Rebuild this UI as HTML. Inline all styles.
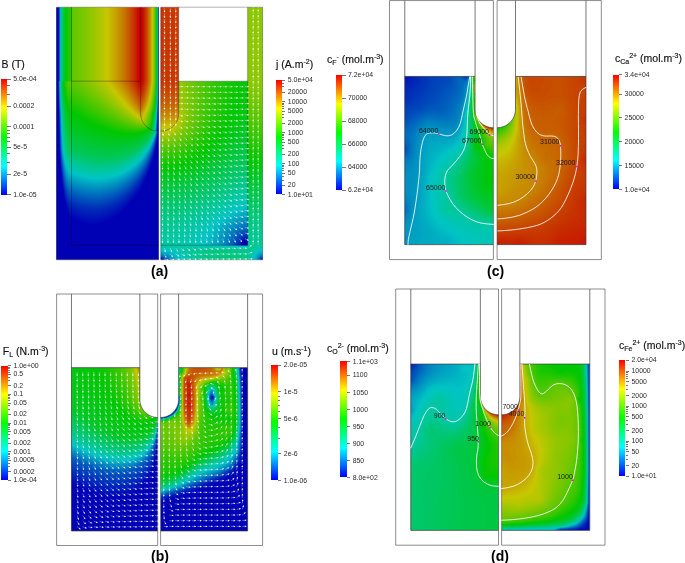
<!DOCTYPE html>
<html><head><meta charset="utf-8">
<style>
html,body{margin:0;padding:0;background:#fff;}
body{width:685px;height:563px;overflow:hidden;position:relative;font-family:"Liberation Sans",sans-serif;}
canvas{position:absolute;left:0;top:0;}
.t{position:absolute;white-space:nowrap;color:#2b2b2b;font-size:6.9px;line-height:1;}
.ti{position:absolute;white-space:nowrap;color:#111;font-size:10.5px;line-height:1;-webkit-text-stroke:0.15px #111;}
.ti sub{font-size:7px;vertical-align:-2px;}
.ti sup{font-size:7px;vertical-align:4px;}
.lab{position:absolute;font-weight:bold;font-size:14px;color:#000;line-height:1;}
.cb{position:absolute;background:linear-gradient(to bottom,#f00 0%,#ff0 25%,#0f0 50%,#0ff 75%,#00f 100%);}
.tk{position:absolute;height:0.9px;background:#777;}
</style></head><body>
<noscript><div style="position:absolute;left:0;top:0;width:685px;height:563px"><div style="position:absolute;left:0;top:0px;width:685px;height:9px;background:linear-gradient(to right,#ffffff 4px,#ffffff 49px,#d7e4eb 58px,#cdebcc 67px,#dcecca 76px,#e0ecca 85px,#e5ecca 94px,#eaecca 103px,#ece8ca 112px,#ece1ca 121px,#ecd7ca 130px,#ebccca 139px,#ecddca 148px,#dfe8d9 157px,#edd6cd 166px,#edd9d1 175px,#f6f6f6 184px,#f6f6f6 238px,#ebf0e0 247px,#e4eecd 256px,#f8faf4 265px,#ffffff 274px,#ffffff 382px,#eaeaea 391px,#e8e8e8 400px,#eeeeee 409px,#f2f2f2 418px,#f2f2f2 463px,#e4e4e4 472px,#f2f2f2 481px,#e8e8e8 490px,#e9e9e9 499px,#f2f2f2 508px,#e4e4e4 517px,#f2f2f2 526px,#f2f2f2 580px,#e4e4e4 589px,#e8e8e8 598px,#ffffff 607px,#ffffff 684px)"></div><div style="position:absolute;left:0;top:9px;width:685px;height:9px;background:linear-gradient(to right,#ffffff 4px,#ffffff 49px,#3f8cb5 58px,#12c00b 67px,#69c700 76px,#80c700 85px,#9bc700 94px,#bac600 103px,#c7af00 112px,#c78200 121px,#c74900 130px,#c00c00 139px,#c66c00 148px,#6fa74e 157px,#cd4e1e 166px,#cb5c31 175px,#ffffff 184px,#ffffff 238px,#c0dc7f 247px,#9acd1f 256px,#e3edcc 265px,#ffffff 274px,#ffffff 382px,#f2f2f2 391px,#f3f3f3 400px,#fbfbfb 409px,#ffffff 418px,#ffffff 463px,#efefef 472px,#ffffff 481px,#f2f2f2 490px,#f2f2f2 499px,#ffffff 508px,#efefef 517px,#ffffff 526px,#ffffff 580px,#efefef 589px,#f2f2f2 598px,#ffffff 607px,#ffffff 684px)"></div><div style="position:absolute;left:0;top:18px;width:685px;height:9px;background:linear-gradient(to right,#ffffff 4px,#ffffff 49px,#3f8cb5 58px,#12c00b 67px,#69c700 76px,#80c700 85px,#9bc700 94px,#bac600 103px,#c7af00 112px,#c78200 121px,#c74900 130px,#c00c00 139px,#c66c00 148px,#6fa74e 157px,#cb4816 166px,#ca582d 175px,#ffffff 184px,#ffffff 238px,#c0dc7f 247px,#97cc1a 256px,#e3edcc 265px,#ffffff 274px,#ffffff 382px,#f2f2f2 391px,#f3f3f3 400px,#fbfbfb 409px,#ffffff 418px,#ffffff 463px,#efefef 472px,#ffffff 481px,#f2f2f2 490px,#f2f2f2 499px,#ffffff 508px,#efefef 517px,#ffffff 526px,#ffffff 580px,#efefef 589px,#f2f2f2 598px,#ffffff 607px,#ffffff 684px)"></div><div style="position:absolute;left:0;top:27px;width:685px;height:9px;background:linear-gradient(to right,#ffffff 4px,#ffffff 49px,#3f8cb5 58px,#12c00b 67px,#69c700 76px,#80c700 85px,#9bc700 94px,#bac600 103px,#c7af00 112px,#c78200 121px,#c74900 130px,#c00c00 139px,#c66c00 148px,#6fa74e 157px,#cd4d1c 166px,#cb5b30 175px,#ffffff 184px,#ffffff 238px,#c0dc7f 247px,#98cd1c 256px,#e3edcc 265px,#ffffff 274px,#ffffff 382px,#f2f2f2 391px,#f3f3f3 400px,#fbfbfb 409px,#ffffff 418px,#ffffff 463px,#efefef 472px,#ffffff 481px,#f2f2f2 490px,#f2f2f2 499px,#ffffff 508px,#efefef 517px,#ffffff 526px,#ffffff 580px,#efefef 589px,#f2f2f2 598px,#ffffff 607px,#ffffff 684px)"></div><div style="position:absolute;left:0;top:36px;width:685px;height:9px;background:linear-gradient(to right,#ffffff 4px,#ffffff 49px,#3f8cb5 58px,#12c00b 67px,#69c700 76px,#80c700 85px,#9bc700 94px,#bac600 103px,#c7af00 112px,#c78200 121px,#c74900 130px,#c00c00 139px,#c66c00 148px,#6fa74e 157px,#cd4e1e 166px,#cb5c31 175px,#ffffff 184px,#ffffff 238px,#c0dc7f 247px,#99cd1e 256px,#e3edcc 265px,#ffffff 274px,#ffffff 382px,#f2f2f2 391px,#f3f3f3 400px,#fbfbfb 409px,#ffffff 418px,#ffffff 463px,#efefef 472px,#ffffff 481px,#f2f2f2 490px,#f2f2f2 499px,#ffffff 508px,#efefef 517px,#ffffff 526px,#ffffff 580px,#efefef 589px,#f2f2f2 598px,#ffffff 607px,#ffffff 684px)"></div><div style="position:absolute;left:0;top:45px;width:685px;height:9px;background:linear-gradient(to right,#ffffff 4px,#ffffff 49px,#3f8cb5 58px,#12c00b 67px,#69c700 76px,#80c700 85px,#9bc700 94px,#bac600 103px,#c7af00 112px,#c78200 121px,#c74900 130px,#c00c00 139px,#c66c00 148px,#6fa74e 157px,#cb4816 166px,#ca582d 175px,#ffffff 184px,#ffffff 238px,#c0dc7f 247px,#96cc17 256px,#e3edcc 265px,#ffffff 274px,#ffffff 382px,#f2f2f2 391px,#f3f3f3 400px,#fbfbfb 409px,#ffffff 418px,#ffffff 463px,#efefef 472px,#ffffff 481px,#f2f2f2 490px,#f2f2f2 499px,#ffffff 508px,#efefef 517px,#ffffff 526px,#ffffff 580px,#efefef 589px,#f2f2f2 598px,#ffffff 607px,#ffffff 616px,#fefefe 625px,#f7f7f7 634px,#ffffff 643px,#ffffff 661px,#fefefe 670px,#f9f9f9 679px,#ffffff 684px)"></div><div style="position:absolute;left:0;top:54px;width:685px;height:9px;background:linear-gradient(to right,#e6e6e6 4px,#ececec 13px,#e9e9e9 22px,#ffffff 31px,#ffffff 49px,#3f8cb5 58px,#12c00b 67px,#69c700 76px,#80c700 85px,#9bc700 94px,#bac600 103px,#c7af00 112px,#c78200 121px,#c74900 130px,#c00c00 139px,#c66c00 148px,#6fa74e 157px,#cd4d1c 166px,#cb5b30 175px,#ffffff 184px,#ffffff 238px,#c0dc7f 247px,#99cd1f 256px,#e3edcc 265px,#f8f8f8 274px,#eeeeee 283px,#f0f0f0 292px,#efefef 301px,#e6e6e6 310px,#ffffff 319px,#dcdcdc 328px,#ededed 337px,#bababa 346px,#c2c2c2 355px,#c9c9c9 364px,#cacaca 373px,#d7d7d7 382px,#f2f2f2 391px,#f3f3f3 400px,#fbfbfb 409px,#ffffff 418px,#ffffff 463px,#efefef 472px,#ffffff 481px,#f2f2f2 490px,#f2f2f2 499px,#ffffff 508px,#efefef 517px,#ffffff 526px,#ffffff 580px,#efefef 589px,#f2f2f2 598px,#ffffff 607px,#dbdbdb 616px,#dddddd 625px,#e6e6e6 634px,#c0c0c0 643px,#bfbfbf 652px,#c6c6c6 661px,#cfcfcf 670px,#d2d2d2 679px,#ffffff 684px)"></div><div style="position:absolute;left:0;top:63px;width:685px;height:9px;background:linear-gradient(to right,#d0d0d0 4px,#e3e3e3 13px,#dfdfdf 22px,#ffffff 31px,#ffffff 49px,#3f8cb5 58px,#12c00b 67px,#69c700 76px,#80c700 85px,#9bc700 94px,#bac600 103px,#c7af00 112px,#c78200 121px,#c74900 130px,#c00c00 139px,#c66c00 148px,#6fa74e 157px,#cd4e1e 166px,#cb5c31 175px,#ffffff 184px,#ffffff 238px,#c0dc7f 247px,#99cd1d 256px,#e3edcc 265px,#e7e7e7 274px,#d4d4d4 283px,#d3d3d3 292px,#dedede 301px,#e2e2e2 310px,#ffffff 319px,#fdfdfd 328px,#fbfbfb 337px,#f9f9f9 346px,#ffffff 355px,#ffffff 373px,#f9f9f9 382px,#f2f2f2 391px,#f3f3f3 400px,#fbfbfb 409px,#ffffff 418px,#ffffff 463px,#efefef 472px,#ffffff 481px,#f2f2f2 490px,#f2f2f2 499px,#ffffff 508px,#efefef 517px,#ffffff 526px,#ffffff 580px,#efefef 589px,#f2f2f2 598px,#ffffff 607px,#ffffff 616px,#f0f0f0 625px,#ffffff 634px,#fcfcfc 643px,#ffffff 652px,#ffffff 670px,#fcfcfc 679px,#ffffff 684px)"></div><div style="position:absolute;left:0;top:72px;width:685px;height:9px;background:linear-gradient(to right,#fbd7d5 4px,#e7e7e7 13px,#dddddd 22px,#dcdcdc 31px,#fefefe 40px,#ffffff 49px,#3f8cb5 58px,#12bf0b 67px,#68c400 76px,#7fc400 85px,#99c400 94px,#b8c400 103px,#c4ad00 112px,#c48100 121px,#c44900 130px,#be0c00 139px,#c66c00 148px,#6fa74e 157px,#cb4816 166px,#c9582c 175px,#fcfcfc 184px,#fcfcfc 238px,#bfdb7e 247px,#96cb16 256px,#e3edcc 265px,#fff5f5 274px,#f9f0f0 283px,#e4e4e4 292px,#e8e8e8 301px,#e6e6e6 310px,#ffffff 319px,#ffffff 328px,#ff998d 337px,#ededed 346px,#e2e2e2 355px,#e1e1e1 364px,#eeeeee 373px,#ffffff 382px,#f2f2f2 391px,#f1f1f3 400px,#7683cb 409px,#778bce 418px,#7792cf 427px,#7796cf 436px,#7799cf 445px,#77a1d0 454px,#77a2d0 463px,#b2d5bf 472px,#ffffff 481px,#f2f2f2 490px,#f2f2f2 499px,#ffffff 508px,#d7c8a7 517px,#d59d78 526px,#d59977 535px,#d59a77 544px,#d59b77 553px,#d59b77 562px,#d59877 571px,#d59377 580px,#ece8e6 589px,#f2f2f2 598px,#ffffff 607px,#fb968a 616px,#ebebeb 625px,#dedede 634px,#dfdfdf 643px,#f5f5f5 652px,#ffffff 661px,#ffffff 684px)"></div><div style="position:absolute;left:0;top:81px;width:685px;height:9px;background:linear-gradient(to right,#fb7751 4px,#fdfdfd 13px,#ffffff 22px,#ffffff 49px,#3f94a9 58px,#30bf02 67px,#5bc200 76px,#72c200 85px,#8bc200 94px,#a9c200 103px,#c0b600 112px,#c28d00 121px,#c25600 130px,#bd1b00 139px,#c47900 148px,#6aa651 157px,#cd531c 166px,#bb5911 175px,#90c716 184px,#70c612 193px,#5ac715 202px,#46c717 211px,#31c612 220px,#24c715 229px,#19c717 238px,#4ac10f 247px,#95cd20 256px,#e2edcc 265px,#ffbaaa 274px,#f8b3a3 283px,#eaeaea 292px,#f0f0f0 301px,#f8f8f8 310px,#ffffff 319px,#ffffff 328px,#ff9355 337px,#ffffff 346px,#ffffff 382px,#f2f2f2 391px,#efeff2 400px,#0125b5 409px,#002fb8 418px,#003bb9 427px,#0044ba 436px,#004cbb 445px,#005bbc 454px,#0777bf 463px,#81cf9c 472px,#ffffff 481px,#f2f2f2 490px,#f2f2f2 499px,#ffffff 508px,#cfaa5b 517px,#cb5d13 526px,#c74800 535px,#c74b00 544px,#c74e00 553px,#c74d00 562px,#c74600 571px,#c84607 580px,#ede4e0 589px,#f2f2f2 598px,#ffffff 607px,#ff9355 616px,#ffffff 625px,#ffffff 684px)"></div><div style="position:absolute;left:0;top:90px;width:685px;height:9px;background:linear-gradient(to right,#fbac51 4px,#fdfdfd 13px,#ffffff 22px,#ffffff 49px,#3f90b0 58px,#1dc006 67px,#44c700 76px,#5ac700 85px,#74c700 94px,#91c700 103px,#b2c600 112px,#c6b000 121px,#c77a00 130px,#c03c00 139px,#bd9500 148px,#5fa657 157px,#cd631e 166px,#bc6712 175px,#98cd1f 184px,#76cc17 193px,#5fcd1c 202px,#4dcd1f 211px,#33cb15 220px,#2acd1c 229px,#21cd20 238px,#49c616 247px,#8acd1d 256px,#e0edcc 265px,#ffd5aa 274px,#f9d0a4 283px,#e0e0e0 292px,#e1e1e1 301px,#f9f9f9 310px,#ffffff 319px,#ffffff 328px,#ffc855 337px,#efefef 346px,#e2e2e2 355px,#e5e5e5 364px,#ffffff 373px,#ffffff 382px,#f2f2f2 391px,#eff0f2 400px,#012eb6 409px,#0037b9 418px,#0041ba 427px,#004abb 436px,#0055bb 445px,#0062bc 454px,#178ac4 463px,#6ace92 472px,#ffffff 481px,#f2f2f2 490px,#f2f2f2 499px,#ffffff 508px,#cead56 517px,#cc6816 526px,#c74c00 535px,#c74d00 544px,#c75000 553px,#c74e00 562px,#c74700 571px,#cc5316 580px,#ebe2dd 589px,#f2f2f2 598px,#ffffff 607px,#fbc551 616px,#e4e4e4 625px,#d6d6d6 634px,#e9e9e9 643px,#ffffff 652px,#ffffff 684px)"></div><div style="position:absolute;left:0;top:99px;width:685px;height:9px;background:linear-gradient(to right,#fbe151 4px,#e9e9e9 13px,#dadada 22px,#dfdfdf 31px,#ffffff 40px,#ffffff 49px,#3f89b7 58px,#0bc00f 67px,#27c700 76px,#3dc700 85px,#55c700 94px,#70c700 103px,#8fc700 112px,#b4c500 121px,#c6a300 130px,#c06500 139px,#adb000 148px,#54a561 157px,#cb6f16 166px,#bb730c 175px,#95ca0f 184px,#70c90c 193px,#55ca0e 202px,#3fca10 211px,#27c90b 220px,#1aca0f 229px,#10ca12 238px,#3bc30e 247px,#7bcc17 256px,#deedcc 265px,#fff0aa 274px,#efe19a 283px,#d9d9d9 292px,#d8d8d8 301px,#f9f9f9 310px,#ffffff 319px,#ffffff 328px,#f9f755 337px,#fdfdfd 346px,#f6f6f6 355px,#f6f6f6 364px,#ffffff 373px,#ffffff 382px,#f2f2f2 391px,#eff0f2 400px,#0138b7 409px,#0040ba 418px,#004abb 427px,#0052bb 436px,#005cbc 445px,#006bbd 454px,#179dc5 463px,#64d087 472px,#ffffff 481px,#f2f2f2 490px,#f2f2f2 499px,#ffffff 508px,#cdba57 517px,#cc7116 526px,#c75400 535px,#c75200 544px,#c75400 553px,#c75300 562px,#c74900 571px,#cc5216 580px,#ebe2dd 589px,#f2f2f2 598px,#ffffff 607px,#f8f855 616px,#ffffff 625px,#ffffff 684px)"></div><div style="position:absolute;left:0;top:108px;width:685px;height:9px;background:linear-gradient(to right,#e4ff55 4px,#ffffff 13px,#ffffff 49px,#3f82bd 58px,#00c020 67px,#09c700 76px,#1dc700 85px,#33c700 94px,#4bc700 103px,#66c700 112px,#87c700 121px,#b0c400 130px,#bf9f00 139px,#84c400 148px,#4ca273 157px,#cd8d1c 166px,#bf8d11 175px,#a1cd1e 184px,#76cc17 193px,#5bcd1b 202px,#47cd1f 211px,#2bcb15 220px,#22cd1d 229px,#1fcd26 238px,#3cc61a 247px,#73cd1f 256px,#dcedcc 265px,#f3ffaa 274px,#e7f39e 283px,#d3d3d3 292px,#e4e4e4 301px,#ffffff 310px,#ffffff 328px,#cbff55 337px,#ffffff 346px,#ffffff 382px,#f2f2f2 391px,#eff0f2 400px,#0147b8 409px,#0051bb 418px,#005dbc 427px,#0061bc 436px,#0066bd 445px,#0073be 454px,#23b0c7 463px,#50cd76 472px,#fefefe 481px,#f2f2f2 490px,#f2f2f2 499px,#ffffff 508px,#c5bc44 517px,#cd7b1c 526px,#c75b00 535px,#c75800 544px,#c75900 553px,#c75700 562px,#c74b00 571px,#cc5016 580px,#ebe1dd 589px,#f2f2f2 598px,#ffffff 607px,#c9ff55 616px,#f4f4f4 625px,#eeeeee 634px,#f6f6f6 643px,#ffffff 652px,#ffffff 684px)"></div><div style="position:absolute;left:0;top:117px;width:685px;height:9px;background:linear-gradient(to right,#afff55 4px,#f8f8f8 13px,#f1f1f1 22px,#f3f3f3 31px,#ffffff 40px,#ffffff 49px,#3f7dc0 58px,#00c033 67px,#00c70e 76px,#02c704 85px,#0ec700 94px,#22c700 103px,#38c700 112px,#50c700 121px,#6ec700 130px,#8ec100 139px,#4ec502 148px,#4b9e86 157px,#cdb11e 166px,#bfb111 175px,#95ca0f 184px,#68c90c 193px,#49c90d 202px,#33ca10 211px,#1ac90b 220px,#11ca13 229px,#13cb23 238px,#30c418 247px,#61cc1a 256px,#d9edcc 265px,#d8ffaa 274px,#cff6a1 283px,#d7d7d7 292px,#e4e4e4 301px,#ffffff 310px,#ffffff 328px,#96ff55 337px,#e8e8e8 346px,#d5d5d5 355px,#dddddd 364px,#ffffff 373px,#ffffff 382px,#f2f2f2 391px,#eff0f2 400px,#0158b9 409px,#006bbd 418px,#007cbe 427px,#007cbe 436px,#007abe 445px,#0081bf 454px,#2dbec8 463px,#1fcb58 472px,#cce1b1 481px,#f2f2f2 490px,#f2f2f2 499px,#cae2ad 508px,#b9b404 517px,#ce8121 526px,#c96509 535px,#c75c00 544px,#c75b00 553px,#c75600 562px,#c74c00 571px,#cc4f17 580px,#ebe1dd 589px,#f2f2f2 598px,#ffffff 607px,#90fb51 616px,#f1f1f1 625px,#e5e5e5 634px,#f1f1f1 643px,#ffffff 652px,#ffffff 684px)"></div><div style="position:absolute;left:0;top:126px;width:685px;height:9px;background:linear-gradient(to right,#71f44a 4px,#ececec 13px,#e8e8e8 22px,#ededed 31px,#ffffff 40px,#ffffff 49px,#3f77c3 58px,#00c047 67px,#00c722 76px,#00c718 85px,#00c70e 94px,#02c706 103px,#09c702 112px,#14c700 121px,#1ec700 130px,#21c702 139px,#0bc118 148px,#489691 157px,#bbc71e 166px,#a6c70a 175px,#84cd1b 184px,#60cc17 193px,#44cc17 202px,#35cd1e 211px,#1acb16 220px,#1bcd27 229px,#1bcd34 238px,#2bc520 247px,#53cd1c 256px,#d6edcc 265px,#bdffaa 274px,#b5f6a1 283px,#d9d9d9 292px,#e4e4e4 301px,#ffffff 310px,#ffffff 328px,#62ff56 337px,#ffffff 346px,#ffffff 382px,#f2f2f2 391px,#eff1f2 400px,#016bba 409px,#0276b0 418px,#1282a5 427px,#1b86b1 436px,#0491c1 445px,#179ec6 454px,#18c2c0 463px,#06aa4c 472px,#51a821 481px,#b69b50 490px,#73c54d 499px,#78c600 508px,#c1b200 517px,#cc8216 526px,#cc7217 535px,#c76202 544px,#c75f00 553px,#c75800 562px,#c74c00 571px,#cc5117 580px,#ebe1dd 589px,#f2f2f2 598px,#ffffff 607px,#60ff57 616px,#ffffff 625px,#ffffff 684px)"></div><div style="position:absolute;left:0;top:135px;width:685px;height:9px;background:linear-gradient(to right,#4ff85e 4px,#fbfbfb 13px,#ffffff 22px,#ffffff 49px,#3f70c4 58px,#00bf5b 67px,#00c738 76px,#00c72e 85px,#00c726 94px,#00c71f 103px,#00c71a 112px,#00c718 121px,#00c71c 130px,#00c72b 139px,#00c569 148px,#437aa2 157px,#8fcb16 166px,#79c90d 175px,#5fca0e 184px,#45ca0f 193px,#2bc90d 202px,#1ccb12 211px,#10ca18 220px,#17cc2e 229px,#1ecd41 238px,#26c628 247px,#46cd1e 256px,#d3edcc 265px,#aaffb2 274px,#9befa3 283px,#d3d3d3 292px,#f5f5f5 301px,#ffffff 310px,#ffffff 328px,#55ff7e 337px,#f5f5f5 346px,#e7e7e7 355px,#ebebeb 364px,#ffffff 373px,#ffffff 382px,#f2f2f2 391px,#eff1f2 400px,#0170bb 409px,#088fc2 418px,#0da5c4 427px,#00a3c1 436px,#11aac5 445px,#03afc3 454px,#17b5a8 463px,#04a947 472px,#2bb91c 481px,#7dc532 490px,#9ac937 499px,#acc600 508px,#c6ac00 517px,#cc8916 526px,#c76c00 535px,#ae6518 544px,#ae651b 553px,#c4620c 562px,#c74d00 571px,#cc5117 580px,#ebe2dd 589px,#f2f2f2 598px,#ffffff 607px,#51fb7e 616px,#e6e6e6 625px,#d6d6d6 634px,#e9e9e9 643px,#ffffff 652px,#ffffff 684px)"></div><div style="position:absolute;left:0;top:144px;width:685px;height:9px;background:linear-gradient(to right,#51fb95 4px,#e4e4e4 13px,#dfdfdf 22px,#ffffff 31px,#ffffff 49px,#3f67c4 58px,#00bf72 67px,#00c74f 76px,#00c746 85px,#00c73f 94px,#00c73a 103px,#00c739 112px,#00c73c 121px,#00c746 130px,#00c667 139px,#00a8b0 148px,#3c56a1 157px,#66cd1d 166px,#55cb14 175px,#46cc17 184px,#34cc18 193px,#1cca11 202px,#1acc21 211px,#0fca27 220px,#14cb3a 229px,#10ca43 238px,#14c327 247px,#2fcc17 256px,#d0edcc 265px,#aaffcc 274px,#a3f8c5 283px,#eeeeee 292px,#fafafa 301px,#ffffff 310px,#ffffff 328px,#55ffb3 337px,#f1f1f1 346px,#ededed 355px,#f0f0f0 364px,#ffffff 373px,#ffffff 382px,#f2f2f2 391px,#eff0f2 400px,#016aba 409px,#169ac5 418px,#00a6c1 427px,#00afc2 436px,#00b7c3 445px,#00c1bf 454px,#16cba9 463px,#00c740 472px,#1cc71f 481px,#50c62a 490px,#bcc937 499px,#c3c200 508px,#c7a500 517px,#cc9116 526px,#c77500 535px,#c76c00 544px,#c76800 553px,#cc681a 562px,#c74f00 571px,#cc5017 580px,#ebe1dd 589px,#f2f2f2 598px,#ffffff 607px,#55ffb7 616px,#ffffff 625px,#ffffff 684px)"></div><div style="position:absolute;left:0;top:153px;width:685px;height:9px;background:linear-gradient(to right,#51fbc9 4px,#fdfdfd 13px,#ffffff 22px,#ffffff 49px,#3f5ac3 58px,#00bb94 67px,#00c773 76px,#00c764 85px,#00c75c 94px,#00c758 103px,#00c75a 112px,#00c764 121px,#00c67e 130px,#00bfac 139px,#0062bc 148px,#374ba0 157px,#3acb15 166px,#30ca11 175px,#21ca0e 184px,#1bcb17 193px,#0ec918 202px,#19cc32 211px,#14cb3c 220px,#1acc4e 229px,#1ecd5d 238px,#14c537 247px,#24cd1f 256px,#cdedcc 265px,#aaffe7 274px,#a4f9e2 283px,#dfdfdf 292px,#f6f6f6 301px,#ffffff 310px,#ffffff 328px,#55fee8 337px,#ffffff 346px,#ffffff 382px,#f2f2f2 391px,#eff1f2 400px,#0178bb 409px,#169ec6 418px,#00aac2 427px,#00bac3 436px,#00c3bd 445px,#0bc8b0 454px,#0ac988 463px,#00c747 472px,#00c718 481px,#41cb40 490px,#c8c337 499px,#c7b300 508px,#c7a000 517px,#c9910b 526px,#c9830b 535px,#c77000 544px,#c46800 553px,#be6817 562px,#bb4c01 571px,#cc4b17 580px,#ebe1dd 589px,#f2f2f2 598px,#ffffff 607px,#55feec 616px,#ffffff 625px,#ffffff 684px)"></div><div style="position:absolute;left:0;top:162px;width:685px;height:9px;background:linear-gradient(to right,#51f3f6 4px,#fdfdfd 13px,#ffffff 22px,#ffffff 49px,#3f4dc2 58px,#00adb0 67px,#00c69f 76px,#00c691 85px,#00c789 94px,#00c787 103px,#00c68d 112px,#00c69d 121px,#00bfb6 130px,#008ebf 139px,#0026b8 148px,#334ba0 157px,#21cc1c 166px,#1acb19 175px,#14cb1c 184px,#18cc2b 193px,#0bc92c 202px,#12cb40 211px,#0cc948 220px,#0eca57 229px,#10ca64 238px,#0bc440 247px,#1dcd29 256px,#ccedce 265px,#aafafd 274px,#97e7ea 283px,#d8d8d8 292px,#f7f7f7 301px,#ffffff 310px,#ffffff 328px,#55dfff 337px,#e8e8e8 346px,#d9d9d9 355px,#dddddd 364px,#ffffff 373px,#ffffff 382px,#f2f2f2 391px,#eff1f2 400px,#0188bd 409px,#16a1c6 418px,#00aec2 427px,#00c2bf 436px,#07c7af 445px,#0eca98 454px,#00c769 463px,#00c73a 472px,#00c71a 481px,#2ac632 490px,#c9b737 499px,#c7a600 508px,#c79a00 517px,#c78e00 526px,#cb8f16 535px,#c77900 544px,#c36b00 553px,#b86418 562px,#b64903 571px,#cc461a 580px,#ebe1dd 589px,#f2f2f2 598px,#ffffff 607px,#51d7fb 616px,#e8e8e8 625px,#d4d4d4 634px,#e9e9e9 643px,#ffffff 652px,#ffffff 684px)"></div><div style="position:absolute;left:0;top:171px;width:685px;height:9px;background:linear-gradient(to right,#51c3fb 4px,#e7e7e7 13px,#dfdfdf 22px,#ffffff 31px,#ffffff 49px,#3f44c1 58px,#008cb9 67px,#00bac0 76px,#00c1ba 85px,#00c3b6 94px,#00c3b6 103px,#00bfbb 112px,#00b1c0 121px,#008dc0 130px,#004fbb 139px,#0007b5 148px,#324ba3 157px,#1bcc31 166px,#19cc33 175px,#13cb35 184px,#1ecd47 193px,#10ca46 202px,#1ccd5b 211px,#15cb62 220px,#1acc71 229px,#1dcd7e 238px,#0fc556 247px,#16cb36 256px,#ccedd2 265px,#aae1ff 274px,#a1d8f6 283px,#e3e3e3 292px,#ffffff 301px,#ffffff 328px,#55aaff 337px,#ffffff 346px,#ffffff 382px,#f2f2f2 391px,#eff1f2 400px,#018ebd 409px,#17a3c6 418px,#00b5c2 427px,#00c4b7 436px,#17cba7 445px,#00c77f 454px,#00c757 463px,#00c731 472px,#00c717 481px,#2ac62e 490px,#c9af37 499px,#c79e00 508px,#b08503 517px,#a77804 526px,#be8718 535px,#c77a00 544px,#c87007 553px,#ca640e 562px,#cb5815 571px,#c73d01 580px,#ebe1dd 589px,#f2f2f2 598px,#ffffff 607px,#55a5ff 616px,#ffffff 625px,#ffffff 684px)"></div><div style="position:absolute;left:0;top:180px;width:685px;height:9px;background:linear-gradient(to right,#5592ff 4px,#ffffff 13px,#ffffff 49px,#3f3fc1 58px,#0060b6 67px,#008ec0 76px,#009bc1 85px,#00a1c1 94px,#009fc1 103px,#0093c0 112px,#007cbe 121px,#0055bb 130px,#001db7 139px,#0000b5 148px,#324ba6 157px,#16cb46 166px,#14cb47 175px,#0dc948 184px,#14cb55 193px,#0bc959 202px,#0fca67 211px,#0dc972 220px,#11ca80 229px,#1bcc90 238px,#12c66b 247px,#20cd50 256px,#ccedd5 265px,#aac6ff 274px,#a1bdf6 283px,#dedede 292px,#ffffff 301px,#ffffff 328px,#5575ff 337px,#f7f7f7 346px,#f5f5f5 355px,#f4f4f4 364px,#f9f9f9 373px,#ffffff 382px,#f2f2f2 391px,#eff1f2 400px,#0190bd 409px,#16a4c6 418px,#02a8b2 427px,#03ac9e 436px,#16bf9b 445px,#00c77a 454px,#00c756 463px,#00c734 472px,#00c71b 481px,#2ac631 490px,#c9ac37 499px,#c79900 508px,#c79100 517px,#c78b00 526px,#cc871b 535px,#c77400 544px,#cc7317 553px,#c75400 562px,#cb5416 571px,#c73a00 580px,#ebe1dd 589px,#f2f2f2 598px,#ffffff 607px,#556fff 616px,#fafafa 625px,#f4f4f4 634px,#f3f3f3 643px,#fbfbfb 652px,#ffffff 661px,#ffffff 684px)"></div><div style="position:absolute;left:0;top:189px;width:685px;height:9px;background:linear-gradient(to right,#8a96fb 4px,#ededed 13px,#dddddd 22px,#d9d9d9 31px,#fdfdfd 40px,#ffffff 49px,#3f3fc1 58px,#0038b3 67px,#0062bc 76px,#006ebd 85px,#0072be 94px,#006fbd 103px,#0062bc 112px,#004aba 121px,#0026b8 130px,#0003b5 139px,#0000b5 148px,#324baa 157px,#1dcd62 166px,#1bcd63 175px,#12cb62 184px,#1dcd71 193px,#0fca72 202px,#1ccd83 211px,#11ca89 220px,#16cb98 229px,#14cba2 238px,#09c279 247px,#1dcd5f 256px,#ccedd8 265px,#cfd3ff 274px,#cacef9 283px,#dfdfdf 292px,#e3e3e3 301px,#e4e4e4 310px,#ffffff 319px,#ffffff 328px,#ececff 337px,#efefef 346px,#e9e9e9 355px,#ebebeb 364px,#f4f4f4 373px,#ffffff 382px,#f2f2f2 391px,#eff1f2 400px,#018ebd 409px,#17a7c6 418px,#00b1bd 427px,#01bdaf 436px,#1bc1a9 445px,#00c782 454px,#00c75c 463px,#00c73e 472px,#00c726 481px,#2ac63d 490px,#c9a737 499px,#c79200 508px,#c78c01 517px,#cc8f16 526px,#c77a01 535px,#c97109 544px,#c9640c 553px,#c74e02 562px,#cb4d14 571px,#c73300 580px,#ebe1dd 589px,#f2f2f2 598px,#ffffff 607px,#fbfbfb 616px,#f4f4f4 625px,#e7e7e7 634px,#eaeaea 643px,#f9f9f9 652px,#ffffff 661px,#ffffff 684px)"></div><div style="position:absolute;left:0;top:198px;width:685px;height:9px;background:linear-gradient(to right,#ffffff 4px,#ffffff 49px,#3f3fc1 58px,#0018b0 67px,#0039b9 76px,#0044ba 85px,#0048ba 94px,#0043ba 103px,#0036b9 112px,#0021b7 121px,#0006b5 130px,#0000b5 139px,#0000b5 148px,#324bad 157px,#14cb71 166px,#14cb74 175px,#0bc974 184px,#15cb80 193px,#0cc985 202px,#13cb93 211px,#11ca9f 220px,#16cbad 229px,#1fccbb 238px,#11c491 247px,#17cc6d 256px,#cceddc 265px,#ffffff 274px,#ffffff 382px,#f2f2f2 391px,#eff1f2 400px,#0188bc 409px,#16aac7 418px,#00b8c3 427px,#00c4b7 436px,#03c7a3 445px,#13cb9b 454px,#00c76f 463px,#00c754 472px,#00c73c 481px,#2ac649 490px,#cda347 499px,#cc9116 508px,#cb8b15 517px,#c77700 526px,#c97109 535px,#ca680f 544px,#c75200 553px,#cc5516 562px,#c73900 571px,#c72d00 580px,#ebe0dd 589px,#f2f2f2 598px,#ffffff 607px,#ffffff 684px)"></div><div style="position:absolute;left:0;top:207px;width:685px;height:9px;background:linear-gradient(to right,#ffffff 4px,#ffffff 49px,#3f3fc1 58px,#0006af 67px,#0019b7 76px,#0022b7 85px,#0025b8 94px,#0020b7 103px,#0015b6 112px,#0005b5 121px,#0000b5 130px,#0000b5 148px,#324bb0 157px,#1bcc87 166px,#1acc89 175px,#10ca89 184px,#1bcd96 193px,#0eca9a 202px,#17cba9 211px,#0fc9b3 220px,#0fc6c0 229px,#10bec6 238px,#0bb99a 247px,#1fcd82 256px,#cceddf 265px,#ffffff 274px,#ffffff 382px,#f2f2f2 391px,#eff1f2 400px,#0788be 409px,#11aac5 418px,#00b7c2 427px,#00c4bb 436px,#00c6a4 445px,#09c8a3 454px,#10ca9a 463px,#00c77b 472px,#00c762 481px,#2ac661 490px,#c98d37 499px,#c77300 508px,#c9750c 517px,#cc7317 526px,#c9640d 535px,#c75200 544px,#c9500b 553px,#c9450b 562px,#c73400 571px,#c72d00 580px,#ebe0dd 589px,#f2f2f2 598px,#ffffff 607px,#ffffff 684px)"></div><div style="position:absolute;left:0;top:216px;width:685px;height:9px;background:linear-gradient(to right,#ffffff 4px,#ffffff 49px,#3f3fc1 58px,#0000ae 67px,#0003b5 76px,#0009b5 85px,#000bb6 94px,#0007b5 103px,#0001b5 112px,#0000b5 121px,#0000b5 148px,#334bb2 157px,#1bcd96 166px,#1ccd99 175px,#0fca99 184px,#1dcda7 193px,#12caad 202px,#19cabb 211px,#18c6c6 220px,#14b5c7 229px,#1ea6c8 238px,#10aaa2 247px,#1acc8c 256px,#ccede1 265px,#ffffff 274px,#ffffff 382px,#f2f2f2 391px,#eff1f2 400px,#179bc3 409px,#00a3c1 418px,#00b1c2 427px,#00c0c2 436px,#00c4b7 445px,#00c5af 454px,#06c7ab 463px,#16cba7 472px,#17cc9a 481px,#3dcb9c 490px,#cd8647 499px,#cc6a17 508px,#c95e0a 517px,#c75200 526px,#c84f04 535px,#cc5517 544px,#c9450b 553px,#c73500 562px,#c72e00 571px,#c72900 580px,#ebe0dd 589px,#f2f2f2 598px,#ffffff 607px,#ffffff 684px)"></div><div style="position:absolute;left:0;top:225px;width:685px;height:9px;background:linear-gradient(to right,#ffffff 4px,#ffffff 49px,#3f3fc1 58px,#0000ae 67px,#0000b5 76px,#0000b5 148px,#324bb3 157px,#16cb9f 166px,#18cca3 175px,#0cc9a4 184px,#16cab0 193px,#0fc8b9 202px,#11c4c5 211px,#11b1c6 220px,#0a95c2 229px,#117bc2 238px,#0f94a5 247px,#1ccd97 256px,#ccede3 265px,#ffffff 274px,#ffffff 382px,#f2f2f2 391px,#eff1f2 400px,#18a0c3 409px,#00a2c1 418px,#00aac2 427px,#00b5c2 436px,#00bfc2 445px,#00c4bd 454px,#00c5b6 463px,#00c5b0 472px,#00c5ac 481px,#2ac5b1 490px,#cd7647 499px,#cc5516 508px,#cc5317 517px,#cc5017 526px,#cb4a12 535px,#c73800 544px,#c73200 553px,#c72b00 562px,#c72600 571px,#c72300 580px,#ebe0dd 589px,#f2f2f2 598px,#ffffff 607px,#ffffff 684px)"></div><div style="position:absolute;left:0;top:234px;width:685px;height:9px;background:linear-gradient(to right,#ffffff 4px,#ffffff 49px,#3f3fc1 58px,#0000ae 67px,#0000b5 76px,#0000b5 148px,#334bb4 157px,#1dcda9 166px,#1ecdac 175px,#0fc9ad 184px,#1fccbb 193px,#19cac4 202px,#15bbc7 211px,#1da6c8 220px,#0f7ec2 229px,#1c57c1 238px,#0a71a4 247px,#1ecd9f 256px,#ccede4 265px,#ffffff 274px,#ffffff 382px,#f2f2f2 391px,#eff1f2 400px,#18a2c3 409px,#00a4c1 418px,#00a9c2 427px,#00aec2 436px,#00b3c2 445px,#00bcc3 454px,#00c3bf 463px,#00c4b9 472px,#00c5b5 481px,#2ac4b7 490px,#c95637 499px,#c72d00 508px,#c72a00 517px,#c72d00 526px,#c73200 535px,#c73000 544px,#c72800 553px,#c72100 562px,#c72000 571px,#c71b00 580px,#ebdfdd 589px,#f2f2f2 598px,#ffffff 607px,#ffffff 684px)"></div><div style="position:absolute;left:0;top:243px;width:685px;height:9px;background:linear-gradient(to right,#ffffff 4px,#ffffff 49px,#3f3fc1 58px,#0000b3 67px,#0000ae 76px,#0000ae 148px,#3049b1 157px,#0bc1ad 166px,#0cc2aa 175px,#0ac1a6 184px,#0cc2a4 193px,#0ec2a5 202px,#0abda2 211px,#0fb7a3 220px,#0aaca2 229px,#0e9ca5 238px,#0fab9d 247px,#03c6a4 256px,#ccece8 265px,#ffffff 274px,#ffffff 382px,#f2f2f2 391px,#fbfcfc 400px,#d0e4e8 409px,#cce3e7 418px,#cce3e7 427px,#cce4e7 436px,#cce4e7 445px,#cce5e7 454px,#cce7e7 463px,#cce7e6 472px,#cce7e5 481px,#cadfde 490px,#e1d0cc 499px,#e8d1cc 508px,#e8d0cc 517px,#e8d1cc 526px,#e8d2cc 535px,#e8d2cc 544px,#e8d1cc 553px,#e8d0cc 562px,#e8d0cc 571px,#e8cfcc 580px,#faf8f8 589px,#f2f2f2 598px,#ffffff 607px,#ffffff 684px)"></div><div style="position:absolute;left:0;top:252px;width:685px;height:9px;background:linear-gradient(to right,#ffffff 4px,#ffffff 49px,#5757c4 58px,#2121b8 67px,#2121b8 148px,#4b57bc 157px,#2f9bc6 166px,#3bc4ca 175px,#34ccba 184px,#3bcead 193px,#3ccfa3 202px,#36cd9a 211px,#3dcf9a 220px,#36cd96 229px,#3dcf9c 238px,#3ecfa8 247px,#22b0c0 256px,#d2e1ed 265px,#ffffff 274px,#ffffff 382px,#ebebeb 391px,#f2f2f2 400px,#f2f2f2 481px,#eaeaea 490px,#ebebeb 499px,#f2f2f2 508px,#f2f2f2 589px,#eaeaea 598px,#ffffff 607px,#ffffff 684px)"></div><div style="position:absolute;left:0;top:261px;width:685px;height:9px;background:linear-gradient(to right,#ffffff 4px,#ffffff 139px,#f7f7f7 148px,#d1d1d1 157px,#e0e0e0 166px,#ffffff 175px,#ffffff 481px,#d8d8d8 490px,#d0d0d0 499px,#ffffff 508px,#ffffff 684px)"></div><div style="position:absolute;left:0;top:270px;width:685px;height:9px;background:linear-gradient(to right,#ffffff 4px,#ffffff 139px,#e7e7e7 148px,#9c9c9c 157px,#bbbbbb 166px,#ffffff 175px,#ffffff 481px,#a6a6a6 490px,#afafaf 499px,#ffffff 508px,#ffffff 684px)"></div><div style="position:absolute;left:0;top:279px;width:685px;height:9px;background:linear-gradient(to right,#ffffff 4px,#ffffff 684px)"></div><div style="position:absolute;left:0;top:288px;width:685px;height:9px;background:linear-gradient(to right,#ffffff 4px,#ffffff 49px,#f2f2f2 58px,#ededed 67px,#f2f2f2 76px,#f2f2f2 130px,#ededed 139px,#f2f2f2 148px,#eeeeee 157px,#f2f2f2 166px,#ededed 175px,#f2f2f2 184px,#f2f2f2 238px,#ededed 247px,#f2f2f2 256px,#f8f8f8 265px,#ffffff 274px,#ffffff 382px,#f5f5f5 391px,#f0f0f0 400px,#e5e5e5 409px,#f2f2f2 418px,#f2f2f2 472px,#e5e5e5 481px,#f2f2f2 490px,#e0e0e0 499px,#f2f2f2 508px,#e5e5e5 517px,#f2f2f2 526px,#f2f2f2 580px,#e5e5e5 589px,#f2f2f2 598px,#f1f1f1 607px,#ffffff 616px,#ffffff 684px)"></div><div style="position:absolute;left:0;top:297px;width:685px;height:9px;background:linear-gradient(to right,#ffffff 4px,#ffffff 49px,#f2f2f2 58px,#efefef 67px,#ffffff 76px,#ffffff 130px,#efefef 139px,#ffffff 148px,#e5e5e5 157px,#ffffff 166px,#efefef 175px,#ffffff 184px,#ffffff 238px,#efefef 247px,#ffffff 256px,#f2f2f2 265px,#ffffff 274px,#ffffff 382px,#f4f4f4 391px,#fcfcfc 400px,#efefef 409px,#ffffff 418px,#ffffff 472px,#efefef 481px,#ffffff 490px,#e5e5e5 499px,#ffffff 508px,#efefef 517px,#ffffff 526px,#ffffff 580px,#efefef 589px,#ffffff 598px,#f2f2f2 607px,#ffffff 616px,#ffffff 684px)"></div><div style="position:absolute;left:0;top:306px;width:685px;height:9px;background:linear-gradient(to right,#ffffff 4px,#ffffff 49px,#f2f2f2 58px,#efefef 67px,#ffffff 76px,#ffffff 130px,#efefef 139px,#ffffff 148px,#e5e5e5 157px,#ffffff 166px,#efefef 175px,#ffffff 184px,#ffffff 238px,#efefef 247px,#ffffff 256px,#f2f2f2 265px,#ffffff 274px,#ffffff 382px,#f4f4f4 391px,#fcfcfc 400px,#efefef 409px,#ffffff 418px,#ffffff 472px,#efefef 481px,#ffffff 490px,#e5e5e5 499px,#ffffff 508px,#efefef 517px,#ffffff 526px,#ffffff 580px,#efefef 589px,#ffffff 598px,#f2f2f2 607px,#ffffff 616px,#ffffff 684px)"></div><div style="position:absolute;left:0;top:315px;width:685px;height:9px;background:linear-gradient(to right,#ffffff 4px,#ffffff 49px,#f2f2f2 58px,#efefef 67px,#ffffff 76px,#ffffff 130px,#efefef 139px,#ffffff 148px,#e5e5e5 157px,#ffffff 166px,#efefef 175px,#ffffff 184px,#ffffff 238px,#efefef 247px,#ffffff 256px,#f2f2f2 265px,#ffffff 274px,#ffffff 382px,#f4f4f4 391px,#fcfcfc 400px,#efefef 409px,#ffffff 418px,#ffffff 472px,#efefef 481px,#ffffff 490px,#e5e5e5 499px,#ffffff 508px,#efefef 517px,#ffffff 526px,#ffffff 580px,#efefef 589px,#ffffff 598px,#f2f2f2 607px,#ffffff 616px,#ffffff 684px)"></div><div style="position:absolute;left:0;top:324px;width:685px;height:9px;background:linear-gradient(to right,#ffffff 4px,#ffffff 49px,#f2f2f2 58px,#efefef 67px,#ffffff 76px,#ffffff 130px,#efefef 139px,#ffffff 148px,#e5e5e5 157px,#ffffff 166px,#efefef 175px,#ffffff 184px,#ffffff 238px,#efefef 247px,#ffffff 256px,#f2f2f2 265px,#ffffff 274px,#ffffff 382px,#f4f4f4 391px,#fcfcfc 400px,#efefef 409px,#ffffff 418px,#ffffff 472px,#efefef 481px,#ffffff 490px,#e5e5e5 499px,#ffffff 508px,#efefef 517px,#ffffff 526px,#ffffff 580px,#efefef 589px,#ffffff 598px,#f2f2f2 607px,#ffffff 616px,#ffffff 684px)"></div><div style="position:absolute;left:0;top:333px;width:685px;height:9px;background:linear-gradient(to right,#ffffff 4px,#ffffff 49px,#f2f2f2 58px,#efefef 67px,#ffffff 76px,#ffffff 130px,#efefef 139px,#ffffff 148px,#e5e5e5 157px,#ffffff 166px,#efefef 175px,#ffffff 184px,#ffffff 238px,#efefef 247px,#ffffff 256px,#f2f2f2 265px,#ffffff 274px,#ffffff 382px,#f4f4f4 391px,#fcfcfc 400px,#efefef 409px,#ffffff 418px,#ffffff 472px,#efefef 481px,#ffffff 490px,#e5e5e5 499px,#ffffff 508px,#efefef 517px,#ffffff 526px,#ffffff 580px,#efefef 589px,#ffffff 598px,#f2f2f2 607px,#ffffff 616px,#ffffff 625px,#f2f2f2 634px,#fbfbfb 643px,#ffffff 652px,#fbfbfb 661px,#ffffff 670px,#f2f2f2 679px,#ffffff 684px)"></div><div style="position:absolute;left:0;top:342px;width:685px;height:9px;background:linear-gradient(to right,#e7e7e7 4px,#f7f7f7 13px,#d7d7d7 22px,#eaeaea 31px,#dddddd 40px,#f2f2f2 49px,#f2f2f2 58px,#efefef 67px,#ffffff 76px,#ffffff 130px,#efefef 139px,#ffffff 148px,#e5e5e5 157px,#ffffff 166px,#efefef 175px,#ffffff 184px,#ffffff 238px,#efefef 247px,#ffffff 256px,#f2f2f2 265px,#f2f2f2 274px,#e6e6e6 283px,#ededed 292px,#e0e0e0 301px,#f0f0f0 310px,#ffffff 319px,#e4e4e4 328px,#dcdcdc 337px,#e4e4e4 346px,#c4c4c4 355px,#cbcbcb 364px,#cccccc 373px,#d8d8d8 382px,#e5e5e5 391px,#fcfcfc 400px,#efefef 409px,#ffffff 418px,#ffffff 472px,#efefef 481px,#ffffff 490px,#e5e5e5 499px,#ffffff 508px,#efefef 517px,#ffffff 526px,#ffffff 580px,#efefef 589px,#ffffff 598px,#f2f2f2 607px,#eeeeee 616px,#d0d0d0 625px,#e1e1e1 634px,#d7d7d7 643px,#bcbcbc 652px,#c8c8c8 661px,#bebebe 670px,#dadada 679px,#b3b3b3 684px)"></div><div style="position:absolute;left:0;top:351px;width:685px;height:9px;background:linear-gradient(to right,#e5e5e5 4px,#dfdfdf 13px,#d6d6d6 22px,#e1e1e1 31px,#f2f2f2 40px,#ececec 49px,#f2f2f2 58px,#efefef 67px,#ffffff 76px,#ffffff 130px,#efefef 139px,#ffffff 148px,#e5e5e5 157px,#ffffff 166px,#efefef 175px,#ffffff 184px,#ffffff 238px,#efefef 247px,#ffffff 256px,#f2f2f2 265px,#e1e1e1 274px,#e0e0e0 283px,#dedede 292px,#e8e8e8 301px,#ececec 310px,#ffffff 319px,#f5f5f5 328px,#efefef 337px,#f5f5f5 346px,#f1f1f1 355px,#efefef 364px,#ededed 373px,#f7f7f7 382px,#f1f1f1 391px,#fcfcfc 400px,#efefef 409px,#ffffff 418px,#ffffff 472px,#efefef 481px,#ffffff 490px,#e5e5e5 499px,#ffffff 508px,#efefef 517px,#ffffff 526px,#ffffff 580px,#efefef 589px,#ffffff 598px,#f2f2f2 607px,#ffffff 616px,#ffffff 625px,#f1f1f1 634px,#eaeaea 643px,#ebebeb 652px,#ffffff 661px,#ffffff 684px)"></div><div style="position:absolute;left:0;top:360px;width:685px;height:9px;background:linear-gradient(to right,#f9bbb7 4px,#ebebeb 13px,#dddddd 22px,#dedede 31px,#f4f4f4 40px,#ffffff 49px,#f2f2f2 58px,#eeefee 67px,#d2e9d4 76px,#d2e9d3 85px,#d2e9d3 94px,#d4e9d2 103px,#d7e9d2 112px,#dbe9d2 121px,#e1e9d2 130px,#e4e3d9 139px,#ffffff 148px,#e5e5e5 157px,#ffffff 166px,#eaedec 175px,#dfe8d4 184px,#e9ddd2 193px,#e9dcd2 202px,#e9e0d2 211px,#e7e7d2 220px,#dde9d3 229px,#d3e0e4 238px,#dbdbe4 247px,#ffffff 256px,#f2f2f2 265px,#fdaba5 274px,#ececec 283px,#dcdcdc 292px,#dddddd 301px,#f9f9f9 310px,#ffffff 319px,#ffffff 328px,#ffd3cc 337px,#f98d7c 346px,#f2f2f2 355px,#e0e0e0 364px,#e4e4e4 373px,#ffffff 382px,#f4f4f4 391px,#fcfcfc 400px,#bfc7df 409px,#6d98cd 418px,#6dacce 427px,#6db7cf 436px,#6dbed0 445px,#6dc4d0 454px,#6dced1 463px,#7ad5cb 472px,#d9e9dc 481px,#ffffff 490px,#e5e5e5 499px,#ffffff 508px,#ece9e2 517px,#bbd882 526px,#85d36d 535px,#75d36d 544px,#6ed36d 553px,#6dd370 562px,#6dd36f 571px,#6dd381 580px,#a9cdd5 589px,#ffffff 598px,#f2f2f2 607px,#ffcfc6 616px,#f99a88 625px,#ececec 634px,#ebebeb 643px,#ededed 652px,#ffffff 661px,#ffffff 684px)"></div><div style="position:absolute;left:0;top:369px;width:685px;height:9px;background:linear-gradient(to right,#f86631 4px,#e4e4e4 13px,#ebebeb 22px,#ffffff 31px,#ffffff 49px,#f2f2f2 58px,#e9eee9 67px,#09c817 76px,#12ca1b 85px,#09c90d 94px,#1aca11 103px,#32ca11 112px,#49c809 121px,#7fca12 130px,#ced077 139px,#ffffff 148px,#e5e5e5 157px,#ffffff 166px,#d6eadd 175px,#92aa12 184px,#c9630d 193px,#ca750f 202px,#c9850b 211px,#c0b41b 220px,#5eca11 229px,#1f959a 238px,#7777cd 247px,#ffffff 256px,#f2f2f2 265px,#ff7338 274px,#ffffff 283px,#ffffff 328px,#ffdec6 337px,#f9a96c 346px,#e4e4e4 355px,#dcdcdc 364px,#ffffff 373px,#ffffff 382px,#f4f4f4 391px,#fcfcfc 400px,#9cb3d9 409px,#0066bd 418px,#0088bf 427px,#009bc1 436px,#00a6c1 445px,#00afc2 454px,#00bdc3 463px,#16caaf 472px,#cae8ca 481px,#ffffff 490px,#e5e5e5 499px,#ffffff 508px,#ece2d4 517px,#9dcb1c 526px,#42ca10 535px,#1ec700 544px,#17c700 553px,#0fc700 562px,#0dc700 571px,#01c720 580px,#75bdc9 589px,#ffffff 598px,#f2f2f2 607px,#ffe0c6 616px,#efb37e 625px,#e7e7e7 634px,#dddddd 643px,#f7f7f7 652px,#ffffff 661px,#ffffff 684px)"></div><div style="position:absolute;left:0;top:378px;width:685px;height:9px;background:linear-gradient(to right,#fba835 4px,#ececec 13px,#f5f5f5 22px,#ffffff 31px,#ffffff 49px,#f2f2f2 58px,#e9eee9 67px,#0fca20 76px,#1fcd2a 85px,#10ca16 94px,#20cd1e 103px,#33cd1e 112px,#44ca0f 121px,#79cd1f 130px,#c7d67e 139px,#ffffff 148px,#e5e5e5 157px,#ffffff 166px,#d2e9db 175px,#b27816 184px,#cb6d14 193px,#9ec51a 202px,#4aca28 211px,#46cb17 220px,#3aca10 229px,#189d88 238px,#7777cd 247px,#ffffff 256px,#f2f2f2 265px,#ffb138 274px,#ffffff 283px,#ffffff 328px,#fff0c6 337px,#ffda71 346px,#ffffff 355px,#ffffff 382px,#f4f4f4 391px,#fcfcfc 400px,#9cbcda 409px,#0081bf 418px,#00a0c1 427px,#00b2c2 436px,#00b8c3 445px,#00bac3 454px,#00bec3 463px,#1ecca3 472px,#c4e7c1 481px,#ffffff 490px,#e5e5e5 499px,#ffffff 508px,#ebe2d4 517px,#b0c516 526px,#5ccb16 535px,#3bc700 544px,#54cb12 553px,#59cb16 562px,#39c704 571px,#08c716 580px,#75bfc6 589px,#ffffff 598px,#f2f2f2 607px,#fff2c6 616px,#f3d981 625px,#dadada 634px,#dcdcdc 643px,#ffffff 652px,#ffffff 684px)"></div><div style="position:absolute;left:0;top:387px;width:685px;height:9px;background:linear-gradient(to right,#fae535 4px,#e3e3e3 13px,#eaeaea 22px,#ffffff 31px,#ffffff 49px,#f2f2f2 58px,#e9eeea 67px,#0bc920 76px,#15cb25 85px,#0ac915 94px,#15cb18 103px,#20cb14 112px,#33c90b 121px,#66cb15 130px,#bad67a 139px,#ffffff 148px,#e5e5e5 157px,#ffffff 166px,#d2e9d9 175px,#bb771b 184px,#cc741b 193px,#4fca1a 202px,#13b3aa 211px,#17ca2c 220px,#34cc18 229px,#1ca581 238px,#7777cd 247px,#ffffff 256px,#f2f2f2 265px,#fbeb36 274px,#eeeeee 283px,#dbdbdb 292px,#fdfdfd 301px,#ffffff 310px,#ffffff 328px,#fbfec6 337px,#f0f76c 346px,#e0e0e0 355px,#dadada 364px,#ffffff 373px,#ffffff 382px,#f4f4f4 391px,#fcfcfc 400px,#9ccbdb 409px,#00a1c1 418px,#00bcc1 427px,#00c4b9 436px,#00c4ba 445px,#00c3c1 454px,#00c4bd 463px,#2bd097 472px,#b7e4b3 481px,#ffffff 490px,#e5e5e5 499px,#ffffff 508px,#ebe1d4 517px,#b8c116 526px,#71ca0f 535px,#61cb16 544px,#66c704 553px,#6cc700 562px,#68cc17 571px,#13c70f 580px,#75c1c2 589px,#ffffff 598px,#f2f2f2 607px,#f9fec6 616px,#ebf585 625px,#ececec 634px,#eaeaea 643px,#ffffff 652px,#ffffff 684px)"></div><div style="position:absolute;left:0;top:396px;width:685px;height:9px;background:linear-gradient(to right,#cef831 4px,#e4e4e4 13px,#d9d9d9 22px,#ffffff 31px,#ffffff 49px,#f2f2f2 58px,#e9eeea 67px,#0eca27 76px,#1fcd32 85px,#0fca1d 94px,#1ccd24 103px,#19cc19 112px,#2aca12 121px,#58cd1c 130px,#afd678 139px,#ffffff 148px,#e5e5e5 157px,#ffffff 166px,#cedee7 175px,#b57920 184px,#cc751d 193px,#4dca1d 202px,#1797bb 211px,#18ca31 220px,#34cd1c 229px,#1eaa7e 238px,#7777cd 247px,#ffffff 256px,#f2f2f2 265px,#cdfb35 274px,#fbfbfb 283px,#ffffff 292px,#ffffff 328px,#eaffc6 337px,#cbff71 346px,#ffffff 355px,#ffffff 382px,#f4f4f4 391px,#fcfcfc 400px,#9cd2db 409px,#00b7c2 418px,#00c4b6 427px,#00c6a6 436px,#00c5ab 445px,#00c4b9 454px,#08c7ba 463px,#25cf81 472px,#a3e2a0 481px,#ffffff 490px,#e4e4e4 499px,#f3f3f3 508px,#e3d3bc 517px,#c2bd17 526px,#8ac700 535px,#73c700 544px,#77c700 553px,#7ec700 562px,#7fc90b 571px,#1cc918 580px,#75c2c0 589px,#ffffff 598px,#f2f2f2 607px,#e8ffc6 616px,#d2ff8d 625px,#e4e4e4 634px,#e2e2e2 643px,#ffffff 652px,#ffffff 684px)"></div><div style="position:absolute;left:0;top:405px;width:685px;height:9px;background:linear-gradient(to right,#93fb35 4px,#f1f1f1 13px,#ececec 22px,#ffffff 31px,#ffffff 49px,#f2f2f2 58px,#e9eeea 67px,#0eca30 76px,#1fcd36 85px,#0eca22 94px,#1dcd2a 103px,#16cb1d 112px,#1ccc17 121px,#3fcd1f 130px,#6eca30 139px,#f2f7ef 148px,#e5e5e5 157px,#fefefe 166px,#77bfad 175px,#b87e15 184px,#c87916 193px,#4ec90e 202px,#10ca59 211px,#15ca21 220px,#39cb16 229px,#18a778 238px,#7777cd 247px,#ffffff 256px,#f2f2f2 265px,#8efb35 274px,#fbfbfb 283px,#ffffff 292px,#ffffff 328px,#d8ffc6 337px,#9af96c 346px,#e0e0e0 355px,#dcdcdc 364px,#ffffff 373px,#ffffff 382px,#f4f4f4 391px,#fcfcfc 400px,#9cd3db 409px,#00c0bd 418px,#15cbae 427px,#15c5a6 436px,#00c2a7 445px,#00c5b4 454px,#16cab5 463px,#16cb69 472px,#4eca44 481px,#ebe4d1 490px,#e5e5e5 499px,#cec5c2 508px,#ac743f 517px,#c6b517 526px,#abc700 535px,#92c700 544px,#87c700 553px,#81c700 562px,#79c700 571px,#36cc20 580px,#75c3be 589px,#ffffff 598px,#f2f2f2 607px,#d6ffc6 616px,#9cec7b 625px,#ececec 634px,#e9e9e9 643px,#ffffff 652px,#ffffff 684px)"></div><div style="position:absolute;left:0;top:414px;width:685px;height:9px;background:linear-gradient(to right,#56fd36 4px,#e9e9e9 13px,#dedede 22px,#ffffff 31px,#ffffff 49px,#f2f2f2 58px,#e9eeeb 67px,#0cc949 76px,#18cc3e 85px,#0bc926 94px,#16cb2b 103px,#0eca1d 112px,#12ca1a 121px,#16ca14 130px,#20c90b 139px,#43cb32 148px,#88c893 157px,#5fbe7b 166px,#51c624 175px,#bd941d 184px,#c5911a 193px,#54cb13 202px,#1eca11 211px,#21cc1b 220px,#2dcd1e 229px,#1fac7f 238px,#7777cd 247px,#ffffff 256px,#f2f2f2 265px,#52fd36 274px,#e8e8e8 283px,#dbdbdb 292px,#fdfdfd 301px,#ffffff 310px,#ffffff 328px,#c9ffc8 337px,#78ff75 346px,#ffffff 355px,#ffffff 382px,#f4f4f4 391px,#fcfcfc 400px,#9cdbda 409px,#0cc8b5 418px,#0ac99d 427px,#03b388 436px,#19b7a1 445px,#16cbb1 454px,#0ec999 463px,#11c95f 472px,#1bbd1c 481px,#9dae0c 490px,#be9256 499px,#be4d03 508px,#be8017 517px,#c9af1b 526px,#b6c700 535px,#9dc700 544px,#87c700 553px,#7bc700 562px,#77c700 571px,#3ccc1e 580px,#75c5bb 589px,#ffffff 598px,#f2f2f2 607px,#c8ffc9 616px,#88f68a 625px,#dadada 634px,#ededed 643px,#ffffff 652px,#ffffff 684px)"></div><div style="position:absolute;left:0;top:423px;width:685px;height:9px;background:linear-gradient(to right,#2ef44d 4px,#dfdfdf 13px,#dcdcdc 22px,#f3f3f3 31px,#ffffff 40px,#ffffff 49px,#f2f2f2 58px,#e9eeec 67px,#0eca6d 76px,#1fcd62 85px,#0eca3f 94px,#1dcd3b 103px,#10ca28 112px,#1acc2c 121px,#13cb21 130px,#15cb21 139px,#15cb27 148px,#60c27d 157px,#74cb15 166px,#7bc90b 175px,#b0bc14 184px,#b0bb0f 193px,#49ca11 202px,#32cb14 211px,#30ca10 220px,#37cb15 229px,#16a58a 238px,#7777cd 247px,#ffffff 256px,#f2f2f2 265px,#36fd59 274px,#fdfdfd 283px,#ffffff 292px,#ffffff 328px,#c6ffd6 337px,#6cf995 346px,#dbdbdb 355px,#ededed 364px,#ffffff 373px,#ffffff 382px,#f4f4f4 391px,#fcfcfc 400px,#9cdcd5 409px,#16cbac 418px,#00c783 427px,#00c77e 436px,#00c78a 445px,#00c78b 454px,#00c775 463px,#02c64e 472px,#17b821 481px,#58ba1b 490px,#a9ad4f 499px,#cb7616 508px,#c78800 517px,#ccb717 526px,#b7c600 535px,#a0c700 544px,#89c700 553px,#80c700 562px,#7ac700 571px,#40cc1c 580px,#75c5b9 589px,#ffffff 598px,#f2f2f2 607px,#c6ffd8 616px,#85f6aa 625px,#e7e7e7 634px,#f1f1f1 643px,#ffffff 652px,#ffffff 684px)"></div><div style="position:absolute;left:0;top:432px;width:685px;height:9px;background:linear-gradient(to right,#35fb93 4px,#f0f0f0 13px,#e7e7e7 22px,#f3f3f3 31px,#ffffff 40px,#ffffff 49px,#f2f2f2 58px,#e9eeed 67px,#0bc991 76px,#18cc82 85px,#0dc966 94px,#19cc59 103px,#0fca3e 112px,#18cc3a 121px,#15cb33 130px,#1acc3b 139px,#1dcd60 148px,#63b2a4 157px,#75cd1d 166px,#7dca0f 175px,#9ecd1b 184px,#80ca0f 193px,#48cc18 202px,#30ca0d 211px,#3dcc1b 220px,#30cd26 229px,#1ea0a5 238px,#7777cd 247px,#ffffff 256px,#f2f2f2 265px,#36fd97 274px,#fdfdfd 283px,#ffffff 292px,#ffffff 328px,#c6ffe8 337px,#71ffc6 346px,#ffffff 355px,#ffffff 382px,#f4f4f4 391px,#fcfcfc 400px,#9dddd4 409px,#15cba2 418px,#00c77c 427px,#00c770 436px,#00c76f 445px,#00c769 454px,#00c55a 463px,#04a43c 472px,#14c429 481px,#1fc702 490px,#9bb85e 499px,#c88207 508px,#c79000 517px,#ccb217 526px,#c0c400 535px,#aac700 544px,#94c700 553px,#89c700 562px,#7fc700 571px,#3fcc1c 580px,#75c6b8 589px,#ffffff 598px,#f2f2f2 607px,#c6ffea 616px,#8dffd5 625px,#e5e5e5 634px,#f0f0f0 643px,#ffffff 652px,#ffffff 684px)"></div><div style="position:absolute;left:0;top:441px;width:685px;height:9px;background:linear-gradient(to right,#36fdd3 4px,#e9e9e9 13px,#dbdbdb 22px,#f1f1f1 31px,#ffffff 40px,#ffffff 49px,#f2f2f2 58px,#e9edee 67px,#0dc1bc 76px,#1bccad 85px,#0cc991 94px,#17cc84 103px,#0dc96f 112px,#11ca67 121px,#0dc963 130px,#10ca73 139px,#18c3a7 148px,#6190ab 157px,#67cc1a 166px,#69ca0d 175px,#78cc1a 184px,#58ca10 193px,#44cd1d 202px,#26ca12 211px,#16ca19 220px,#18cc5f 229px,#1c90bd 238px,#7777cd 247px,#ffffff 256px,#f2f2f2 265px,#38ffd7 274px,#ffffff 283px,#ffffff 328px,#c6fef9 337px,#6cf8ec 346px,#dcdcdc 355px,#ededed 364px,#ffffff 373px,#ffffff 382px,#f4f4f4 391px,#fcfcfc 400px,#ade2d8 409px,#00c78f 418px,#00c77a 427px,#00c76b 436px,#00c75e 445px,#00c74f 454px,#00c749 463px,#00c73e 472px,#1bc536 481px,#0bc701 490px,#88b74f 499px,#c78e00 508px,#c79500 517px,#cbac16 526px,#c6bc00 535px,#b3c700 544px,#9ac700 553px,#8ac700 562px,#7ac700 571px,#3ecc1b 580px,#75c6b7 589px,#ffffff 598px,#f2f2f2 607px,#c6fefb 616px,#7beae4 625px,#e9e9e9 634px,#f7f7f7 643px,#ffffff 652px,#ffffff 684px)"></div><div style="position:absolute;left:0;top:450px;width:685px;height:9px;background:linear-gradient(to right,#30e0f5 4px,#e0e0e0 13px,#d5d5d5 22px,#e5e5e5 31px,#ffffff 40px,#ffffff 49px,#f2f2f2 58px,#e9ecee 67px,#108dc3 76px,#1eafc8 85px,#0fbebf 94px,#1ecbb7 103px,#0ec9a5 112px,#1bcca4 121px,#12caa5 130px,#18c2b9 139px,#1685c3 148px,#5a76a7 157px,#4fcc19 166px,#4cc90c 175px,#52cc19 184px,#32c90b 193px,#21cc21 202px,#16cb3c 211px,#1ccd73 220px,#18c7ac 229px,#1668c1 238px,#7777cd 247px,#ffffff 256px,#f2f2f2 265px,#36e6fc 274px,#ececec 283px,#dbdbdb 292px,#fdfdfd 301px,#ffffff 310px,#ffffff 328px,#c6f2ff 337px,#71dfff 346px,#f6f6f6 355px,#fbfbfb 364px,#ffffff 373px,#ffffff 382px,#f4f4f4 391px,#fcfcfc 400px,#9cddc8 409px,#00c77d 418px,#00c771 427px,#00c766 436px,#00c758 445px,#00c74b 454px,#00c744 463px,#0bc943 472px,#0bc923 481px,#0dc700 490px,#86b84f 499px,#c78f00 508px,#c79500 517px,#c8a106 526px,#cabb10 535px,#b4c700 544px,#95c700 553px,#85c700 562px,#71c700 571px,#3bcc1b 580px,#75c6b7 589px,#ffffff 598px,#f2f2f2 607px,#c6f0ff 616px,#85d9f6 625px,#e2e2e2 634px,#ffffff 643px,#ffffff 684px)"></div><div style="position:absolute;left:0;top:459px;width:685px;height:9px;background:linear-gradient(to right,#33a6f9 4px,#ededed 13px,#e8e8e8 22px,#eaeaea 31px,#ffffff 40px,#ffffff 49px,#f2f2f2 58px,#e9ebee 67px,#0b57be 76px,#146fc2 85px,#0a7fc1 94px,#1699c5 103px,#0da2c4 112px,#18aac6 121px,#159ec5 130px,#1b80c4 139px,#1e52c1 148px,#5d72a9 157px,#42ce20 166px,#34ca10 175px,#34cd1e 184px,#14ca2a 193px,#15cb6b 202px,#0bc894 211px,#0ec0b8 220px,#199bc5 229px,#1e3cc0 238px,#7777cd 247px,#ffffff 256px,#f2f2f2 265px,#38aaff 274px,#ffffff 283px,#ffffff 328px,#c6e0ff 337px,#6caef9 346px,#e0e0e0 355px,#f1f1f1 364px,#ffffff 373px,#ffffff 382px,#f4f4f4 391px,#fcfcfc 400px,#9cddc1 409px,#00c76d 418px,#00c769 427px,#00c762 436px,#00c758 445px,#00c74f 454px,#00c746 463px,#16cb4c 472px,#00c715 481px,#0fc700 490px,#84b94f 499px,#c79400 508px,#c79600 517px,#c79c00 526px,#cbbc16 535px,#adc700 544px,#94c700 553px,#82c700 562px,#6fc909 571px,#31c911 580px,#75c6b6 589px,#ffffff 598px,#f2f2f2 607px,#c6deff 616px,#85b6f6 625px,#dedede 634px,#ffffff 643px,#ffffff 684px)"></div><div style="position:absolute;left:0;top:468px;width:685px;height:9px;background:linear-gradient(to right,#366bfd 4px,#e9e9e9 13px,#dbdbdb 22px,#dedede 31px,#ffffff 40px,#ffffff 49px,#f2f2f2 58px,#e9eaee 67px,#0e3cbc 76px,#1a51c1 85px,#0e53be 94px,#1962c2 103px,#0c60bf 112px,#1365c1 121px,#0b57be 130px,#0e48bd 139px,#1328bc 148px,#566ca7 157px,#22cb16 166px,#11c918 175px,#14cb4c 184px,#16ca93 193px,#20bec0 202px,#169fc5 211px,#1d77c4 220px,#163bbe 229px,#151abb 238px,#7777cd 247px,#ffffff 256px,#f2f2f2 265px,#386cff 274px,#ffffff 283px,#ffffff 328px,#c6cfff 337px,#7187ff 346px,#f4f4f4 355px,#f4f4f4 364px,#f1f1f1 373px,#ffffff 382px,#f4f4f4 391px,#fcfcfc 400px,#9cddbe 409px,#00c769 418px,#00c765 427px,#00c760 436px,#00c759 445px,#00c751 454px,#00c749 463px,#04c841 472px,#12ca26 481px,#06c700 490px,#7fbb4f 499px,#c79d00 508px,#c79b00 517px,#c9a50d 526px,#c4c009 535px,#a3c700 544px,#91c600 553px,#73b502 562px,#6ac018 571px,#24c704 580px,#75c6b7 589px,#ffffff 598px,#f2f2f2 607px,#ccd3ff 616px,#95a3f9 625px,#f0f0f0 634px,#e5e5e5 643px,#e8e8e8 652px,#ffffff 661px,#ffffff 684px)"></div><div style="position:absolute;left:0;top:477px;width:685px;height:9px;background:linear-gradient(to right,#bbbefd 4px,#eeeeee 13px,#dddddd 22px,#dcdcdc 31px,#fefefe 40px,#ffffff 49px,#f2f2f2 58px,#e9e9ee 67px,#0e20ba 76px,#1c37bf 85px,#1138bd 94px,#1c48c0 103px,#1042bd 112px,#1d4bc1 121px,#143ebe 130px,#1b33bf 139px,#1a1dbc 148px,#566ead 157px,#1dcd58 166px,#0ec97d 175px,#12b9b4 184px,#0e89c2 193px,#1058bf 202px,#0b2dbb 211px,#0f1aba 220px,#1718bb 229px,#2121be 238px,#7777cd 247px,#ffffff 256px,#f2f2f2 265px,#bbbefd 274px,#eeeeee 283px,#dcdcdc 292px,#dcdcdc 301px,#f9f9f9 310px,#ffffff 319px,#ffffff 337px,#f9f9f9 346px,#ececec 355px,#e8e8e8 364px,#eaeaea 373px,#ffffff 382px,#f4f4f4 391px,#fcfcfc 400px,#9cddbe 409px,#00c767 418px,#00c764 427px,#00c760 436px,#00c75a 445px,#00c752 454px,#00c74a 463px,#00c742 472px,#12cb40 481px,#13cb2c 490px,#7fbd5a 499px,#c7a200 508px,#cbab14 517px,#cab40e 526px,#c0c400 535px,#a4c700 544px,#8bc600 553px,#6ab901 562px,#64bc1b 571px,#1ec707 580px,#75c4bb 589px,#ffffff 598px,#f2f2f2 607px,#ffffff 616px,#ffffff 625px,#f6f6f6 634px,#f8f8f8 643px,#f6f6f6 652px,#ffffff 661px,#ffffff 684px)"></div><div style="position:absolute;left:0;top:486px;width:685px;height:9px;background:linear-gradient(to right,#ffffff 4px,#ffffff 49px,#f2f2f2 58px,#e9e9ee 67px,#0b0bb8 76px,#1216ba 85px,#0b17b9 94px,#1224bb 103px,#0c23ba 112px,#172bbd 121px,#1220bb 130px,#1b1ebd 139px,#1d1dbd 148px,#586cbc 157px,#17a0b9 166px,#0f72c0 175px,#1949c0 184px,#1a2bbe 193px,#1e23be 202px,#1515bb 211px,#1b1bbd 220px,#1414ba 229px,#1717bb 238px,#7777cd 247px,#ffffff 256px,#f2f2f2 265px,#ffffff 274px,#ffffff 382px,#f4f4f4 391px,#fcfcfc 400px,#9cddbe 409px,#00c768 418px,#00c764 427px,#00c75f 436px,#00c759 445px,#00c753 454px,#00c74c 463px,#00c745 472px,#00c73f 481px,#03c73d 490px,#85c36f 499px,#ccb816 508px,#c7b702 517px,#c6c100 526px,#bbc600 535px,#a3c700 544px,#84c700 553px,#69c805 562px,#54ca11 571px,#16c70a 580px,#75c2bf 589px,#ffffff 598px,#f2f2f2 607px,#ffffff 616px,#ffffff 684px)"></div><div style="position:absolute;left:0;top:495px;width:685px;height:9px;background:linear-gradient(to right,#ffffff 4px,#ffffff 49px,#f2f2f2 58px,#e9e9ee 67px,#0e0eb9 76px,#1717bb 85px,#1313ba 94px,#1919bc 103px,#0f10b9 112px,#1617bb 121px,#0c0cb8 130px,#0f0fb9 139px,#0e0eb9 148px,#5255bc 157px,#1b29be 166px,#0b0fb8 175px,#1414ba 184px,#1818bc 193px,#1c1cbd 202px,#1414ba 211px,#1b1bbc 220px,#1818bc 229px,#2121be 238px,#7878cd 247px,#ffffff 256px,#f2f2f2 265px,#ffffff 274px,#ffffff 382px,#f4f4f4 391px,#fcfcfc 400px,#9cddc0 409px,#00c769 418px,#00c764 427px,#00c75d 436px,#00c758 445px,#00c753 454px,#00c74d 463px,#00c747 472px,#00c744 481px,#00c742 490px,#7ac467 499px,#bdc500 508px,#bdc600 517px,#b6c700 526px,#afc700 535px,#99c700 544px,#76c700 553px,#66cc17 562px,#34c700 571px,#08c712 580px,#75c0c2 589px,#ffffff 598px,#f2f2f2 607px,#ffffff 616px,#ffffff 684px)"></div><div style="position:absolute;left:0;top:504px;width:685px;height:9px;background:linear-gradient(to right,#ffffff 4px,#ffffff 49px,#f2f2f2 58px,#e9e9ee 67px,#0d0db8 76px,#1515bb 85px,#1515bb 94px,#1c1cbd 103px,#1515bb 112px,#1f1fbe 121px,#1515bb 130px,#1d1dbd 139px,#1d1dbd 148px,#5858be 157px,#1414ba 166px,#1818bb 175px,#1010b9 184px,#1010b9 193px,#1212ba 202px,#0c0cb8 211px,#1111ba 220px,#0e0eb9 229px,#0f0fb9 238px,#7f7fcf 247px,#ffffff 256px,#f2f2f2 265px,#ffffff 274px,#ffffff 382px,#f4f4f4 391px,#fcfcfc 400px,#9cddbf 409px,#00c768 418px,#00c763 427px,#00c75d 436px,#00c758 445px,#00c752 454px,#00c74d 463px,#00c748 472px,#00c745 481px,#00c743 490px,#71c467 499px,#98c700 508px,#9dc700 517px,#94c700 526px,#87c700 535px,#78c808 544px,#66cc16 553px,#39c805 562px,#12c702 571px,#00c63c 580px,#75b0cd 589px,#ffffff 598px,#f2f2f2 607px,#ffffff 616px,#ffffff 684px)"></div><div style="position:absolute;left:0;top:513px;width:685px;height:9px;background:linear-gradient(to right,#ffffff 4px,#ffffff 49px,#f2f2f2 58px,#e9e9ee 67px,#0c0cb8 76px,#0e0eb9 85px,#1111ba 94px,#1515bb 103px,#1212ba 112px,#1c1cbd 121px,#1515bb 130px,#1b1bbd 139px,#1e1ebd 148px,#5858be 157px,#0e0eb9 166px,#1e1ebd 175px,#1818bc 184px,#1b1bbc 193px,#1f1fbd 202px,#1515bb 211px,#1d1dbd 220px,#1a1abc 229px,#1a1abc 238px,#8383d0 247px,#ffffff 256px,#f2f2f2 265px,#ffffff 274px,#ffffff 382px,#f4f4f4 391px,#fcfcfc 400px,#9cddbe 409px,#00c768 418px,#00c763 427px,#00c75d 436px,#00c757 445px,#00c751 454px,#00c74d 463px,#00c749 472px,#00c745 481px,#00c743 490px,#6bc66d 499px,#76cc16 508px,#70cc17 517px,#64cc17 526px,#54cc16 535px,#3cca0e 544px,#1bc703 553px,#06c711 562px,#00c736 571px,#00b595 580px,#7592ce 589px,#ffffff 598px,#f2f2f2 607px,#ffffff 616px,#ffffff 684px)"></div><div style="position:absolute;left:0;top:522px;width:685px;height:9px;background:linear-gradient(to right,#ffffff 4px,#ffffff 49px,#f2f2f2 58px,#e9e9ed 67px,#1111b3 76px,#1313b4 85px,#1b1bb7 94px,#1616b5 103px,#1414b5 112px,#1515b5 121px,#0e0eb3 130px,#1111b4 139px,#1212b4 148px,#5353b8 157px,#1212b4 166px,#1111b3 175px,#0e0eb3 184px,#0f0fb3 193px,#1111b4 202px,#0d0db2 211px,#1010b3 220px,#0f0fb3 229px,#0f0fb3 238px,#7f7fcc 247px,#ffffff 256px,#f2f2f2 265px,#ffffff 274px,#ffffff 382px,#f4f4f4 391px,#fcfcfc 400px,#a0dbc0 409px,#0bbd69 418px,#0bbd64 427px,#0bbd5e 436px,#0bbd59 445px,#0bbd54 454px,#0bbd4f 463px,#0bbd4c 472px,#0bbd49 481px,#0bbd46 490px,#58bf77 499px,#13bd44 508px,#11bd49 517px,#0ebd52 526px,#0cbc5d 535px,#0bbc67 544px,#0bb978 553px,#0ba289 562px,#0b89a8 571px,#0b4bb2 580px,#7a81c9 589px,#ffffff 598px,#f2f2f2 607px,#ffffff 616px,#ffffff 684px)"></div><div style="position:absolute;left:0;top:531px;width:685px;height:9px;background:linear-gradient(to right,#ffffff 4px,#ffffff 49px,#f2f2f2 58px,#fefefe 67px,#f8f8f8 76px,#f8f8f8 148px,#e1e1e1 157px,#f8f8f8 166px,#f8f8f8 238px,#fbfbfb 247px,#ffffff 256px,#f2f2f2 265px,#ffffff 274px,#ffffff 382px,#f4f4f4 391px,#fcfcfc 400px,#ffffff 409px,#ffffff 490px,#e5e5e5 499px,#ffffff 508px,#ffffff 598px,#f2f2f2 607px,#ffffff 616px,#ffffff 684px)"></div><div style="position:absolute;left:0;top:540px;width:685px;height:9px;background:linear-gradient(to right,#ffffff 4px,#ffffff 49px,#eeeeee 58px,#f2f2f2 67px,#f2f2f2 148px,#e7e7e7 157px,#f2f2f2 166px,#f2f2f2 256px,#f5f5f5 265px,#ffffff 274px,#ffffff 382px,#f8f8f8 391px,#f0f0f0 400px,#f2f2f2 409px,#f2f2f2 490px,#e8e8e8 499px,#f2f2f2 508px,#f2f2f2 598px,#f5f5f5 607px,#ffffff 616px,#ffffff 684px)"></div><div style="position:absolute;left:0;top:549px;width:685px;height:9px;background:linear-gradient(to right,#ffffff 4px,#ffffff 139px,#ebebeb 148px,#a0a0a0 157px,#bababa 166px,#ffffff 175px,#ffffff 481px,#d0d0d0 490px,#a5a5a5 499px,#cfcfcf 508px,#ffffff 517px,#ffffff 684px)"></div><div style="position:absolute;left:0;top:558px;width:685px;height:5px;background:linear-gradient(to right,#ffffff 4px,#ffffff 139px,#e9e9e9 148px,#9f9f9f 157px,#b8b8b8 166px,#ffffff 175px,#ffffff 481px,#c9c9c9 490px,#aeaeae 499px,#c9c9c9 508px,#ffffff 517px,#ffffff 684px)"></div></div></noscript><canvas id="cv" width="685" height="563"></canvas>
<div class="lab" style="left:151px;top:264px">(a)</div>
<div class="lab" style="left:151px;top:549px">(b)</div>
<div class="lab" style="left:487px;top:264px">(c)</div>
<div class="lab" style="left:491px;top:549px">(d)</div>
<div id="ov"></div>
<script>

(function(){
var cv=document.getElementById('cv'),ctx=cv.getContext('2d');
var W=685,H=563;
// ---------- colormap ----------
function cmap(t,k){
  if(t<0)t=0;if(t>1)t=1;
  var h=(1-t)*4; // 0 red ..4 blue
  var r,g,b;
  if(h<1){r=1;g=h;b=0;}else if(h<2){r=2-h;g=1;b=0;}else if(h<3){r=0;g=1;b=h-2;}else{r=0;g=4-h;b=1;}
  return [r*k*255,g*k*255,b*k*255];
}
// ---------- panels ----------
// normalized geometry (units of panel a px)
var RO=102,RW=87,RE=18,ZB=74,ZTC=106,ZBB=238,ZH=252.6;
var P={
 a:{Lx0:56.5,LxA:158.6,RxA:160.8,Rx1:262.6,y0:7.2,y1:259.8},
 b:{Lx0:56.6,LxA:157.7,RxA:160.6,Rx1:262.6,y0:294.0,y1:545.5},
 c:{Lx0:389.5,LxA:493.4,RxA:497.1,Rx1:601.3,y0:0.55,y1:259.6},
 d:{Lx0:395.7,LxA:498.5,RxA:501.6,Rx1:605.0,y0:289.0,y1:545.2}
};
for(var k in P){var p=P[k];p.sL=(p.LxA-p.Lx0)/RO;p.sR=(p.Rx1-p.RxA)/RO;p.sy=(p.y1-p.y0)/ZH;}
// region classification in normalized coords: r (from axis), z (from top)
function region(r,z){
  if(r<0||r>RO||z<0||z>ZH)return 'out';
  if(r>RW||z>ZBB)return 'wall';
  // electrode
  if(r<=RE){
    if(z<=ZTC)return 'elec';
    var dz=z-ZTC; if(r*r+dz*dz<=RE*RE)return 'elec';
  }
  if(z<ZB)return 'gas';
  return 'bath';
}
var PHI="//////////////////////////////////////////////////9q9lTtseR23JrUF83mxQC/YLgCsuKr+6VLoM6agZVikG6Lo4YAgoJ9J3ntdNRw2mz8aDtllWEIXpRaOFfxU8FQpU2dSqlHxkT1QTU/hTzlOVQ30TRcMvQvmS1KKwgp0CakJIIiaiBbHlccWxpoGH0WmhS/EusQHg9YDZkL4AktCIAG2AQ2A5gBAAD//////////////////////////////////////////////////2r2VO2w5HTcmdQWzeTF/r5euACy36v5pUigy5p+lV+Qa4uhhv2Bf30keep00XDXbPpoOWWSYQZeklo1V+9Tv1CjTZtKpkfERPNBMz+DPOM5UjfPNFoy8y+YLUkrBinPJqIkgCJpIFoeVhxaGmcYfBaZFL4S6hAeD1gNmQvgCS0IfwbYBDYDmAEAAP//////////////////////////////////////////////////afZS7a3kcdyV1BHN38X4vli4+bHYq/GlQaDDmnaVV5Bji5iG9YF2fRt54nTJcM9s8mgxZYth/l2KWi5X6FO4UJxNlUqgR75E7UEtP3483jlNN8o0VjLuL5MtRSsCKcsmnyR9ImYgWB5THFcaZRh6FpcUvBLpEBwPVw2YC98JLAh/BtcENQOYAQAA//////////////////////////////////////////////////9o9k/tqeRs3I7UCc3Wxe6+Tbjusc2r5aU0oLaaaZVJkFWLiobngWh9DXnUdLtwwWzkaCRlfmHxXX5aIlfcU6xQkU2KSpZHtETjQSQ/dTzVOUU3wjROMucvjC0+K/woxSaZJHgiYCBTHk8cUxphGHYWlBS5EuYQGg9VDZYL3QkrCH4G1wQ1A5gBAAD//////////////////////////////////////////////////2b2S+2j5GTchdT+zMrF4b4/uN+xvKvUpSKgpJpWlTaQQot3htOBVX36eMF0qHCubNJoEWVsYeBdbFoRV8xTnFCBTXtKh0elRNZBFz9oPMk5OTe3NEMy3C+DLTUr8yi9JpEkcCJZIEweSBxOGlsYcRaPFLUS4hAXD1INkwvbCSkIfAbWBDQDmAEAAP//////////////////////////////////////////////////Y/ZF7ZvkWtx51PDMusXPviy4yrGnq76lC6CMmj6VHZApi16GuoE8feF4qHSPcJZsuWj5ZFRhyV1WWvtWtlOHUG1NZ0p0R5NExEEGP1g8uTkqN6g0NTLPL3YtKSvoKLImhyRnIlAgRB5AHEYaVBhrFooUsBLeEBIPTg2QC9gJJgh7BtQEMwOXAQAA//////////////////////////////////////////////////9f9j/tkeRN3GrU38ymxbq+FLixsY2roqXvn2+aIJX/jwqLP4abgRx9wniJdHFwd2ycaNxkN2GtXTpa4FacU25QVE1PSl1HfUSuQfE+QzymORc3lzQkMr8vZi0aK9oopSZ6JFsiRSA5HjccPRpMGGMWghSpEtgQDQ9JDYwL1QkkCHgG0wQyA5cBAAD//////////////////////////////////////////////////1v2N+2G5D7cWNTKzI/FoL74t5SxbauBpc2fTJr8lNuP5YoahnaB93ydeGR0TXBUbHhouWQVYYtdGlrAVn1TUFA3TTNKQUdiRJVB2D4sPI85ATeBNBAyqy9ULQkrySiVJmskTSI4IC0eKxwyGkIYWhZ6FKIS0RAHD0QNhwvRCSAIdgbRBDEDlgEAAP//////////////////////////////////////////////////VvYu7XjkLdxC1LHMc8WCvti3cbFJq1ulpZ8jmtKUsY+7iu+FS4HMfHJ4OnQicCpsT2iRZO5gZV30WZtWWVMtUBVNEkohR0NEd0G7PhA8dDnoNmk0+TGVLz8t9Cq2KIMmWiQ8IikgHh4eHCYaNhhPFnAUmRLJEAAPPQ2CC8wJHAhzBs4ELwOVAQAA//////////////////////////////////////////////////9R9iPtaeQZ3CrUlcxTxV++srdJsR6rL6V3n/SZo5SAj4qKvoUZgZt8QXgJdPJv+2shaGNkwWA5XclZcVYwUwVQ70zsSf1GIERVQZs+8TtWOcs2TTTeMXwvJy3dKqAobiZHJCoiFyAOHg4cGBopGEMWZRSPEsAQ+A42DXsLxwkYCG8GzAQtA5QBAAD//////////////////////////////////////////////////0v2Fu1X5ALcDtR1zC/FN76Htxux7qr9pESfv5ltlEmPU4qGheKAZHwKeNNzvG/Fa+xnMGSOYAddmVlCVgJT2U/ETMJJ1Ub5Qy9Bdj7OOzU5qjYvNMExYC8MLcQqiChXJjEkFSIEIPwd/hsIGhsYNhZZFIQSthDvDi4NdAvBCRMIawbJBCwDkwEAAP//////////////////////////////////////////////////Q/YJ7UPk6Nvv01HMB8UKvle36LC4qsWkCp+EmTCUDI8VikiFpIAmfMx3lnOAb4prsmf2Y1Zg0FxjWQ5W0FKnT5RMlEmoRs5DBUFOPqc7DzmHNgw0oDFAL+4spyptKD0mGST/Ie8f6B3rG/YZCxgnFksUdxKqEOUOJQ1tC7oJDghnBsYEKQOSAQAA//////////////////////////////////////////////////879vnsLOTK28vTKMzZxNi9IbeusHyqhqTJnkKZ7ZPIjtCJA4VfgOF7iHdScz1vSGtxZ7djGGCTXChZ1FWYUnFPX0xhSXZGnkPXQCI+fDvmOF825zN8MR4vzSyIKk8oISb+I+Yh1x/SHdYb4xn5FxcWPBRqEp4Q2g4cDWQLswkICGIGwgQnA5EBAAD//////////////////////////////////////////////////zL25+wS5KnbpNP6y6bEoL3ltm+wOapBpIGe+Jiik3yOhIm3hBKAlXs9dwhz9G4AaypncWPUX1Fc51iVVVpSNU8lTClJQEZqQ6VA8j1OO7o4NTa+M1Ux+S6qLGcqLygDJuIjyyG+H7odwBvPGeYXBRYsFFsSkRDODhENWwurCQEIXQa+BCUDkAEAAP//////////////////////////////////////////////////KPbU7Pbjhdt408fLbcRivaK2KLDvqfSjMp6nmFCTKY4wiWOEv39Ce+t2t3KkbrFq3WYmY4pfCVyhWFFVGFL1TudL7UgGRjJDb0C9PRw7ijgGNpIzKzHRLoMsQioNKOIlwyOuIaIfoR2oG7gZ0RfyFRsUSxKCEMEOBg1RC6MJ+gdYBroEIgOPAQAA//////////////////////////////////////////////////8d9r7s1uNc20fTj8suxB29WLbZr52pn6PbnU6Y9pLOjdWICIRkf+h6kXZeck1uXGqJZtRiOl+7W1VYB1XQUa9Oo0usSMdF9UI0QIU95jpWONU1YjP9MKUuWiwbKucnvyWhI44hhR+FHY4boBm7F94VCBQ6EnMQsw76DEcLmgnzB1IGtgQfA40BAAD//////////////////////////////////////////////////xD2peyz4y/bENNQy+jD0bwGtoOvQ6lCo3yd7ZeTkmuNcYikgwF/hnowdv9x723/aS9me2LkXmdbA1i3VINRZE5bS2ZIg0W0QvY/ST2sOh44nzUvM8wwdy4uLPEpwCeZJX4jbSFlH2cdcxuHGaMXyBX0EygSYxCkDu0MOwuQCesHSwaxBBwDjAEAAP//////////////////////////////////////////////////AvaK7Izj/NrU0gvLm8N9vK21Ja/gqNyiE52DlyiS/4wFiDmDln4cesh1l3GJbZxpzWUcYodeDFurV2JUMFEUTg1LG0g7RW5Csz8IPW464zdnNfkymTBFLv8rxCmVJ3ElWCNJIUQfSB1VG2sZihewFd8TFBJREJUO3wwvC4YJ4wdFBqwEGAOKAQAA///////////////////////////////////////////////////z9WzsYOPE2pHSvspFwyC8SrW8rnSobKKhnA+Xs5GKjJCHxIIjfqp5V3UocRxtMWllZbZhI16sWk1XB1TYUL9Nu0rLR+5EJEJrP8Q8LDqkNyo1vzJhMBEuzSuVKWgnRyUwIyMhIB8nHTYbThlvF5gVyBMAEj4QhA7QDCMLewnaBz0GpwQVA4gBAAD//////////////////////////////////////////////////+H1Suwv44baRtJpyufCurvdtEqu/afyoSWckZY0kQuMEodGgqZ9LnnedLFwqGy/aPVkSWG5XURa6VamU3pQZE1jSnZHnUTVQSA/ezzmOWE36jSCMicw2S2YK2IpOCcaJQUj+yD7HgMdFRswGVMXfhWwE+oRKxBzDsEMFQtwCdAHNgahBBEDhgEAAP//////////////////////////////////////////////////zvUl7PniQdr00QrKfsJJu2W0za18p22hnpsJlquQgouJhr+BIH2qeFx0MnArbEVofmTVYEld11l/Vj9TFlADTQZKHEdGRIJB0D4uPJ05GjenNEEy6i+fLWArLSkGJ+ok2CLRINMe3hzzGhAZNRdiFZcT0xEWEGAOsQwHC2QJxgcuBpsEDQOEAQAA//////////////////////////////////////////////////+49frrvOLz2ZfRockLwsy64bNDre6m3aALm3WVF5DuivaFLYGQfB140XOqb6Zrw2f/Y1pg0VxiWQ5W0lKsT51Mo0m9RutDKkF7Pt07TznQNmA0/jGpL2EtJSv2KNImuCSpIqQgqR63HM4a7hgWF0UVfRO7EQEQTQ6gDPgKVwm8ByYGlQQJA4IBAAD//////////////////////////////////////////////////5/1yut34pvZMNEsyYrBQ7pQs62sU6Y/oGua1JR3j06KWIWRgPZ7hnc8cxhvGGs5Z3lj119SXOdYl1VeUj1PMkw8SVpGi0POQCM+iDv9OII2FTS2MWUvIC3oKrsomiaEJHgidiB+Ho8cqBrLGPUWJxVhE6IR6g85Do4M6QpKCbEHHQaPBAUDgAEAAP//////////////////////////////////////////////////gvWU6yniOdm80KnI+8CqubCyB6yqpZOfvpknlMqOoomuhOl/Unvkdp5yfm6BaqZm6mJNX8xbZVgZVeVRyE7BS89I8EUmQ21AxT0vO6g4MDbHM2wxHi/dLKgqfihgJk0kRCJFIFAeZByBGqYY0xYIFUQTiBHSDyQOewzZCjwJpQcUBogEAAN+AQAA//////////////////////////////////////////////////9i9VXr0OHJ2DjQF8hcwAG5ALJSq/Gk2J4CmWyTD47qiPiDN3+iejh29nHabeJpC2ZUYrtePlvcV5RUZVFMTkpLXEiCRbxCB0BkPdE6TjjaNXUzHjHTLpYsZCo/KCQmFCQPIhMgIR43HFcafxivFucUJhNtEboPDg5oDMgKLgmaBwsGgQT8AnwBAAD//////////////////////////////////////////////////zz1DOtp4UnYpM9xx6q/Rrg9sYqqJ6QNnjeYoZJHjSSINoN4fud5gnVEcS1tOWlnZbVhIV6pWkxXCVTfUMtNzUrkRw9FTUKdP/48bzrxN4E1IDPMMIYuTCweKvwn5SXZI9Yh3h/vHQkcLBpXGIoWxRQHE1ARoA/3DVMMtgofCY0HAQZ5BPcCeQEAAP//////////////////////////////////////////////////DvW36vHgtdf6zrfG4r51t2ewsKlKozCdW5fHkXCMUYdmgqx9IHnAdIhwdWyHaLpkDmF/XQ1atVZ4U1JQQ01LSmdHlkTZQS4/kzwKOo83JDXHMncwNS7/K9UptyekJZsjnCGnH7wd2Rv/GS0YZBahFOYSMxGGD98NPwykChAJgAf3BXIE8gJ3AQAA///////////////////////////////////////////////////Y9FDqZOAJ1zfO4sUCvo22ea/AqFqiQJxtlt2QiYtuhoiB1HxNePJzwG+0a8tnBWReYNVcaFkXVt9Sv0+2TMJJ5EYZRGFBuj4lPKA5KjfDNGoyHzDhLbAriilvJ2AlWyNgIW4fhh2nG9EZAhg8Fn0UxRIUEWoPxg0pDJEK/whzB+wFagTtAnQBAAD//////////////////////////////////////////////////5P00+m53z7WVc3xxAa9irVzrrmnVKE8m22V4I+SinyFnIDue253GXPtbuhqBmdGY6VfI1y9WHFVP1IlTyJMNUlbRpZD40BCPrI7MTnBNl80CzLEL4otXSs7KSUnGSUYIyEhNB9PHXQboRnWFxIWVxSiEvQQTQ+tDRIMfgrvCGUH4QViBOcCcQEAAP//////////////////////////////////////////////////OfQy6ejeTNVOzN3D6rtqtFKtmaY2oCOaWZTSjomJe4Shf/p6gXY0cg9uEWo2Zn1i5F5oWwlYxFSZUYVOiEuhSM5FDkNhQMU9Oju/OFM29jOnMWUvMC0HK+oo2CbRJNQi4SD3HhYdPhtvGacX6BUvFH4S1BAwD5MN+wtqCt4IVwfWBVkE4gJvAQAA//////////////////////////////////////////////////+6817o4t0q1BvLocKruiqzFKxfpQGf9Jgwk7CNb4hog5d++HmIdUNxJm0waV1lrGEaXqZaTlcQVOxQ303oSgdIO0WBQto/RD2+Okk44zWLM0AxBC/TLK8qliiJJoYkjSKeILge2xwHGzwZeBe8FQcUWRKyEBIPeA3jC1UKzAhJB8oFUQTcAmwBAAD//////////////////////////////////////////////////+/yN+eU3MrStck5wUS5yLG3qgiksp2tl/KRe4xDh0aCfn3oeIF0RXAxbERoeWTRYEdd21mLVlVTOFAyTUNKaEeiRO9BTj++PD46zzduNRsz1jCeLnMsVCpAKDcmOCREIlkgdx6fHM8aBxlHF44V3RMzEo8Q8g5cDcsLQAq6CDoHvgVIBNYCaQEAAP//////////////////////////////////////////////////c/GJ5efaJdEXyKK/tbdBsDmplKJInE2WnZAyiwWGEoFVfMl3bHM7bzFrTWeMY+xfa1wIWcBVklJ9T39Ml0nDRgREWEG9PjM8ujlQN/U0qDJpMDYuECz2Kecn4iXoI/ghEiA1HmAclBrQGBQXYBWyEwwSbBDSDj8NsQsqCqcIKgeyBT8E0AJmAQAA////////////////////////////////////////////////3fgI7iPj2Ng6z0HG2738tZWumqcCocOa1pQzj9SJs4TNfxx7nHZLciRuJWpLZpRi/l6HWy1Y7lTIUbtOxUvlSBlGYUO8QCg+pTsyOc42eTQyMvgvyy2qK5UpiyeMJZYjqyHJH/AdIBxYGpkY4RYwFYYT4xFHELEOIg2YCxMKlAgaB6UFNQTKAmMBAAD////////////////////////////////////////////////v9UDrq+CU1hjNNsTluxi0wqzZpVGfI5lFk7GNYYhPg3d+03lgdRtxAW0NaT9lk2EHXppaSlcUVPdQ800FSy1IaUW5QhtAjj0SO6U4SDb5M7gxhC9dLUIrMiktJzIlQiNcIX4fqh3eGxsaXxirFv8UWRO6ESIQkA4DDX0L/AmACAoHmQUsBMQCYAEAAP///////////////////////////////////////////////zT07Og63i3Uxsr7wcG5CrLKqvajgp1ml5uRGYzahtiBD316eBZ032/Ra+pnKGSIYAddpVleVjJTIFAkTUBKcEe0RAxCdT/wPHs6FTi/NXYzOzENL+ws1irMKMwm1yTsIgohMh9iHZsb3BklGHUWzBQrE5AR+w9tDuQMYgvkCWwI+QaLBSIEvQJcAQAA////////////////////////////////////////////////mfKW5qjbltFAyI6/b7fTr6yo8KGUm4+V2I9qij6FToCWexJ3vXKVbpVqvGYHY3Nf/lunWGtVSlJBT09MdEmtRvpDWUHLPk083zmBNzE18DK7MJMueCxoKmMoaSZ6JJQityDjHhkdVhucGekXPRaZFPwSZRHUD0oOxQxGC8wJWAjoBn4FGAS2AlkBAAD///////////////////////////////////////////////9P8MXjwNi7zn/F7bzttHGtaabJn4eZm5P9jaWIjoOyfg16mnVXcT5tTmmDZdthVF7sWqFXcVRaUVxOdEuiSOVFOkOiQBw+pjtAOek2oTRmMjgwFy4BLPcp+CcEJhokOSJiIJMezRwQG1oZqxcEFmQUyxI4EawPJQ6lDCkLtAlDCNcGcAUOBLACVgEAAP////////////////////////////////////////////+g96rrD+Be1Y3LfcIUujyy5ar/o4CdXZeOkQmMyobKgQR9dHgUdOJv22v7Zz9kpmAtXdJZk1ZvU2RQcE2TSstHF0V2Quc/aT37Op04TjYMNNkxsi+XLYgrhCmLJ50luCPdIQsgQR6AHMgaFhltF8oVLxSaEgsRgw8ADoQMDAuaCS0IxQZiBQMEqQJSAQAA/////////////////////////////////////////////3DzUOcE3KDREMg5vwS3W68vqHKhGJsXlWaP/4nbhPR/RXvKdn9yYW5sapxm8WJnX/1bsFh+VWZSZ09/TKxJ70ZFRK1BJz+yPEw69jevNXUzSDEoLxQtDCsPKRwnMyVUI38hsh/uHTIcfhrSGC0XjxX4E2gS3RBZD9sNYgzvCoEJGAizBlQF+AOiAk8BAAD/////////////////////////////////////////////jO/J4qXXjc1JxLe7v7NNrFOlwp6QmLWSJo3fh9eCC352eRJ13XDTbPFoNGWZYSBexFqFV2FUV1FkTodLwEgNRm1D30BjPvc7mjlMNw012jK1MJwujyyOKpcoqibIJO4iHyFXH5kd4hszGowY7BZTFcATNBKvEC8PtQ1ADNEKZgkBCKEGRQXuA5oCSwEAAP//////////////////////////////////////////QfXV6Evdx9IjyT3A/LdJsBWpUaLym+2VOZDQiqqFwoASfJd3THMubzlra2fBYzlgz1yEWVRWPlNBUFpNikrORyZFkUINQJo9NzvkOJ82ZzQ9Mh8wDi4ILA0qHSg2JlokhyK9IPseQh2RG+cZRRiqFhUViBMAEn8QAw+ODR0MsgpMCesHjgY2BeIDkwJIAQAA////////////////////////////////////////Zffr7O/hZteSzXHE9rsOtKist6UvnwWZL5OmjWSIYoObfgl6qnV5cXNtlWncZUViz153WzxYG1UUUiVPS0yISdhGO0SxQTc/zjx1Oio47jW/M50xhy99LX4riimgJ8El6yMeIlkgnh7qHD4bmhn9F2cW1xROE8sRTxDXDmYN+guTCjEJ1Ad7BicF1wOMAkQBAAD///////////////////////////////////////9N8cHlONte0SfIjL+At/av4qg5ovCb/ZVakP+K5oUJgWR88newc5pvrWvmZ0NkwGBdXRda7VbcU+RQA043S4BI3UVMQ8xAXj7/O685bTc6NRMz+TDsLuks8ioFKSInSSV5I7Mh9B8/HpEc6hpLGbMXIhaYFBQTlhEdEKsOPg3WC3MKFQm8B2gGGAXMA4QCQAEAAP////////////////////////////////////+o9PHoRd5s1DnLmcKBuuayvqv/pKCemJjgknGNRYhXg6F+IHrPdatxsG3daS5moWI0X+RbsViYVZdSr0/cTB5KdEfdRFhC5D+APSs75jiuNoM0ZTJUME4uUyxjKn4ooibQJAcjRiGOH94dNhyVGvwYaRfdFVgU2BJfEewPfg4VDbILUwr6CKUHVAYIBcADfAI8AQAA//////////////////////////////////8G9YXqRuCc1onNAMX0vF61M65tpwSh8ZoslbCPd4p8hbqALHzPd6Bzm2+9awRobmT4YKBdZVpEVz1UTVF0TrBLAUlkRtpDYUH4Pp88VToZOOs1yjO1Mawvri28K9Mp9ScgJlUkkiLYICYffB3aGz8aqxgeF5cVFxScEigRuQ9QDuwMjQszCt4IjQdABvgEtQN1AjgBAAD///////////////////////////////+H9Gnq3uCy1/HOoca/vkS3LLBxqQ2j+pwzl7KRc4xwh6aCEX6seXV1aHGCbcJpJGanYkhfBlzfWNJV3FL+TzVNgErfR1BF00JmQAk+vDt8OUs3JjUOMwIxAi8NLSIrQSlqJ50l2CMcImkgvR4ZHX0b6BlZGNEWUBXVE2AS8BCGDyEOwgxoCxIKwQh1BywG6QSpA20CNQEAAP//////////////////////////H/cI8Zvo+d+C10rPXsfGv4O4lLH2qqiko57lmGqTLY4riV+Ex39feyN3EnMnb2Jrv2c9ZNlgkl1nWlRXW1R4UapO8ktMSbpGOUTJQWg/Fz3VOqA4eTZfNFAyTTBWLmkshiqtKN4mGCVaI6Uh+B9THrUcHxuPGQcYhBYIFZITIhK4EFIP8w2YDEIL8QmkCFwHGAbYBJ0DZQIxAQAA////////////////////////svQ07A/lm90H1oHOIMf0vwW5WLLtq8Wl3583ms2UnI+iit2FSIHhfKZ4lHSpcOFsPGm3ZVFiB1/YW8NYxVXfUg9QU02rShVIkUUeQ7tAaD4jPOw5wjemNZUzkDGXL6gtxCvpKRgoUCaSJNsiLSGGH+gdUBzAGjYZsxc2FsAUTxPkEX8QHg/DDW0MHAvPCYcIQwcEBsgEkQNdAi0BAAD////////////////N9pPyou6w57ngD9pc05zM4cU+v724abJGrFimoKAdm8+VtpDOixWHi4Itfvd56XUBcjtul2oSZ6tjYGAwXRlaG1czVGBRo075S2FJ20ZmRAFCrD9lPSw7ATniNtA0yjLPMN4u+SwdK0opgifBJQokWyKzIBQfex3qG2Aa3BhfF+gVdxQLE6URRRDqDpQNQgz2Cq0JaggqB+8FuASEA1UCKQEAAP//5fT+8vvxwfCR7sDpcuX34Hfbn9W1z7jJr8Omvai3wrH6q1em3KCMm2iWcJGkjAKIioM6fxF7DHcqc2tvy2tJaOVknGFtXlZbWFhwVZ1S3080TZxKFUifRTlD4kCaPmA8NDoUOAA2+TP9MQswJC5ILHQqqyjqJjElgSPZITkgoB4OHYMb/xmBGAoXmRUtFMcSZhELELUOYw0XDM8KiwlMCBEH2gWnBHgDTAIlAQAAMeka59Llj+Tl4nbg9Nwf2e/UOdAvy/fFocA6u8y1YbAEq7yljqB+m5CWxZEejZyIPoQEgOx79nchdGxw1GxZafpltmKKX3dce1mVVsNTBlFbTsNLPUnGRmBECULBP4c9WTs5OSU3HTUgMy4xRy9pLZYryykKKFEmoCT4Ilchvh8rHqAcHBueGSYYtBZJFeMTghInEdAPfw4zDesLqAppCS4I+AbFBZcEbANEAiABAADC2i7aRdkG2FLWBtQX0bnN+snaxW/B0bwPuDazUa5qqYeksp/vmkKWr5E3jd2IooSEgIV8pHjhdDpxr20/aulmrGOHYHldgVqeV9BUFVJtT9ZMUUrcR3dFIEPZQJ4+cjxROj44NTY4NEYyXzCBLq0s4iohKWgntyUOJG0i1CBBH7YdMhy0GjwZyhdeFvgUmBM9EucQlg9JDgINvwuBCkYJEAjeBrAFhgRfAzwCHAEAAKHOVs6YzXDM1srAyDDGOMPkvz+8V7g8tPuvn6szp7+iTJ7emXyVKpHrjMKIsIS3gNd8EXlkddFxV272aqxnemReYVheZ1uLWMJVC1NmUNNNUUveSHtGJkTgQac/ez1cO0g5QTdENVMzbDGOL7ot8CsuKnUoxSYcJXsj4iFQIMUeQB3CG0sa2RhuFwgWqBRNE/cRphBaDxMO0QyTC1kKJAnyB8UGmwV1BFMDNAIYAQAArsN0w8/CwsFMwGy+JryEuZC2U7PZry2sXKhvpG6gYpxRmEGUOJA5jEiIZ4SZgN98OXmpdS9yym58a0JoHmUPYhRfLFxYWZZW5lNHUbhOOkzLSWtHGUXVQp5AdD5XPEU6PzhENlM0bTKQML0u8ywyK3opyichJoEk6CJWIcsfRx7KHFMb4Rl2GBEXsRVWFAETsRFlEB8P3Q2fDGYLMQoBCdQHqwaGBWQERgMrAhQBAACguW6527jot5a26LThsomw5q0Dq+ennKQtoaCd/plOlpWS244ii3CHxoMpgJp8G3msdU9yBW/Na6holmWWYqlfzVwEWktXo1QLUoRPC02hSkZI+EW3Q4RBXT9CPTM7Ljk1N0Y1YTOGMbQv6y0rLHQqxSgdJ34l5SNUIsogRx/KHVMc4hp4GRMYtBZaFQUUtRJqESUQ4w6mDW4MOgsKCt4ItQeRBnAFUwQ5AyMCEAEAAFiwLLCor82una0crEyqM6jXpUCjdqB/nWSaLZffk4GQGI2qiTuGzoJnfwl8tHhsdTJyBm/pa9xo3mXyYhVgSF2MWt9XQVWzUjRQwk1fSwpJwUaGRFdCNEAcPhA8DjoYOCs2SDRvMp8w2C4ZLWMrtSkPKHEm2SRJI8AhPSDBHkwd3BtyGg4ZrxdWFgIVsxNpEiQR4w+nDnANPAwNC+IJugiXB3cGWwVCBC0DGgIMAQAAwaeZpyOnXqZNpfOjUqJwoFKe/pt6mc2W/ZMQkQ2O+IrXh6+EgoFVfit7B3jpdNVxy27Na9to92UgY1dgnF3vWlBYv1U8U8dQX04ETLZJdEc/RRVD90DkPtw83jrrOAE3ITVLM30xuC/8LUgsmyr3KFonxCU1JK0iLCGxHzwezRxlGwEapBhLF/gVqhRhEx0S3RCiD2sOOQ0KDOAKugmXCHgHXQZFBTEEIAMSAgcBAADJn6WfOp+JnpSdXJzlmjOZS5cwleqSfZDvjUWLhIixhdCC5n/3fAR6E3cjdDlxVW55a6Zo3WUfY21gxl0rW51YG1amUzxR306OTElKEEjhRb5DpkGZP5Y9nTuuOcg37DUYNE4yizDSLiAtdivTKTgopCYXJZEjESKXICQftx1PHO0akRk6GOgWmxVTFA8T0RGWEGEPLw4CDdgLswqRCXQIWQdDBi8FIAQTAwoCAwEAAGCYQJjfl0CXYpZJlfaTbpK1kM2OvYyJijSIxYU/g6eAAX5Qe5h423Udc19wpG3tajtokWXvYlZgxl1AW8VYVFbuU5NRQk/9TMJKkkhtRlJEQUI6QD0+STxfOn44pjbXNBAzUTGbL+wtRCykKgwpeifvJWsk7SJ1IQMglx4xHdEbdhogGc8XhBY9FfsTvRKEEVAQHw/zDcsMpguGCmkJUAg7BykGGgUOBAYDAQL/AAAAeJFbkQSRc5Crj6yOeo0XjIaKzIjrhumEyIKNgDx+2Xtneep2ZHTYcUlvuWwqap1nFGWQYhJgnF0tW8ZYaVYUVMlRh09OTSBL+0jfRs5ExULGQNA+4zz/OiQ5UTeGNcQzCTJWMKsuBy1qK9QpRSi8JjolviNJItkgbx8LHqwcUxv+Ga8YZRcgFt8UoxNrEjgRCRDeDrcNlAx1C1kKQQktCBwHDgYEBf0D+QL5AfsAAAAFi+uKnIoZimOJfIhmhyOGt4Qkg22Bl3+kfZh7d3lDdwF1snJacPttmGsyactmZWQCYqJfR13xWqJYWVYYVN5RrE+DTWJLSUk5RzJFM0M9QU8/aj2MO7c56jclNmg0sjIDMVwvvC0iLJAqBCl+J/8lhiQTI6UhPiDbHn8dJxzVGocZPxj7FrwVgRRLExkS7BDCD5wOew1dDEMLLAoZCQkI/Qb0Be8E7APtAvAB9wAAAPyE5ISchCWEf4OtgrCBioA+f859PHyNesN44XbrdOJyy3CmbnhsQ2oHaMhliGNGYQZfyFyNWlZYJVb4U9JRsk+ZTYdLfEl5R31FiUOdQbk/3D0GPDk6cji0Nvw0SzOiMf8vZC7OLEArtyk1KLkmQyXSI2giAiGjH0ge8xyjG1caERnPF5EWWBUkFPQSyBGfEHsPWw4/DSYMEQv/CfEI5gfeBtoF2QTbA+AC6AHyAAAAU389f/t+j374fTh9UXxEexR6w3hTd8d1InRmcpVwtG7DbMVqvmiuZpdkfGJfYD9eIFwCWuVXzFW2U6RRmE+QTY9Lk0meR7BFyEPnQQxAOT5tPKc66DgxN4A11TMxMpQw/S5tLeIrXirgKGcn9CWHJCAjvSFgIAgfth1oHB4b2hmaGF8XKBb1FMcTnBJ2EVMQNQ8aDgMN7wvfCtIJyQjDB8AGwAXDBMoD0wLfAe4AAAABeu15sXlOecR4FXhBd0t2NHX+c6xyQHG7byFuc2y0audoDWcoZTtjR2FNX1BdUFtPWU9XT1VRU1ZRXk9qTXpLj0mpR8lF7kMZQkpAgT6/PAI7TDmcN/I1TzSxMhoxiS/9LXgs+Cp+KQoomyYxJc0jbiIUIb8fbx4kHd0bmxpdGSQY7xa/FZIUahNFEiURCBDvDtkNxwy4C60KpQmhCKAHoQamBa4EuQPGAtcB6gAAAP907XS2dFt03XM8c3pymHGXcHpvQ27ybItrEGqBaOJmNWV7Y7dh6V8UXjpcW1p4WJRWr1TLUudQBU8lTUhLb0mZR8hF/EM0QnFAtD78PEk7nDn1N1M2tzQhM5AxBTCALgAthSsQKqAoNSfQJW8kFCO9IWwgHx/WHZIcUxsYGuEYrxeBFlYVMBQNE+8R1BC8D6kOmA2LDIILfAp5CXkIfAeDBowFmASoA7oCzgHmAAAAR3A2cANwsG88b6hu9W0lbTlsMmsTattoj2cvZr1kO2OrYQ9gaF63XP9aQVl+V7hV7lMjUlhQjU7CTPlKM0lvR65F8EM3QoJA0T4kPXw72jk8OKM2DzWBM/cxczD0LnotBSyVKiopxCdjJgYlryNcIg4hxB9/Hj8dAhzKGpYZZhg6FxIW7hTOE7ESmBGDEHEPYw5YDVAMTAtLCkwJUQhZB2QGcgWDBJcDrQLGAeIAAADRa8JrlGtHa9xqVGqvae9oFWgiZxdm92TDY3xiJGG8X0dexVw5W6RZB1hjVrpUDVNdUapP901CTI5K20gqR3pFzUMiQntA1z43PZs7AzpwOOA2VTXPM04y0TBZL+UtdiwMK6cpRijqJpIlPyTwIqYhYCAfH+EdqBxzG0IaFRnrF8YWpRWHFGwTVhJDETMQJg8dDhgNFQwWCxoKIAkqCDcHRgZZBW4EhgOgAr4B3gAAAJpnjGdhZxpnt2Y6ZqFl8GQmZEVjTmJCYSRg816zXWNcB1ueWStYrlYqVZ9TDlJ4UOBORE2nSwhKaUjLRi1FkUP2QV5AyD41PaY7GTqQOAs3ijUNNJQyHzGuL0Iu2ix2KxYquyhkJxImwyR5IzMi8SC0H3oeRB0THOUauxmUGHIXUxY4FSAUDBP7Ee0Q4w/cDtgN2AzbC+AK6Qn0CAMIFAcoBj8FWQR1A5QCtQHZAAAAnGOPY2djJWPKYlZiyWEkYWlgmF+zXrpdr1yTW2haL1noV5ZWOlXUU2dS8lB4T/lNdkzwSmhJ3kdTRshEPUOzQStAoz4ePZw7HDqeOCQ3rTU6NMoyXTH1L5AuLy3SK3kqJCnTJ4UmPCX3I7YieCE/IAkf1x2pHH4bWBo1GRUY+RbgFcsUuhOrEqARmBCUD5IOlA2ZDKALqwq4CckI3AfyBgoGJgVEBGQDhwKtAdUAAADSX8ZfoV9lXxBfpF4hXold21wYXENbW1piWVlYQVccVupUrVNmUhZRvU9eTvlMjksgSq5IOUfDRUtE0kJZQeE/aT7zPH47CjqZOCs3vzVVNO8yjDEsMM8udi0gLM4qfyk0KO0mqSVpJC0j9CG/II4fYB41HQ8c7BrMGbAYlxeBFm8VYBRUE0wSRxFEEEUPSQ5QDVoMZgt2CogJnQi1B88G7QUMBS8EVAN7AqUB0QAAADpcLlwMXNRbhVshW6daGVp3WcJY+1cjVztWQ1U9VCpTC1LhUK5PcU4sTeFLj0o4SdxHfUYbRbdDUULqQII/Gj6zPEw75jmCOB83vjVgNAQzqjFTMP8uri1gLBUrzSmJKEgnCibQJJkjZSI1IQgg3h64HZYcdhtaGkEZLBgaFwoW/xT2E/AS7RHuEPEP9w4ADgwNGwwtC0EKWAlyCI4HrQbPBfMEGgRDA28CnQHNAAAAz1jEWKRYcFgnWMlXWFfUVj1WlFXaVBBUNlNOUllRV1BJTzFOD03lS7JKeUk5SPVGq0VeRA1DukFlQA4/tz1ePAY7rzlXOAE3rTVZNAgzuDFrMCAv2C2SLE8rDirRKJYnXyYqJfkjyyKgIXggUx8xHhMd+BvfGsoZuBipF54WlRWPFIwTjBKPEZUQng+qDrgNyQzdC/QKDQopCUcIaAeMBrIF2gQFBDMDYwKVAckAAACOVYRVZlU1VfFUmlQwVLVTKFOKUtxRH1FTUHlPk06hTaNMm0uKSnFJT0gnR/hFxESLQ09CD0HMP4Y+Pz33O646ZTkbONI2ijVCNPwytzFzMDIv8i21LHorQioLKdgnpyZ5JU4kJSMAIt0gvR+gHoYdbxxbG0oaPBkxGCgXIxYgFSEUJBMqEjIRPhBMD10OcQ2HDKALuwrZCfoIHQhCB2oGlQXCBPEDIgNWAo0BxQAAAHRSa1JPUiJS4lGRUS5RulA2UKNPAE9OTo9Nw0zqSwZLGEofSR1IE0cBRulEykOmQn1BUEAfP+w9tTx9O0M6CTnNN5E2VjUaNN8ypTFsMDUv/y3LLJgraCo5KQ0o4ya8JZckdCNVIjchHSAFH/Ad3RzOG8EatxmvGKsXqRaqFa0UsxO8EsgR1hDnD/sOEQ4qDUUMYwuDCqYJywjzBx0HSQZ4BakE3QMSA0oChQHBAAAAf093T11PMk/3TqpOTk7iTWZN3ExDTJxL6UopSl1JhkilR7pGx0XMRMhDv0KvQZlAfz9hPj89GTzxOsc5mzhuN0A2ETXiM7MyhDFWMCkv/S3SLKgrgCpaKTYoEyfzJdQkuCOeIochciBfH08eQh03HC4bKBolGSQYJhcrFjIVOxRHE1YSZxF7EJIPqg7GDeQMBAwmC0sKcwmdCMkH9wYoBlsFkQTIAwIDPgJ9Ab0AAACtTKVMjUxlTC1M5UuPSylLtUozSqRJB0leSKlH6UYfRkpFbUSHQ5lCo0GnQKU/nj6SPYE8bTtVOjo5HTj/Nt41vTSaM3cyVDExMA8v7S3LLKsrjCpuKVEoNicdJgYl8SPdIswhvSCwH6UenB2WHJIbkRqSGZUYmxejFq4VuxTLE90S8REIESEQPQ9bDnsNngzDC+sKFApBCW8IoAfTBggGPwV5BLUD8wIzAnUBuQAAAPtJ80ndSbdJg0k/Se5Ij0giSKdHIEeNRu5FQ0WORM9DB0M1QltBekCRP6I+rT2zPLQ7sDqoOZ44kDd/Nm01WTRDMy0yFjH+L+Yuzi23LKAriip1KWEoTic8JiwlHiQRIwYi/SD1H/Ae7R3sHO0b8Br2Gf0YBxgUFyIWMxVGFFsTcxKNEakQyA/pDgwOMg1ZDIMLsAreCQ8JQgh3B64G5wUjBWEEoQPjAicCbQG2AAAAZ0dgR0pHJ0f2RrdGakYQRqpFN0W4RC1El0P2QktClkHZQBJARD9uPpI9rzzGO9g65TntOPI38zbxNe005jPeMtQxyDC8L7Auoi2VLIgreypvKWMoWSdPJkYlPyQ5IzUiMiExIDEfNB44HT4cRhtRGl0Zaxh7F44WoxW5FNIT7hILEioRTBBwD5YOvg3pDBUMRAt1CqgJ3QgVCE4HigbIBQcFSQSNA9MCGwJmAbIAAADvROhE1ESzRIVESUQBRK1DTEPgQmhC5UFXQb9AHkBzP78+Az5APXU8pDvMOu45DDkkODg3SDZVNV80ZjNqMm0xbjBtL2wuaS1mLGMrYCpdKVooWCdWJlUlViRXI1kiXSFiIGkfcR57HYYckxuiGrMZxhjbF/IWChYlFUIUYBOBEqQRyRDwDxkPRA5yDaEM0gsGCzsKcwmtCOgHJgdmBqgF7AQyBHoDxAIQAl4BrgAAAJJCjEJ5QlpCLkL2QbJBYkEHQaFAMEC0Py4/nj4FPmQ9uTwHPE47jTrGOfk4JjhON3I2kTWsNMMz2DLpMfkwBjARLxsuIy0rLDIrOCo/KUUoSydSJlklYSRpI3MifSGJIJYfpB6zHcQc1xvrGgEaGBkyGE0XahaIFakUyxPwEhYSPxFpEJUPww7zDSYNWgyQC8gKAgo+CX0IvQf/BkMGiQXRBBsEZwO1AgUCVgGqAAAATkBIQDZAGUDwP7s/ez8wP9k+eT4OPpk9Gj2SPAE8aDvHOh46bTm3OPk3NjdtNqA1zTT2MxwzPTJcMXgwkS+oLr0t0SzjK/QqBSoVKSQoMydCJlElYSRxI4IikyGmILkfzR7jHfkcERwrG0YaYhmAGKAXwRbkFQgVLxRXE4ESrRHaEAoQOw9vDqQN2wwUDE4LiwrKCQoJTQiRB9gGIAZqBbYEBARUA6YC+QFPAacAAAAiPhw+Cz7wPck9lz1aPRM9wjxmPAE8kjsaO5k6EDp/OeY4RTieN/A2PDaCNcM0/jM1M2gylzHDMOsvES8zLlQtcyyQK6sqxinfKPgnECcnJj8lVyRuI4YinyG4INIf7R4IHiUdQxxiG4IaoxnGGOoXEBc3FmAVihS3E+QSFBJFEXgQrA/jDhsOVQ2RDM4LDgtPCpIJ1wgeCGcHsQb9BUwFnATuA0EDlwLuAUgBowAAAAw8Bzz3O907uDuJO087DDu/Omg6CDqfOS45tDgxOKc3Fjd9Nt41OTWNNNwzJjNqMqsx5zAfMFMvhS60LeAsCSwxK1cqeymeKMAn4SYCJiIlQiRhI4EioSHBIOIfAx8lHkcdaxyPG7Ua2xkDGSwYVxeDFrAV3hQOFEATcxKoEd4QFhBQD4wOyQ0HDUgMigvOChQKWwmlCPAHPAeLBtsFLgWCBNcDLwOIAuQBQQGfAAAACzoGOvc53jm8OY85WTkZOdA4fjgjOL83VDfgNmQ24TVWNcU0LjSQM+0yRDKWMeMwLDBxL7Eu7y0pLWAslSvHKvgpJilTKH4nqCbSJfokIiRKI3EimSHAIOcfDx84HmAdihy0G98aCxo4GWYYlhfGFvgVKhVfFJQTyxIEEj4RehC3D/UONg53DbsMAAxHC48K2QklCXMIwgcTB2UGugUQBWgEwQMdA3oC2QE5AZwAAAAfOBo4DDj0N9M3qTd1Nzk39DamNlA28TWLNR01pzQqNKczHTOMMvYxWjG5MBMwaC+5LgYuTy2VLNcrFytUKo4pxyj9JzInZiaYJckk+SMpI1gihyG1IOQfEx9BHnEdoBzQGwEbMxplGZgYzBcBFzgWbxWnFOETHBNZEpcR1hAWEFgPnA7hDScNbwy5CwQLUQqgCfAIQQiVB+oGQAaZBfMETgSsAwsDbALOATIBmAAAAEU2QTYzNh02/TXVNaU1azUpNeA0jjQ0NNIzajP6MoMyBjKCMfkwajDVLzsvnC75LVItpiz3K0UrjyrWKRspXiieJ9wmGSZUJY4kxiP+IjUibCGhINcfDR9CHngdrhzkGxobURqJGcIY+xc1F3AWrBXpFCcUZhOmEugRKxFvELUP+w5EDo0N2QwlDHMLwwoUCmcJuwgRCGgHwQYcBngF1gQ1BJYD+QJeAsQBKwGVAAAAfTR5NGw0VzQ5NBM05TOvM3AzKjPcMocyKjLGMVwx6zBzMPYvcy/qLlwuyS0yLZYs9StRK6oq/ylQKZ8o7Cc1J30mwyUHJUkkiiPKIgkiRyGFIMEf/h46HnYdshzvGysbaBqlGeMYIRhgF6AW4RUiFWUUqBPtEjISeRHBEAoQVA+gDu0NOw2LDNwLLwuDCtgJLwmHCOEHPAeZBvgFWAW5BB0EgQPoAlACuQElAZEAAADHMsMytzKiMoYyYjI2MgIyxzGEMTox6TCQMDEwzC9gL+8udy76LXct8CxjLNIrPSukKgcqZinCKBsocSfEJhUmZCWxJPwjRSONItQhGiFfIKMf5x4qHmwdrxzxGzQbdxq5Gf0YQBiEF8kWDxZVFZwU4xMsE3YSwBEMEVkQpw/2DkYOmA3rDD8MlAvrCkMKnQn4CFQIsgcRB3IG1AU4BZ0EBARtA9cCQgKvAR4BjgAAACAxHDERMf4w4zDAMJcwZTAtMO0vpy9ZLwUvqy5KLuMtdy0FLY0sESyPKwkrfirvKVwpxigsKI4n7iZLJqUl/SRTJKYj+CJIIpch5CAxIHwfxx4RHlodoxzsGzQbfRrGGQ4ZVxihF+oWNRaAFcsUFxRkE7ISARJQEaEQ8g9FD5kO7g1EDZsM9AtNC6gKBQpiCcEIIgiDB+cGSwaxBRkFggTsA1gDxgI1AqUBFwGLAAAAiS+GL3svaC9PLy4vBi/XLqIuZS4iLtgtiC0yLdUscywMLJ8rLSu1KjoquSk0KawoHyiPJ/smZCbKJS0ljiTsI0gjoyL7IVEhpyD6H00fnx7wHUAdjxzeGy0bfBrKGRgZZxi2FwQXVBajFfMURBSVE+cSOhKOEeIQOBCOD+UOPQ6XDfEMTQyqCwgLZwrHCSkJjAjwB1YHvQYlBo8F+gRnBNUDRAO1AicCmwERAYgAAAABLv0t8y3iLcktqi2ELVctJC3qLKosZCwYLMUrbSsQK60qRSrXKWUp7yh0KPUncifrJmEm0yVCJa4kGCR/I+MiRSKmIQQhYSC8HxYfbx7HHR4ddBzJGx4bcxrHGRsZbxjDFxcXaxbAFRUVahTAExYTbRLFER0RdhDQDysPhw7kDUENoAwADGELwwomCosJ8AhXCL8HKQeUBgAGbQXcBEwEvQMwA6UCGgKRAQoBhAAAAIcsgyx5LGksUSw0LBAs5Su0K30rQCv9KrQqZSoRKrgpWSn2KI0oICivJzknvyZCJsAlPCW0JCgkmyMKI3ci4SFJIbAgFCB3H9geOB6XHfQcURytGwgbYhq9GRYZcBjJFyIXfBbVFS8ViRTjEz4TmRL1EVERrhAMEGsPyg4qDosN7QxQDLULGguACucJTwm5CCQIjwf9BmsG2wVMBb4EMQSmAx0DlAINAogBBAGBAAAAGSsWKw0r/SrnKsoqqCp/KlEqHCriKaIpXCkRKcEoaygRKLEnTSflJngmCCaTJRslnyQfJJ0jFyOPIgQidiHmIFQgwB8qH5Me+h1fHcMcJxyJG+oaSxqrGQoZahjIFycXhRbkFUIVoRQAFF8TvxIfEn8R4BBCEKQPBw9rDs8NNQ2bDAIMagvTCj0KqQkVCYII8QdgB9EGQwa2BSsFoAQYBJADCQOEAgECfgH+AH4AAAC5KbYprSmeKYkpbilNKSYp+SjHKI8oUigQKMgneycpJ9MmeCYYJrQlTCXgJHAk/COFIwsjjiINIoohBSF8IPIfZR/XHkYetB0hHYwc9RteG8YaLBqSGfgYXBjBFyUXiBbsFU8VsxQWFHoT3hJCEqcRDBFxENcPPg+lDg0Odg3gDEoMtQshC44K/AlrCdsITQi/BzIHpgYcBpMFCgWEBP4DegP3AnUC9AF1AfcAewAAAGUoYihZKEsoNygdKP0n2CeuJ34nSCcOJ84miiZAJvIlnyVIJewkjCQpJMEjViPnInUi/yGHIQshjSANIIofBR99HvQdaR3cHE0cvhstG5oaBxpzGd4YSBiyFxwXhBbtFVUVvhQmFI4T9xJfEsgRMRGbEAUQbw/aDkYOsg0fDYwM+wtqC9oKSwq9CS8JowgYCI4HBAd8BvUFbwXrBGcE5QNkA+QCZQLoAWwB8QB4AAAAHCcZJxEnAyfwJtcmuSaWJm0mPyYMJtQllyVWJQ8lxCR1JCIkyiNuIw4jqyJEItohbCH7IIcgESCYHxwfnh4dHpsdFx2RHAkcfxv1Gmka3BlNGb4YLhidFwwXehboFVUVwhQvFJwTCRN2EuMRUBG+ECwQmg8JD3gO5w1YDckMOgytCyALkwoICn4J9AhsCOQHXQfYBlMGzwVNBcwESwTMA04D0gJWAtwBYwHrAHUAAADeJdwl1CXHJbQlnSWAJV4lNyULJdokpSRrJCwk6COhI1UjBCOwIlgi/CGdIToh1CBrIP4fjx8dH6keMh64HT0dvxxAHL4bOxu3GjEaqhkhGZgYDRiCF/YWahbdFU8VwRQzFKQTFROHEvgRahHbEE0Qvw8xD6QOGA6LDQANdAzqC2AL1wpOCscJQAm6CDUIsQcuB6wGKgaqBSsFrQQwBLQDOQPAAkcC0AFaAeYAcgAAAKskqSShJJUkgyRsJFEkMCQLJOEjsyN/I0cjCyPLIoYiPSLwIaAhSyHzIJcgOSDWH3EfCR+eHjEewB1OHdkcYhzpG24b8RpzGvMZchnvGGwY5xdhF9sWUxbLFUIVuRQwFKYTHBOSEgcSfRHzEGgQ3g9VD8sOQg65DTENqQwiDJsLFQuPCgsKhwkECYEIAAh/B/8GgAYCBoUFCgWPBBUEnAMlA64COQLFAVIB4ABvAAAAgiOAI3kjbSNcI0YjLCMNI+kiwSKUImMiLiL0IbYhdCEuIeUglyBGIPIfmh8+H+Aefx4bHrQdSx3fHHAcAByNGxgbohoqGrAZNRm4GDoYuhc6F7kWNxa0FTAVrBQnFKITHBOXEhESihEEEX4Q+A9yD+wOZw7hDV0N2AxUDNELTgvLCkkKyAlICcgISQjLB04H0QZWBtsFYgXpBHEE+gOFAxADnQIqArkBSQHaAGwAAABjImEiWiJOIj4iKSIQIvIh0CGqIX8hUCEdIeUgqiBrICgg4R+XH0kf+B6jHkwe8R2UHTMd0BxrHAMcmRssG74aThrbGWcZ8hh7GAIYiRcOF5IWFRaXFRgVmRQZFJgTFxOWEhQSkhEQEY4QDBCKDwgPhg4EDoMNAg2BDAEMgQsCC4MKBQqHCQoJjggSCJgHHgekBiwGtQU+BckEVATgA24D/AKMAhwCrgFBAdUAagAAAE0hSyFEITkhKiEWIf4g4SDAIJsgciBFIBQg3x+mH2kfKR/lHp4eUx4FHrQdYB0JHa8cUhzzG5IbLhvHGl8a9BmIGRoZqhg5GMYXURfcFmUW7RV0FfsUgBQFFIkTDROQEhMSlREXEZkQGxCcDx4PoA4iDqQNJg2pDCwMrwszC7cKPArBCUcJzghVCNwHZQfuBngGAwaPBRwFqQQ3BMcDVwPpAnsCDgKjATgBzwBnAAAAQCA+IDcgLSAeIAsg9B/YH7kflh9uH0MfFB/hHqoecB4yHvEdrR1lHRodzBx7HCcc0Rt4GxwbvhpeGvsZlxkwGcgYXRjyF4QXFRelFjMWwRVNFdgUYhTsE3UT/RKEEgsSkhEYEZ4QJBCqDy8PtQ46DsANRg3MDFIM2QtfC+cKbgr2CX8JCAmSCB0IqAczB8AGTQbbBWoF+gSKBBsErgNBA9UCawIBApgBMAHKAGQAAAA7HzkfMx8pHxofCB/yHtgeuh6YHnIeSR4bHuodth1+HUMdBB3CHH4cNhzrG50bTBv5GqMaSxrxGZQZNRnUGHEYDBimFz4X1BZpFv0VjxUgFbAUPxTOE1sT6BJ0Ev8RihEUEZ4QKBCyDzsPxA5ODtcNYA3pDHMM/QuHCxELnAonCrIJPgnLCFgI5Qd0BwMHkgYjBrQFRQXYBGwEAASVAysDwgJaAvMBjQEoAcUAYgAAAD4ePB43Hi0eHx4OHvgd3x3CHaIdfh1WHSod+xzJHJQcWxweHN8bnRtYGxAbxRp3Gica1RmAGSkZzxh0GBcYtxdWF/MWjxYpFsIVWRXvFIQUGBSqEzwTzhJeEu4RfRELEZoQJxC1D0IPzw5cDugNdQ0CDY8MHAypCzcLxApSCuEJbwn/CI4IHwivB0EH0wZmBvkFjQUiBbcETgTlA30DFgOwAksC5gGDASEBvwBfAAAASh1IHUIdOR0sHRsdBh3uHNMcsxyRHGocQRwUHOMbsBt5Gz8bAxvDGoAaOxrzGakZWxkMGboYZhgQGLgXXhcCF6QWRRbkFYIVHhW5FFMU6xODExkTrxJDEtcRaxH+EJAQIRCzD0QP1Q5lDvUNhg0WDaYMNgzHC1cL6Ap5CgoKnAkuCcAIUwjnB3sHDwekBjoG0AVnBf8ElwQwBMoDZQMBA54COwLZAXkBGQG6AF0AAABcHFscVRxMHEAcMBwcHAUc6hvMG6sbhhteGzMbBBvTGp4aZxosGu8ZrxlsGScZ3xiVGEkY+hepF1YXAReqFlIW+BWcFT4V3xR/FB0UuhNWE/ESixIkEr0RVBHrEIEQFxCsD0EP1Q5qDv0NkQ0lDbgMTAzgC3MLBwubCi8KxAlZCe4IgwgZCLAHRwfeBnYGDwaoBUIF3AR4BBQEsANOA+wCjAIsAs0BbwESAbUAWgAAAHYbdRtvG2cbWxtLGzgbIhsJG+wazBqoGoIaWBosGvwZyhmUGVwZIRnkGKQYYRgcGNQXixc/F/EWoRZPFvwVphVPFfYUnBRAFOMThRMmE8USYxIBEp0RORHUEG4QCBChDzkP0g5pDgEOmA0vDcYMXQz0C4sLIgu5ClAK5wl/CRcJrwhHCOAHegcUB64GSQbkBYAFHQW7BFkE9wOXAzcD2AJ6Ah0CwAFlAQoBsABYAAAAlxqVGpAaiBp9Gm4aXBpGGi4aEhrzGdEZrBmFGVoZLBn7GMgYkhhZGB4Y4BegF14XGRfSFokWPhbxFaIVURX/FKsUVRT+E6YTTBPxEpUSNxLZEXoRGRG4EFcQ9A+RDy0PyQ5lDgAOmw01Dc8MaQwEDJ4LOAvSCmwKBgqgCTsJ1ghxCA0IqQdFB+IGfwYdBrsFWgX5BJkEOgTcA34DIQPEAmkCDgK0AVsBAwGsAFUAAAC/Gb0ZuBmwGaUZlxmFGXEZWRk/GSEZARndGLcYjhhiGDMYARjNF5cXXhcjF+UWpRZjFh4W2BWQFUUV+RSsFFwUCxS4E2QTDxO4EmASBxKtEVIR9hCZEDsQ3A99Dx0PvQ5cDvoNmQ02DdQMcgwPDKwLSQvmCoMKIAq+CVsJ+QiXCDUI0wdyBxEHsQZRBvEFkgU0BdYEeQQcBMADZQMLA7ECWAIAAqgBUgH8AKcAUwAAAOwY6xjmGN8Y1BjGGLUYohiLGHIYVRg2GBQY7xfHF50XcBdAFw4X2hajFmoWLxbxFbEVbxUsFeYUnhRVFAoUvRNvEx8TzhJ8EigS0xF9ESYRzhB1EBsQwA9lDwgPrA5ODvANkg00DdUMdQwWDLYLVgv2CpYKNwrXCXcJFwm4CFkI+gebBzwH3gaBBiQGxwVrBQ8FtARZBP8DpgNNA/UCngJHAvEBnAFIAfUAogBRAAAAIBgfGBoYExgJGPwX7BfZF8MXqhePF3EXUBctFwYX3hazFoUWVRYiFu0VthV9FUIVBBXFFIQUQRT8E7UTbRMjE9cSihI8EuwRnBFKEfYQohBNEPcPoA9ID/AOlw49DuMNiA0sDdEMdQwZDLwLXwsCC6UKSArrCY4JMgnVCHgIHAjAB2QHCAetBlIG9wWdBUQF6wSSBDoE4gOMAzUD4AKLAjcC5AGRAT8B7gCeAE4AAABaF1kXVBdNF0MXNxcnFxUXABfpFs4WsRaSFnAWSxYkFvoVzhWgFXAVPRUIFdEUmBRcFB8U4BOgE10TGRPTEowSQxL5Ea0RYRESEcMQcxAiEM8PfA8oD9MOfg4nDtENeQ0hDckMcAwXDL4LZAsKC7AKVgr8CaIJSAnuCJQIOgjgB4cHLQfVBnwGJAbMBXQFHQXHBHEEGwTGA3IDHgPLAnkCJwLWAYYBNgHnAJkATAAAAJkWmBaUFo0WhBZ4FmkWVxZDFiwWExb3FdkVuBWVFW8VRxUdFfAUwhSRFF4UKRTyE7kTfhNBEwMTwxKBEj4S+RGzEWsRIhHYEI0QQBDzD6QPVQ8ED7MOYQ4ODrsNZw0SDb0MaAwSDLwLZQsOC7cKYAoJCrEJWgkCCasIVAj9B6YHTwf4BqIGTAb2BaEFTAX4BKQEUAT9A6sDWQMHA7cCZwIXAskBewEtAeEAlQBKAAAA3hXdFdkV0xXJFb4VsBWfFYsVdhVdFUIVJRUGFeQUwBSZFHAURhQZFOkTuBOFE1ATGRPhEqYSahIsEu0RrBFqESYR4RCbEFMQChDAD3UPKg/dDo8OQQ7xDaENUQ3/DK4MWwwJDLULYgsOC7oKZgoRCr0JaAkTCb8IaggVCMEHbQcYB8QGcQYdBsoFdwUlBdMEgQQwBOADkANAA/ECowJVAggCuwFwASUB2gCRAEgAAAAoFScVIxUdFRQVCRX7FOsU2RTEFKwUkxR2FFgUNxQVFPATyBOfE3QTRhMXE+YSsxJ+EkcSDxLVEZoRXREeEd4QnRBaEBYQ0Q+LD0QP+w6yDmgOHQ7RDYQNNw3pDJoMSwz8C6wLWwsKC7kKaAoWCsQJcgkgCc4IfAgqCNgHhgc1B+MGkQZABu8FnwVOBf8ErwRgBBEEwwN1AygD2wKPAkQC+QGvAWUBHAHUAI0ARgAAAHcUdhRzFG0UZBRZFEwUPRQrFBcUABTnE8wTrxOQE24TSxMlE/0S0xKoEnoSSxIaEucRshF8EUQRCxHQEJMQVhAXENYPlQ9SDw4Pyg6EDj0O9Q2tDWQNGg3PDIMMNwzrC54LUQsDC7QKZgoXCsgJeQkqCdoIiwg7COwHnAdNB/4GrgZgBhEGwgV0BSYF2QSMBD8E8gOnA1sDEAPGAnwCMwLqAaIBWwEUAc4AiABEAAAAyxPKE8cTwRO5E64TohOTE4ITbhNZE0ETJxMLE+0SzBKqEoYSXxI3Eg0S4RG0EYQRUxEhEewQtxB/EEcQDBDRD5QPVg8XD9cOlQ5TDg8Oyw2GDUAN+QyxDGkMIAzXC40LQgv4CqwKYQoVCsgJfAkvCeIIlghJCPwHrwdiBxUHyAZ7Bi8G4gWWBUoF/wS0BGkEHgTUA4sDQgP5ArECaQIiAtwBlgFQAQwByACEAEIAAAAkEyMTHxMaExITCBP8Eu4S3RLKErYSnxKGEmsSThIvEg4S6xHGEZ8RdxFNESER8xDEEJMQYRAtEPcPwQ+JD08PFQ/ZDpwOXg4fDt4NnQ1bDRkN1QyRDEsMBgy/C3gLMQvpCqAKWAoOCsUJewkxCecInQhSCAgIvQdzBygH3QaTBkkG/wW1BWsFIgXYBI8ERwT/A7cDcAMpA+ICnAJXAhICzQGJAUYBBAHCAIAAQAAAAIESgBJ9EncScBJmEloSTRI9EisSFxIBEukRzxGzEZURdRFUETARCxHkELsQkRBlEDgQCRDYD6YPcw8+DwgP0Q6YDl4OJA7oDasNbQ0uDe8MrgxtDCsM6AukC2ALHAvXCpEKSwoFCr4JdwkwCegIoAhYCBAIyAeABzgH8AanBl8GFwbQBYgFQQX5BLMEbAQmBOADmgNVAxADzAKIAkQCAgK/AX4BPAH8ALwAfQA+AAAA4hHhEd4R2RHSEcgRvRGwEaERjxF8EWcRUBE3ERwR/xDhEMAQnhB6EFUQLhAFENsPrw+CD1MPIw/xDr4Oig5VDh8O5w2uDXUNOg3+DMIMhAxGDAcMxwuHC0ULBAvBCn8KPAr4CbQJbwkrCeYIoAhbCBUI0AeKB0QH/ga4BnMGLQbnBaIFXAUXBdIEjQRJBAUEwQN+AzsD+AK2AnQCMwLyAbIBcgEzAfQAtgB5ADwAAABIEUcRRBE/ETgRLxEkERcRCRH4EOUQ0RC7EKMQiRBtEFAQMRAQEO4PyQ+kD30PVA8qD/4O0Q6jDnMOQg4QDtwNqA1yDTwNBA3LDJIMVwwcDOALowtmCycL6AqpCmkKKQroCaYJZAkiCeAInQhaCBcI1AeRB00HCQfGBoIGPwb7BbgFdAUxBe4ErARpBCcE5QOjA2IDIQPgAqACYAIhAuIBpAFmASkB7QCwAHUAOgAAALEQsBCtEKgQohCZEI8QghB0EGQQUxA/ECoQEhD6D98Pww+lD4UPZA9BDx0P9w7QDqgOfg5SDiYO+A3IDZgNZw00DQANzAyWDF8MKAzvC7YLfAtCCwYLygqNClAKEgrUCZYJVgkXCdcIlwhWCBYI1QeUB1MHEQfQBo8GTQYMBsoFiQVIBQcFxgSGBEUEBQTFA4YDRwMIA8kCiwJNAhAC0wGXAVsBIAHlAKsAcQA4AAAAHhAdEBoQFhAPEAcQ/Q/xD+QP1Q/DD7EPnA+GD24PVA85DxwP/g7eDr0Omg51DlAOKQ4ADtYNqw1/DVINIw30DMMMkQxeDCsM9gvAC4oLUwsbC+IKqQpvCjUK+Qm+CYIJRQkICcsIjQhPCBEI0geUB1UHFgfXBpgGWAYZBtoFmwVcBR0F3gSfBGEEIgTkA6cDaQMsA+8CsgJ2AjsC/wHEAYoBUAEXAd4ApQBuADcAAACPD44Piw+HD4EPeQ9vD2QPVw9IDzgPJg8SD/wO5Q7NDrMOlw56DlsOOw4aDvcN0g2tDYYNXg00DQoN3gyxDIMMVAwkDPMLwQuPC1sLJwvyCrwKhQpOChYK3QmkCWsJMQn2CLwIgAhFCAkIzQeQB1QHFwfaBp0GYAYjBuYFqQVsBS8F8gS1BHkEPAQABMQDiANNAxID1wKcAmICKALvAbYBfQFFAQ4B1wCgAGoANQAAAAMPAg8AD/wO9g7uDuUO2g7NDr8Orw6eDosOdw5gDkkOMA4VDvkN2w29DZwNew1YDTQNDg3nDMAMlwxtDEEMFQzoC7oLiwtbCyoL+ArGCpIKXgoqCvQJvwmICVEJGgniCKkIcQg3CP4HxAeKB1AHFQfbBqAGZQYqBu8FtAV5BT4FAwXIBI4EUwQZBN4DpANrAzED+AK/AoYCTgIWAt8BpwFxATsBBQHQAJsAZwAzAAAAew56DngOdA5uDmcOXg5TDkcOOg4qDhoOCA70Dd8NyA2wDZYNew1fDUENIg0CDeAMvQyZDHQMTgwmDP4L1AuqC34LUgskC/YKxwqXCmcKNQoDCtAJnQlpCTUJAAnKCJQIXggnCPAHuQeBB0kHEQfYBqAGZwYuBvUFvAWDBUoFEQXYBJ8EZwQuBPYDvQOFA00DFgPeAqcCcQI6AgQCzwGZAWUBMAH8AMkAlgBjADEAAAD2DfUN8w3vDekN4g3aDdANxA23DakNmQ2HDXQNYA1KDTMNGg0ADeUMyAyqDIsMawxKDCcMAwzeC7gLkgtqC0ELFwvsCsAKlApmCjgKCgraCaoJeQlICRUJ4wiwCHwISAgUCN8Hqgd0Bz8HCQfTBpwGZQYvBvgFwQWKBVMFHAXlBK4EdwRABAoE0wOdA2cDMQP7AsYCkAJcAicC8wG/AYwBWQEmAfQAwgCRAGAAMAAAAHQNcw1xDW0NaA1hDVkNTw1EDTgNKg0aDQoN9wzkDM8MuAyhDIgMbgxSDDYMGAz5C9kLtwuVC3ILTQsoCwEL2gqxCogKXgo0CggK3AmuCYEJUgkjCfQIxAiTCGIIMAj+B8sHmAdlBzIH/gbKBpYGYQYtBvgFwwWOBVkFJAXvBLoEhQRQBBsE5gOxA30DSQMVA+ECrQJ6AkcCFALiAbABfgFNARwB6wC7AIwAXQAuAAAA9Qz0DPIM7wzqDOMM2wzSDMcMuwyuDJ8Mjwx9DGsMVgxBDCoMEgz5C98LwwunC4kLagtKCykLBwvkCsAKmwp1Ck4KJwr+CdUJqwmBCVUJKQn9CM8IoghzCEQIFQjlB7UHhAdTByIH8Aa+BowGWgYnBvUFwgWPBVwFKQX1BMIEjwRcBCkE9gPDA5ADXgMrA/kCxwKVAmQCMwICAtEBoQFxAUEBEgHjALUAhwBZACwAAAB5DHgMdgxzDG4MaAxgDFcMTQxCDDUMJgwXDAYM9AvhC8wLtgugC4cLbgtUCzgLHAv+Ct8KvwqfCn0KWgo3ChMK7QnHCaEJeQlRCSgJ/gjUCKkIfQhRCCQI9wfKB5wHbQc/Bw8H4AawBoAGUAYfBu8FvgWNBVwFKwX5BMgElwRlBDQEAwTSA6EDcAM/Aw4D3gKuAn4CTgIfAu8BwAGSAWQBNgEIAdsArgCCAFYAKwAAAAAM/wv9C/oL9QvvC+gL3wvWC8sLvguxC6ILkguAC24LWgtFCy8LGAsAC+YKzAqwCpQKdgpYCjkKGAr3CdUJsgmOCWoJRQkfCfgI0AioCIAIVggtCAII1wesB4AHVAcnB/oGzQafBnEGQwYVBuYFtwWIBVkFKgX6BMsEmwRsBDwEDQTdA64DfwNQAyED8gLDApUCZwI5AgsC3QGwAYMBVwErAf8A0wCoAH0AUwApAAAAiQuIC4YLgwt/C3kLcgtqC2ELVgtKCz0LLwsfCw8L/QrqCtYKwQqrCpQKewpiCkgKLAoQCvMJ1Qm2CZYJdQlUCTEJDgnqCMYIoQh7CFQILQgGCN4HtQeMB2IHOAcNB+IGtwaMBmAGMwYHBtoFrQWABVMFJgX4BMsEnQRvBEIEFATmA7kDiwNeAzADAwPWAqkCfAJQAiQC+AHMAaABdQFKASAB9QDLAKIAeQBQACgAAAAVCxQLEgsPCwsLBgv/CvcK7grkCtkKzAq/CrAKoAqPCn0KagpVCkAKKgoSCvoJ4QnHCawJkAlzCVUJNgkXCfcI1gi0CJIIbwhLCCcIAgjdB7cHkAdpB0EHGQfxBsgGnwZ1BksGIQb3BcwFoQV2BUsFHwX0BMgEnARwBEQEGATsA8EDlQNpAz0DEgPmArsCjwJkAjoCDwLlAboBkQFnAT4BFQHsAMQAnAB0AE0AJgAAAKMKowqhCp4KmgqVCo4Khwp+CnQKagpeClEKQgozCiMKEgr/CewJ1wnCCawJlAl8CWMJSQkuCRMJ9gjZCLsInAh9CFwIOwgaCPgH1QexB40HaQdEBx4H+AbSBqsGhAZdBjUGDAbkBbsFkgVpBUAFFgXsBMIEmARuBEQEGgTwA8YDmwNxA0cDHQPzAskCoAJ2Ak0CJAL7AdIBqQGBAVkBMQEKAeMAvACWAHAASgAlAAAANAozCjIKLworCiYKIAoZChAKBwr9CfEJ5QnXCckJuQmoCZcJhAlxCVwJRwkxCRoJAgnpCM8ItQiZCH0IYAhDCCUIBgjmB8YHpQeEB2IHQAcdB/kG1QaxBowGZwZBBhsG9QXPBagFgQVZBTIFCgXiBLoEkgRqBEEEGQTwA8gDnwN3A04DJgP+AtUCrQKFAl0CNgIOAucBwAGZAXIBTAElAQAB2gC1AJAAawBHACMAAADHCcYJxAnCCb4JuQm0Ca0JpQmcCZIJhwl7CW4JYAlRCUEJMQkfCQwJ+QjkCM8IuQiiCIoIcghYCD4IIwgICOsHzwexB5MHdAdVBzUHFAfzBtIGsAaNBmsGRwYkBgAG2wW3BZIFbQVHBSEF/ATWBK8EiQRiBDwEFQTuA8cDoQN6A1MDLAMFA98CuAKRAmsCRQIfAvkB0wGtAYgBYwE+ARoB9QDRAK0AigBnAEQAIgAAAFwJWwlZCVcJUwlPCUkJQwk7CTMJKQkfCRMJBwn6COsI3AjMCLsIqgiXCIMIbwhaCEQILQgWCP4H5QfLB7EHlgd6B14HQQcjBwUH5wbIBqgGiAZoBkcGJgYEBuIFvwWdBXkFVgUyBQ8F6wTGBKIEfQRYBDQEDwTpA8QDnwN6A1UDLwMKA+UCwAKbAnYCUQItAggC5AHAAZwBeAFUATEBDgHrAMkApgCEAGMAQQAhAAAA8gjyCPEI7gjrCOYI4QjbCNQIzAjDCLkIrgiiCJUIiAh5CGoIWghJCDcIJAgRCP0H6AfSB7wHpAeNB3QHWwdBBycHDAfwBtQGuAaaBn0GXwZABiEGAQbiBcEFoQWABV8FPQUbBfkE1wS0BJIEbwRMBCkEBQTiA78DmwN3A1QDMAMNA+kCxgKiAn8CWwI4AhUC8gHPAa0BigFoAUYBJAECAeEAwACfAH8AXwA/AB8AAACLCIsIigiHCIQIgAh7CHUIbghmCF4IVAhKCD8IMggmCBgICQj6B+oH2QfHB7QHoQeNB3gHYwdNBzYHHwcHB+4G1Qa7BqEGhgZrBk8GMwYWBvkF2wW9BZ8FgAVhBUIFIgUCBeIEwQSgBH8EXgQ9BBsE+gPYA7YDlANyA1ADLgMMA+oCyAKmAoQCYwJBAh8C/gHcAbsBmgF5AVgBOAEXAfcA1wC4AJgAeQBaADwAHgAAACYIJggkCCIIHwgbCBYIEQgKCAMI+wfyB+gH3QfSB8UHuAeqB5wHjAd8B2sHWQdHBzQHIAcMB/cG4QbLBrQGnQaFBmwGUwY6BiAGBQbqBc8FswWXBXoFXQVABSIFBAXmBMcEqQSKBGoESwQrBAwE7APMA6sDiwNrA0oDKgMKA+kCyQKoAogCZwJHAicCBwLnAccBpwGHAWgBSQEpAQsB7ADOAK8AkQB0AFYAOQAcAAAAwwfCB8EHvwe8B7gHtAeuB6gHoQeZB5EHhwd9B3IHZgdaB00HPwcwByEHEQcAB+8G3QbKBrYGogaOBnkGYwZNBjYGHwYHBu4F1gW8BaMFiQVuBVMFOAUcBQEF5ATIBKsEjgRxBFMENQQXBPkD2wO9A54DfwNhA0IDIwMEA+UCxgKnAogCaQJLAiwCDQLuAdABsQGTAXUBVwE5ARwB/gDhAMQApwCLAG4AUgA3ABsAAABhB2AHXwddB1oHVwdTB00HSAdBBzoHMQcoBx8HFAcJB/4G8QbkBtYGxwa4BqgGmAaGBnUGYgZPBjwGKAYTBv4F6AXSBbsFpAWNBXUFXAVEBSoFEQX3BN0EwgSnBIwEcQRVBDkEHQQBBOUDyAOrA44DcQNUAzcDGgP8At8CwQKkAoYCaQJMAi4CEQL0AdcBugGdAYABYwFHASoBDgHyANYAuwCfAIQAaQBOADQAGgAAAAAHAAf/Bv0G+wb3BvMG7gbpBuIG2wbUBssGwga4Bq4GogaXBooGfQZvBmEGUQZCBjIGIQYPBv0F6wXYBcQFsAWcBYcFcQVbBUUFLgUXBf8E6ATPBLcEngSFBGsEUgQ4BB0EAwToA80DsgOXA3wDYANFAykDDgPyAtYCugKeAoICZgJKAi4CEgL2AdsBvwGjAYgBbQFRATYBGwEAAeYAywCxAJcAfQBkAEoAMQAZAAAAogahBqAGnwacBpkGlQaQBosGhQZ/BncGbwZnBl0GUwZJBj4GMgYlBhgGCgb8Be0F3gXOBb4FrQWbBYkFdwVkBVAFPAUoBRMF/gTpBNMEvASmBI8EeARgBEgEMAQYBP8D5gPNA7QDmwOBA2cDTQMzAxkD/wLlAsoCsAKWAnsCYQJGAiwCEQL3AdwBwgGoAY4BdAFaAUABJgENAfMA2gDBAKgAjwB3AF8ARwAvABcAAABEBkQGQwZBBj8GPAY4BjQGLwYpBiMGHAYVBg0GBAb6BfAF5gXbBc8FwwW2BagFmgWMBX0FbQVdBUwFOwUqBRgFBgXzBOAEzAS4BKQEjwR6BGUETwQ5BCMEDAT2A98DxwOwA5gDgANoA1ADOAMfAwcD7gLVAr0CpAKLAnICWQJAAicCDQL0AdsBwwGqAZEBeAFfAUcBLgEWAf4A5gDOALYAnwCIAHAAWQBDACwAFgAAAOgF6AXnBeYF4wXgBd0F2QXUBc8FyQXDBbwFtAWsBaMFmQWPBYUFegVuBWIFVQVIBToFLAUeBQ8F/wTvBN4EzgS8BKsEmQSGBHMEYARNBDkEJQQQBPwD5wPRA7wDpgOQA3oDZANNAzcDIAMJA/IC2wLEAqwClQJ9AmYCTgI3Ah8CBwLwAdgBwQGpAZIBegFjAUwBNAEdAQYB8ADZAMIArACWAIAAagBUAD8AKgAVAAAAjgWNBYwFiwWJBYYFgwV/BXsFdgVwBWoFZAVcBVUFTAVDBToFMAUmBRsFDwUEBfcE6gTdBM8EwQSyBKMElASEBHQEYwRSBEEELwQdBAsE+APlA9IDvwOrA5cDgwNvA1oDRQMwAxsDBgPwAtsCxQKvApoChAJuAlcCQQIrAhUC/wHpAdIBvAGmAZABegFkAU4BOAEiAQwB9wDhAMwAtwCiAI0AeABkAE8AOwAnABQAAAA0BTQFMwUxBTAFLQUqBScFIgUeBRkFEwUNBQYF/wT3BO8E5gTdBNMEyQS+BLMEpwSbBI8EggR1BGcEWQRKBDsELAQdBA0E/QPsA9sDygO5A6cDlQODA3ADXgNLAzgDJAMRA/0C6QLVAsECrQKZAoQCcAJbAkcCMgIdAgkC9AHfAcoBtQGgAYwBdwFiAU4BOQEkARAB/ADoANMAvwCsAJgAhABxAF4ASgA4ACUAEgAAANsE2wTaBNkE1wTVBNIEzwTLBMcEwgS9BLcEsQSqBKMEmwSTBIoEgQR3BG0EYwRYBE0EQQQ1BCkEHAQPBAIE9APmA9cDyAO5A6oDmgOKA3oDaQNYA0cDNgMlAxMDAQPvAt0CywK4AqYCkwKAAm0CWgJHAjQCIAINAvoB5gHTAb8BrAGYAYUBcgFeAUsBOAEkAREB/gDrANgAxQCzAKAAjgB8AGkAVwBGADQAIgARAAAAhASEBIMEggSABH4EewR4BHUEcQRsBGcEYgRcBFYETwRIBEAEOAQwBCcEHgQUBAoEAAT1A+oD3gPSA8YDugOtA6ADkgOEA3YDaANZA0oDOwMsAxwDDQP9AuwC3ALLArsCqgKZAogCdgJlAlMCQgIwAh4CDAL6AegB1gHEAbIBoAGOAXwBagFYAUYBNAEiARAB/gDsANsAyQC4AKYAlQCEAHMAYgBRAEEAMAAgABAAAAAuBC0ELQQsBCoEKAQmBCMEHwQcBBgEEwQOBAkEAwT9A/YD7wPoA+AD2APPA8YDvQOzA6kDnwOUA4kDfgNyA2cDWgNOA0EDNAMnAxkDDAP+Au8C4QLSAsQCtQKlApYChwJ3AmcCVwJHAjcCJwIXAgYC9gHlAdUBxAGzAaMBkgGBAXABYAFPAT4BLgEdAQwB/ADrANsAywC6AKoAmgCKAHoAagBbAEsAPAAtAB4ADwAAANgD2APXA9YD1QPTA9EDzgPLA8gDxAPAA7sDtgOxA6sDpQOeA5gDkAOJA4EDeQNwA2cDXgNVA0sDQQM3AywDIQMWAwoD/wLzAuYC2gLNAsECswKmApkCiwJ9Am8CYQJTAkUCNgIoAhkCCgL7AewB3QHOAb8BrwGgAZEBgQFyAWMBUwFEATQBJQEWAQYB9wDoANkAyQC6AKsAnQCOAH8AcABiAFQARQA3ACkAGwAOAAAAgwODA4IDgQOAA34DfAN6A3cDdANxA20DaQNkA18DWgNVA08DSANCAzsDNAMsAyUDHAMUAwsDAgP5AvAC5gLcAtICxwK9ArICpwKbApAChAJ4AmwCYAJTAkcCOgItAiACEwIGAvgB6wHdAdABwgG0AaYBmAGKAXwBbgFgAVIBRAE2ASgBGgEMAf4A8ADiANQAxgC4AKoAnQCPAIIAdABnAFoATAA/ADIAJgAZAAwAAAAvAy8DLgMuAywDKwMpAycDJAMiAx4DGwMXAxMDDwMKAwUD/wL6AvQC7gLnAuAC2QLSAsoCwwK7ArICqgKhApgCjgKFAnsCcQJnAl0CUwJIAj0CMgInAhwCEAIFAvkB7QHhAdUByQG9AbEBpAGYAYsBfwFyAWYBWQFMAT8BMwEmARkBDAEAAfMA5gDZAM0AwAC0AKcAmwCOAIIAdgBpAF0AUQBFADkALgAiABcACwAAANwC2wLbAtoC2QLYAtYC1ALSAtACzQLKAsYCwgK/AroCtgKxAqwCpwKhApsClQKPAogCgQJ6AnMCbAJkAlwCVAJMAkMCOgIxAigCHwIWAgwCAwL5Ae8B5QHaAdABxQG7AbABpQGbAZABhQF5AW4BYwFYAUwBQQE2ASoBHwETAQgB/ADxAOYA2gDPAMMAuACtAKEAlgCLAIAAdQBqAF8AVABJAD4ANAApAB8AFAAKAAAAiQKJAogCiAKHAoYChAKCAoACfgJ8AnkCdgJzAm8CawJnAmMCXwJaAlUCUAJKAkUCPwI5AjMCLAImAh8CGAIQAgkCAgL6AfIB6gHiAdkB0QHIAcABtwGuAaUBnAGSAYkBfwF2AWwBYgFZAU8BRQE7ATEBJwEdARMBCQH+APQA6gDgANYAzADBALcArQCjAJkAjwCFAHsAcQBnAF4AVABKAEEANwAuACQAGwASAAkAAAA3AjYCNgI2AjUCNAIyAjECLwItAisCKQImAiMCIAIdAhkCFgISAg4CCQIFAgAC+wH2AfEB6wHmAeAB2gHUAc4BxwHBAboBswGsAaUBnQGWAY8BhwF/AXcBbwFnAV8BVwFPAUYBPgE2AS0BJAEcARMBCgECAfkA8ADnAN4A1QDNAMQAuwCyAKkAoACXAI8AhgB9AHQAbABjAFoAUgBJAEEAOQAwACgAIAAYABAACAAAAOUB5QHkAeQB4wHiAeEB4AHeAd0B2wHZAdcB1AHSAc8BzAHJAcUBwgG+AboBtgGyAa4BqQGkAaABmwGWAZABiwGFAYABegF0AW4BaAFiAVsBVQFPAUgBQQE6ATQBLQEmAR8BFwEQAQkBAgH6APMA6wDkANwA1QDNAMYAvgC3AK8ApwCgAJgAkQCJAIIAegByAGsAYwBcAFUATQBGAD8AOAAwACkAIgAbABQADQAHAAAAkwGTAZMBkwGSAZEBkAGPAY4BjQGLAYkBiAGGAYMBgQF/AXwBeQF2AXMBcAFtAWkBZQFiAV4BWgFWAVEBTQFJAUQBPwE7ATYBMQEsASYBIQEcARYBEQELAQYBAAH6APQA7gDpAOMA3ADWANAAygDEAL4AtwCxAKsApQCeAJgAkgCLAIUAfwB4AHIAbABmAF8AWQBTAE0ARgBAADoANAAuACgAIgAcABcAEQALAAYAAABCAUIBQgFCAUEBQQFAAT8BPgE9ATwBOgE5ATcBNgE0ATIBMAEtASsBKQEmASMBIQEeARsBGAEUAREBDgEKAQcBAwH/APsA9wDzAO8A6wDnAOMA3gDaANYA0QDNAMgAwwC/ALoAtQCwAKsApgCiAJ0AmACTAI4AiQCEAH8AeQB0AG8AagBlAGAAWwBWAFEATABHAEIAPQA4ADMALwAqACUAIAAbABcAEgAOAAkABAAAAPEA8QDxAPEA8QDwAPAA7wDuAO4A7QDsAOoA6QDoAOcA5QDjAOIA4ADeANwA2gDYANYA1ADRAM8AzQDKAMcAxQDCAL8AvAC5ALYAswCwAK0AqgCnAKMAoACdAJkAlgCSAI8AiwCIAIQAgAB9AHkAdQByAG4AagBmAGMAXwBbAFcAUwBQAEwASABEAEEAPQA5ADUAMgAuACoAJwAjAB8AHAAYABUAEQAOAAoABwADAAAAoQChAKEAoQCgAKAAoACfAJ8AngCeAJ0AnACbAJsAmgCZAJgAlgCVAJQAkwCRAJAAjwCNAIwAigCIAIcAhQCDAIEAfwB9AHwAegB4AHUAcwBxAG8AbQBrAGgAZgBkAGEAXwBdAFoAWABWAFMAUQBOAEwASQBHAEQAQgA/AD0AOgA4ADUAMwAwAC4AKwApACYAJAAhAB8AHAAaABcAFQASABAADgALAAkABwAEAAIAAABQAFAAUABQAFAAUABQAFAATwBPAE8ATgBOAE4ATQBNAEwATABLAEsASgBJAEkASABHAEcARgBFAEQAQwBCAEIAQQBAAD8APgA9ADwAOwA6ADkAOAA2ADUANAAzADIAMQAwAC4ALQAsACsAKgAoACcAJgAlACMAIgAhACAAHgAdABwAGwAZABgAFwAVABQAEwASABEADwAOAA0ADAAKAAkACAAHAAYABQADAAIAAQAAAAAAAAAAAAAAAAAAAAAAAAAAAAAAAAAAAAAAAAAAAAAAAAAAAAAAAAAAAAAAAAAAAAAAAAAAAAAAAAAAAAAAAAAAAAAAAAAAAAAAAAAAAAAAAAAAAAAAAAAAAAAAAAAAAAAAAAAAAAAAAAAAAAAAAAAAAAAAAAAAAAAAAAAAAAAAAAAAAAAAAAAAAAAAAAAAAAAAAAAAAAAAAAAAAAAAAAAAAAAAAAAAAAAAAAAAAAAA";
// ---- physics: potential in bath ----
var NR=88,NZ=165,Z0=74; // nodes r=0..87, z=74..238
var phi=new Float64Array(NR*NZ),fix=new Uint8Array(NR*NZ);
function inElec(r,z){if(r>RE+1e-9)return false;if(z<=ZTC)return true;var dz=z-ZTC;return r*r+dz*dz<=RE*RE+1e-9;}
for(var j=0;j<NZ;j++)for(var i=0;i<NR;i++){var o=j*NR+i,z=Z0+j;
  if(i==NR-1||j==NZ-1){fix[o]=1;phi[o]=0;}
  else if(inElec(i,z)){fix[o]=1;phi[o]=1;}
  else{phi[o]=0.3;}
}
(function(){var bs=atob(PHI);for(var i=0;i<NR*NZ;i++){phi[i]=(bs.charCodeAt(2*i)|(bs.charCodeAt(2*i+1)<<8))/65535;}})();
// face fluxes (2pi dropped). Fr[j*NR+i] = radial flux through face between i and i+1 at row j
var Fr=new Float64Array(NR*NZ),Fz=new Float64Array(NR*NZ);
for(var j=0;j<NZ;j++)for(var i=0;i<NR-1;i++){var o=j*NR+i;Fr[o]=-(phi[o+1]-phi[o])*(i+0.5);}
for(var j=0;j<NZ-1;j++)for(var i=0;i<NR;i++){var o=j*NR+i;Fz[o]=-(phi[o+NR]-phi[o])*(i==0?0.125:i);}
// bottom cumulative
var Sbot=new Float64Array(NR);var acc=0;for(var i=0;i<NR;i++){acc+=Fz[(NZ-2)*NR+i];Sbot[i]=acc;}
// Ienc at (r=i+0.5, z=row j): sum_{j'>=j} Fr + Sbot[i]
var Ienc=new Float64Array(NR*NZ);
for(var i=0;i<NR-1;i++){var s=0;for(var j=NZ-2;j>=0;j--){ // rows 0..NZ-2 are in bath interior
  var o=j*NR+i; // side flux only counts where both nodes not fixed-electrode
  s+=Fr[o];Ienc[o]=s+Sbot[i];}}
var Itot=Ienc[0*NR+(NR-2)]; // at wall face, top row
// node-based fields in bath
var Bn=new Float64Array(NR*NZ),Jn=new Float64Array(NR*NZ),JRn=new Float64Array(NR*NZ),JZn=new Float64Array(NR*NZ);
for(var j=0;j<NZ;j++)for(var i=0;i<NR;i++){var o=j*NR+i;
  var ie=(i==0)?0:(i==NR-1?Ienc[o-1]:(Ienc[o-1]+Ienc[o])/2);
  Bn[o]=(i==0)?0:ie/i;
  var dr,dz;
  if(i==0)dr=0;else if(i==NR-1)dr=phi[o]-phi[o-1];else dr=(phi[o+1]-phi[o-1])/2;
  if(j==0)dz=(phi[o+NR]-phi[o]);else if(j==NZ-1)dz=phi[o]-phi[o-NR];else dz=(phi[o+NR]-phi[o-NR])/2;
  JRn[o]=-dr;JZn[o]=-dz;Jn[o]=Math.sqrt(dr*dr+dz*dz);
}
function bil(arr,r,z){var x=r,y=z-Z0;if(x<0)x=0;if(x>NR-1.001)x=NR-1.001;if(y<0)y=0;if(y>NZ-1.001)y=NZ-1.001;
  var i=Math.floor(x),j=Math.floor(y),fx=x-i,fy=y-j,o=j*NR+i;
  return (arr[o]*(1-fx)+arr[o+1]*fx)*(1-fy)+(arr[o+NR]*(1-fx)+arr[o+NR+1]*fx)*fy;}
// electrode current at depth z (row) : Ienc at face i=RE (r=18.5)
function Ie(z){if(z<=Z0)return Itot;var zz=Math.min(z,ZTC+RE);
  var rc=(zz<=ZTC)?RE:Math.sqrt(Math.max(0,RE*RE-(zz-ZTC)*(zz-ZTC)));
  var y=zz-Z0,j=Math.floor(y),fy=y-j,i=Math.min(NR-2,Math.floor(rc));
  var a=Ienc[j*NR+i],b=Ienc[Math.min(NZ-1,j+1)*NR+i];return a*(1-fy)+b*fy;}
function Iw(z){if(z<=Z0)return Itot;if(z>=ZBB)return Sbot[NR-2];var y=z-Z0,j=Math.floor(y),fy=y-j;
  return Ienc[j*NR+NR-2]*(1-fy)+Ienc[Math.min(NZ-2,j+1)*NR+NR-2]*fy;}
function SbotF(r){if(r<=0)return 0;if(r>=NR-1)return Sbot[NR-2];var i=Math.floor(r),f=r-i;return Sbot[i]*(1-f)+Sbot[Math.min(NR-2,i+1)]*f;}
var TB=14.6,AW=(RO*RO-RW*RW)/2;
// B (arbitrary units) anywhere
function Bfield(r,z,g){
  if(r<0.01)r=0.01;
  if(g=='gas')return Itot/r;
  if(g=='elec'){if(z>ZTC){var ie0=Ie(ZTC);return ie0*(1-0.45*(z-ZTC)/RE)*r/(RE*RE);}var ie=Ie(z);return ie*r/(RE*RE);}
  if(g=='bath')return bil(Bn,r,z);
  // wall/bottom
  var fr=(r>RW)?(RO*RO-r*r)/(RO*RO-RW*RW):1;
  if(z<ZBB){return Iw(z)*fr/r;}
  var fz=(ZH-z)/(ZH-ZBB);
  var ib=(r>RW)?Sbot[NR-2]*fr:SbotF(r);
  return ib*fz/r;
}
function Jfield(r,z,g){
  if(g=='gas')return 0;
  if(g=='elec'){if(z>ZTC){return 2*Ie(ZTC)/(RE*RE)*(1-0.7*(z-ZTC)/RE);}var ie=Ie(z);return 2*ie/(RE*RE);}
  if(g=='bath')return bil(Jn,r,z);
  if(z<ZBB){return Iw(z)/AW;}
  if(r>RW){ // corner
    var a=Sbot[NR-2]/(RW*TB),b=Sbot[NR-2]/AW;var u=(r-RW)/(RO-RW),v=(z-ZBB)/(ZH-ZBB);
    return Math.sqrt(a*a*(1-u)*(1-u)+b*b*(1-v)*(1-v))*0.9;}
  var jr=SbotF(r)/(Math.max(r,0.5)*TB)*Math.min(1,(z-ZBB+3)/(TB*0.6));var jz=bil(Jn,r,ZBB-1)*Math.max(0,(ZH-z)/TB);
  return Math.sqrt(jr*jr+jz*jz);
}

var Bref=Itot/RE/1.08, Cj=27700/(2*Itot/(RE*RE));
function tB(B){return 1+Math.log10(Math.max(B,1e-30)/Bref)/Math.log10(50);}
function tJ(J){return Math.log10(Math.max(J*Cj,1e-30)/10)/Math.log10(5000);}
var F={}; // field functions: F[name](r,z,reg) -> t or null
function pw(t,xs,ys){if(t<=xs[0])return ys[0]+(t-xs[0])*(ys[1]-ys[0])/(xs[1]-xs[0]);for(var i=1;i<xs.length;i++)if(t<=xs[i])return ys[i-1]+(t-xs[i-1])*(ys[i]-ys[i-1])/(xs[i]-xs[i-1]);var n=xs.length;return ys[n-1]+(t-xs[n-1])*(ys[n-1]-ys[n-2])/(xs[n-1]-xs[n-2]);}
function gB(t){return t>=0.5?t:pw(t,[-0.3,-0.13,-0.08,-0.03,0.06,0.18,0.3,0.5],[-0.1,-0.02,0.02,0.06,0.15,0.27,0.39,0.5]);}
function tAL(r,z,g){var t=tB(Bfield(r,z,g));return g=='bath'?gB(t):t;}
window._raw=function(r,z,g){return tB(Bfield(r,z,g));};
F.aL=function(r,z,g){
  if(g=='wall'&&z<ZBB&&r>RW){var ga=z<ZB?'gas':'bath';var ta=tAL(RW-0.5,z,ga);var u=(r-RW)/(RO-RW);var sh=Math.pow(Math.max(1e-6,1-Math.pow(u,2.2)),1.7);return ta-(z<ZB?0.07:0.0)+Math.log10(sh)/1.7;}
  if(g=='wall'){var t=tB(Bfield(r,z,g));return gB(t);}
  return tAL(r,z,g);};
F.aR=function(r,z,g){if(g=='gas')return null;return tJ(Jfield(r,z,g));};
F.bL=function(r,z,g){if(g!='bath')return null;var f=Jfield(r,z,g)*Cj*Bfield(r,z,g)/Bref*5e-4;var t=Math.log10(Math.max(f,1e-30)/1e-4)/4;return pw(t,[0.25,0.4,0.5,0.63,0.8,0.9,1.0,1.06,1.15],[0.0,0.12,0.3,0.46,0.5,0.57,0.66,0.8,0.95]);};
var FD={"cL": {"x0": 404, "y0": 76, "w": 91, "h": 170, "d": "BAQFBgcICQkKCwsMDA0ODg8PEBEREhITExMUFBUVFRUWFhYWFhYWFxcXFxgYGRkaGxwdHR4eHh0bGRcUEhAQEhgkOFRzj6jAwMDAwMDAwMDAwMDAwMDAwMDAwAUFBgcICAkKCgsLDA0NDg4PEBARERISExMUFBQVFRUVFhYWFhYXFxcXFxcYGBkZGhscHR0eHh4eHRwaGBUUFBYcJjhUdY6fra2tra2tra2tra2tra2tra2tra0GBgcHCAkJCgsLDAwNDQ4PDxAQERESEhMTFBQUFRUVFhYWFhYWFxcXFxcYGBgZGRobHB0dHh8fHx8eHRsZGBgaICo6VHWLlJmZmZmZmZmZmZmZmZmZmZmZmZmZBwcHCAkJCgoLCwwMDQ0ODw8QEBEREhITExQUFBUVFRYWFhYWFxcXFxcXGBgYGRkaGxwdHh4fICEhISAeHRsbHiMtO1R1iIuHh4eHh4eHh4eHh4eHh4eHh4eHhwgICAkJCgoLCwwMDQ0ODg8PEBAREhISExMUFBUVFRUWFhYWFxcXFxcYGBgYGBkZGhscHR4fICEhIiMjIR8eHyInMDxUdYeGe3t7e3t7e3t7e3t7e3t7e3t7e3sJCQkJCgoLCwsMDA0NDg4PEBARERISExMTFBQVFRUWFhYWFxcXFxcYGBgYGBkZGRobHB0eHyAhIiMjJCMiISIlKjI9VHSHioaGhoaGhoaGhoaGhoaGhoaGhoaGCQkKCgoLCwsMDA0NDg4PDxAQERESEhMTFBQUFRUVFhYWFhcXFxcYGBgYGBkZGRoaGxwdHh8gISIjJCQjIyMkJywzPlNyiJKXl5eXl5eXl5eXl5eXl5eXl5eXlwoKCgsLCwwMDA0NDQ4ODw8QEBEREhITExQUFBUVFhYWFhcXFxcYGBgYGBkZGRoaGxwcHR4fICEiIyMkJCQlJikuND5TcYmZpqampqampqampqampqampqampqYLCwsLCwwMDA0NDQ4ODw8QEBEREhITExMUFBUVFRYWFhcXFxcYGBgYGRkZGRoaGxscHR0eHyAhIiMjJCQlJigrLzU/U2+Kn7GxsbGxsbGxsbGxsbGxsbGxsbGxCwsLDAwMDA0NDQ4ODw8QEBARERISExMUFBQVFRUWFhYXFxcYGBgYGRkZGRoaGxscHB0eHx8gISIiIyQlJicpLDA1QFNuiqK4uLi4uLi4uLi4uLi4uLi4uLi4uAwMDAwMDQ0NDQ4ODw8PEBARERISExMTFBQVFRUWFhYXFxcXGBgYGRkZGRoaGxsbHB0dHh8fICEiIiMkJSYoKi0xNkBTbYmju7u7u7u7u7u7u7u7u7u7u7u7u7sMDAwNDQ0NDg4ODw8PEBARERESEhMTFBQUFRUVFhYWFxcXGBgYGRkZGRoaGxsbHBwdHh4fHyAhIiIjJCUnKSsuMjdAUm2Jorq6urq6urq6urq6urq6urq6urq6DQ0NDQ0NDg4ODw8PEBAQERESEhMTExQUFRUVFhYWFxcXGBgYGRkZGRoaGxsbHBwdHR4eHyAgISIiIyQmJyksLzI3QVJsiKG4uLi4uLi4uLi4uLi4uLi4uLi4uA0NDQ0ODg4ODw8PEBAQERESEhITExQUFBUVFRYWFxcXGBgYGBkZGRoaGxsbHBwdHR4eHx8gICEiIiMkJicqLC8zOEJUbYaetbW1tbW1tbW1tbW1tbW1tbW1tbUNDQ4ODg4ODw8PEBAQERESEhITExMUFBUVFRYWFhcXFxgYGBkZGRoaGhsbHBwdHR0eHh8fICAhIiMjJSYoKi0wNDpEVm2FnLKysrKysrKysrKysrKysrKysrKyDg4ODg4ODw8PEBAQEREREhITExMUFBQVFRYWFhcXFxgYGBkZGRoaGhsbHBwcHR0eHh8fICAhISIjJCUmKCotMDU7RldthJmurq6urq6urq6urq6urq6urq6urg4ODg4PDw8PEBAQEREREhITExMUFBQVFRUWFhYXFxcYGBkZGRoaGhsbHBwcHR0eHh8fHyAgISIiIyQlJygrLTE2PUhZboOXq6urq6urq6urq6urq6urq6urq6sODg4PDw8PEBAQEREREhISExMUFBQVFRUWFhYXFxcYGBgZGRkaGhsbGxwcHR0eHh4fHyAgISEiIiMkJScpKy4yNz5KWm6Claenp6enp6enp6enp6enp6enp6enDg4ODw8PEBAQEREREhISExMTFBQVFRUWFhYXFxcYGBgZGRkaGhobGxwcHR0dHh4fHyAgISEiIiMkJSYnKSsvMzhAS1xvgpOkpKSkpKSkpKSkpKSkpKSkpKSkpA4ODw8PEBAQEREREhISExMTFBQUFRUVFhYWFxcYGBgZGRkaGhobGxwcHB0dHh4fHyAgICEhIiMjJCUmKCosLzM5QU1db4GRoKCgoKCgoKCgoKCgoKCgoKCgoKAODg8PEBAQEREREhISExMTFBQUFRUVFhYWFxcXGBgYGRkZGhobGxscHB0dHh4eHx8gICEhIiIjJCQlJygqLTA0OkJOXnCAj5ycnJycnJycnJycnJycnJycnJycDg4PDxAQEREREhISExMTFBQUFRUVFhYWFxcXGBgYGRkZGhoaGxscHBwdHR4eHx8gICEhIiIjIyQlJicpKy0wNTpDT19wgIuWlpaWlpaWlpaWlpaWlpaWlpaWlg8PDxAQEREREhISExMTFBQUFRUVFhYWFxcXGBgYGRkZGhoaGxsbHBwdHR4eHh8fICEhIiIjIyQlJSYoKSwuMTU7RFFhcX+Ij4+Pj4+Pj4+Pj4+Pj4+Pj4+Pj48PDw8QEBEREhISExMTFBQUFRUVFhYWFxcXGBgYGRkZGhoaGxsbHBwcHR0eHh8fICAhISIjIyQkJSYnKCosLzI2PEVSYnJ/hIeHh4eHh4eHh4eHh4eHh4eHh4eHDw8QEBEREhISExMTFBQUFRUVFhYWFxcXGBgYGRkZGhoaGhsbHBwcHR0eHh4fHyAhISIiIyQkJSUmKCkrLTAzNz1HVGRzfoKCgoKCgoKCgoKCgoKCgoKCgoKCghAQEBEREhISExMTFBQUFRUVFhYWFxcXGBgYGRkZGhoaGhsbGxwcHR0dHh4fHyAgISEiIyMkJCUmJygqKy4xNDg/SFVkc36DhYWFhYWFhYWFhYWFhYWFhYWFhYUQEBEREhITExMUFBQUFRUVFhYWFxcXGBgYGRkZGhoaGhsbGxwcHB0dHh4eHx8gICEiIiMjJCUlJicpKiwuMTU6QElWZXJ+hImJiYmJiYmJiYmJiYmJiYmJiYmJEREREhITExMUFBQVFRUVFhYWFxcXGBgYGRkZGhoaGhsbGxwcHB0dHR4eHx8gICEhIiIjJCQlJicoKSstLzI2O0JLV2VyfoaNjY2NjY2NjY2NjY2NjY2NjY2NjRISEhITExMUFBQVFRUVFhYWFxcXGBgZGRkaGhoaGxsbGxwcHBwdHR0eHh8fICAhISIjIyQlJSYnKCorLTAzNzxDTFhlcn2HkJCQkJCQkJCQkJCQkJCQkJCQkJATExMTExQUFBUVFRUWFhYWFxcXGBgZGRkaGhobGxsbGxwcHBwdHR0eHh8fICAhISIiIyMkJSYmJykqLC4xNDg9RE1YZXF9iJGRkZGRkZGRkZGRkZGRkZGRkZGRExMTFBQUFBUVFRYWFhYXFxcXGBgZGRoaGhsbGxscHBwcHBwdHR0dHh4fHyAgISEiIiMkJCUmJygpKywvMTU5PkVOWWVxfYeRkZGRkZGRkZGRkZGRkZGRkZGRkRQUFBQVFRUVFhYWFhYXFxcYGBgZGRoaGxsbGxwcHBwcHB0dHR0dHh4fHyAgISEiIiMjJCUlJicoKSstLzI1Oj9GT1plcXyGkJCQkJCQkJCQkJCQkJCQkJCQkJAVFRUVFRUWFhYWFxcXFxcYGBgZGRoaGxscHBwcHR0dHR0dHR0dHh4eHx8gICEhIiIjJCQlJSYnKCorLTAzNjtAR1BbZnF8hY6Ojo6Ojo6Ojo6Ojo6Ojo6Ojo6vFRUVFhYWFhYXFxcXGBgYGBgZGRoaGxscHB0dHR0dHR0dHR0dHh4eHx8gICEhIiIjIyQkJSYnKCkqLC4wMzc8QUhRW2ZxfIWNjY2NjY2NjY2NjY2Nja+vr6/i9hYWFhYWFhcXFxcYGBgYGRkZGhobGxwcHR0dHh4eHh4eHh4eHh4eHx8gICEhIiIjIyQkJSUmJygpKywuMTQ4PUNJUlxmcXuEjIyMjIyMjIyMr6+vr6+vr6/i+vYWFhYXFxcXGBgYGBkZGRkaGhobHBwdHR0eHh4fHx8fHx8fHx8fHx8gICEhIiIjIyMkJCUmJicoKSstLzI1OT5ES1NcZnB6hI6Ojo6Ojq+vr6+vr6+vr+Li4vr2FxcXFxcYGBgYGRkZGhoaGhsbHBwdHR4eHx8fHyAgICAgICAgICAgISEhIiIjIyMkJCUlJicnKCorLTAyNjo/RUtTW2RveoWRkZGvr6+vr6+vr6+vw+Li4vr29hcXFxgYGBgZGRkaGhobGxscHB0dHh4fHyAgICAhISEhISEgISEhISEiIiIjIyMkJCUlJiYnKCkqLC4wMzc7QEZMU1pjbXiGlZWvr6+vr6+vr7Cww+Li4vr69vYXFxgYGBkZGRoaGxsbHBwdHR0eHx8gICAhISEhIiIiIiIhISEiIiIiIiMjIyQkJCUlJSYmJygpKiwuMTQ4PEJHTVNZYWt3hpivr6+vr6+wsLDDw+Li4un6+vb2GBgYGBkZGhoaGxscHB0dHh4fHyAgISEhIiIiIiMjIyMjIiIiIiMjIyMjJCQkJCUlJSYmJygoKSssLzE1OT1CSE1SWF9odISYsLCwsLCwsLDDw+Li4un6+vb29hgYGBkZGhobGxwcHR0eHh8fICAhISIiIyMjIyQkJCQkJCMjIyMjJCQkJCQkJSUlJSYmJycoKSorLS8yNTk+Q0hNUldeZnGAlayssLCwsLXDw+Li4un6+vr29vYYGBkZGhobGxwcHR0eHh8gICEhIiIjIyQkJCUlJSUlJSUkJCQkJCQlJSUlJSUmJiYmJycoKCkqLC0wMjY6P0NITVJXXWVvfZCjsLCwtbXDw+Li4unp+vr69vb2GBgZGhobHBwdHR4eHx8gISEiIiMkJCUlJSYmJiYmJiYmJSUlJSUlJSUmJiYmJiYnJycoKCkqKywuMDM3Oz9ESE1SV11kbnqKnbOztbXDw+Li4unp+vr6+vb29hkZGRobHBwdHR4fHyAgISIiIyQkJSUmJicnJycnJycnJyYmJiYmJiYmJiYmJycnJycoKCkpKistLjE0Nzs/RElNUlddZG13hJWmtbXDw+Li4unp+vr6+vb29vYZGRobHBwdHh4fHyAhISIjIyQlJSYnJygoKCgoKCgoKCgnJycnJycnJycnJycnKCgoKCkpKissLS8xNDc7QERJTlNYXmVsdX+Mmq3Dw+Li4unp6fr6+vr29vb2GhobGxwdHh4fICAhISIjIyQlJiYnKCgpKSkpKSkpKSkpKCgoKCgoKCgoKCgoKCgoKSkpKiorLC4vMjU4PEBESU5TWV9lbHR8hY+fuuLi4unp6fr6+vr69vb29hsbHBwdHh4fICAhIiIjJCQlJiYnKCkpKiorKioqKioqKSkpKSkpKSkpKSkpKSkpKSkqKiorLC0uMDI1ODxARUlOU1lfZWxzeoCHk6nY2Onp6en6+vr6+vb29vYcHBwdHh4fICAhIiIjJCQlJicnKCkqKisrKysrKysrKyoqKioqKiopKSkpKSkpKSoqKisrLCwuLzAzNTk9QUVJTlRZX2Vsc3l+g4ucvtXp6en6+vr6+vX29vb2HR0dHh8fICEhIiMjJCUlJicnKCkqKissLCwsLCwsLCsrKysrKyoqKioqKioqKioqKisrLCwtLjAxMzY5PUFFSk9UWV9la3J3fYGIlarA1enp+vr6+vr19vb28h4eHh8fICEhIiMjJCUlJicoKCkqKissLC0tLS0tLS0sLCwsLCsrKysrKysrKysrKysrLCwtLi8wMjQ3Oj5BRUpPVFlfZWtwdnuAhpCdrsLZ7/r6+vrz9fb29vIfHx8gICEhIiMjJCUlJicoKCkqKyssLC0tLS4uLi0tLS0tLSwsLCwsLCwrKysrKywsLCwtLi8wMTM1ODs+QkZKT1RZXmRqb3R5f4SLlKGxx93r9Pr68/X29vLyICAgICEhIiMjJCUlJicoKCkqKyssLS0tLi4uLi4uLi4uLi0tLS0tLCwsLCwsLCwsLC0tLi4vMTI0Njk8P0JGSk9UWV5jaG5zeH2CiI+YpLTH1uLq8PP19vby8iAgISEiIiMjJCUlJicnKCkqKyssLS0uLi8vLy8vLy8vLy4uLi4uLS0tLS0tLS0tLS0tLi4vMDEzNTc6PD9DRkpPU1hdYmdscXZ7gIWLkpuotsTQ2uHm6ezv8vIhISEiIiMjJCQlJicnKCkqKissLS0uLi8vLzAwMDAwLy8vLy8vLi4uLi4uLS0tLS4uLi4vMDEyNDY4Oj1AQ0dKT1NYXWFma3B1en6DiI6Wn6m1wcvT2d3h5enpIiIiIiMjJCQlJiYnKCkpKissLS0uLy8wMDAwMDAwMDAwMDAvLy8vLy4uLi4uLi4uLy8vMDAyMzU2OTs+QERHS09TV1xhZWpvc3h9gYaLkZmhq7W+xs3S19vf3yIiIyMjJCQlJiYnKCgpKissLC0uLy8wMDExMTExMTExMTEwMDAwMC8vLy8vLy8vLy8wMDExMjQ1Nzk8PkFER0tPU1dbYGVpbnJ3e3+EiY6UnKSstLzDyM3R1dUjIyMjJCQlJSYnJygpKisrLC0uLy8wMTExMTIyMjIyMTExMTExMDAwMDAwLy8vLzAwMDExMjM0Njg6PD9BREdLT1NXW19kaG1xdXp+goeMkZeepq20ur/EyMzMIyMjJCQlJSYmJygpKSorLC0uLi8wMTEyMjIyMjIyMjIyMjIyMTExMTAwMDAwMDAwMTEyMjM0NTc5Oz0/QkVIS09TV1tfY2hscHR4fIGFio+UmqGnrbO4vL/CwiMjJCQkJSUmJycoKSorKywtLi8wMTEyMjIzMzMzMzMzMzIyMjIyMjExMTExMTExMTEyMjM0NTY4OTs9QEJFSEtPU1dbX2Nna29zd3t/g4iNkpedo6mus7W4urojIyQkJSUmJicoKCkqKywtLi8vMDEyMjMzMzMzMzMzMzMzMzMyMjIyMjIxMTExMTIyMzM0NTY3OTo8PkBCRUhLT1NXW19jZ2tvcnZ6foKGi5CVmp+kqa2vsbOzIyMkJCUlJicnKCkqKissLS4vMDExMjMzMzMzMzMzMzMzMzMzMzMzMzIyMjIyMjIyMzM0NTY3ODk7PT9BQ0VIS09TV1tfY2drbnJ1eX2BhYmOk5ecoaWoqquuriMjJCQlJSYnJygpKissLS4uLzAxMjIzMzM0NDQ0NDQ0NDQ0NDQzMzMzMzMzMzMzMzQ0NTY3ODk6PD0/QUNGSEtPU1dcYGRna25ydXh8gISIjJGVmZ2hpKaoqqojIyQkJSUmJycoKSorLC0uLzAxMTIzMzM0NDQ0NDQ0NDQ0NDQ0NDQ0NDQ0NDQ0NDQ1NTY3ODk6Ozw+QEJERklMUFRYXGBkaGxvcnV4e3+Dh4uPk5ebnqCjpaamIyMjJCQlJicnKCkqKywtLi8wMTIyMzM0NDQ0NDU1NTU1NTU1NTQ0NDQ0NDQ0NTU1NjY3ODg5Ojw9PkBCREdJTVBVWV1hZmltcHN1eHt+gYWJjpKVmZyeoKKkpCIiIyQkJSYnKCgpKissLS4vMDEyMzM0NDQ0NTU1NTU1NTU1NTU1NTU1NTU1NTU2Njc3ODg5Ojs8Pj9BQkVHSk1RVVpeY2drbnF0dnh6fYCEiI2RlJeanJ6goaEiIiIjJCUmJycoKissLS4vMDExMjMzNDQ0NTU1NTU1NTU1NjY2NjY2NjY2NjY2Nzc3ODk5Ojs8PT5AQUNFSEpOUlZaX2RobHBzdnh5e3x/g4eMkJSXmZudnp+fISEiIyMkJSYnKSorLC0uLzAxMjIzMzQ0NTU1NTU2NjY2NjY2NjY2NjY2Nzc3Nzg4ODk5Ojs8PT4/QEJDRkhLTlJXW2BlaW5ydnh6e3t8foKHi5CUlpiam5ydnSAgISIjJCUmJykqKywtLi8wMTIzMzQ0NDU1NTY2NjY2NjY2Njc3Nzc3Nzc3ODg4OTk6Ojs8PD0+P0FCREZJTE9TV1xhZmtvdHh7fX18fH2BhouQlJaYmZqam5sfHyAhIiQlJicpKissLS4vMDEyMzM0NDU1NTY2NjY2Njc3Nzc3Nzc3ODg4ODk5OTo6Ozs8PD0+P0BBQ0RHSUxQVFhdYmZscXV6foB/fXx9gIWLkZSWl5iYmZmZHh4fISIjJSYnKSorLC0vMDAxMjMzNDQ1NTY2NjY2Nzc3Nzc3ODg4ODg4OTk5Ojo6Ozs8PT0+P0BBQkNFR0pNUFRZXWJnbHF2e3+CgH58fH6EipGTlJWWlpeXlx0dHiAhIyQmJykqKywuLzAxMjIzNDQ1NTU2NjY3Nzc3Nzg4ODg4ODk5OTk6Ojo7Ozw8PT0+P0BAQUNERkhKTVFVWV5jaGxxdnt+gIB+fHt9goeNkJKTlJWVlpYcHB0fISMkJicpKistLi8wMTIyMzQ0NTU2NjY3Nzc3Nzg4ODg5OTk5OTo6Ojs7PDw8PT4+P0BAQUJDRUZISk5RVlpeY2hscXV5fH5+fXt7fH+EiYyPkJKSk5SUGhocHyEjJCYnKSosLS4vMDEyMzM0NDU1NjY3Nzc3ODg4ODk5OTk6Ojo6Ozs7PDw9PT4+P0BAQUJDREZHSUxPUlZaX2NobHB0d3p7fHt7e3t+gYWJi42PkJGSkhkZHB4hIyQmKCkqLC0uLzAxMjMzNDU1NjY2Nzc3ODg4ODk5OTk6Ojo7Ozs8PD09PT4/P0BAQUJDREVHSEpNUFNXW19jZ2tvc3V3eXp6enp7fX+ChYiKjI6PkJAZGRweISMlJigpKywtLi8wMTIzNDQ1NTY2Nzc3ODg4OTk5OTo6Ojs7Ozw8PD09Pj4/P0BAQUJDREVGSElMTlFUWFxfY2drbnFzdXd4eXl6e3x+gIOFiImLjI6OGhocHyEjJSYoKSssLS4vMDEyMzQ0NTU2Njc3ODg4OTk5OTo6Ojs7Ozw8PT0+Pj4/P0BBQUJDRERGR0lKTU9SVVlcYGNnam1wcnR1dnd4eXp7fX+Bg4WHiYqLixsbHR8hIyUnKCorLC0vMDExMjM0NDU1NjY3Nzg4ODk5OTo6Ozs7PDw8PT0+Pj8/QEBBQUJDRERFR0hJTE5QU1ZZXWBjZmlsbnBydHV2eHl6e3x+f4GDhYaIiYkdHR8gIiQlJygqKywuLzAxMjIzNDQ1NjY3Nzg4ODk5OTo6Ozs7PDw9PT0+Pj8/QEBBQkJDRERFRkhJSk1PUlRXWl1gY2Zpa21vcXN0dnd4eXp7fX6AgYOEhYeHHx8gISMlJicpKistLi8wMTIyMzQ1NTY2Nzc4ODk5OTo6Ozs7PDw9PT4+Pj8/QEFBQkJDRERFRkdJSkxOUFNVWFteYGNmaGpsbnByc3V2d3l6e3x9f4CBgoOFhSAgISMkJScoKSosLS4vMDEyMzM0NTU2Njc3ODg5OTo6Ojs7PDw9PT4+Pz9AQEFBQkJDRERFRkdISktNT1FUVllbXmFjZWhqbG5wcXN0dnd4eXt8fX5/gIGCgoIiIiMkJSYnKCorLC0uLzAxMjMzNDU1NjY3Nzg4OTk6Ojs7PDw9PT4+Pz9AQEFBQkNDREVFRkdISUtMTlBSVVdaXF5hY2Voamxtb3FydHV3eHl6e3x9fn5/gIGBIyMkJSYnKCkqKywtLi8wMTIzMzQ1NTY3Nzg4OTk6Ojs7PDw9PT4+Pz9AQEFBQkNDREVFRkdISUpMTk9RVFZYWl1fYWNlaGlrbW9wcnN1dnd5ent7fH1+fn9/fyUlJSYnKCkqKyssLS4vMDEyMzM0NTU2Nzc4ODk5Ojo7PDw9PT4+Pz9AQEFCQkNDREVFRkdISUpMTU9RU1VXWVtdX2JkZmhpa21vcHJzdXZ3eHl6e3x8fX19fn4mJiYnKCkpKissLS4vLzAxMjM0NDU2Njc3ODk5Ojo7Ozw8PT0+Pz9AQEFCQkNDREVFRkdISUpLTU5QUlRWWFpcXmBiZGZoamttb3Byc3R2d3h5enp7fHx8fH19JycnKCkpKisrLC0uLzAwMTIzNDQ1NjY3Nzg5OTo7Ozw8PT0+Pz9AQEFCQkNEREVGRkdISUpLTE5PUVNVV1lbXV9hY2RmaGprbW9wcnN0dXZ3eHl6ent7fHx8fCgoKCkpKisrLC0tLi8wMTEyMzQ0NTY2Nzg4OTo6Ozs8PT0+Pj9AQEFCQkNEREVGRkdISUpLTE1PUFJUVlhaXF1fYWNlZ2hqbG1vcHJzdHV2d3h5eXp6e3t7e3spKSkqKisrLCwtLi4vMDExMjM0NDU2Njc4ODk6Ojs8PD0+Pj9AQEFCQkNEREVGRkdISUpLTE1OUFJTVVdZWlxeYGJkZmdpa2xub3Byc3R1dnd4eHl6enp7e3t7KioqKisrLCwtLS4vLzAxMTIzNDQ1NjY3ODk5Ojs7PD09Pj8/QEFCQkNEREVGRkdISUpLTE1OUFFTVFZYWltdX2FjZGZoaWttbm9xcnN0dXZ3eHh5eXp6ent7eyoqKysrLCwtLS4uLy8wMTEyMzQ0NTY3Nzg5Ojo7PDw9Pj8/QEFBQkNEREVGRkdISUpKTE1OT1FSVFVXWVpcXmBiY2VnaGpsbW5wcXJzdHV2d3d4eHl5enp6e3srKyssLCwtLS0uLi8wMDExMjM0NDU2Nzc4OTo7Ozw9Pj4/QEFBQkNEREVGR0dISUlKS0xOT1BSU1VWWFpbXV9hYmRmZ2lrbG5vcHFyc3R1dnd3eHh5eXp6enp6KyssLCwtLS0uLi8vMDAxMjIzNDQ1Njc4ODk6Ozw8PT4/P0BBQkNDREVGR0dISUpKS0xNT1BRU1RWV1lbXF5gYWNlZmhqa21ub3Fyc3R0dXZ3d3h4eXl5enp6eiwsLCwtLS0uLi4vLzAwMTIyMzQ1NTY3ODk5Ojs8PT4+P0BBQkJDREVGR0dISUpKS0xNTlBRUlRVV1haW11fYGJkZWdpamxtb3BxcnN0dXV2d3d4eHl5eXp6enosLC0tLS0uLi4vLy8wMDEyMjM0NTU2Nzg5Ojs7PD0+P0BAQUJDREVGRkdISUpKS0xNTk9QUlNVVldZW1xeX2FjZGZoaWttbm9xcnJzdHV1dnd3eHh5eXp6ent7LS0tLS0uLi4uLy8wMDAxMjIzNDU2Njc4OTo7PD09Pj9AQUJDQ0RFRkdISUpLS0xNTk9QUVNUVVdYWltdX2BiY2VnaGpsbW9wcXJzdHR1dnZ3d3h4eXl6enp7ey0tLS0uLi4uLy8vMDAwMTIyMzQ1Njc3ODk6Ozw9Pj8/QEFCQ0RFRkdISUpLS0xNTk9QUVJTVVZYWVtcXl9hY2RmZ2lrbG5vcHFyc3R0dXZ2d3d4eXl5enp7e3stLS4uLi4uLy8vLzAwMTEyMjM0NTY3ODk6Ojs8PT4/QEFCQ0NERUZHSElKS0xNTk5PUVJTVFVXWFpbXV9gYmNlZmhpa21ub3FycnN0dXV2dnd4eHl5enp7e3t7Li4uLi4uLi8vLy8wMDExMjIzNDU2Nzg5Ojs8PT4+P0BBQkNERUZHSElJSktMTU5PUFFSVFVWWFlbXF5fYWJkZWdoamttbm9xcnJzdHV1dnd3eHh5eXp6e3t8fC4uLi4uLi8vLy8wMDAxMTIyMzQ1Njc4OTo7PD0+P0BBQkJDREVGR0hJSktMTU5PUFFSU1RVV1haW11eYGFjZGZnaWpsbW5wcXJyc3R1dXZ3d3h5eXp6e3t8fHwuLi4uLi8vLy8vMDAwMTEyMzM0NTY3ODk6Ozw9Pj9AQUJDREVFRkdISUpLTE1OT1BRUlRVVldZWlxdX2BiZGVmaGlrbG1ucHFycnN0dXV2d3d4eXl6e3t8fH19Li4uLi8vLy8vLzAwMDExMjMzNDU2ODk6Ozw9Pj9AQEFCQ0RFRkdISUpLTE1NTlBRUlNUVVdYWVtcXl9hYmRlZ2hqa2xtbm9wcXJzdHV1dnd4eHl6ent7fHx9fS4uLi8vLy8vLy8wMDAxMTIzNDU2Nzg5Ojs8PT4/QEFCQkNERUZHSElKS0xNTk9QUVJTVFZXWFpbXV5gYWNkZmdpamtsbW5vcHFyc3R1dXZ3eHh5ent7fHx9fX0uLi8vLy8vLy8wMDAwMTEyMzQ1Njc4OTo7PD4+P0BBQkNEREVGR0hJSktMTU5PUFFSVFVWV1laXF1eYGFjZGZnaWprbG1ub3BxcnN0dHV2d3h5eXp7fHx9fX5+Ly8vLy8vLy8vMDAwMDExMjM0NTY3ODk7PD0+P0BBQUJDREVFRkdISUpLTE1OT1BSU1RVVlhZWlxdX2BiY2VmZ2lqa21ubm9wcXJzdHR1dnd4eXl6e3x9fX5+fi8vLy8vLy8vLzAwMDExMTIzNDU2Nzg5Ozw9Pj9AQUJCQ0RFRkZHSElKS0xNTlBRUlNUVVdYWVtcXV9gYmNlZmhpamttbW5vcHFyc3N0dXZ3eHl5ent8fX1+fn4vLy8vLy8vLy8wMDAxMTIyMzQ1Njc4Ojs8PT4/QEFCQkNERUZHR0hJSktMTU9QUVJTVFZXWFpbXF5fYGJjZWZoaWprbG1ub3BxcnJzdHV2d3h4eXp7fH19fn5+Ly8vLy8vLy8wMDAwMTEyMjM0NTY3ODo7PD0+P0BBQkJDREVGR0dISUpLTE1PUFFSU1VWV1haW1xeX2BiY2VmZ2lqa2xtbm9wcXFyc3R1dnZ3eHl6e3x9fX5+fi8vLy8vLy8vMDAwMDExMjIzNDU2Nzk6Ozw9Pj9AQUJDQ0RFRkdHSElKS0xNT1BRUlRVVldZWltcXl9gYmNkZmdpamtsbW5vcHBxcnN0dXV2d3h5ent7fH19fn4vLy8vLy8vLzAwMDAxMTIyMzQ1Njc5Ojs8PT4/QEFCQkNERUZHR0hJSktMTU9QUVJUVVZXWVpbXF5fYGJjZGZnaGlrbG1ubm9wcXJzc3R1dnd4eXl6e3x8fX19Ly8vLy8vLy8wMDAwMTEyMjM0NTY3OTo7PD0+P0BBQkJDREVGR0dISUpLTE1PUFFSVFVWWFlaW1xeX2BiY2RlZ2hpamtsbW5vcHFycnN0dXZ3d3h5enp7e3x8fC8vLy8vLy8wMDAwMDExMjMzNDU2Nzk6Ozw9Pj9AQUJCQ0RFRkZHSElKS0xNT1BRUlRVVldZWltcXl9gYWNkZWZoaWprbG1ub3BwcXJzdHV1dnd4eHl6ent7fHwvLy8vLy8vMDAwMDAxMTIzMzQ1Njc5Ojs8PT4/QEFBQkNERUZGR0hJSktMTU5QUVJTVVZXWVpbXF1fYGFiZGVmZ2hqa2xtbm5vcHFyc3R0dXZ3d3h5eXp6e3t7Ly8vLy8vLzAwMDAxMTEyMzQ0NTY3OTo7PD0+P0BAQUJDREVFRkdISUpLTE1OT1FSU1VWV1haW1xdXmBhYmNlZmdoaWprbG1ub3BxcnJzdHV2dnd3eHl5enp6ei8vLy8vLy8wMDAwMTExMjM0NTU2Nzg6Ozw9Pj4/QEFCQ0RFRUZHSElKS0xNTk9QUlNUVldYWVtcXV5fYWJjZGZnaGlqa2xtbm9wcHFyc3R0dXZ2d3h4eHl5enovLy8vLy8vMDAwMDExMjIzNDU2Njc4OTo7PD0+P0BBQkNEREVGR0hJSktMTU5PUFFTVFVXWFlaW11eX2FiY2RlZmhpamtsbW1ub3BxcnNzdHV1dnd3d3h4eXl5Ly8vLy8vLzAwMDAxMTIyMzQ1Njc3ODk6Ozw9Pj9AQUJDRERFRkdISUlKS0xNT1BRUlRVVldZWltdXl9gYmNkZWZnaGlqa2xtbm9wcXFyc3R0dXZ2d3d3eHh4eC8vLy8vLy8wMDAwMTEyMjM0NTY3ODg5Ojs8PT4/QEFCQ0NERUZHSEhJSktMTU5PUVJTVVZXWFpbXF5fYGFjZGVmZ2hpamtsbW5vb3BxcnNzdHV1dnZ2d3d3d3cuLi8vLy8vLzAwMDExMjIzNDU2Nzg5OTo7PD0+P0BBQkNDREVGR0dISUpLTE1OT1BRU1RVV1haW1xdX2BhYmRlZmdoaWpra2xtbm9wcXFyc3R0dXV2dnZ2d3d3Li4uLy8vLy8wMDAxMTIzMzQ1Njc4OTk6Ozw9Pj9AQUJDQ0RFRkZHSElJSktMTU5QUVJUVVdYWVtcXV9gYWJjZGVmZ2hpamtsbW5vb3BxcnNzdHR1dXV2dnZ2di4uLi4vLy8vMDAwMTEyMzM0NTY3ODk6Ojs8PT4/QEFCQ0NERUZGR0hJSUpLTE1OT1BSU1VWWFlaXF1eYGFiY2RlZmdoaWpra2xtbm9wcXFyc3N0dHV1dXV1dnYuLi4uLi8vLzAwMDExMjMzNDU2Nzg5Ojo7PD0+P0BBQkJDREVGRkdISElKSktMTU9QUVNUVldZWlxdXl9hYmNkZWZnaGhpamtsbW1ub3BxcnJzc3R0dHV1dXV1LS0uLi4uLy8wMDAxMTIzNDQ1Njc4OTo7Ozw9Pj9AQUJCQ0RFRkZHSEhJSUpLTE1OT1FSVFVXWFpbXV5fYGFiY2RlZmdoaWpqa2xtbm9vcHFycnNzc3R0dHR1dS0tLS4uLi8vLzAwMTIyMzQ0NTY3ODk6Ozs8PT4/QEFCQkNERUZGR0hISUlKSktMTU5QUVNVVlhaW11eX2BhYmNkZWZnZ2hpamtrbG1ub29wcXJycnNzc3R0dHQtLS0tLi4uLy8wMDEyMjM0NTU2Nzg5Ojs7PD0+P0BBQkJDREVGRkdISElJSkpLTE1OT1FSVFZYWVtcXV5fYGFiY2RlZmdoaGlqa2tsbW5vb3BxcXJyc3Nzc3R0LCwtLS0uLi8vMDAxMjIzNDU2Njc4OTo7Ozw9Pj9AQUJCQ0RFRkdHSEhJSUpKS0tMTU5QUVNVV1lbXF1eX2BhYmNkZWZmZ2hoaWprbGxtbm9vcHFxcnJyc3NzcywsLCwtLS4vLzAwMTIzMzQ1Njc3ODk6Ozw8PT4/QEFCQkNERUZHR0hJSUpKSkpLS0xNT1BSVFZYWltcXV5fYGFiY2RlZWZnZ2hpamtrbG1ub29wcHFxcnJzc3MrKyssLS0uLi8wMDEyMzM0NTY3Nzg5Ojs8PD0+P0BBQkJDREVGR0hISUlKSkpLS0tMTU5PUVNVV1laW1xdXl9gYWJjZGRlZmZnaGlqa2tsbW5ub3BwcXFycnNzKiorKywtLS4vMDAxMjM0NDU2Nzg4OTo7PDw9Pj9AQUFCQ0RFRkdISElKSktLS0tLS0xNTlBSVFVXWFpbXF1eX2BhYmJjZGVlZmdoaWlqa2xtbm5vcHBxcXJycikpKissLC0uLzAwMTIzNDU1Njc4ODk6Ozw8PT4/QEFBQkNERUZHSElKSktLTExLS0tLTE1PUFJUVVdYWVpbXF1eX2BhYmNjZGVmZ2doaWprbG1tbm9wcHFycnIpKSkqKywtLi8wMTEyMzQ1NTY3ODg5Ojs8PD0+P0BAQUJDREVGR0hJSktLTE1NTExLS0tMTk9RUlRVV1hZWltcXV5fYGFhYmNkZWVmZ2hpamtsbW5ub3BxcXJyKCgpKiosLS4vMDEyMjM0NTY2Nzg5OTo7PDw9Pj9AQEFCQ0RFRkdISUpLTE1NTk5NTEtLTE1OT1FSVFVWV1laW1xdXV5fYGFiYmNkZWZnaGlqa2xtbm9vcHFxcScnKCkqKywtLzAxMjMzNDU2Njc4OTk6Ozs8PT4/P0BBQkNERUZHSElKS0xNTk9PTk1MS0tMTU5PUVJTVVZXWFlaW1xdXl9fYGFiY2RlZmdoaWprbG1ub3BwcXEmJicoKissLS8wMTIzNDQ1Njc3ODk5Ojs7PD0+Pj9AQUJDREVGR0hJSktMTU9PUE9NTEtLS0xNTk9RUlNUVldYWVpaW1xdXl9gYWFiY2RlZmhpamtsbW5vcHBwJSUmKCkrLC0vMDEyMzQ0NTY3Nzg5OTo7Ozw9Pj4/QEFCQ0RERUdISUpLTE1OT09PTkxLS0tLTE1OT1FSU1RVVldYWVpbXFxdXl9gYWJjZGVmaGlqa21ubm9vbyQkJicpKywtLzAxMjM0NTU2Nzc4OTk6Ozs8PT0+P0BBQkJDREVGR0hKS0xNTk5PTk1MTEtLS0tMTU5PUFFTVFVWV1hYWVpbXF1eX19gYmNkZWZnaWpsbW1ubm4kJCYnKSssLi8wMTIzNDU1Njc3ODk5Ojs7PD09Pj9AQEFCQ0RFRkdISUpLTE1NTU1NTEtLS0tLS0xNTk9QUVJTVFVWV1hZWlpbXF1eX2BhYmNlZmdpamtsbG1tJSUmKCkrLC4vMDEyMzQ1NTY3Nzg5OTo6Ozw8PT4/P0BBQkNERUZHSElKS0tMTExMTExLS0tKS0tLTE1OT1BRUlNUVVVWV1hZWltcXF1eYGFiY2RmZ2hpamtrayUlJygqKy0uLzEyMzM0NTU2Nzc4ODk6Ojs8PD0+Pj9AQUJDQ0RFRkdISUpKS0tLS0tLS0pKSkpKS0tMTU5PUFFRUlNUVVZXV1hZWltcXV5fYGFjZGVmZ2hpaWknJygpKiwtLjAxMjMzNDU1Njc3ODg5Ojo7Ozw9PT4/QEFBQkNERUZHR0hJSUpKSkpKSkpKSkpKSkpLS0xNTk5PUFFSU1NUVVZXWFhZWltcXV5fYWJjZGVlZmdnKCgpKissLi8wMTIzNDQ1NTY3Nzg4OTk6Ozs8PT0+Pz9AQUJDQ0RFRkdHSEhJSUlKSkpKSklJSUpKSktLTE1NTk9QUFFSU1RUVVZXWFlaWltcXV9gYGFiY2RkZCkpKissLS4vMDEyMzQ0NTU2Nzc4ODk5Ojo7PDw9Pj4/QEFBQkNEREVGR0dISEhJSUlJSUlJSUlJSUpKS0tMTE1OTk9QUVFSU1RVVVZXWFlaW1tcXV5fYGBhYWEqKissLS4vMDEyMjM0NDU1NjY3ODg5OTo6Ozs8PT0+Pz9AQUJCQ0RFRUZGR0dHSEhISEhISUlJSUlJSkpKS0tMTU1OT09QUVJSU1RVVVZXWFlZWltcXF1eXl9fKyssLS0uLzAxMjIzNDQ1NTY2Nzc4ODk6Ojs7PDw9Pj4/QEBBQkNDRERFRUZGR0dHR0hISEhISEhJSUlJSkpLS0xMTU1OT1BQUVJSU1RUVVZXV1hZWVpaW1tcXCwsLS0uLzAwMTIzMzQ0NTU2Njc3ODg5OTo6Ozw8PT0+Pz9AQUFCQ0NEREVFRUZGRkdHR0dHSEhISEhJSUlJSkpLS0xMTU5OT09QUVFSU1NUVVVWVldXWFhZWVktLS4uLy8wMTEyMzM0NDU1NjY3Nzg4OTk6Ojs7PDw9Pj4/QEBBQUJCQ0NEREVFRUZGRkZHR0dHR0hISEhJSUlJSkpLS0xNTU5OT09QUFFSUlNTVFRVVVVWVldXLi4uLy8wMDEyMjMzNDQ1NTY2Njc3ODg5OTo6Ozs8PT0+Pj9AQEFBQkJDQ0REREVFRUZGRkZGR0dHR0dISEhJSUlKSktLTExMTU1OTk9PUFBRUVJSUlNTU1RUVC8vLy8wMDExMjIzMzQ0NTU1NjY3Nzg4OTk6Ojs7PDw9PT4/P0BAQUFCQkNDQ0REREVFRUVGRkZGR0dHR0dISEhJSUlKSktLS0xMTE1NTk5PT09QUFBRUVFRUlIvLy8wMDExMTIyMzM0NDQ1NTY2Nzc3ODg5OTo6Ozs8PD09Pj8/QEBBQUFCQkNDQ0REREVFRUVGRkZGRkdHR0dISEhJSUlKSkpLS0tMTE1NTU1OTk5OT09PT09PMDAwMDAxMTIyMjMzNDQ0NTU2NjY3Nzg4ODk5Ojo7Ozw8PT4+Pz9AQEBBQUJCQkNDQ0REREVFRUVFRkZGRkdHR0dISEhJSUlJSkpKS0tLTExMTExMTU1NTU1NTTAwMDAxMTEyMjIzMzQ0NDU1NjY2Nzc3ODg5OTo6Ojs7PD09Pj4+Pz9AQEFBQUJCQkNDQ0RERERFRUVFRkZGRkdHR0dISEhISUlJSUpKSkpLS0tLS0tLS0tLTEwwMDExMTExMjIyMzM0NDQ1NTU2NjY3Nzg4ODk5Ojo7Ozw8PT0+Pj4/P0BAQEFBQkJCQ0NDQ0RERERFRUVFRkZGRkdHR0dISEhISElJSUlJSUpKSkpKSkpKSkpKMTExMTExMjIyMzMzNDQ0NTU1NjY2Nzc3ODg4OTk6Ojs7PDw9PT0+Pj8/QEBAQUFBQkJCQ0NDQ0RERERFRUVFRkZGRkdHR0dHSEhISEhISUlJSUlJSUlJSUlJSTExMTExMTIyMjMzMzQ0NDU1NTY2NjY3Nzc4ODg5OTo6Ozs8PD09PT4+Pz8/QEBAQUFBQkJCQ0NDQ0RERERFRUVFRkZGRkZHR0dHR0dISEhISEhISEhISEhISEgxMTExMTIyMjIzMzM0NDQ1NTU2NjY2Nzc3Nzg4ODk5Ojo7Ozw8PT09Pj4+Pz8/QEBAQUFBQkJCQ0NDQ0REREVFRUVFRkZGRkZGR0dHR0dHR0dHR0dHR0dHR0dHMTExMTEyMjIyMzMzNDQ0NTU1NTY2NjY3Nzc3ODg5OTo6Ojs7PDw8PT0+Pj4/Pz9AQEBBQUFCQkJCQ0NDREREREVFRUVFRUZGRkZGRkZGR0dHR0dHR0dHR0dGRjExMTExMjIyMjMzMzQ0NDU1NTU2NjY2Njc3Nzc4ODk5Ojo7Ozs8PDw9PT0+Pj4/Pz9AQEBBQUFCQkJDQ0NDRERERERFRUVFRUZGRkZGRkZGRkZGRkZGRkZGRkYxMTExMTIyMjMzMzQ0NDQ1NTU1NjY2NjY2Nzc3ODg5OTk6Ojs7Ozw8PD09PT4+Pj8/P0BAQEFBQUFCQkJDQ0NDRERERERFRUVFRUVFRUZGRkZGRkZGRkZGRkZGMTExMTEyMjIzMzM0NDQ0NTU1NTY2NjY2Njc3Nzg4ODk5Ojo6Ozs7Ozw8PD09PT4+Pj8/P0BAQEFBQUJCQkNDQ0NDRERERERFRUVFRUVFRUVFRUVFRUVFRUVFRTAwMTExMjIyMzM0NDQ0NTU1NTU2NjY2NjY3Nzc3ODg5OTk6Ojo7Ozs7PDw8PD09PT4+Pj8/QEBAQUFBQkJCQkNDQ0NDRERERERERUVFRUVFRUVFRUVFRUVFRUUwMDExMTIyMzMzNDQ0NDU1NTU1NjY2NjY2Nzc3Nzg4ODk5OTo6Ojo7Ozs7PDw8PT09Pj4+Pz8/QEBBQUFBQkJCQkNDQ0NDRERERERERERFRUVFRUVFRUVFRUVFMDAwMTEyMjMzNDQ0NDU1NTU1NTY2NjY2Njc3Nzc4ODg5OTk5Ojo6Ojs7Ozs7PDw8PT09Pj4/Pz9AQEBBQUFCQkJCQ0NDQ0NDRERERERERERERERERERERERERC8vMDExMjMzMzQ0NDQ1NTU1NTU2NjY2NjY3Nzc3ODg4ODk5OTk6Ojo6Ojs7Ozs7PDw9PT0+Pj8/P0BAQEFBQUJCQkJCQ0NDQ0NDREREREREREREREREREREREQvLzAxMTIzMzQ0NDQ1NTU1NTU2NjY2NjY2Nzc3Nzg4ODg4OTk5OTk6Ojo6Ojo7Ozs8PD09PT4+Pz8/QEBAQUFBQUJCQkJDQ0NDQ0NDRERERERERERERERERERELi4vMDIyMzM0NDQ1NTU1NTU1NjY2NjY2Nzc3Nzc3ODg4ODk5OTk5OTk6Ojo6Ojo7Ozw8PT0+Pj4/Pz9AQEBBQUFBQkJCQkJDQ0NDQ0NDRERERERERERERERERC0tLzAyMzM0NDQ0NTU1NTU1NjY2NjY2Njc3Nzc3Nzg4ODg4OTk5OTk5OTk5Ojo6Ojs7PDw9PT4+Pj8/QEBAQEFBQUFBQkJCQkNDQ0NDQ0NDREREREREREREREQtLS8xMjMzNDQ0NTU1NTU1NTY2NjY2NjY3Nzc3Nzc4ODg4ODg5OTk5OTk5OTk5Ojo6Ozs8PD09Pj4/Pz9AQEBAQUFBQUJCQkJCQ0NDQ0NDQ0NDQ0NDQ0RERERELS0vMTIzMzQ0NDU1NTU1NTY2NjY2NjY2Nzc3Nzc3ODg4ODg4ODg5OTk5OTk5OTk6Ojs7PDw9PT4+Pj8/P0BAQEBBQUFBQkJCQkJDQ0NDQ0NDQ0NDQ0NDQ0NDQy4uLzEyMzM0NDQ1NTU1NTU2NjY2NjY2Njc3Nzc3Nzc4ODg4ODg4ODg5OTk5OTk5Ojo6Ozs8PD09Pj4+Pz8/QEBAQEFBQUFCQkJCQkNDQ0NDQ0NDQ0NDQ0NDQ0MvLzAxMjMzNDQ1NTU1NTU2NjY2NjY2Njc3Nzc3Nzc3ODg4ODg4ODg4ODg4OTk5OTk6Ojs7PDw9PT0+Pj8/P0BAQEBBQUFBQkJCQkJCQ0NDQ0NDQ0NDQ0NDQ0NDMDAwMTIzMzQ0NDU1NTU1NjY2NjY2NjY3Nzc3Nzc3Nzg4ODg4ODg4ODg4ODg5OTk5Ojo7Ozs8PD09Pj4+Pz8/QEBAQEFBQUFCQkJCQkJDQ0NDQ0NDQ0NDQ0NDQzAwMTEyMzM0NDQ1NTU1NjY2NjY2NjY2Nzc3Nzc3Nzc3ODg4ODg4ODg4ODg4OTk5OTo6Ojs7PDw9PT0+Pj8/P0BAQEBBQUFBQUJCQkJCQkNDQ0NDQ0NDQ0NDQ0M="}, "cR": {"x0": 497, "y0": 76, "w": 91, "h": 170, "d": "xMTExMTExMTExMTExMTExMTExMjM0NTX2t3f4OHi4+Pk5OTk5OTk5OTk4+Pj4+Pj4+Li4uLi4uLi4uLi4uLi4uLi4uLj4+Pj5OTk5OXl5ebm5+fo6Ojp6erq6sPDw8PDw8PDw8PDw8PDw8PDw8PHy8/T19rd3+Dh4uPj4+Tk5OTk5OTk5OPj4+Pj4+Pi4uLi4uLi4uLi4uLi4uLi4uLi4+Pj4+Pk5OTl5eXm5ufn5+jo6enq6urBwcHBwcHBwcHBwcHBwcHBwcHBxcrP09fa3N7g4eLj4+Pk5OTk5OTk5OPj4+Pj4+Pj4uLi4uLi4uLi4uLi4uLi4uLi4uLj4+Pj5OTk5eXl5ubm5+fo6Onp6erqv7+/v7+/v7+/v7+/v7+/v7+/v8TJztPW2tze4OHi4uPj5OTk5OTk5OTj4+Pj4+Pj4+Li4uLi4uLi4uLi4uLi4uLi4uLi4+Pj4+Tk5OXl5ebm5ufn6Ojo6enp6b+/v7+/v7+/v7+/v7+/v7+/v7/DyM7S1tnc3t/h4uLj4+Tk5OTk5OTk4+Pj4+Pj4+Li4uLi4uLi4uLh4eHh4eLi4uLi4uPj4+Pk5OTl5eXl5ubn5+fo6Ojp6em/v7+/v7+/v7+/v7+/v7+/v7+/w8jN0tXZ297f4OHi4+Pj5OTk5OTk4+Pj4+Pj4+Pi4uLi4uLi4uLh4eHh4eHh4uLi4uLj4+Pj5OTk5OXl5ebm5ufn5+jo6OnpwMDAwMDAwMDAwMDAwMDAwMDAwMTJzdHV2Nvd3+Dh4uPj4+Tk5OTk5OPj4+Pj4+Pj4uLi4uLi4uLi4eHh4eHh4eHi4uLi4+Pj4+Tk5OTl5eXm5ubm5+fn6Ojo6MHBwcHBwcHBwcHBwcHBwcHBwcHFyc3R1Njb3d/g4eLj4+Pj5OTk5OPj4+Pj4+Pj4uLi4uLi4uLi4eHh4eHh4eHh4uLi4uLj4+Pk5OTk5eXl5ebm5ubn5+fn5+fDw8PDw8PDw8PDw8PDw8PDw8PDxsnN0NTX2t3f4OHi4+Pj4+Tk5OPj4+Pj4+Pj4+Li4uLi4uLi4uHh4eHh4eHh4eHi4uLi4+Pj5OTk5OXl5eXm5ubm5ubn5+fnxMTExMTExMTExMTExMTExMTExMfKzdDT19rc3uDh4uLj4+Pj4+Pj4+Pj4+Pj4+Pi4uLi4uLi4uHh4eHh4eHh4eHh4uLi4uPj4+Pk5OTl5eXl5ebm5ubm5ubm5sXFxcXFxcXFxcXFxcXFxcXFxcXHys3P09bZ3N7g4eLi4+Pj4+Pj4+Pj4+Pj4+Pi4uLi4uLi4uLh4eHh4eHh4eHh4eLi4uLj4+Pj5OTk5OXl5eXl5ubm5ubm5ubGxsbGxsbGxsbGxsbGxsbGxsbGyMrMz9LW2dze3+Hh4uPj4+Pj4+Pj4+Pj4+Pi4uLi4uLi4uLh4eHh4eHh4eHh4eHi4uLi4+Pj4+Tk5OTl5eXl5eXl5eXl5eXlxsbGxsbGxsbGxsbGxsbGxsbGxsjKzM/S1djb3d/g4eLi4+Pj4+Pj4+Pj4+Pj4uLi4uLi4uLi4eHh4eHh4eHh4eHh4uLi4uPj4+Pk5OTk5eXl5eXl5eXl5eXl5cbGxsbGxsbGxsbGxsbGxsbGxsbIyszP0tXY293f4OHi4uPj4+Pj4+Pj4+Pj4uLi4uLi4uLi4eHh4eHh4eHh4eHh4eLi4uLj4+Pj5OTk5OXl5eXl5eXl5eXl5eXGxsbGxsbGxsbGxsbGxsbGxsbGyMrMztHU2Nrd3+Dh4eLi4+Pj4+Pj4+Pj4uLi4uLi4uLi4uHh4eHh4eHh4eHh4eHi4uLi4+Pj4+Tk5OTl5eXl5eXl5eXl5eXlxsbGxsbGxsbGxsbGxsbGxsbGxsjKzM7R1Nfa3N7f4OHi4uLj4+Pj4+Pj4uLi4uLi4uLi4uHh4eHh4eHh4eHh4eHh4uLi4uLj4+Pk5OTk5OXl5eXl5eXl5eXl5cbGxsbGxsbGxsbGxsbGxsbGxsbIyszO0dTX2tze3+Dh4eLi4uLi4uLi4uLi4uLi4uLi4uHh4eHh4eHh4eHh4eHh4eLi4uLi4+Pj4+Tk5OTl5eXl5eXl5eXl5eXFxcXFxcXFxcXFxcXFxcXFxcXFx8nLztDT1tnc3d/g4eHi4uLi4uLi4uLi4uLi4uLi4uHh4eHh4eHh4eHh4eHh4eHi4uLi4uPj4+Pk5OTk5eXl5eXl5eXl5eXlxMTExMTExMTExMTExMTExMTExMbJy83Q09bZ293e3+Dh4eLi4uLi4uLi4uLi4uLi4uLh4eHh4eHh4eHh4eHh4eHh4uLi4uLj4+Pj5OTk5OXl5eXl5eXl5eXl5cPDw8PDw8PDw8PDw8PDw8PDw8PFyMrN0NPV2Nrc3t/g4OHh4eLi4uLi4uLi4uLi4uLh4eHh4eHh4eHh4eHh4eHh4eHi4uLi4+Pj4+Tk5OTl5eXl5eXl5eXl5eXCwsLCwsLCwsLCwsLCwsLCwsLCxMfKzc/S1dja3N3f3+Dh4eHh4uLi4uLi4uLi4uLh4eHh4eHh4eHh4eHh4eHh4eHh4uLi4uLj4+Pk5OTk5eXl5eXl5eXl5eXlwMDAwMDAwMDAwMDAwMDAwMDAwMPGyczP0tXX2tzd3t/g4OHh4eHh4eHh4uLi4eHh4eHh4eHh4eHh4eHh4eHh4eHh4eHi4uLi4+Pj4+Tk5OXl5eXl5eXl5eXl5b6+vr6+vr6+vr6+vr6+vr6+vr7BxcjLz9LV19nb3d7f3+Dg4eHh4eHh4eHh4eHh4eHh4eHh4eHh4ODg4ODg4eHh4eHh4eLi4uPj4+Pk5OTl5eXl5eXl5ubm5ua8vLy8vLy8vLy8vLy8vLy8vLy8wMPHy87S1NfZ29zd3t/f4ODg4eHh4eHh4eHh4eHh4eHh4eHg4ODg4ODg4ODg4eHh4eHi4uLi4+Pj5OTk5eXl5eXl5ubm5ubmurq6urq6urq6urq6urq6urq6ur7CxsrO0dTX2drc3d7f3+Dg4ODh4eHh4eHh4eHh4eHh4eDg4ODg4ODg4ODg4ODh4eHh4eLi4uPj4+Tk5OXl5eXl5ebm5ubm5rm5ubm5ubm5ubm5ubm5ubm5ubm9wcbKztHU1tja293d3t/f4ODg4ODg4eHh4eHh4eHh4eDg4ODg4ODg4ODg4ODg4OHh4eHi4uLj4+Pk5OTl5eXl5ebm5ubm5ua4uLi4uLi4uLi4uLi4uLi4uLi4vMHFyc3R1NbY2tvc3d7e39/g4ODg4ODg4OHh4eHh4ODg4ODg4ODg4ODg4ODg4ODg4eHh4eLi4uPj5OTk5OXl5eXm5ubm5ubmt7e3t7e3t7e3t7e3t7e3t7e3t7zAxMnN0NPW2Nrb3N3e3t/f39/g4ODg4ODg4ODg4ODg4ODg4ODf39/f39/f3+Dg4ODh4eHi4uLj4+Pk5OTl5eXl5ubm5ubm5ra2tra2tra2tra2tra2tra2tra6v8PIzNDT1tjZ29zc3d7e39/f3+Dg4ODg4ODg4ODg4ODg4N/f39/f39/f39/f4ODg4OHh4eLi4+Pj5OTk5eXl5ebm5ubm5ua0tLS0tLS0tLS0tLS0tLS0tLS0ub7Dx8zQ09bY2drb3N3d3t7f39/f3+Dg4ODg4ODg4ODg39/f39/f39/f39/f39/g4ODh4eHi4uPj4+Tk5OXl5ebm5ubm5ubmsrKysrKysrKysrKysrKysrKysre8wcfLz9PV19na29zd3d7e3t/f39/f39/g4ODg4N/f39/f39/f39/e3t7e39/f3+Dg4OHh4uLi4+Pk5OTl5eXm5ubm5ubm5rCwsLCwsLCwsLCwsLCwsLCwsLC2u8DGy8/T1dfZ2tvc3N3d3t7e39/f39/f39/f39/f39/f39/f397e3t7e3t7e39/f4ODh4eLi4uPj5OTk5eXl5ubm5ubm5+evr6+vr6+vr6+vr6+vr6+vr6+vtLrAxcrP0tXX2drb29zd3d3e3t7e39/f39/f39/f39/f39/f3t7e3t7e3t7e3t7f3+Dg4eHh4uLj4+Tk5OXl5ebm5ubm5+fnrq6urq6urq6urq6urq6urq6urrS5v8XKztLV19ja2tvc3N3d3d7e3t7f39/f39/f39/f39/f3t7e3t7e3t3d3t7e39/f4ODh4eLi4+Pk5OTl5eXm5ubm5+fn53+jo6Ojo66urq6urq6urq6urq60ub/Eyc7S1NfY2drb29zd3d3e3t7e3t7f39/f39/f39/e3t7e3t7e3t3d3d3e3t7f3+Dg4eHi4uPj4+Tk5eXl5ubm5ufn5+d/f6Ojo6Ojo6Ojrq6urq6urq6utLm/xMnO0dTW2Nna29vc3N3d3d7e3t7e3t7e3t7e3t7e3t7e3t7e3t3d3d3d3t7e39/g4OHh4uLj4+Pk5OXl5ebm5ufn5+fnf3+LlqOjo6Ojo6Ojo6Ourq6urrO5v8TJztHU1tjZ2tvb3Nzd3d3d3t7e3t7e3t7e3t7e3t7e3t7e3t7d3d3d3d7e3t/f4ODh4eLi4uPj5OTl5eXm5ubn5+fo6H9/i4uWlqajo6Ojo6Ojo6Otra2zub/Eyc3R1NbY2dra29zc3N3d3d3e3t7e3t7e3t7e3t7e3t7e3t7d3d3d3d7e3t7f3+Dg4eHh4uLj4+Tk5eXl5ubn5+fo6Oh/f3+LlJaWpqamo6Ojo6Ojo6Oss7m/xMnN0dTW19na2tvb3Nzd3d3d3d7e3t7e3t7e3t7e3t7e3t7e3d3d3d7e3t7e39/g4OHh4eLi4+Pk5OXl5ebm5+fn6Ojof39/i4uUlpacpqampqOjo6Ojq7O5v8TJzdHT1dfY2drb29zc3N3d3d3d3d7e3t7e3t7e3t7e3t7e3d3d3d7e3t7e39/f4ODh4eHi4uPj5OTk5eXm5ufn6Ojp6X9/f4aLi5SWlpympqampqampqyzub/Eyc3Q09XX2Nna29vc3Nzc3d3d3d3d3d7e3t7e3t7e3t7d3d3d3d7e3t7e3t/f3+Dg4eHh4uLj4+Tk5OXl5ufn6Ojo6el/f3+Gi4uUlJaWnJympqampqiutLm/xMnN0NPV19jZ2tvb29zc3N3d3d3d3d3d3d3d3d3d3d3d3d3d3d7e3t7e3t7f39/g4OHh4eLi4+Pj5OTl5ubn5+jo6enpf39/hoaLi5SUlpacnKKmpqaqr7S6v8TIzNDT1dfY2dra29vc3Nzc3d3d3d3d3d3d3d3d3d3d3d3d3d3e3t7e3t7f39/f4ODh4eHi4uPj4+Tk5ebm5+jo6enp6X9/f4GGi4uLlJSWlpycoqKnq7C1ur/EyMzQ09XW2Nna2tvb3Nzc3Nzd3d3d3d3d3d3d3d3d3d3d3d3d3t7e3t7e39/f4ODg4eHh4uLj4+Pk5OXm5ufo6Onp6up/f3+BhoaLi5KUlJaWnJyip6yxtrvAxMjM0NLV1tjZ2drb29vc3Nzc3d3d3d3d3d3d3d3d3d3d3d3d3d7e3t7e3t/f3+Dg4OHh4eLi4+Pj5OTl5ubn6Ojp6erqf39/gYaGi4uLkpSUlpacoqitsre7wMTIzM/S1NbX2Nna29vb3Nzc3Nzd3d3d3d3d3d3d3d3d3d3d3d3e3t7e3t7f39/g4ODh4eHi4uPj4+Tk5ebm5+jo6enq6n9/f4GDhoaLi5KSlJSWnaOorrO3vMDEyMzP0tTW19jZ2trb29zc3Nzc3Nzd3d3d3d3d3d3d3d3d3d3d3t7e3t7e39/f4ODg4eHh4uLj4+Pk5OXm5ufo6Onp6el/f3+Bg4aGi4uLkpKUmZ6kqa6zuLzBxcjMz9LU1tfY2dra29vb3Nzc3Nzc3Nzd3d3d3d3d3d3d3d3d3d3e3t7e3t/f3+Dg4OHh4eLi4+Pj5OTl5ubn5+jo6enpf39/gYOGhoaLi5CSl5ugpaqvtLi9wcXIzM/S1NXX2NnZ2trb29zc3Nzc3Nzc3Nzc3d3d3d3d3d3d3d3d3t7e3t7f39/g4ODh4eHi4uPj4+Tk5eXm5+fo6Ojp6X9/f4GDhYaGiouQlJmdoqarsLS5vcHFyMzP0dPV1tfY2dra29vb3Nzc3Nzc3Nzc3Nzc3N3d3d3d3d3d3d3e3t7e39/f4ODg4eHh4uLj4+Tk5OXl5ubn5+jo6el/f3+Bg4WIhoqOkpebn6SorLG1ub3BxcjLztHT1dbX2Nna2tvb29vc3Nzc3Nzc3Nzc3Nzc3Nzd3d3d3d3d3t7e3t/f39/g4OHh4eLi4+Pk5OTl5ebm5+fo6Ojof4F/gYOFiIqNkZWZnaGlqa2ytrq+wcXIy87Q0tTW19jZ2dra29vb3Nzc3Nzc3Nzc3Nzc3Nzc3N3d3d3d3d3e3t7e39/f4ODh4eHi4uPj5OTl5eXm5ufn5+jo6H+BgoSGiYuOkZSXm5+jp6uvs7a6vsHFyMvO0NLU1dbX2Nna2tvb29vc3Nzc3Nzc3Nzc3Nzc3Nzc3N3d3d3d3d7e3t/f3+Dg4OHh4uLj4+Tk5eXl5ubm5+fn6OiDhIaIioyOkZSXmp6hpamssLS3u77CxcjLztDS09XW19jZ2dra29vb29zc3Nzc3Nzc3Nzc3Nzc3Nzc3d3d3d3e3t7f39/g4ODh4eLi4+Pk5OXl5ebm5ufn5+fnhoiJi42PkpSXmp2go6eqrrG1uLu/wsXIy83Q0tPV1tfY2Nna2tvb29vb3Nzc3Nzc3Nzc3Nzc3Nzc3Nzc3d3d3d7e3t/f4ODg4eHi4uPj5OTl5eXm5ubn5+fn54qLjY6QkpWXmp2foqWorK+ytrm8v8LFyMvNz9HT1NXW19jZ2dra29vb29vb3Nzc3Nzc3Nzc3Nzc3Nzc3Nzd3d3e3t7f39/g4OHh4uLj4+Tk5eXl5ubm5ufn5+eNj5CSlJaYmp2foqWnqq2ws7e6vcDDxcjLzc/R09TV1tfY2Nna2trb29vb29vb29vb29vb29zc3Nzc3Nzc3N3d3d7e3t/f4ODh4eLi4+Pk5OXl5ebm5ubn5+fnkJKTlZeZm52foqSnqayvsrW3ur3Aw8bIy83P0dLU1dbX2NjZ2dra2tvb29vb29vb29vb29vb29vb29zc3Nzc3d3d3t7f3+Dg4eHi4uPj5OTl5eXm5ubm5ufn55SVl5ianJ6goqSmqauusLO2uLu+wcPGyMvNz9HS1NXW1tfY2NnZ2tra29vb29vb29vb29vb29vb29vb29zc3Nzd3d7e39/g4OHh4uLj4+Tk5eXl5ubm5ubn5+eXmJqbnZ6goqSmqautr7K0t7m8vsHExsjLzc/R0tPU1dbX19jZ2dna2trb29vb29vb29vb29vb29vb29vb3Nzc3d3d3t7f3+Dh4eLi4+Pk5OXl5ebm5ubm5+fnmpudnp+ho6Wnqautr7Gztri6vb/BxMbIy83P0NLT1NXW19fY2NnZ2dra2trb29vb29vb29vb29vb29vb29vc3Nzd3d7e39/g4OHi4uPj5OTl5eXm5ubm5ubn552en6GipKWnqautr7Cytbe5u73AwsTGycvNz9DS09TV1tbX19jY2dnZ2tra2tra29vb29vb29vb29vb29vb29zc3d3e3t/f4ODh4uLj4+Tk5eXl5ubm5ubm5+egoaKjpaaoqautrrCytLa4ury+wMLEx8nLzc7Q0dPU1NXW1tfY2NjZ2dna2tra2tra2tra2tra2tra2tvb29vb3Nzd3d7f3+Dg4eHi4+Pk5OXl5ebm5ubm5ufno6Slpqepqqytr7Cys7W3ubu9v8HDxcfJy83O0NHS09TV1tbX19jY2NnZ2dna2tra2tra2tra2tra2tra2tvb29zc3d3e3t/g4OHh4uPj5OTl5eXm5ubm5ubn56Wmp6ipq6yur7Cys7W2uLq8vb/Bw8XHycvNztDR0tPU1dXW1tfX2NjY2dnZ2dna2tra2tra2tra2tra2trb29vc3N3d3t7f3+Dh4eLi4+Tk5eXl5ubm5ubn5+eoqKmqrK2ur7Gys7W2t7m7vL7AwsPFx8nLzM7P0dLT1NTV1tbX19fY2NjZ2dnZ2dna2tra2tra2tra2tra2tvb29zc3d7e39/g4eHi4uPk5OXl5ebm5ubm5+fnqqurrK2usLGys7S2t7i6u72/wMLExsfJy8zOz9DR0tPU1dXW1tfX19jY2NnZ2dnZ2dnZ2tra2tra2tra2tra29vc3N3d3t/f4OHh4uLj5OTl5eXm5ubm5ufn56ytra6vsLGys7S2t7i5u7y+v8HCxMbHycvMzs/Q0dLT1NTV1dbW19fX2NjY2NnZ2dnZ2dnZ2dra2tra2tra2tvb3Nzd3d7f3+Dg4eLi4+Tk5eXl5ubm5ufn5+eurq+wsbKys7S1t7i5ury9vsDBw8TGx8nLzM3P0NHS09PU1dXW1tbX19fY2NjY2dnZ2dnZ2dnZ2dra2tra2trb29vc3d3e3t/g4OHi4uPj5OXl5ebm5ubn5+fnr7CxsbKztLW2t7i5uru8vr/AwsPFxsjJyszNztDR0tLT1NTV1dbW1tfX19jY2NjY2dnZ2dnZ2dnZ2tra2tra29vb3N3d3t7f4ODh4uLj4+Tl5eXm5ubm5+fn57GxsrOztLW2t7e4ubu8vb6/wcLDxcbIycrMzc7P0NHS09PU1NXV1tbW19fX2NjY2NjZ2dnZ2dnZ2dna2tra2tvb29zc3d7e3+Dg4eLi4+Pk5eXl5ubm5+fn5+eys7O0tbW2t7i4ubq7vL2/wMHCxMXGyMnKzM3Oz9DR0tLT1NTV1dXW1tfX19fY2NjY2NnZ2dnZ2dnZ2tra2trb29vc3N3e3t/g4OHh4uPj5OTl5ebm5ufn5+fntLS1tba2t7i4ubq7vL2+v8DCw8TFx8jJysvNzs/Q0dHS09PU1NXV1tbW19fX19jY2NjY2dnZ2dnZ2dna2tra29vb3Nzd3t7f3+Dh4eLj4+Tk5eXm5ufn5+fo6LW1tra3t7i5ubq7vLy9vsDBwsPExsfIycrLzc7P0NDR0tLT09TU1dXW1tbX19fX2NjY2NjZ2dnZ2dnZ2tra2trb29zc3d3e39/g4eHi4+Pk5OXl5ubn5+fo6Oi2tre3uLi5ubq7vLy9vr/AwcLDxcbHyMnKy8zNzs/Q0dHS09PU1NXV1dbW1tfX19jY2NjY2dnZ2dnZ2dra2tra29vc3N3d3t/f4OHh4uPj5OTl5ubm5+fo6Ojot7e4uLm5urq7vLy9vr/AwcLDxMXGx8jJysvMzc7P0NDR0tLT09TU1dXW1tbX19fX2NjY2NjZ2dnZ2dna2tra2tvb3Nzd3d7f3+Dh4eLj4+Tk5ebm5+fn6Ojp6bi4ubm5uru7vLy9vr6/wMHCw8TFxsfIycrLzM3Oz8/Q0dHS09PU1NTV1dbW1tfX19jY2NjY2dnZ2dnZ2dra2trb29zc3d3e39/g4OHi4uPk5OXm5ufn6Ojp6em5ubq6uru7vL29vr6/wMHCw8PExcbHyMnKy8zNzs7P0NHR0tLT09TU1dXV1tbX19fY2NjY2NnZ2dnZ2dna2tra29vc3N3d3t/f4ODh4uLj5OTl5ubn6Ojp6erqurq7u7u8vL29vr6/wMHBwsPExcbHx8jJysvMzc3Oz9DQ0dHS0tPT1NTV1dbW1tfX19jY2NjY2dnZ2dnZ2tra2tvb3Nzd3d7f3+Dg4eLi4+Tk5ebm5+jo6erq6ru7u7y8vb29vr+/wMDBwsPDxMXGx8jIycrLzMzNzs/P0NHR0tLT09TU1dXV1tbX19fY2NjY2NnZ2dnZ2dra2trb29zc3d3e39/g4OHi4uPk5OXm5+fo6erq6+u8vLy9vb2+vr+/wMDBwsLDxMXFxsfIycnKy8zMzc7Oz9DQ0dHS0tPT1NTV1dbW19fX2NjY2NjZ2dnZ2dna2tra29vc3N3d3t/f4ODh4uLj5OTl5ufo6enq6+vrvb29vb6+v7+/wMDBwsLDxMTFxsbHyMnJysvMzM3Ozs/Q0NHR0tLS09PU1NXW1tbX19jY2NjY2NnZ2dnZ2tra2tvb3Nzd3d7f3+Dg4eLi4+Tk5ebn6Onq6+vs7L2+vr6/v7/AwMHBwsLDw8TFxcbHx8jJycrLzMzNzc7Pz9DQ0dHS0tPT1NTV1dbW19fY2NjY2NjY2dnZ2dra2trb29zc3d3e39/g4OHi4uPk5OXm5+jp6uvs7Oy+vr+/v8DAwMHBwsLDw8TExcbGx8jIycrKy8zMzc3Ozs/P0NDR0dLS09PU1NXW1tfX19jY2NjY2NnZ2dnZ2tra29vc3N3d3t/f4ODh4uLj5OTl5ufp6uvr7Ozsv7+/wMDAwcHBwsLDw8TExcXGx8fIyMnKysvLzM3Nzs7Pz9DQ0dHR0tLT1NTV1dbW19fX2NjY2NjY2dnZ2dra2tvb3Nzd3t7f3+Dg4eLi4+Tl5efo6err7Ozt7cDAwMDBwcHBwsLDw8TExcXGxsfHyMnJysrLy8zNzc7Oz8/P0NDR0dLS09PU1NXW1tfX19fX2NjY2NnZ2dna2trb29zc3d7e39/g4eHi4uPk5ebn6Onq6+zs7e3AwMHBwcHCwsLDw8TExMXGxsfHyMjJycrKy8zMzc3Nzs7Pz9DQ0NHR0tLT09TV1dbW1tfX19fY2NjY2dnZ2trb29vc3d3e3t/f4OHh4uPj5OXm5+jp6uvr7OzswcHBwcLCwsPDw8TExMXFxsbHx8jIycnKy8vMzMzNzc7Oz8/P0NDQ0dHS0tPU1NXV1tbW19fX19jY2NnZ2dra29vb3N3d3t7f4ODh4eLj4+Tl5ufo6enq6+vs7MHCwsLCwsPDw8TExMXFxsbHx8jIycnKysvLzMzMzc3Ozs7Pz8/Q0NHR0tLT09TU1dXV1tbX19fY2NjZ2dna2tvb3Nzd3d7e3+Dg4eLi4+Tk5ebn5+jp6urr7OzCwsLCw8PDw8TExMXFxsbHx8fIyMnJysrLy8zMzM3Nzs7Oz8/P0NDQ0dHS0tPT1NTV1dXW1tfX19jY2dnZ2trb29zc3d3e39/g4OHi4uPk5OXm5+fo6enq6+vrwsPDw8PDxMTExMXFxsbGx8fIyMnJysrKy8vMzMzNzc7Ozs/Pz9DQ0NHR0tLS09PU1NTV1dbW19fY2NnZ2dra29vc3N3d3t/f4OHh4uPj5OXl5ufn6Ojp6urr68PDw8PExMTExcXFxsbGx8fIyMjJycrKy8vLzMzNzc3Ozs7Pz8/Q0NDR0dHS0tLT09TU1dXW1tfX2NjY2dna2tvb3Nzd3t7f3+Dh4eLj4+Tl5ebn5+jo6enq6urDw8TExMTExcXFxsbGx8fHyMjJycrKysvLy8zMzc3Nzs7Oz8/Pz9DQ0NHR0tLS09PT1NTV1tbX19jY2NnZ2trb29zc3d7e3+Dg4eLi4+Tk5eXm5+fo6Ojp6erqxMTExMTFxcXFxcbGx8fHyMjJycnKysvLy8zMzM3Nzc7Ozs7Pz8/Q0NDR0dHS0tLT09TU1dXW1tfX2NjZ2dra29vc3d3e39/g4OHi4uPk5OXl5ubn5+jo6enp6cTExMXFxcXFxsbGx8fHyMjIycnKysrLy8vMzMzNzc3Ozs7Oz8/P0NDQ0dHR0tLS09PU1NXV1tbX19jY2dna2tvc3N3d3t/f4OHh4uPj5OTl5ubm5+fo6Ojp6enExcXFxcXFxsbGxsfHyMjIycnKysrLy8vMzMzMzc3Nzs7Ozs/Pz9DQ0NHR0dLS0tPT1NTV1dbW19fY2NnZ2trb3Nzd3t7f4ODh4uLj4+Tl5ebm5ufn6Ojo6OnpxcXFxcXGxsbGxsfHx8jIycnJysrKy8vLzMzMzM3Nzc7Ozs7Pz8/Q0NDR0dHS0tLT09TU1dXW1tfX2NjZ2drb29zc3d7e3+Dg4eLi4+Tk5eXm5ubn5+fo6Ojo6MXFxcbGxsbGxsfHx8jIycnJysrKy8vLy8zMzM3Nzc3Ozs7Pz8/P0NDQ0dHR0tLS09PU1NXV1tbX2NjZ2dra29vc3d3e39/g4eHi4+Pk5OXl5ubm5+fn6Ojo6OjFxsbGxsbGx8fHx8jIyMnJysrKy8vLy8zMzMzNzc3Nzs7Oz8/Pz9DQ0NHR0dLS09PU1NTV1tbX19jY2dna2tvb3N3d3t/f4OHh4uPj5OTl5ebm5ufn5+fo6OjoxsbGxsbGx8fHx8jIyMnJycrKysvLy8zMzMzNzc3Nzs7Ozs/Pz8/Q0NDR0dHS0tPT1NTV1dbW19fY2NnZ2trb3Nzd3t7f4ODh4uLj5OTl5ebm5ufn5+fn6Ojo6MbGxsbGx8fHx8jIyMnJycrKysvLy8vMzMzMzc3Nzc7Ozs7Pz8/P0NDQ0dHS0tLT09TU1dXW1tfX2NjZ2drb29zc3d7e3+Dg4eLi4+Tk5eXm5ubn5+fn5+jo6OjGxsbGx8fHx8jIyMjJycnKysrLy8vMzMzMzM3Nzc3Ozs7Oz8/Pz9DQ0NHR0tLT09TU1NXV1tbX19jZ2dra29vc3d3e39/g4eHi4+Pk5OXl5ubm5+fn5+fo6OjoxsbHx8fHx8jIyMjJycnKysrLy8vLzMzMzM3Nzc3Nzs7Ozs/Pz9DQ0NHR0dLS09PU1NXV1tbX19jY2dna2tvc3N3d3t/g4OHi4uPj5OXl5ebm5ufn5+fn6Ojo6MbHx8fHx8fIyMjIycnJysrKy8vLzMzMzMzNzc3Nzs7Ozs/Pz8/Q0NDR0dHS0tPT1NTV1dbW19fY2NnZ2tvb3Nzd3t7f4ODh4uLj5OTl5ebm5ubn5+fn5+jo6OjGx8fHx8fIyMjIycnJysrKy8vLy8zMzMzNzc3Nzc7Ozs7Pz8/P0NDQ0dHS0tPT1NTV1dbW19fY2NnZ2trb29zd3d7f3+Dh4eLj4+Tk5eXm5ubn5+fn5+jo6Ojox8fHx8fIyMjIycnJycrKysvLy8vMzMzMzc3Nzc7Ozs7Oz8/Pz9DQ0NHR0tLT09TU1dXW1tfX2NjZ2dra29zc3d7e3+Dg4eLi4+Pk5OXl5ubm5+fn5+fo6Ojo6MfHx8fHyMjIyMnJycrKysrLy8vMzMzMzc3Nzc3Ozs7Ozs/Pz9DQ0NHR0dLS09PU1NXW1tfX19jY2dra29vc3N3e3t/g4OHi4uPk5OXl5ubm5+fn5+fo6Ojo6OjHx8fHyMjIyMnJycnKysrLy8vLzMzMzM3Nzc3Ozs7Ozs/Pz8/Q0NDR0dLS09PU1NXV1tbX19jY2dna2tvb3N3d3t/f4OHh4uPj5OTl5ebm5ufn5+fo6Ojo6Ojox8fHx8jIyMjJycnKysrLy8vLzMzMzM3Nzc3Nzs7Ozs7Pz8/P0NDQ0dHS0tPT1NTV1dbX19jY2dna2tvb3Nzd3t7f4ODh4uLj4+Tk5eXm5ufn5+fo6Ojo6Ojo6MfHx8fIyMjJycnJysrKy8vLzMzMzMzNzc3Nzs7Ozs7Pz8/P0NDQ0dHS0tPT1NTV1dbW19fY2NnZ2trb29zd3d7f3+Dh4eLi4+Tk5eXm5ubn5+fn6Ojo6Ojp6enHx8fIyMjIycnJysrKy8vLy8zMzMzNzc3Nzc7Ozs7Pz8/Pz9DQ0NHR0tLT09TU1dbW19fY2NnZ2trb29zc3d7e3+Dg4eHi4+Pk5OXl5ubm5+fn6Ojo6Ojp6enpx8fHyMjIyMnJysrKysvLy8zMzMzNzc3Nzc7Ozs7Oz8/Pz9DQ0NHR0tLT09TU1dXW1tfX2NjZ2dra29zc3d3e39/g4OHi4uPj5OXl5ubm5+fn6Ojo6Ojp6enp6cfHx8jIyMnJycrKysvLy8zMzMzNzc3Nzc7Ozs7Oz8/Pz9DQ0NDR0dLS09PU1dXW1tfX2NjZ2dra29vc3N3e3t/f4OHh4uPj5OTl5ebm5ufn5+jo6Onp6enp6enHx8jIyMjJycrKysvLy8vMzMzMzc3Nzc7Ozs7Oz8/Pz8/Q0NDR0dLS09PU1NXV1tbX19jY2dna2tvc3N3d3t/f4ODh4uLj4+Tk5eXm5ufn5+jo6Onp6enp6urqyMjIyMjJycnKysvLy8vMzMzMzc3Nzc7Ozs7Oz8/Pz8/Q0NDR0dLS09PU1NXV1tbX19jY2dna2tvb3Nzd3t7f3+Dh4eLi4+Tk5eXm5ubn5+jo6Onp6enq6urq6sjIyMjJycnKysrLy8vMzMzMzc3Nzc7Ozs7Oz8/Pz8/Q0NDR0dLS0tPU1NXV1tbX19jY2dna2tvb3Nzd3d7f3+Dg4eLi4+Pk5OXl5ubn5+fo6Ojp6enq6urq6urIyMnJycnKysrLy8vMzMzMzc3Nzc7Ozs7Oz8/Pz8/Q0NDR0dHS0tPT1NTV1dbW19fY2NnZ2trb29zd3d7e39/g4eHi4uPj5OXl5ubm5+fo6Ojp6enq6urq6+vrycnJycrKysrLy8vMzMzMzc3Nzc7Ozs7Oz8/Pz8/Q0NDR0dHS0tPT1NTV1dbW19fY2NnZ2trb29zc3d3e39/g4OHh4uPj5OTl5ebm5+fn6Ojp6enq6urr6+vr68nKysrKysvLy8vMzMzMzc3Nzc7Ozs7Oz8/Pz8/Q0NDR0dHS0tPT1NTV1dbW19fY2NnZ2trb29zc3d3e3t/g4OHh4uLj4+Tk5eXm5ufn6Ojo6enq6urr6+vs7OzKysrKy8vLy8zMzMzNzc3Nzc7Ozs7Oz8/Pz9DQ0NDR0dHS0tPT1NTV1dbW19fY2NnZ2trb29zc3d3e3t/f4ODh4uLj4+Tk5eXm5ufn5+jo6enp6urr6+vs7Ozsy8vLy8vLzMzMzMzNzc3Nzs7Ozs7Oz8/Pz9DQ0NDR0dLS0tPT1NTV1dbW19fY2NnZ2dra29vc3N3e3t/f4ODh4eLi4+Pk5OXl5ubn5+jo6Onp6urr6+vs7Ozt7cvLy8zMzMzMzM3Nzc3Nzs7Ozs7Pz8/Pz9DQ0NHR0dLS0tPT1NTV1dbW19fY2NjZ2dra29vc3N3d3t7f3+Dh4eLi4+Pk5OXl5ubm5+fo6Onp6erq6+vs7Ozt7e3MzMzMzMzNzc3Nzc3Ozs7Ozs/Pz8/P0NDQ0NHR0dLS09PT1NTV1dbW19fY2NjZ2dra29vc3N3d3t7f3+Dg4eHi4uPj5OTl5ebm5+fn6Ojp6erq6+vs7Ozt7e7uzMzNzc3Nzc3Nzs7Ozs7Oz8/Pz8/P0NDQ0NHR0tLS09PT1NTV1dbW19fY2NjZ2dra29vc3N3d3t7f3+Dg4eHi4uPj5OTl5ebm5ufn6Ojp6enq6uvr7Ozt7e7u7s3Nzc3Nzc7Ozs7Ozs7Pz8/Pz9DQ0NDQ0dHR0tLS09PU1NTV1dbW19fY2NjZ2dra29vc3N3d3t7e39/g4OHh4uLj4+Tk5eXm5ufn5+jo6enq6urr6+zs7e3u7u7Ozs7Ozs7Ozs7Oz8/Pz8/P0NDQ0NDR0dHR0tLT09PU1NXV1dbW19fY2NjZ2dra29vc3N3d3d7e39/g4OHh4uLj4+Tk5eXm5ubn5+jo6Onp6urr6+zs7e3u7u7uzs7Ozs/Pz8/Pz8/Pz9DQ0NDQ0dHR0dHS0tLT09TU1NXV1tbW19fY2NjZ2dra29vc3Nzd3d7e39/g4OHh4uLj4+Tk5OXl5ubn5+fo6Onp6erq6+vs7O3t7e7u7s/Pz8/Pz8/Pz9DQ0NDQ0NDR0dHR0tLS0tPT09TU1dXV1tbX19fY2NnZ2dra29vc3Nzd3d7e39/g4OHh4eLi4+Pk5OXl5ubm5+fo6Ojp6erq6uvr7Ozt7e3u7u7Pz9DQ0NDQ0NDQ0NDQ0dHR0dHS0tLS09PT1NTU1dXW1tbX19fY2NnZ2dra29vc3N3d3d7e39/g4ODh4eLi4+Pk5OTl5ebm5+fn6Ojp6enq6uvr6+zs7e3t7u7u0NDQ0NDQ0dHR0dHR0dHR0tLS0tPT09PU1NTV1dXW1tfX19jY2NnZ2tra29vc3N3d3d7e39/g4ODh4eLi4+Pj5OTl5ebm5ufn6Ojo6enp6urr6+vs7Ozt7e3u7tHR0dHR0dHR0dHS0tLS0tLS09PT09TU1NXV1dbW1tfX19jY2dnZ2trb29vc3N3d3d7e39/g4ODh4eLi4uPj5OTl5eXm5ufn5+jo6Onp6urq6+vr7Ozs7e3t7u7R0tLS0tLS0tLS0tLS09PT09PU1NTU1dXV1tbW19fX2NjY2dnZ2trb29vc3N3d3d7e39/g4ODh4eLi4uPj5OTk5eXm5ubn5+jo6Onp6erq6uvr6+zs7O3t7e3t0tLS0tLT09PT09PT09PT1NTU1NXV1dXW1tbX19fY2NjZ2dna2trb29zc3N3d3t7e39/g4ODh4eLi4uPj5OTk5eXm5ubn5+fo6Ojp6erq6uvr6+vs7Ozs7e3t7dPT09PT09PT1NTU1NTU1NTV1dXV1tbW1tfX19jY2NnZ2dra2tvb29zc3N3d3t7e39/g4ODh4eLi4uPj5OTk5eXl5ubn5+fo6Ojp6enq6urr6+vr7Ozs7O3t7e3U1NTU1NTU1NTU1NXV1dXV1dbW1tbW19fX2NjY2dnZ2tra29vb3Nzc3d3d3t7f39/g4ODh4eLi4uPj4+Tk5eXl5ubm5+fn6Ojo6enp6urq6+vr7Ozs7Ozt7e3t1NXV1dXV1dXV1dXV1dbW1tbW1tfX19fY2NjZ2dna2trb29vc3Nzc3d3e3t7f39/g4OHh4eLi4uPj4+Tk5eXl5ubm5+fn6Ojo6enp6urq6+vr6+zs7Ozs7e3t7dXV1dXV1tbW1tbW1tbW19fX19fX2NjY2NnZ2dra2tvb29zc3Nzd3d3e3t7f3+Dg4OHh4eLi4uPj4+Tk5eXl5ubm5+fn6Ojo6enp6urq6uvr6+vs7Ozs7Ozt7e3W1tbW1tbW1tfX19fX19fX2NjY2NjY2dnZ2tra29vb3Nzc3N3d3d7e3t/f3+Dg4OHh4eLi4uPj4+Tk5eXl5ubm5+fn6Ojo6Onp6erq6uvr6+vr7Ozs7Ozs7e3t19fX19fX19fX19jY2NjY2NjZ2dnZ2dna2trb29vc3Nzd3d3d3t7e39/f4ODg4eHh4uLi4+Pj5OTk5eXl5ubm5+fn5+jo6Onp6erq6urr6+vr7Ozs7Ozs7e3t7djY2NjY2NjY2NjY2NnZ2dnZ2dna2tra2tvb29zc3N3d3d3e3t7f39/f4ODg4eHh4uLi4+Pj5OTk5eXl5ubm5+fn5+jo6Onp6erq6urr6+vr6+zs7Ozs7O3t7e3Y2NjZ2dnZ2dnZ2dnZ2tra2tra2trb29vb3Nzc3d3d3d7e3t/f39/g4ODh4eHi4uLi4+Pj5OTk5eXl5ubm5+fn5+jo6Onp6erq6urr6+vr6+zs7Ozs7Ozt7e3t2dnZ2dnZ2tra2tra2tra29vb29vb29vc3Nzd3d3e3t7e39/f4ODg4OHh4eHi4uLj4+Pk5OTk5eXl5ubm5+fn5+jo6Onp6enq6urr6+vr6+zs7Ozs7Ozt7e3t7dra2tra2tra2tvb29vb29vb3Nzc3Nzc3N3d3d7e3t/f39/g4ODg4eHh4eLi4uPj4+Pk5OTl5eXl5ubm5+fn5+jo6Onp6enq6urq6+vr6+zs7Ozs7Ozt7e3t7e3b29vb29vb29vb3Nzc3Nzc3Nzd3d3d3d3e3t7e39/f3+Dg4ODh4eHh4uLi4+Pj4+Tk5OTl5eXm5ubm5+fn6Ojo6Onp6enq6urq6+vr6+zs7Ozs7O3t7e3t7e3t3Nzc3Nzc3Nzc3Nzc3d3d3d3d3d3e3t7e3t/f39/g4ODg4eHh4eLi4uLj4+Pj5OTk5OXl5eXm5ubm5+fn6Ojo6Onp6erq6urr6+vr6+zs7Ozs7O3t7e3t7e3t7dzc3d3d3d3d3d3d3d3e3t7e3t7e3t/f39/f4ODg4OHh4eHi4uLi4uPj4+Pk5OTk5OXl5ebm5ubn5+fn6Ojo6Onp6erq6urr6+vr6+zs7Ozs7O3t7e3t7e3t7e3d3d3d3t7e3t7e3t7e3t7f39/f39/f4ODg4ODh4eHh4eLi4uLj4+Pj4+Tk5OTk5eXl5ebm5ubn5+fo6Ojo6enp6erq6urr6+vr6+zs7Ozs7e3t7e3t7e3t7e7u3t7e3t7e3t/f39/f39/f3+Dg4ODg4ODg4eHh4eHi4uLi4+Pj4+Pk5OTk5OTl5eXl5ubm5ufn5+fo6Ojo6enp6erq6urr6+vr7Ozs7Ozs7e3t7e3t7e3u7u7u7t/f39/f39/f4ODg4ODg4ODg4OHh4eHh4eHi4uLi4uPj4+Pj5OTk5OTk5eXl5eXm5ubm5ufn5+fo6Ojp6enp6urq6uvr6+vr7Ozs7Ozt7e3t7e3t7e7u7u7u7u7g4ODg4ODg4ODg4eHh4eHh4eHh4eLi4uLi4uPj4+Pj5OTk5OTk5OXl5eXl5ebm5ubm5+fn5+jo6Ojp6enp6urq6uvr6+vs7Ozs7Ozt7e3t7e3t7u7u7u7u7u7u4eHh4eHh4eHh4eHh4uLi4uLi4uLi4+Pj4+Pj4+Tk5OTk5OXl5eXl5eXm5ubm5ubn5+fn6Ojo6Onp6enq6urq6uvr6+vs7Ozs7O3t7e3t7e3u7u7u7u7u7u7u7uLi4uLi4uLi4uLi4uLj4+Pj4+Pj4+Pj5OTk5OTk5eXl5eXl5eXm5ubm5ubm5ufn5+fn6Ojo6Onp6enq6urq6+vr6+zs7Ozs7e3t7e3t7e7u7u7u7u7u7u/v7+/i4uPj4+Pj4+Pj4+Pj4+Pk5OTk5OTk5OTk5eXl5eXl5ebm5ubm5ubm5ufn5+fn5+fo6Ojo6enp6erq6urr6+vr6+zs7Ozs7e3t7e3t7u7u7u7u7u7v7+/v7+/v4+Pj4+Tk5OTk5OTk5OTk5OTl5eXl5eXl5eXm5ubm5ubm5ubm5ufn5+fn5+fn5+jo6Ojo6enp6erq6urr6+vr7Ozs7Ozt7e3t7e3u7u7u7u7u7u/v7+/v7+/v7+Tk5OTk5eXl5eXl5eXl5eXl5eXm5ubm5ubm5ubm5+fn5+fn5+fn5+fn5+fo6Ojo6Ojp6enp6urq6uvr6+vs7Ozs7O3t7e3t7e7u7u7u7u7v7+/v7+/v7+/v7+/l5eXl5eXl5ebm5ubm5ubm5ubm5ubn5+fn5+fn5+fn5+fn5+fn5+jo6Ojo6Ojo6Onp6enp6urq6uvr6+vs7Ozs7e3t7e3t7u7u7u7u7u/v7+/v7+/v7/Dw8PDw5ubm5ubm5ubm5ufn5+fn5+fn5+fn5+fo6Ojo6Ojo6Ojo6Ojo6Ojo6Ojo6Ojo6enp6enq6urq6uvr6+zs7Ozt7e3t7e3u7u7u7u7u7+/v7+/v7+/w8PDw8PDw8Ofn5+fn5+fn5+fn5+jo6Ojo6Ojo6Ojo6Ojo6Ojp6ejo6Ojo6Ojo6Ojo6enp6enp6enq6urq6+vr6+zs7Ozt7e3t7u7u7u7u7u7v7+/v7+/v7/Dw8PDw8PDw8PDo6Ojo6Ojo6Ojo6Ojo6Ojp6enp6enp6enp6enp6enp6enp6enp6enp6enp6enp6erq6urq6+vr6+zs7O3t7e3u7u7u7u7u7+/v7+/v7+/v8PDw8PDw8PDx8fHx6enp6enp6enp6enp6enp6enq6urq6urq6urq6urq6urq6enp6enp6enp6enp6urq6urq6+vr6+zs7O3t7e7u7u7u7u/v7+/v7+/v7+/v8PDw8PDw8fHx8fHx8evq6urq6urq6urq6urq6urq6urr6+vr6+vr6+vr6urq6urq6urq6enp6erq6urq6urq6+vr6+zs7O3t7e7u7u7v7+/v7+/v7+/v7+/w8PDw8PDw8fHx8fHx8vLs6+vr6+vr6+vr6+vr6+vr6+vr6+zs7Ozs7Ozr6+vr6+rq6urq6urq6urq6urq6urr6+vr6+zs7O3t7e7u7u/v7+/v7+/v7+/v8PDw8PDw8PDx8fHx8fHy8vLy7e3s7Ozs7Ozs6+vr6+vr7Ozs7Ozs7e3t7ezs7Ozs6+vr6+vq6urq6urq6urq6urr6+vr6+zs7O3t7e7u7u/v7+/w8PDw8PDw8PDw8PDw8PDx8fHx8fLy8vLy8u7u7e3t7e3t7Ozs7Ozs7Ozs7e3t7e3t7e3t7e3s7Ozs6+vr6+vq6urq6urq6uvr6+vr6+zs7O3t7e7u7u/v7/Dw8PDw8PDw8PDw8PDw8PDx8fHx8fLy8vLy8/Pv7+7u7u7u7e3t7e3t7e3t7e3t7u7u7u7u7u7t7e3s7Ozs6+vr6+vr6+rr6+vr6+vr6+zs7Ozt7e3u7u/v7/Dw8PDw8PDw8PDw8PDw8PDx8fHx8fLy8vLy8/Pz7+/v7+/v7u7u7u3t7e3t7e7u7u7v7+/v7+/u7u7t7ezs7Ozr6+vr6+vr6+vr6+vr6+zs7Ozt7e3u7u7v7/Dw8PDw8PDw8PDw8PDw8PHx8fHx8fHy8vLy8/Pz8/Dw8PDw7+/v7u7u7u7u7u7u7u/v7/Dw8PDv7+/u7u3t7Ozs7Ovr6+vr6+vr6+vr6+zs7Ozs7e3t7u7v7+/w8PDw8PDw8PDw8PDw8fHx8fHx8fHy8vLy8/Pz8/Px8fHx8PDw7+/v7u7u7u7v7+/v8PDw8PDw8O/v7+7u7e3s7Ozs6+vr6+vr6+vr6+vs7Ozs7e3t7u7u7+/v8PDw8PDx8fHx8fHx8fHx8fHx8fHy8vLy8vPz8/Pz8vLx8fHw8PDv7+/v7+/v7+/w8PDw8fHx8fDw7+/u7u7t7ezs7Ozr6+vr6+vr6+vs7Ozs7e3t7e7u7u/v8PDw8PDx8fHx8fHx8fHx8fHx8fHy8vLy8vPz8/Pz8/Ly8vLx8fHw8PDv7+/v7/Dw8PDx8fHx8fHx8PDv7+7u7e3t7Ozs7Ozr6+vr6+zs7Ozs7O3t7e7u7u/v7/Dw8PDw8fHx8fHx8fHx8fHx8fHx8vLy8vLz8/Pz8/M="}, "dL": {"x0": 410, "y0": 363, "w": 90, "h": 169, "d": "BQUJDA8SFRgaHB4fISMkJSYoKSkqKywtLS4vLzAwMTExMjIzMzM0NDU1NjY3Nzg4OTo6Ozs8PD09Pj8/QEFDRUdJTVVkf5+fn5+fn5+fn5+fn5+fn5+fn5+fBQUJDA8SFRgaHB4fISMkJSYoKSkqKywtLS4vLzAwMTExMjIzMzM0NDU1NjY3Nzg4OTo6Ozs8PD09Pj8/QEFDRUdJTVVkf5+fn5+fn5+fn5+fn5+fn5+fn5+fCAgLDhETFhgaHB4gISMkJicoKSorLCwtLi4vLzAwMTEyMjIzMzQ0NDU1NjY3Nzg4OTo6Ozw8PT0+Pj8/QEFDRUdKTlZmgJ+fn5+fn5+fn5+fn5+fn5+fn5+fCgoNEBIVFxkbHR8gIiMlJicoKSorLC0tLi4vMDAxMTEyMjMzMzQ0NTU1NjY3Nzg4OTo6Ozw8PT0+Pj8/QEFDREdKT1hogZ+fn5+fn5+fn5+fn5+fn5+fn5+fDQ0PERMWGBocHh8hIiQlJigpKisrLC0uLi8vMDAxMTIyMjMzNDQ0NTU1NjY3Nzg4OTo7Ozw9PT4+Pj8/QEFCREdLUFppgp6enp6enp6enp6enp6enp6enp6eDw8RExUXGRscHiAhIyQmJygpKissLS0uLy8wMDExMTIyMzM0NDQ1NTU1NjY3Nzg4OTo7Ozw9Pj4+Pz8/QEFCREdLUVtrg56enp6enp6enp6enp6enp6enp6eERETFBYYGhsdHyAiIyUmJygpKissLS4uLy8wMDExMjIzMzM0NDU1NTU2NjY3Nzg4OTo7PDw9Pj4/Pz8/QEFCREhMUl1thJ6enp6enp6enp6enp6enp6enp6eExMUFhcZGxweICEjJCUnKCkqKywtLS4vLzAwMTEyMjIzMzQ0NDU1NTY2NjY3Nzg4OTo7PDw9Pj4/Pz8/QEFCRUhNVF5uhZ2dnZ2dnZ2dnZ2dnZ2dnZ2dnZ2dFBQWFxkaHB0fICIjJSYnKCkqKywtLi8vMDAxMTIyMjMzNDQ1NTU1NjY2Njc3Nzg5OTo7PDw9Pj4+Pj4/P0FCRUhNVF9vhZ2dnZ2dnZ2dnZ2dnZ2dnZ2dnZ2dFhYXGBobHR4gISMkJScoKSorLC0uLi8wMDExMjIzMzM0NDU1NTY2NjY2Nzc3ODg5OTo7Ozw9PT4+Pj4/P0FCRUlOVWBwhp2dnZ2dnZ2dnZ2dnZ2dnZ2dnZ2dFxcYGRscHh8hIiQlJigpKissLS0uLzAwMTEyMjMzNDQ0NTU1NjY2Njc3Nzc4ODk5Ojo7Ozw8PT09Pj4+P0FDRUlPVmFxhp2dnZ2dnZ2dnZ2dnZ2dnZ2dnZ2dFxcZGhsdHiAiIyUmJygpKissLS4vMDAxMTIyMzM0NDQ1NTY2NjY3Nzc3ODg4ODk5Ojo7Ozw8PT09PT4+P0FDRkpPV2Jyh52dnZ2dnZ2dnZ2dnZ2dnZ2dnZ2dGBgZGxweHyEiJCUnKCkqKywtLi8wMDExMjMzNDQ0NTU1NjY2Nzc3Nzg4ODg5OTk6Ojo7Ozw8PD09PT4+P0FDRkpQWGNzh52dnZ2dnZ2dnZ2dnZ2dnZ2dnZ2dGBgaGx0fICIjJSYoKSorLC0uLy8wMTIyMzM0NDU1NTY2Njc3Nzc4ODg4ODk5OTo6Ojs7Ozw8PDw9PT4+P0FDRktRWWR0iJ2dnZ2dnZ2dnZ2dnZ2dnZ2dnZ2dGBgaHB4fISMkJicpKissLS4vLzAxMjIzMzQ0NTU2NjY3Nzc3ODg4ODk5OTk5Ojo6Ojs7Ozs8PDw9PT4/QEFER0tRWmV1iJycnJycnJycnJycnJycnJycnJycGBgaHB4gIiQlJygpKywtLi8wMDEyMjM0NDU1NjY2Nzc3ODg4ODg5OTk5OTo6Ojo6Ozs7Ozw8PDw9PT4/QEJER0xSW2Z2iZycnJycnJycnJycnJycnJycnJycGBgbHR8hIyUmKCkqKy0uLzAwMTIzMzQ1NTY2Njc3Nzg4ODg5OTk5OTo6Ojo6Ojs7Ozs7Ozw8PDw9PT4/QUJFSE1TW2d4ipqampqampqampqampqampqampqaGRkcHiAiJCYnKSorLC0vMDAxMjM0NDU1NjY3Nzg4ODg5OTk5OTo6Ojo6Ojs7Ozs7Ozs7PDw8PD09Pj5AQUNGSU5UXWh5i5aWlpaWlpaWlpaWlpaWlpaWlpaWGxsdHyEjJScoKissLS4vMDEyMzQ1NTY2Nzc4ODg5OTk5Ojo6Ojo6Ozs7Ozs7Ozs7Ozw8PDw8PD09Pj9AQkRHSk9VXmp6i5mZmZmZmZmZmZmZmZmZmZmZmZmZHR0fISMkJigpKywtLi8wMTIzNDU2Njc3ODg5OTk6Ojo6Ojs7Ozs7Ozs7Ozs8PDw8PDw8PDw8PT0+Pj9BQkVIS1BXX2t6ipqampqampqampqampqampqampqaHx8hIiQmJykqLC0uLzAxMjM0NTY3Nzg4OTk6Ojo6Ozs7Ozs7Ozw8PDw8PDw8PDw8PDw8PDw9PT0+P0BBQ0VJTFJYYWx6ipqampqampqampqampqampqampqaISEjJCYnKSorLS4vMDEyMzQ1Njc4ODk5Ojo7Ozs7Ozw8PDw8PDw8PDw8PDw8PDw8PDw9PT09PT4+P0BCREZJTVNZYm17ipqampqampqampqampqampqampqaJCQlJicpKissLi8wMTIzNDU2Nzg5OTo6Ozs8PDw8PDw9PT09PT09PT09PT09PT09PT09PT09Pj4/QEFDREdKTlRbY257ipqampqampqampqampqampqampqaJiYnKCkqKywuLzAxMjM0NTY3ODk6Ozs8PDw8PT09PT09PT0+Pj4+PT09PT09PT09PT09PT0+Pj8/QEJDRUhLT1VcZG98ipmZmZmZmZmZmZmZmZmZmZmZmZmZKCgpKiorLC4vMDEyMzQ1Njg5OTo7PDw9PT09Pj4+Pj4+Pj4+Pj4+Pj4+Pj4+Pj09PT0+Pj4+Pz9AQUJERklMUFZcZW98i5mZmZmZmZmZmZmZmZmZmZmZmZmZKioqKywtLi8wMTIzNDU2Nzk6Ozs8PT0+Pj4/Pz8/Pz8/Pz8/Pz8/Pz8+Pj4+Pj4+Pj4+Pj4/P0BAQUNFR0lNUVddZnB9i5mZmZmZmZmZmZmZmZmZmZmZmZmZKyssLS0uLzAxMjM0NTY3ODk7PD09Pj4/Pz9AQEBAQEBAQEBAQEA/Pz8/Pz8+Pj4+Pj4+Pj8/P0BBQkNFR0pOUldeZnF9i5mZmZmZmZmZmZmZmZmZmZmZmZmZLS0uLi8wMDEyMzQ1Njc4OTo7PT4+Pz9AQEBBQUFBQUFBQUFBQEBAQEA/Pz8/Pz8+Pj4/Pz8/QEFBQ0RGSEtOU1hfZ3F+i5iYmJiYmJiYmJiYmJiYmJiYmJiYLi4vLzAxMTIzNDU2Nzg5Ojs8PT4/QEBBQUFCQkJCQkJCQkJBQUFBQEBAQD8/Pz8/Pz8/Pz9AQEFCQ0VGSUxPVFlgaHJ+i5iYmJiYmJiYmJiYmJiYmJiYmJiYMDAwMTEyMzM0NTY3ODk6Ozw9Pj9AQUFCQkJCQ0NDQ0NDQ0JCQkJBQUFAQEBAPz8/Pz8/P0BAQUFCREVHSUxQVFpgaXN+i5iYmJiYmJiYmJiYmJiYmJiYmJiYMTExMjIzNDQ1Njc4OTo7PD0+P0BAQUJCQ0NDRERERERERENDQ0JCQkFBQUBAQEA/Pz8/QEBAQUJDREZISk1RVVthaXN+i5iYmJiYmJiYmJiYmJiYmJiYmJicMjIyMzM0NTU2Nzg4OTo7PD0+P0BBQkNDRERERUVFRUVFRUREQ0NDQkJBQUFAQEBAQEBAQEBBQUJDRUZIS05SVlxianN+ipmZmZmZmZmZmZmZmZmZnJycnJycMzMzNDQ1NTY3ODg5Ojs8PT4/QEFCQkNEREVFRkZGRkZGRkVFRERDQ0JCQUFBQEBAQEBAQEBBQkNERUdJS09SV1xja3N+ipubm5ubm5ubm5ycnJycnJycnJycMzM0NDU2Njc4ODk6Ozw9Pj9AQUFCQ0RERUZGR0dHR0dHRkZFRUREQ0NCQkFBQUBAQEBAQEFBQkNERUdJTE9TWF1ja3R+ipiYmJiYmJycnJycnJycnJycnJycNDQ1NTY2Nzg4OTo7PD0+Pj9AQUJDRERFRkZHSEhISEhIR0dGRUVERENDQkJBQUFAQEBAQEFBQkNERkhKTVBUWV5ka3V/i5iYmJycnJycnJycnJycnJycnOzyNTU1NjY3Nzg5Ojs7PD0+P0BBQkNDREVGRkdISElJSUlJSEdHRkVFRENDQkJBQUFBQEBAQUFBQkNERkhLTlFVWV9lbHWAi5WVnJycnJycnJycnJycvry87OzyNTU1Njc3ODk6Ojs8PT4/QEFCQkNERUZGR0hISUpKSkpJSUhHRkZFRERDQ0JCQUFBQUBAQUFBQkNFRkhLTlJWW2BmbXV/iZOcnJycnJycnJy+vr68vLzs7PLyNTU2Njc4OTk6Ozw9Pj9AQUFCQ0RFRUZHSEhJSkpLS0tKSUhIR0ZFRURDQ0JCQkFBQUFBQUFBQkNFRklMT1NXXGFnbXV9h5Gampqampq+vr6+vLy86ezs7PLyNTU2Nzc4OTo7PD0+Pj9AQUJDRERFRkdHSElJSkpLS0tKSUlIR0ZGRUREQ0NCQkFBQUFBQUFBQkNFR0lMUFRZXmNobnR7g46ZmZm+vr6+vry8vLzp7Ozs8PLyNTU2Nzg4OTo7PD0+P0BBQkNEREVGR0dISElJSkpLS0tKSUlIR0dGRUVEQ0NCQkJBQUFBQUFBQkNFR0pNUVZaX2RpbnJ3fomXl76+vr68vLy86ens7Ozs8vLyNTU2Nzg5Ojs8PT4/QEFCQ0RERUZGR0hISUlKSkpKSkpKSUlIR0dGRUVERENDQkJBQUFBQUFBQkNFR0pOUldcYWZqbnBzeIKWvr6+vLy8vLzp6ezs7Ozw8vLyNTU2Nzg5Ojs8PT5AQUJDRERFRkdHSEhJSUlKSkpKSkpKSUlIR0dGRkVERENDQkJCQUFBQUFCQkNFR0tPU1hdYmdrbm9wc36UvLy8vLy8xunp7Ozo7Ozw8vLyNDQ1Nzg5Ojs9Pj9AQUJDREVGR0dISElJSUlJSkpKSkpJSUlIR0dGRkVFRENDQ0JCQUFBQUFCQkRFSEtPVFleZGhsbm5ucXmJpby8vMbG6ens7Ojs7PDw8vLyNDQ1Njg5Ozw9PkBBQkNERUZHR0hISUlJSUlJSkpKSUlJSUhIR0dGRkVFRERDQ0JCQkFBQUJCQ0RGSExQVVpfZGlsbm5tb3aDmLGxxsbp6ezs6Ozs7PDy8vLyMzM1Njg5Ozw+P0BBQ0RFRkdISElJSUlJSUlJSUlJSUlJSUhIR0dGRkVFRERDQ0NCQkJCQkJCQ0RGSUxRVltgZWlsbm1tbnN/karGxunp7Ozo6Ozs8PDy8vLyMjI0Njg6Oz0+QEFCQ0RFRkdISUlJSkpJSUlJSUlJSUlJSEhIR0dGRkVFRUREQ0NCQkJCQkJDREVGSU1SV1xhZWlsbm5tbXF6iqTG6ens7Ojo7Ozs8PDy8vLyMjI0Njg6PD0/QEJDREVGR0hJSUpKSkpKSklJSUlJSUlJSEhIR0dHRkZFRUREQ0NDQ0JCQ0NDREVHSk5SV1xhZmlsbm5tbXB2g5zC2ezs6Ojo7Ozw8PDy8vLyMjI1Nzk7PD4/QUJDRUZHSEhJSkpKSkpKSkpJSUlJSUlJSEhIR0dHRkZFRURERENDQ0NDQ0NERUdJS09TWF1hZmlsbm5ubm91gJOvxtno6Ojs7Ozw8O/y8vLyMzM1Nzk7PT9AQUNERUZHSElJSkpKSkpKSkpKSklJSUlISEhIR0dHRkZFRUVERERDQ0NDRERFRkhKTVBUWV1iZmlsbm5ub3F1foygtcjZ6Ojs7PDw8O/y8vL2NTU2ODo8Pj9BQkNFRkdISUlKSktLS0tLSkpKSkpJSUlJSEhIR0dHRkZGRUVFREREREREREVGR0lLTlJVWV5iZWlsbm9vcHJ2fYiXqLrL2eTs7PDw7O/y8vL2NjY4Ojs9PkBBQ0RFRkdISUpKS0tLS0tLS0tKSkpKSUlJSEhIR0dHRkZGRUVFRURERERERUZHSEpNUFNWWl5iZWlrbm9wcXR4foaRn6++zNfh6fDw7O/y8vL2ODg5Ozw+P0FCQ0RGR0hJSkpLS0tLS0tLS0tLS0pKSklJSUhISEdHR0ZGRkVFRUVFRUVFRkZISUtOUVRXW15iZWhrbW9xcnV5foWOmaa0wMzW3uXp7O/y8vL2Ojo7PD0/QEFCREVGR0hJSktLS0xMTExMTExLS0tKSkpJSUhISEdHR0dGRkZFRUVFRUVGRkdISkxPUlVYW15iZWhrbW9xc3Z5foSLlZ+rt8LL1Nrf4+bq7vL2Ozs8PT4/QUJDREVHSElKSktLTExMTExMTExMTEtLS0pKSUlISEhHR0dGRkZGRkZGRkZGR0hJS05QU1ZZXF9iZWhqbW9xdHd6foOKkZqlr7nCytDV2t7h5ensPT09Pj9AQUNERUZHSElKS0tMTE1NTU1NTU1NTExMS0tKSklJSEhIR0dHR0ZGRkZGR0dHSElKTE9RVFZZXF9iZWdqbW9ydHd6foOIj5efqbK6wcfM0dXY3N/jPj4/P0BBQkNERUZHSElKS0xMTU1NTk5OTk5NTU1MTEtLSkpJSUhISEdHR0dHR0dHR0hISUpMTlBSVVdaXF9iZGdqbG9xdHd6foKHjZSbpKy0usDEyMzP09baPz9AQEFCQ0RFRkdISUpLS0xNTU5OTk5OTk5OTk1NTUxLS0pKSUlJSEhIR0dHR0dISElKS0xNT1FTVlhaXV9iZGdpbG9xdHd6foKGi5GYoKeutLm9wMPHys7RQEBBQUJDRERFRkdISUpLTE1NTk5PT09PT09PT05OTU1MTEtLSkpJSUhISEhISEhISUpLTE1PUFJUVllbXWBiZGdpbG5xdHd6fYGFio+VnKOqr7O2uby/w8bKQUFCQkNDREVGR0hJSktMTU1OT09QUFBQUFBQT09PTk5NTExLS0pKSUlJSUlJSUlJSktMTU5QUlNVV1lbXmBiZGdpbG5xdHd6fYCEiI2SmJ+lqa2ws7a5vMDDQkJCQ0NERUVGR0hJSktMTU5PUFBRUVFRUVFRUFBPT05OTU1MTEtLSkpJSUlJSUlKS0xNTlBRU1RWWFpcXmBiZGdpa25wc3Z5fICDh4uQlZugpKirrrG0t7q9Q0NDQ0RFRUZHR0hJSkxNTk9QUFFSUlJSUlJSUVFQUE9PTk5NTUxMS0tKSkpLS0tLTE1OUFFSVFZXWVtdX2BiZWdpa25wc3Z5fH+DhoqOk5ecoKSnqq2wsrW4Q0NEREVFRkZHSElKS0xNT1BRUVJTU1NTU1NTUlJRUVBQT09OTU1NTExMTExMTExNTk9QUVJUVVdYWltdX2FjZWdpa21wc3V4e3+ChYmNkZWZnaCkp6msrrGzRERERUVFRkdHSElKS01OT1FSU1NUVFRUVFRUU1NSUlFRUE9PTk5OTU1NTU1NTU5OT1BRUlNVVlhZW1xeX2FjZWdpa21wcnV4e36BhYiMj5OXmp6ho6apq62vRERERUVGRkdISUpLTE1PUFFTVFVVVlZWVVVVVFRTUlJRUVBQT09PTk5OTk5OT09QUVFSU1VWV1laW11eYGJjZWdpa21vcnV3en2BhIeLjpKVmJueoaOmqKqsRERFRUZGR0dISUpLTU5PUVJUVVZWV1dXVlZVVVRUU1NSUlFRUVBQUFBPT1BQUFFRUlNUVVZXWFlbXF5fYGJkZWdpa21vcnR3en2Ag4aKjZCTlpmbnqCjpaepRUVFRkZGR0hISUpMTU5QUlNVVldYWFhYV1dWVlVVVFRTU1JSUlFRUVFRUVFRUlJTU1RVVldYWVpcXV5gYWJkZWdpa21vcXR3eXx/goWIjI+SlJeZm56goqSmRUVFRkZHR0hJSktMTk9RUlRVV1hZWVlZWFhXVlZVVVRUVFNTU1JSUlJSUlJTU1NUVVVWV1hZWltcXl9gYWNkZmdpa21vcXR2eXx/gYSHio2QkpSXmZyeoKGjRUVGRkdHSEhJSktNTk9RU1RWV1laWlpZWVhYV1dWVlVVVFRUVFNTU1NTU1RUVFVVVldXWFlaW1xdXl9hYmNlZmdpa21vcXN2eHt+gYOGiYyOkJOVl5mbnZ+gRkZGRkdHSElJSkxNTlBRU1VWWFlaWlpaWVlYWFdXVlZWVVVVVVVUVFRVVVVVVlZXV1hZWVpbXF1eX2BhYmRlZmhpa2xucXN1eHp9gIKFiIqMj5GTlZeZm5yeRkZGR0dISElKS0xNT1BSU1VWWFlaWlpaWllZWFhXV1dWVlZWVlZWVlZWVlZXV1dYWFlaWltcXV5fYGFiY2RlZmhpa2xucHN1d3p8f4GEhomLjY+Rk5WXmJqbRkZGR0dISElKS0xOT1FSVFVWWFlZWlpaWllZWVhYWFdXV1dXV1dXV1dXV1dYWFlZWlpbXFxdXl9fYGFiY2RmZ2hpa2xucHJ1d3l8foCDhYeKjI6QkpOVlpeYRkZHR0dISUpLTE1OT1FSVFVWV1hZWVpaWlpZWVlZWFhYWFhYWFhYWFhYWFlZWVpaW1tcXV1eX19gYWJjZGVmZ2hpa2xucHJ0dnl7fYCChIaIioyOkJGTlJWWRkZHR0hISUpLTE1OUFFSVFVWV1hZWVlaWlpaWVlZWVlZWVlZWVlZWVlZWVpaWltbXFxdXV5fX2BhYmJjZGVmZ2hqa2xucHJ0dnh6fX+Bg4WHiYuNjo+RkpOURkZHR0hJSUpLTE5PUFFSVFVWV1hYWVlZWlpaWlpZWVlZWVlZWVpaWlpaW1tbXFxcXV1eXl9gYGFiYmNkZWZmZ2lqa2xucHFzdXh6fH6AgoSGiImLjI6PkJGSR0dHSEhJSktMTU5PUFFTVFVWV1dYWVlZWlpaWlpaWlpaWlpaWlpbW1tbXFxcXV1dXl5fX2BgYWJiY2RkZWZnaGlqa2xub3FzdXd5e31/gYOFhoiKi4yNj5CRR0dHSEhJSktMTU5PUFJTVFVWVldYWFlZWlpaWlpaWlpaW1tbW1tbXFxcXV1dXl5eX19gYGFhYmJjY2RlZWZnaGlqa2xub3FzdXd5e3x+gIKEhYeIiouMjY6PR0dISElKSktMTU9QUVJTVFVWVldYWFlZWVpaWlpbW1tbW1tcXFxcXV1dXl5eX19fYGBhYWFiYmNjZGVlZmdnaGlqa2xub3FzdHZ4enx+f4GDhIaHiIqLjI2OR0dISElKS0xNTk9QUVJTVFVVVldYWFlZWVpaWltbW1tbXFxcXV1dXl5eX19fYGBgYWFhYmJjY2RkZGVmZmdoaGlqa2xub3FydHZ4ent9f4CChIWGh4mKi4uMR0dISUlKS0xNTk9QUVJTVFVWVldYWFlZWlpaW1tbW1xcXF1dXV5eXl9fYGBgYWFhYmJiY2NjZGRkZWVmZ2doaWlqa2xtb3BydHZ3eXt9foCBg4SFh4iJioqLSEhISUpLTE1OT1BRUVJTVFVWVldYWFlZWlpaW1tbXFxcXV1dXl5fX2BgYGFhYmJiY2NjY2RkZGVlZWZmZ2doaWpqa2xtb3BydHV3eXp8fn+BgoOFhoeIiYmKSEhJSUpLTE1OT1BRUlNTVFVWVldYWFlZWlpbW1tcXFxdXV5eXl9fYGBhYWJiY2NjY2RkZGRlZWVlZmZnZ2hoaWpra2xub3Byc3V3eHp8fX+AgoOEhYaHiImJSEhJSktMTU5PT1BRUlNUVVVWV1dYWFlZWlpbW1xcXF1dXl5eX19gYGFiYmNjY2RkZGRlZWVlZWZmZmdnZ2hpaWprbGxub3Byc3V3eHp7fX6AgYKEhYaGh4iJSEhJSktMTU5PUFFSU1NUVVVWV1dYWFlZWlpbW1xcXV1dXl5fX2BgYWJiY2NkZGVlZWVlZWVmZmZmZ2dnaGhpaWprbG1ub3Byc3V2eHp7fX6AgYKDhIWGh4iISUlKS0xNTk9QUFFSU1RUVVZWV1hYWVlaWltbW1xcXV1eXl9fYGBhYmJjZGRlZWVmZmZmZmZmZmZnZ2doaGhpamprbG1ub3Byc3V2eHp7fX5/gYKDhIWGhoeISUlKS0xNTk9QUVJTU1RVVVZXV1hYWVlaWltbXFxdXV5eX19gYGFhYmNjZGVlZmZmZmZmZmZmZmdnZ2doaGlpamprbG1ub3Byc3V2eHp7fX5/gYKDhIWFhoeHSUlLTE1OT1BRUlJTVFVVVlZXWFhZWVpaW1tbXFxdXV5eX19gYGFiYmNkZGVmZmdnZ2dmZmdnZ2dnZ2hoaGlpamprbG1ub3Byc3V3eHp7fX5/gIKDhIWFhoeHSkpMTU5PUFFRUlNUVFVWVldXWFhZWVpaW1tcXF1dXl5eX2BgYWFiY2NkZWVmZ2dnZ2dnZ2dnZ2dnaGhoaWlpamtrbG1ub3FydHV3eHp7fX5/gIKDhIWFhoaHTExNTk9QUVFSU1RUVVVWV1dYWFlZWlpaW1tcXF1dXl5fX2BgYWJiY2RkZWZmZ2dnZ2dnZ2dnZ2doaGhoaWlqamtrbG1ub3FydHV3eHp7fX5/gYKDhISFhoaHTU1OT1BQUVJTU1RVVVZWV1hYWFlZWlpbW1xcXF1dXl5fX2BhYWJiY2RkZWVmZmdnZ2dnZ2dnZ2doaGhpaWlqamtsbG1ucHFzdHZ3eXp8fX6AgYKDhISFhoaGTk5PUFFRUlNUVFVVVlZXV1hYWVlaWltbW1xcXV1eXl9fYGBhYWJiY2RkZWVmZmZnZ2dnZ2dnZ2hoaGhpaWlqamtsbW1vcHFzdHZ4eXt8fX+AgYKDhISFhYaGUFBQUVJSU1RUVVVWVldXWFhZWVpaWltbXFxcXV1eXl9fYGBhYWJjY2RkZWVmZmZnZ2dnZ2dnaGhoaGhpaWpqa2tsbW5vcHJzdXZ4ent8fn+AgYKDhISFhYaGUVFRUlNTVFRVVlZXV1hYWFlZWlpaW1tbXFxdXV5eXl9fYGBhYWJjY2RkZWVlZmZmZ2dnZ2dnaGhoaGhpaWpqa2tsbW5vcXJ0dXd5enx9foCBgoKDhISFhYWGUlJTU1RUVVVWVldXWFhYWVlaWlpbW1tcXFxdXV5eX19fYGBhYWJjY2RkZGVlZmZmZmdnZ2dnaGhoaGlpaWpqa2tsbW5wcXJ0dnd5e3x+f4CBgoODhISFhYWGU1NUVFRVVVZXV1dYWFlZWVpaWlpbW1xcXF1dXV5eX19gYGFhYmJiY2NkZGVlZWZmZmZnZ2dnaGhoaGlpaWpqa2xsbW5wcXN0dnh6e31+gIGCgoODhISFhYWFVFRVVVVWVldXWFhYWVlZWlpaWltbW1xcXF1dXl5eX19gYGFhYmJiY2NkZGRlZWVmZmZnZ2dnZ2hoaGlpaWpqa2xsbW9wcXN1dnh6fH1/gIGCg4OEhISEhYWFVVVVVlZXV1hYWFlZWVpaWlpbW1tbXFxcXV1dXl5eX19gYGFhYmJiY2NkZGRlZWVmZmZmZ2dnZ2hoaGlpaWpqa2xsbW9wcXN1d3l6fH6AgYKDg4OEhISEhYWFVlZWV1dXWFhZWVlaWlpaWltbW1tcXFxcXV1dXl5fX19gYGFhYWJiY2NjZGRlZWVlZmZmZ2dnZ2hoaGhpaWpqa2xsbW9wcnN1d3l7fX6AgoKDg4SEhISEhIWFV1dXV1hYWFlZWlpaWlpbW1tbW1xcXFxdXV1eXl5fX19gYGFhYWJiY2NjZGRkZWVlZmZmZmdnZ2doaGhpaWpqa2xsbW9wcnN1d3l7fX+AgoODg4SEhISEhISEV1dYWFhZWVlaWlpbW1tbW1tbXFxcXF1dXV1eXl5fX2BgYGFhYWJiY2NjZGRkZWVlZWZmZmdnZ2doaGhpaWpqa2xsbW9wcnR1d3l7fX+AgoODg4SEhISEhISEWFhYWVlZWVpaWltbW1tbW1tcXFxcXF1dXV5eXl9fX2BgYGFhYWJiYmNjY2RkZGVlZWZmZmZnZ2doaGhpaWpqa2xsbm9wcnR1d3l7fX+AgYKDg4OEhISEhISEWVlZWVlaWlpaW1tbW1tbXFxcXFxcXV1dXV5eXl9fX2BgYGFhYWJiYmNjY2RkZGVlZWVmZmZnZ2doaGhpaWpqa2xsbm9wcnR1d3l7fX6AgYKCg4ODhISEhISEWVlZWlpaWlpbW1tbW1xcXFxcXFxdXV1dXl5eXl9fX2BgYGFhYWJiYmNjY2RkZGRlZWVmZmZmZ2dnaGhpaWpqa2xsbm9wcnR2d3l7fH5/gIGCg4ODg4ODg4ODWlpaWlpaWltbW1tbXFxcXFxcXF1dXV1dXl5eXl9fX2BgYGFhYWJiYmNjY2NkZGRlZWVmZmZmZ2dnaGhoaWlqa2xtbm9wcnR2d3l7fH5/gIGCgoODg4ODg4ODWlpaWlpbW1tbW1tcXFxcXFxcXV1dXV1dXl5eXl9fX2BgYGFhYWJiYmJjY2NkZGRlZWVlZmZmZ2dnaGhoaWlqa2xtbm9xcnR2d3l7fH5/gIGBgoKCg4ODg4ODWlpaW1tbW1tbW1xcXFxcXFxcXV1dXV1eXl5eX19fX2BgYGFhYWFiYmJjY2NkZGRkZWVlZmZmZmdnZ2hoaWlqa2tsbm9wcnR2d3l7fH1/gICBgYKCgoKCgoKCW1tbW1tbW1tbXFxcXFxcXFxdXV1dXV1eXl5eX19fX2BgYGFhYWFiYmJjY2NkZGRkZWVlZmZmZmdnZ2hoaWlqamtsbW9wcnR2d3l7fH1+f4CBgYGCgoKCgoKCW1tbW1tbW1tcXFxcXFxcXF1dXV1dXV5eXl5eX19fX2BgYGBhYWFiYmJjY2NjZGRkZWVlZWZmZmdnZ2hoaGlqamtsbW5wcnR2d3l7fH1/f4CBgYGBgYGBgYGBW1tbW1tbXFxcXFxcXFxcXV1dXV1dXV5eXl5eX19fX2BgYGBhYWFiYmJiY2NjZGRkZWVlZWZmZmdnZ2hoaGlpamtsbW5wcnR2eHl7fH5/f4CAgYGBgYGBgYGBW1tbW1tcXFxcXFxcXFxcXV1dXV1dXV5eXl5eX19fX2BgYGBhYWFiYmJiY2NjZGRkZGVlZWZmZmZnZ2doaGlpamtrbG5vcXN1eHl7fX5/f4CAgICAgICAgICAW1tcXFxcXFxcXFxcXFxdXV1dXV1dXl5eXl5eX19fX2BgYGBhYWFhYmJiY2NjZGRkZGVlZWZmZmZnZ2doaGlpamprbG1vcXN1eHp7fX5/f4CAgICAgIB/f39/XFxcXFxcXFxcXFxcXFxdXV1dXV1dXl5eXl5eX19fX2BgYGBhYWFhYmJiY2NjY2RkZGVlZWVmZmZnZ2doaGhpaWprbG1vcHN1d3p8fX5/f39/f39/f39/f39/XFxcXFxcXFxcXFxcXF1dXV1dXV1dXl5eXl5eX19fX19gYGBhYWFhYmJiY2NjY2RkZGVlZWVmZmZnZ2doaGhpaWprbG1ucHJ0d3l7fX5/f39+fn5+fn5+fn5+XFxcXFxcXFxcXFxcXV1dXV1dXV1dXl5eXl5eX19fX19gYGBhYWFhYmJiY2NjY2RkZGRlZWVmZmZmZ2dnaGhpaWpra2xub3Fzdnh7fX5+fn5+fX19fX19fX19XFxcXFxcXFxcXFxcXV1dXV1dXV1eXl5eXl5eX19fX19gYGBgYWFhYmJiYmNjY2RkZGRlZWVmZmZmZ2dnaGhpaWpqa2xtb3BydXd5e3x8fX18fHx8fHx8fHx8XFxcXFxcXFxcXFxdXV1dXV1dXV1eXl5eXl5eX19fX19gYGBgYWFhYmJiYmNjY2RkZGRlZWVmZmZmZ2dnaGhoaWpqa2xtbm9xc3V3eXp7e3t7e3t7e3t7e3t7XFxcXFxcXFxcXFxdXV1dXV1dXV1eXl5eXl5eX19fX19gYGBgYWFhYmJiYmNjY2RkZGRlZWVlZmZmZ2dnaGhoaWlqa2tsbW5vcXN1d3h5eXp6enp6enp6enp6XFxcXFxcXFxcXF1dXV1dXV1dXV1eXl5eXl5eX19fX19gYGBgYWFhYmJiYmNjY2RkZGRlZWVlZmZmZ2dnaGhoaWlqamtrbG1ucHFzdHZ3d3h4eHl5eXl5eXl5XFxcXFxcXFxcXF1dXV1dXV1dXV5eXl5eXl5eX19fX19gYGBgYWFhYmJiYmNjY2NkZGRlZWVlZmZmZ2dnZ2hoaWlpampra2xtbnBxcnR1dXZ2d3d3eHh4eHh3XFxcXFxcXFxcXF1dXV1dXV1dXV5eXl5eXl5eX19fX19gYGBgYWFhYmJiYmNjY2NkZGRlZWVlZmZmZmdnZ2hoaGlpampqa2xsbW5wcXJzc3R1dXZ2dnZ2dnZ2XFxcXFxcXFxcXF1dXV1dXV1dXV5eXl5eXl5eX19fX19gYGBgYWFhYmJiYmNjY2NkZGRkZWVlZmZmZmdnZ2hoaGlpaWpqa2tsbW5ub3BxcnJzc3R0dHV1dXR0XFxcXFxcXFxcXF1dXV1dXV1dXV5eXl5eXl5fX19fX19gYGBgYWFhYmJiYmNjY2NkZGRkZWVlZmZmZmdnZ2hoaGhpaWlqamtrbG1tbm9vcHFxcnJzc3Nzc3NzXFxcXFxcXFxcXF1dXV1dXV1dXV5eXl5eXl5fX19fX19gYGBgYWFhYmJiYmNjY2NkZGRkZWVlZWZmZmdnZ2doaGhpaWlqampra2xsbW1ubm9wcHFxcXFxcXFxXFxcXFxcXFxcXF1dXV1dXV1dXV5eXl5eXl5fX19fX2BgYGBhYWFhYmJiYmNjY2NkZGRkZWVlZWZmZmdnZ2doaGhoaWlpampra2tsbGxtbW5ub29vb3BwcHBwXFxcXFxcXFxcXF1dXV1dXV1dXl5eXl5eXl9fX19fX2BgYGBhYWFhYmJiYmNjY2NkZGRkZWVlZWZmZmZnZ2doaGhoaWlpampqamtra2xsbG1tbm5ubm5ubm5uXFxcXFxcXFxcXF1dXV1dXV1dXl5eXl5eXl9fX19fX2BgYGBhYWFhYmJiYmNjY2NkZGRkZWVlZWZmZmZnZ2dnaGhoaGlpaWpqampra2trbGxsbW1tbW1tbW1tXFxcXFxcXFxcXFxdXV1dXV1dXl5eXl5eXl9fX19fYGBgYGBhYWFhYmJiYmNjY2NkZGRkZWVlZWZmZmZnZ2dnaGhoaGlpaWlqampqamtra2tsbGxsbGxsbGxsXFxcXFxcXFxcXFxdXV1dXV1dXl5eXl5eX19fX19fYGBgYGBhYWFhYmJiYmNjY2NkZGRkZWVlZWZmZmZmZ2dnZ2hoaGhpaWlpaWpqampqa2tra2tra2tra2trW1tcXFxcXFxcXFxdXV1dXV1dXl5eXl5eX19fX19fYGBgYGBhYWFhYmJiYmNjY2NkZGRkZGVlZWVmZmZmZ2dnZ2hoaGhoaWlpaWlqampqampqa2tra2tra2trW1tbW1xcXFxcXFxdXV1dXV1dXl5eXl5eX19fX19gYGBgYGFhYWFhYmJiYmNjY2NkZGRkZGVlZWVmZmZmZ2dnZ2doaGhoaGlpaWlpaWpqampqampqampqampqW1tbW1tcXFxcXFxcXV1dXV1dXl5eXl5eX19fX19gYGBgYGFhYWFhYmJiYmNjY2NjZGRkZGVlZWVmZmZmZmdnZ2doaGhoaGhpaWlpaWlpaWpqampqampqampqW1tbW1tbXFxcXFxcXV1dXV1dXl5eXl5fX19fX19gYGBgYGFhYWFhYmJiYmNjY2NjZGRkZGVlZWVmZmZmZmdnZ2dnaGhoaGhoaWlpaWlpaWlpaWlpaWpqampqW1tbW1tbXFxcXFxcXV1dXV1dXl5eXl5fX19fX19gYGBgYGFhYWFhYmJiYmNjY2NjZGRkZGVlZWVlZmZmZmdnZ2dnZ2hoaGhoaGhpaWlpaWlpaWlpaWlpaWlpW1tbW1tbW1xcXFxcXV1dXV1eXl5eXl5fX19fX2BgYGBgYGFhYWFiYmJiYmNjY2NjZGRkZGVlZWVlZmZmZmZnZ2dnZ2hoaGhoaGhoaWlpaWlpaWlpaWlpaWlpWlpbW1tbW1xcXFxcXV1dXV1eXl5eXl5fX19fX2BgYGBgYWFhYWFiYmJiYmNjY2NjZGRkZGVlZWVlZmZmZmZnZ2dnZ2doaGhoaGhoaGhoaWlpaWlpaWlpaWlpWlpaW1tbW1xcXFxcXV1dXV1eXl5eXl5fX19fX2BgYGBgYWFhYWFiYmJiYmNjY2NjZGRkZGRlZWVlZmZmZmZmZ2dnZ2dnaGhoaGhoaGhoaGhoaWlpaWlpaWlpWlpaWltbW1xcXFxcXV1dXV1eXl5eXl5fX19fX2BgYGBgYWFhYWFiYmJiYmNjY2NjZGRkZGRlZWVlZWZmZmZmZ2dnZ2dnZ2hoaGhoaGhoaGhoaGhoaGlpaWlpWlpaWltbW1tcXFxcXV1dXV1eXl5eXl5fX19fX2BgYGBgYWFhYWFiYmJiYmNjY2NjZGRkZGRlZWVlZWZmZmZmZ2dnZ2dnZ2doaGhoaGhoaGhoaGhoaGhoaGhoWlpaWltbW1tcXFxcXV1dXV1eXl5eXl9fX19fX2BgYGBgYWFhYWFiYmJiYmNjY2NjZGRkZGRlZWVlZWZmZmZmZmdnZ2dnZ2doaGhoaGhoaGhoaGhoaGhoaGhoWlpaWltbW1tcXFxcXV1dXV1eXl5eXl9fX19fX2BgYGBgYWFhYWFiYmJiYmNjY2NjZGRkZGRlZWVlZWZmZmZmZmdnZ2dnZ2dnaGhoaGhoaGhoaGhoaGhoaGhoWlpaWltbW1xcXFxcXV1dXV1eXl5eXl9fX19fYGBgYGBgYWFhYWFiYmJiYmNjY2NjZGRkZGRlZWVlZWZmZmZmZmZnZ2dnZ2dnZ2hoaGhoaGhoaGhoaGhoaGhoWlpaW1tbW1xcXFxcXV1dXV1eXl5eXl9fX19fYGBgYGBhYWFhYWFiYmJiYmNjY2NjZGRkZGRlZWVlZWVmZmZmZmZnZ2dnZ2dnZ2doaGhoaGhoaGhoaGhoaGhoWlpaW1tbW1xcXFxcXV1dXV1eXl5eXl9fX19fYGBgYGBhYWFhYWJiYmJiYmNjY2NjZGRkZGRlZWVlZWVmZmZmZmZnZ2dnZ2dnZ2dnaGhoaGhoaGhoaGhoaGhoWlpbW1tbW1xcXFxcXV1dXV1eXl5eXl9fX19fYGBgYGBhYWFhYWJiYmJiYmNjY2NjZGRkZGRlZWVlZWVmZmZmZmZmZ2dnZ2dnZ2dnaGhoaGhoaGhoaGhoaGhoW1tbW1tbXFxcXFxcXV1dXV1eXl5eXl9fX19fYGBgYGBhYWFhYWJiYmJiY2NjY2NjZGRkZGRlZWVlZWVmZmZmZmZmZ2dnZ2dnZ2dnZ2hoaGhoaGhoaGhoaGhoW1tbW1tbXFxcXFxdXV1dXV1eXl5eXl9fX19fYGBgYGBhYWFhYWJiYmJiY2NjY2NjZGRkZGRlZWVlZWVmZmZmZmZmZ2dnZ2dnZ2dnZ2hoaGhoaGhoaGhoaGhoW1tbW1tcXFxcXFxdXV1dXV1eXl5eXl9fX19fYGBgYGBhYWFhYWJiYmJiY2NjY2NjZGRkZGRlZWVlZWVmZmZmZmZmZ2dnZ2dnZ2dnZ2doaGhoaGhoaGhoaGhoW1tbW1tcXFxcXFxdXV1dXV1eXl5eXl9fX19fYGBgYGBhYWFhYWJiYmJiY2NjY2NjZGRkZGRlZWVlZWVmZmZmZmZmZmdnZ2dnZ2dnZ2doaGhoaGhoaGhoaGhoW1tbW1xcXFxcXFxdXV1dXV5eXl5eXl9fX19fYGBgYGBhYWFhYWJiYmJiY2NjY2NkZGRkZGRlZWVlZWVmZmZmZmZmZmdnZ2dnZ2dnZ2doaGhoaGhoaGhoaGhoW1tbXFxcXFxcXFxdXV1dXV5eXl5eXl9fX19fYGBgYGBhYWFhYWJiYmJiY2NjY2NkZGRkZGRlZWVlZWVmZmZmZmZmZmdnZ2dnZ2dnZ2doaGhoaGhoaGhoaGhoW1tcXFxcXFxcXFxdXV1dXV5eXl5eXl9fX19fYGBgYGFhYWFhYWJiYmJiY2NjY2NkZGRkZGRlZWVlZWVmZmZmZmZmZmdnZ2dnZ2dnZ2doaGhoaGhoaGhoaGhoW1tcXFxcXFxcXFxdXV1dXV5eXl5eX19fX19gYGBgYGFhYWFhYmJiYmJiY2NjY2NkZGRkZGRlZWVlZWVmZmZmZmZmZmdnZ2dnZ2dnZ2doaGhoaGhoaGhoaGhoXFxcXFxcXFxcXF1dXV1dXV5eXl5eX19fX19gYGBgYGFhYWFhYmJiYmJjY2NjY2NkZGRkZGRlZWVlZWVmZmZmZmZmZmdnZ2dnZ2dnZ2doaGhoaGhoaGhoaGhoXFxcXFxcXFxcXF1dXV1dXV5eXl5eX19fX19gYGBgYGFhYWFhYmJiYmJjY2NjY2NkZGRkZGRlZWVlZWVmZmZmZmZmZmdnZ2dnZ2dnZ2doaGhoaGhoaGhoaGhoXFxcXFxcXFxcXF1dXV1dXV5eXl5eX19fX19gYGBgYGFhYWFhYmJiYmJjY2NjY2NkZGRkZGRlZWVlZWVmZmZmZmZmZmdnZ2dnZ2dnZ2doaGhoaGhoaGhoaGhoW1tcXFxcXFxcXF1dXV1dXV5eXl5eX19fX19gYGBgYGFhYWFhYmJiYmJjY2NjY2RkZGRkZGVlZWVlZWVmZmZmZmZmZmdnZ2dnZ2dnZ2doaGhoaGhoaGhoaGhoW1tcXFxcXFxcXFxdXV1dXV5eXl5eX19fX19gYGBgYGFhYWFhYmJiYmJjY2NjY2RkZGRkZGVlZWVlZWVmZmZmZmZmZmdnZ2dnZ2dnZ2hoaGhoaGhoaGhoaGhoW1tbXFxcXFxcXFxdXV1dXV5eXl5eX19fX19gYGBgYGFhYWFhYmJiYmJjY2NjY2RkZGRkZGVlZWVlZWVmZmZmZmZmZmdnZ2dnZ2dnZ2hoaGhoaGhoaGhoaGhoW1tbW1xcXFxcXFxdXV1dXV5eXl5eX19fX19gYGBgYGFhYWFiYmJiYmNjY2NjY2RkZGRkZGVlZWVlZWVmZmZmZmZmZmdnZ2dnZ2dnZ2hoaGhoaGhoaGhoaGhoW1tbW1tcXFxcXFxdXV1dXV5eXl5eX19fX19gYGBgYGFhYWFiYmJiYmNjY2NjZGRkZGRkZWVlZWVlZWVmZmZmZmZmZmdnZ2dnZ2dnZ2hoaGhoaGhoaGhoaGlpW1tbW1tcXFxcXFxdXV1dXV5eXl5eX19fX19gYGBgYGFhYWFiYmJiYmNjY2NjZGRkZGRkZWVlZWVlZWVmZmZmZmZmZ2dnZ2dnZ2dnaGhoaGhoaGhoaGhoaWlpW1tbW1tbXFxcXFxdXV1dXV5eXl5eX19fX19gYGBgYWFhYWFiYmJiYmNjY2NjZGRkZGRkZWVlZWVlZWZmZmZmZmZmZ2dnZ2dnZ2dnaGhoaGhoaGhoaGlpaWlpW1tbW1tbXFxcXFxdXV1dXV5eXl5eX19fX19gYGBgYWFhYWFiYmJiYmNjY2NkZGRkZGRkZWVlZWVlZWZmZmZmZmZmZ2dnZ2dnZ2dnaGhoaGhoaGhoaWlpaWlpWlpbW1tbW1xcXFxcXV1dXV5eXl5eX19fX19gYGBgYWFhYWFiYmJiY2NjY2NkZGRkZGRlZWVlZWVlZWZmZmZmZmZmZ2dnZ2dnZ2dnaGhoaGhoaGhpaWlpaWlpWlpaW1tbW1xcXFxcXV1dXV5eXl5eX19fX19gYGBgYWFhYWFiYmJiY2NjY2NkZGRkZGRlZWVlZWVlZWZmZmZmZmZmZ2dnZ2dnZ2doaGhoaGhoaGhpaWlpaWlpWlpaWltbW1tcXFxcXV1dXV5eXl5eX19fX19gYGBgYWFhYWFiYmJiY2NjY2RkZGRkZGRlZWVlZWVlZWZmZmZmZmZmZ2dnZ2dnZ2doaGhoaGhoaGlpaWlpaWlpWlpaWltbW1tcXFxcXV1dXV5eXl5eX19fX19gYGBgYWFhYWFiYmJiY2NjY2RkZGRkZGVlZWVlZWVlZWZmZmZmZmZmZ2dnZ2dnZ2doaGhoaGhoaGlpaWlpaWlpWlpaWlpbW1tcXFxcXV1dXV5eXl5eX19fX19gYGBgYWFhYWFiYmJiY2NjY2RkZGRkZGVlZWVlZWVlZWZmZmZmZmZnZ2dnZ2dnZ2doaGhoaGhoaWlpaWlpaWlpWVlaWlpbW1tcXFxcXV1dXV5eXl5eX19fX19gYGBgYWFhYWJiYmJiY2NjY2RkZGRkZWVlZWVlZWVlZmZmZmZmZmZnZ2dnZ2dnZ2doaGhoaGhoaWlpaWlpaWlpWVlaWlpbW1tcXFxcXV1dXV5eXl5eX19fX19gYGBgYWFhYWJiYmJiY2NjY2RkZGRkZWVlZWVlZWVlZmZmZmZmZmZnZ2dnZ2dnZ2doaGhoaGhoaWlpaWlpaWlp"}, "dR": {"x0": 501, "y0": 363, "w": 90, "h": 169, "d": "4+Pj4+Pj4+Pj4+Pj4+Pj4+Pj4+PUxbmwqaSfnJmWlJGPjYyKiYeGhYSDgoGBgH9/fn5+fX18fHt7e3t6enp6enp6enp6e3t7e3t7e3p5d3VxbWdfVUg4JRIA4+Pj4+Pj4+Pj4+Pj4+Pj4+Pj4+PUxbmwqaSfnJmWlJGPjYyKiYeGhYSDgoGBgH9/fn5+fX18fHt7e3t6enp6enp6enp6e3t7e3t7e3p5d3VxbWdfVUg4JRIA4+Pj4+Pj4+Pj4+Pj4+Pj4+Pj4+PUxrqxqqSgnJmWlJKQjoyKiYeGhYSDgoGBgIB/f39+fn19fHx7e3t6enp6enp6ent7e3t7e3t7e3p5d3VybWdgVUg4JRIA4+Pj4+Pj4+Pj4+Pj4+Pj4+Pj4+PVx7uyq6WhnZqXlJKQjoyKiYeGhYSDgoKBgYCAgH9/fn59fXx8e3t7enp6enp7e3t7e3t8fHx7e3p5eHVybmhgVkk4JhIA4uLi4uLi4uLi4uLi4uLi4uLi4uLVx7yzrKainpqXlZKQjoyKiYeGhYSDgoKCgYGBgIB/f35+fXx8e3t7e3t7e3t7e3t7fHx8fHx8e3t6eHVybmhgVkk5JhIA4+Pj4+Pj4+Pj4+Pj4+Pj4+Pj4+PVyL20raeinpuYlZORjoyKiYeGhISDg4KCgoKBgYCAf39+fn18fHt7e3t7e3t8fHx8fHx8fHx8fHt6eHZzbmhhV0o5JhIA5OTk5OTk5OTk5OTk5OTk5OTk5OTVyL61rqijn5yZlpORj42LiYeGhISDg4ODgoKCgoGBgIB/fn19fHx7e3t7fHx8fX19fX18fX19fHt6eXZzb2lhV0o5JhIA5ubm5ubm5ubm5ubm5ubm5ubm5ubVyb+2r6mkoJyZlpSRj42LiYeGhYSEg4ODg4ODgoKCgYCAf359fXx8fHx8fX19fX19fX19fX19fXx7eXdzb2liV0o6JxIA4+Pj4+Pj4+Pj4+Pj4+Pj4+Pj4+PVysC3sKqloZ2al5SSj42LiYiGhYWEhISEhISEg4ODgoGBgH9+fX18fH19fn5+fn9+fn5+fn5+fXx7eXd0b2piWEs6JxIA4uLi4uLi4uLi4uLi4uLi4uLi4uLWysC4saumop6al5WSkI6MioiHhoaFhYWFhYWEhISEg4OCgYB/f359fX5+f39/gICAgH9/f39/fn18end0cGpiWEs6JxIA4eHh4eHh4eHh4eHh4eHh4eHh4eHWy8G5sqyno5+bmJWSkI6Mi4mIh4eGhoaGhoaFhYWFhISDg4KBgH9/f3+AgIGBgYGBgYGBgIB/f358enh1cGpjWUw7JxMA4ODg4ODg4ODg4ODg4ODg4ODg4ODWy8K6s62opKCcmJWTkI6Ni4qJiIiHh4eHh4eHhoaGhoWFhIODgoKBgYGCgoKCg4OCgoKCgYGAgH59e3h1cWtjWUw7KBMA4ODg4ODg4ODg4ODg4ODg4ODg4ODWzMK7tK+qpaGdmZaTkY+NjIuKiYmIiIiIiIiIiIiHh4eGhoWFhISEhISEhISEhISEhISDg4KBgH9+fHl1cWtkWk08KBMA4ODg4ODg4ODg4ODg4ODg4ODg4ODWzMO8trCrp6KempaUkZCOjYyLioqJiYmJiYmJiYmJiYiIiIeHh4aGhoaGhoaGhoaGhYWFhIOCgYB+fHl2cWxkW048KBMA4ODg4ODg4ODg4ODg4ODg4ODg4ODWzcS9t7KtqaSgm5iVkpCPjYyMi4uKioqKioqKioqKioqKioqJiYmJiYmIiIiIiIiHh4eGhYWEgoF/fXp2cmxlW049KRMA4ODg4ODg4ODg4ODg4ODg4ODg4ODWzcS+ubSwq6ahnZmVk5GPjo2MjIuLi4uLi4uLi4yMjIyMjIyMjIyLi4uLi4qKioqJiYiHh4aFg4KAfXp3cm1lXE89KRMA39/f39/f39/f39/f39/f39/f39/WzcW/urayraijnpqXlJKQj46NjYyMjIyMjIyNjY2Njo6Ojo6Ojo6Ojo6NjY2MjIuLioqJiIeGhIOBfnt3c21mXE8+KRMA39/f39/f39/f39/f39/f39/f39/XzsW/u7e0r6mkn5uYlZORkI+Ojo2NjY2NjY6Ojo+Pj5CQkJCQkJCQkJCQj4+Ojo2NjIuKiYiHhYOBf3x4c25mXVA+KhMA39/f39/f39/f39/f39/f39/f39/XzsbAu7i0r6qloJyZlpOSkI+Pjo6Ojo6Ojo+PkJCQkZGSkpOTk5OTk5KSkpGQkI+Ojo2Mi4mIhoSCf3x4dG5nXVA/KhMA39/f39/f39/f39/f39/f39/f39/XzsbAu7ezr6qmoZ2al5STkZCQj4+Pj4+PkJCQkZGSkpOUlJWVlZWVlZWUlJOSkpGQj46NjIuJh4WDgH15dG9nXlE/KhMA39/f39/f39/f39/f39/f39/f39/XzsfAu7ezr6umop6bmJWTkpGQkJCQkJCQkZGSkpOTlJWVlpeXl5eXl5eWlpWUlJOSkZCPjYyKiIaEgX56dW9oXlFAKxQA3t7e3t7e3t7e3t7e3t7e3t7e3t7Xz8fBu7ezr6uno5+cmZaUk5KRkZGQkZGRkpKTk5SVlZaXl5iYmJiYmJiYl5eWlZSUkpGQj42LiYeFgn56dXBoX1JAKxQA3t7e3t7e3t7e3t7e3t7e3t7e3t7Xz8jBvLezr6uno6CcmZeVlJOSkpGRkZKSkpOUlZWWl5eYmJmZmpqampqZmZiXl5aVlJORkI6Ni4iGg397dnBpX1JBKxQA3t7e3t7e3t7e3t7e3t7e3t7e3t7Xz8jCvLezr6unpKCdmpiWlJOTkpKSkpKTk5SVlZaXmJiZmpqam5ubm5uampmZmJiWlZSTkY+OjImHg4B8d3FqYFNBLBQA39/f39/f39/f39/f39/f39/f39/Xz8jCvbi0sKyopKGem5iXlZSUk5OTk5OUlJWWlpeYmZmampubnJycnJybm5uampmYlpWUkpGPjYqHhIF8d3FqYVRCLBQA4eHh4eHh4eHh4eHh4eHh4eHh4eHXz8jDvrm0sKyppaKfnJqYlpWUlJOTk5SUlZaWl5iZmZqbm5ycnJ2dnZ2cnJybm5qZmJaVlJKQjouIhYF9eHJrYVRCLBQA5OTk5OTk5OTk5OTk5OTk5OTk5OTXzsjDvrq1sa2ppqOgnZuZl5aVlJSUlJSVlpaXmJmZmpubnJydnZ2dnp6dnZ2cnJuamZiWlZORj4yJhoJ+eXJrYlVDLRQA6Ojo6Ojo6Ojo6Ojo6Ojo6Ojo6OjYzsjEv7q2sq6qp6ShnpyamJeWlZWVlZWWlpeYmJmam5ucnZ2dnp6enp6enp6dnZybmpmYlpSSj42Kh4N+eXNsYlVDLRQA5OTk5OTk5OTk5OTk5OTk5OTk5OTXz8nEv7u2sq6rqKWin52bmZiXlpWVlZaWl5iYmZqbm5ydnZ6enp+fn5+fn5+enp2cm5qZl5WTkI2Lh4N/enNsYlZELRQA4ODg4ODg4ODg4ODg4ODg4ODg4ODX0MrEwLu3s6+sqKWjoJ6cmpmXlpaWlpaXl5iZmpubnJ2dnp6fn5+goKCgoKCfn56dnJuamJaTkY6LiIR/enRsY1ZELhQA3t7e3t7e3t7e3t7e3t7e3t7e3t7X0crFwLu3s7CsqaakoZ+dm5mYl5eXl5eYmJmam5ucnZ2enp+foKCgoKGhoaGgoJ+fnpybmZaUkY+LiIR/enRtY1ZFLhUA3t3d3d3d3d3d3d3d3d3d3d3d3d3X0cvFwLy4tLCtqqeloqCenJuZmJiXmJiZmZqbm5ydnZ6en5+goKGhoaGhoaGhoaGgn56cmpeVko+LiIR/enRtY1dFLhUA3t7e3t7e3t3d3d3d3d3d3d3d3d3X0szGwby4tLGuq6imo6GfnpybmpmZmZmampucnJ2dnp+foKCgoaGhoqKioqKioqKhoJ+dm5mWko+Lh4N/enRtZFdFLhUA7t7e3t7e3t7e3t7c3Nzc3Nzc3NzX0szGwby4tLGuq6mnpaOhn56cm5uampqbm5ycnZ6en5+goKGhoaKioqOjo6Ojo6OioqGfnZqXk4+LhoJ+enRuZFdGLhUA7u3e3t7e3t7e3t7e3t7e3Nzc3NzX0szHwr25tbGvrKqopqSioZ+enZycnJycnJ2dnp6fn6CgoaGioqKjo6OjpKSkpKSko6Khn5yZlI+JhIB9eXRuZVhGLxUA7u7t6d7e3t7e3t7e3t7e3t7b29vX0s3Hwr25tbKvraupp6WkoqGgn56enZ2dnp6en5+goKGhoaKioqOjo6SkpKSlpaWlpKSjoZ6blY6Hgn98eXVuZVhGLxUA7u7t6+np6d7e3t7e3t7e3t7e3tvW0s3Iw725tbKwrqyqqKelpKOhoaCfn5+fn5+goKChoaGioqKjo6OkpKSkpaWlpaampaWko6Cclo2EgH17eXVvZllHLxUA7u7t7evp6enq6t7e3t7e3t7e3trW0c3Iw765trOxr62rqqinpaSjoqKhoaCgoKGhoaGhoqKio6OjpKSkpKWlpaampqampqalpKKel42Cf317eXVvZllHLxUA7u7t7evr6enp6erq6ure3t7e3trW0czIw7+7t7WysK6tq6qop6alpKOjoqKioqKioqKio6Ojo6SkpKSlpaWlpqampqenp6ampKKemZCHgn98eXVvZllHMBUA7u7u7e3r6+np6enq6urq6t7e3tnU0MzIxMC8uba0srCurKuqqKempaWkpKOjo6Ojo6Ojo6SkpKSkpKWlpaWmpqanp6enp6empKKfmpOMhoF+enVvZllIMBUA7u7u7e3r6+vp6enp6erq6urq3tjSzsvHxMG+uri1s7Gvrqyrqqmop6ampaWlpKSkpKSkpKSkpaWlpaWlpqampqanp6enp6ampKKfm5WPiYSAe3ZvZlpIMBUA7u7u7e3t6+vr6enp6enp6urq3tbQzMrHxcK/vLm3tLKxr66sq6qpqKinpqampqWlpaWlpaWlpaWlpaWmpqampqenp6enp6alpKGfm5aRjIeBfHZvZlpIMBUA7u7u7e3t6+vr6+np6enp6eno3NPOy8nHxcLAvbq4trSysK+urKuqqqmoqKenp6ampqampqampqampqampqamp6enp6enpqalo6Gem5eTjomDfXdvZlpJMRYA7u7u7u3t7evr6+vp6enp6eni2dLOy8nHxcPAvru5t7WzsbCvrqysq6qpqaioqKinp6enp6ampqampqampqamp6enp6enpqWko6GenJiUj4qEfndwZ1pJMRYA7u7u7u3t7evr6+vr6Onp6eTe19LOy8nHxcPBv7y6uLa0s7Gwr66trKuqqqmpqaioqKiop6enp6ampqampqamp6enp6empqWkoqGenJmVkIuFfndwZ1tJMRYA7u7u7u3t7e3r6+vr6+jo5uDb1tHOy8nHxcPBv727ube1tLKxsK+urayrq6qqqqmpqamoqKinp6empqampqampqampqampaWkoqGenJmVkIuFf3hwZ1tKMhYA7u7u7u7t7e3q6+vr6+vo497Z1dHOy8nHxcPBv727ubi2tLOysa+vrq2srKurqqqqqqmpqKiop6enpqampqampqampqampaSjoqGfnJmVkYyGf3hwZ1tKMhYA7u7u7u7t7e3q6uvr6evl4NzY1NHOy8nHxcPBwL68uri3tbSzsbCvrq6trKyrq6urqqqpqaiop6enpqampqampqampqalpaSjoqGfnJmWkYyGf3hwaFtKMhYA8O7u7u7t7e3s6urr6efj39rX09DOy8nHxcPBwL68urm3trWzsrGwr66ura2srKurq6qqqaiop6enpqampqampqampqWlpaSjoqGfnJqWkYyGgHhxaFxLMhYA8O7u7u7t7e3s6uro5uPg3dnW09DOy8nHxcPBwL68u7m4trW0s7KxsK+urq2trKyrq6qqqamop6enpqampqampaWlpaWlpKSjoqGfnZqWkoyGgHlxaFxLMxYA8PDu7u7t7O3s6ujm5OHe29jV0tDNy8nHxcPBwL69u7q4t7a0s7KxsLCvrq2trKyrq6qqqamop6empqampaWlpaWlpaWlpKSjoqGfnZqWko2HgHlxaV1MMxYA8PDu7u7t7Ovp6Obk4t/d2tfV0tDNy8nHxcPBwL69u7q5t7a1tLOysbCvr66traysq6qqqaiop6empqWlpaWlpaWlpaWlpKSjoqGfnZqXko2HgHlyaV1MNBYA8PDu7ezr6ujn5uTi4N7b2dfU0s/Ny8nHxcPBwL69u7q5uLa1tLOysbCwr66traysq6qqqaiop6ampaWlpaSkpKWlpaWkpKSjoqGfnZuXko2HgXlyaV5NNBcA7e3s6+rp6Obl5OLg3tza2NbU0c/Ny8jGxcPBwL69vLq5uLe2tLOysrGwr66uraysq6qqqainp6alpaWkpKSkpKSkpKSkpKSjoqGgnZuXk42HgXpyal5NNBcA6+vq6ejn5uXj4uDf3dva2NXT0c/NysjGxMPBwL69vLq5uLe2tbSzsrGwr6+uraysq6qqqainp6alpaSkpKSkpKSkpKSkpKSjoqGgnpuXk46IgXpyal9ONRcA6eno5+bl5OPi4N/e3NrZ19XT0c7MysjGxMPBwL69vLq5uLe2tbSzsrGwr6+uraysq6qpqainpqalpKSjo6OjpKSkpKSkpKSjoqGgnpuYk46IgXpzal9ONRcA5ubm5eTj4uHg397c29nY1tTS0M7MysjGxMPBwL69vLu5uLe2tbSzsrGwsK+uraysq6qpqainpqWlpKOjo6Ojo6SkpKSkpKSjo6GgnpuYlI6Ignpza19PNhcA5OTk4+Li4eDf3t3b2tnX1dTS0M7MysjGxMPBwL69vLu5uLe2tbSzsrGxsK+uraysq6qpqainpqWkpKOjo6Ojo6SkpKSkpKSjo6KgnpyYlI6Igntza2BPNhcA4uLi4eHg4N/e3dza2djW1dPRz87MysjGxMPBwL69vLu5uLe2tbSzsrGxsK+ura2sq6qpqainpqWkpKOjo6Ojo6SkpKSkpKSjo6KgnpyYlI+Jgntza2BPNhcA4ODg4N/f3t7d3Nva2NfW1NLRz83LysjGxMPBwL69vLu5uLe2tbSzsrGxsK+ura2sq6qpqainpqWlpKOjo6OjpKSkpKSkpKSjo6KgnpyYlI+Jgnt0a2BPNhcA39/f3t7e3d3c29rZ2NbV09LQz83LycjGxMPBwL69vLu5uLe2tbSzsrKxsK+ura2sq6qpqainpqWlpKSko6OkpKSkpKSkpKSko6KgnpyYlI+Jg3x0bGBPNhcA3d3d3d3d3Nzb2tnY19bU09HQzs3LycjGxMPBwL69vLu5uLe2tbSzsrKxsK+urq2sq6qpqainpqalpaSkpKSkpKSkpaWlpKSko6KgnpyZlI+Kg3x0bGBQNhcA3Nzc3Nzc29va2tnY1tXU0tHPzszLycjGxMPBwL+9vLq5uLe2tbSzsrKxsK+urq2sq6qpqainpqalpaWkpKSkpKWlpaWlpaSko6KgnpyZlZCKg3x0bGFQNhcA29vb29vb29ra2djX1tXT0tHPzszLycjGxMPCwL+9vLq5uLe2tbSzsrKxsK+vrq2sq6qqqainp6ampaWlpaWlpaWlpaWlpaSko6KgnpyZlZCKhH11bGFQNhcA29vb29vb2trZ2NjX1dTT0tDPzczLycjGxcPCwL+9vLq5uLe2tbSzsrKxsLCvrq2srKuqqainp6ampqWlpaWlpaWlpaWlpaSko6Kgn5yZlZCKhH11bGFQNhcA29vb2tra2tnZ2NfW1dTS0dDPzczKycjGxcPCwL+9vLq5uLe2tbSzs7KxsbCvrq2trKuqqaiop6empqampqampqampqWlpaWko6Kgn5yZlZCLhH11bWFQNhcA29va2tra2dnY19bV1NPS0c/OzczKycjGxcTCwb++vLu5uLa2tbSzs7KxsbCvr66trKuqqamop6enpqampqampqampqalpaWko6Khn5yZlZCLhX12bWFQNxcA2tra2trZ2djX19bV1NPR0M/OzczKycjHxcTCwb++vLu5uLe2tbS0s7KysbCwr66trKurqqmoqKenp6enpqampqampqampaWko6Khn5yZlZGLhX52bWFQNxcA2tra2tnZ2NjX1tXU09LR0M/OzcvKycjHxsTDwcC+vbu6uLe2tbW0s7OysbGwr66urayrqqmpqKinp6enp6enp6enpqampqWko6Khn5yZlZGLhX52bWFQNxgA2tra2dnY2NfW1dTT0tHQz87NzMvKycjHxsTDwsC/vby6ubi3trW0tLOysrGwsK+urayrq6qpqaioqKenp6enp6enp6ampqWlpKKhn5yZlpGLhX52bWJQNxgA2dnZ2djY19bV1dTT0tHQz87NzMvKycjHxsXDwsC/vry7uri3tra1tLSzsrGxsK+ura2sq6qqqamoqKioqKenp6enp6empqWlpKOhn5yZlZGLhX52bWJRNxgA2dnY2NjX1tXV1NPS0dDQz87NzMvKycjHxsXEwsG/vr27urm4t7a2tbSzs7KxsLCvrq2srKuqqqmpqaioqKioqKenp6enpqalpKOhn5yZlZGLhX52bWJRNxgA2NjY19bW1dTU09LR0dDPzs3NzMvKycjHxsXEw8HAv728u7q5uLe2tbW0s7KysbCvrq6trKurqqqpqamoqKioqKiop6enpqalpKOhn5yZlZCLhX52bWJRNxgA19fX1tXU1NPT0tHR0M/Pzs3MzMvKycjHxsXEw8LAv769vLq5uLi3trW0tLOysbCwr66trayrq6qqqampqaioqKioqKenp6alpKOin52ZlZCKhH52bmJRNxgA1tbV1NTT09LS0dHQz8/Ozs3My8vKycjHxsXEw8LBwL69vLu6ubi3tra1tLOzsrGwr66uraysq6uqqqmpqamoqKioqKenp6ampaOioJ2ZlI+Jg312bmJRNxgA1NTU09LS0dHR0NDPz87Ozc3My8vKycjHx8bFxMLBwL++vby7urm4t7a1tbSzsrGxsK+ura2sq6uqqqqpqampqKioqKenp6ampaSioJ2ZlI6HgXx2bmNRNxgA09PS0dHQ0NDQ0M/Pzs7OzczMy8vKycjIx8bFxMPCwb++vby7urm4uLe2tbS0s7KxsK+urq2srKurqqqpqampqKioqKenp6ampaSioJ2Zk42Gf3p2bmNRNxgA0dHR0NDPz8/Pz8/Ozs7NzczMy8rKycjIx8bFxMPCwcC/vr28u7q5uLe2trW0s7KxsLCvrq2trKurqqqqqampqKioqKenp6ampaSioJ2Zk4yEfXp2b2NRNxgA0NDQz8/Pz87Ozs7Ozs3NzMzLy8rKycjIx8bFxMPCwcC/vr28u7q5uLi3trW0s7KysbCvrq2trKyrq6qqqampqKioqKenp6alpaOioJ2Zk4yFf3p2b2NSNxgAz8/Pzs7Ozs7Ozs7Nzc3NzMzLy8rKycjIx8bGxcTDwsHAv769vLu6ubi3trW0tLOysbCvrq6trKyrq6qqqampqKioqKenpqalpKOhn5yYk42HgXx2bmNSOBgAzs7Ozs7Ozs7Nzc3Nzc3MzMzLy8rKycnIx8bGxcTDwsHAv769vLu6ubi3tra1tLOysbCvr66trKyrq6qqqampqKiop6enpqalpKOhn5yYk46Jg312bmNSOBgAzs7Ozs3Nzc3Nzc3NzczMzMvLy8rKycnIx8fGxcTDwsHAv769vby7urm4t7a1tLOysbCvr66trKyrq6qqqampqKiop6enpqWlo6KgnpuYlI+KhH53bmNSOBgAzc3Nzc3Nzc3Nzc3NzMzMzMvLy8rKycnIx8fGxcTEw8LBwL++vby7urm4t7a1tLOysbCvr66trKyrq6qqqampqKiop6empqWko6KgnpuYlI+KhX53bmNSOBgAzc3Nzc3Nzc3Nzc3MzMzMzMvLy8rKycnIyMfGxsXEw8LBwL++vby7urm4t7a1tLOysbCvr66trKyrq6qqqamoqKinp6ampaWko6GfnZuYlJCLhX53bmNSOBgAzc3Nzc3Nzc3NzczMzMzMy8vLy8rKycnIyMfGxsXEw8PCwcC/vr27urm4t7a1tLOysbCvr66trKyrqqqpqamoqKinp6ampaSjoqGfnZqXlI+LhX53bmNSOBgAzc3Nzc3Nzc3NzMzMzMzMy8vLysrKycnIyMfHxsXFxMPCwcC/vr28u7q4t7a1tLOysbCvrq6trKurqqqpqaioqKenpqalpaSjoqCenJqXk4+LhX53bmNSOBgAzc3Nzc3Nzc3MzMzMzMzMy8vLy8rKycnIyMfHxsbFxMPCwcC/vr28u7q5t7a1tLOysbCvrq2trKurqqqpqaiop6enpqalpKOioaCenJqXk4+KhX53b2NSOBgAzc3Nzc3Nzc3MzMzMzMzMy8vLy8rKycnJyMjHx8bFxMTDwsHAvr28u7q5uLa1tLOysbCvrq2srKuqqqmpqKiop6empqWlpKOioZ+enJmWk4+KhX53b2NSOBgAzc3Nzc3Nzc3MzMzMzMzMy8vLy8rKysnJyMjHx8bFxcTDwsHAv768u7q5uLa1tLOysbCvrq2sq6uqqqmpqKinp6empqWkpKOioJ+dm5mWk4+KhX53b2NSOBgAzc3Nzc3Nzc3NzMzMzMzMy8vLy8rKysnJyMjIx8bGxcTDwsHAv769u7q5uLe1tLOysbCvrq2sq6qqqamoqKinp6ampaWko6KhoJ+dm5mWk4+KhX53b2RTORgAzc3Nzc3Nzc3NzMzMzMzMy8vLy8rKysnJycjIx8fGxcXEw8HAv769u7q5uLe1tLOysa+urayrq6qpqamoqKenp6ampaSko6KhoJ6dm5mWko6KhX53b2RTORgAzc3Nzc3Nzc3NzczMzMzMzMvLy8rKysnJycjIx8fGxsXEw8LBv769vLq5uLa1tLOysK+urayrqqqpqaioqKenpqalpaSjo6KhoJ6dm5iVko6KhH53b2RTORgAzc3Nzc3Nzc3Nzc3MzMzMzMvLy8rKysrJycjIyMfGxsXEw8LBv769vLq5uLa1tLOxsK+urayrqqmpqaiop6enpqalpaSjoqGgn56cmpiVko6KhH53b2RTORgAzMzNzc3Nzc3Nzc3NzMzMzMvLy8vKysrJycnIyMfHxsXEw8LBwL69vLq5uLa1tLKxsK+urayrqqmpqKiop6empqWlpKSjoqGgn56cmpiVko6KhH53b2RTORgAzMzMzc3Nzc3Nzc3NzMzMzMvLy8vKysrJycnIyMfHxsXEw8LBwL69vLq5t7a1tLKxsK+urayrqqmpqKiop6empqWlpKOjoqGgn52cmpeVko6JhH53b2RTORgAzMzMzM3Nzc3Nzc3NzMzMzMvLy8vKysrKycnJyMjHxsbFxMLBwL69vLq5t7a1s7KxsK+urayrqqqpqKinp6empqWkpKOioqGgnp2bmZeUkY6JhH53b2RTORgAzMzMzMzNzc3Nzc3NzMzMzMvLy8vKysrKycnJyMjHx8bFxMPBwL69u7q4t7a0s7KxsK+urayrqqqpqKinp6ampaWkpKOioaCfnp2bmZeUkY6JhH54b2RTORgAzMzMzMzMzc3Nzc3NzMzMzMvLy8vKysrKycnJyMjHx8bFxMPBwL69u7q4t7W0s7Kxr66urayrqqqpqainp6ampaWko6OioaCfnpybmZeUkY2JhH54b2RTORgAy8vMzMzMzM3Nzc3MzMzMy8vLy8vKysrKycnJyMjIx8bFxMPBwL68u7m4trW0srGwr66trayrqqqpqainp6ampaWko6KioaCfnpybmZaUkY2JhH54b2RTORgAy8vLy8zMzMzMzMzMzMzMy8vLy8vKysrKysnJycjIx8bFxMPBwL68urm3trWzsrGwr66trayrq6qpqainp6ampaSko6KhoKCenZyamJaUkY2JhH94cGRUORgAy8vLy8vLzMzMzMzMzMzLy8vLy8vKysrKysnJycjIx8bGxMPBv728uri3tbSzsrGwr66trayrq6qpqaiop6ampaSko6KhoJ+enZyamJaTkI2JhH94cGVUOhkAysrLy8vLy8vMzMzMy8vLy8vLy8rKysrKysnJycjIx8bFxMLBv727ubi2tbSysbCwr66trayrq6qpqaiop6ampaSjo6KhoJ+enZuamJaTkI2JhH94cGVUOhkAysrKysrLy8vLy8vLy8vLy8vLysrKysrKysnJycjIx8bFxMLAvry6ube1tLOysbCvr66trKyrq6qpqaiop6ampaSjoqKhoJ+dnJuZl5WTkI2JhH94cGVUOhkAycnKysrKysvLy8vLy8vLy8vKysrKysrKysnJycjIx8bFw8G/vbu5uLa1s7KxsbCvrq6trKyrq6qpqaiop6alpaSjoqGgn56dnJqZl5WTkI2JhH94cGVUOhkAycnJycrKysrKysvLy8vLysrKysrKysrKycnJycjIx8bFw8G/vbu5t7W0s7KxsK+vrq6trKyrq6qpqaiop6alpaSjoqGgn56dnJqZl5WSkIyJhH94cGVUOhkAycnJycnJysrKysrKysrKysrKysrKysrKycnJycjIx8bEwsC+vLq4trSzsrGxsK+vrq2trKyrq6qpqaiop6alpKSjoqGgn56cm5qYlpSSj4yIhH94cGVUOhkAyMjIycnJycrKysrKysrKysrKysrKysnJycnJyMjHx8XEwsC+u7m3tbOysrGwsK+urq2trKyrqqqpqaiop6alpKOioaCfnp2cm5mYlpSSj4yIhH94cGVUOhkAyMjIyMnJycnJycrKysrKysrKysrJycnJycnJyMjHxsXEwsC9u7i2tLOysbGwr6+urq2trKurqqqpqainp6alpKOioaCfnp2cmpmYlpSSj4yIhH54cGVUOhkAyMjIyMjJycnJycnJycnJycnJycnJycnJycnIyMfHxsXDwb+9uri2tLOysbCwr6+ura2srKurqqqpqKinpqalpKOioaCfnp2bmpmXlpSRj4yIhH54cGVUOhkAx8fIyMjIycnJycnJycnJycnJycnJycnJyMjIx8fGxsTDwb+8uri2tLOysbCwr6+ura2srKurqqmpqKinpqWko6KioaCfnZybmpiXlZORjouIg353b2RTORgAx8fIyMjIyMjJycnJycnJycnJycnJycnIyMjHx8bGxcTCwL68uri2tbOysbCwr66ura2sq6uqqqmpqKempqWko6KhoJ+enZybmpiXlZORjouHg353b2RTORgAx8fIyMjIyMjIyMnJycnJycnJycnJyMjIyMfHx8bFxMPBwL68uri2tbSysbGwr66ura2sq6uqqamoqKempaSko6KhoJ+enZyamZiWlZORjouHg313bmNSOBgAx8fHyMjIyMjIyMjIyMnJycjIyMjIyMjIx8fHxsXEw8LBv728uri3tbSzsrGwr66uraysq6uqqamop6ampaSjoqGgn5+dnJuamZiWlJOQjouHgn12bmNRNxgAx8fHyMjIyMjIyMjIyMjIyMjIyMjIyMjHx8fGxcXEwsHAvr27uri3tbSzsrGwr66uraysq6qqqaiop6alpKSjoqGgn56dnJuamZeWlJKQjYqHgn12bmJRNxgAx8fHx8jIyMjIyMjIyMjIyMjIyMjIx8fHx8bGxcTDwsG/vry7uri3trSzsrGwr66uraysq6qpqainpqalpKOioaGgn56dnJuZmJeVlJKQjYqGgnx2bWFQNhcAx8fHx8fIyMjIyMjIyMjIyMjIx8fHx8fGxsbFxMPCwcC/vby7ubi3trSzsrGwr66urayrq6qpqKinpqWkpKOioaCfnp2cm5qZmJeVlJKQjYqGgnx1bWFPNhcAx8fHx8fHx8jIyMjIyMjIx8fHx8fHx8bGxsXExMPCwb++vby7ubi3trWzsrGwr6+urayrqqqpqKenpqWko6KhoaCfnp2cm5qZmJaVk5GPjYqGgXx1bGBPNRcAx8fHx8fHx8fHx8fHx8fHx8fHx8fGxsbFxcTEw8LBwL++vbu6ubi3trWzsrGwr6+urayrqqqpqKempaWko6KhoJ+enZybmpmYl5aVk5GPjImGgXt0bGBONRcAx8fHx8fHx8fHx8fHx8fHx8fHxsbGxsXFxMTDwsHAv769vLu6ubi3trWzsrGwr6+urayrqqmoqKempaSjoqKhoJ+enZybmpmYl5aUk5GPjImFgXt0a19ONBcAx8fHx8fHx8fHx8fHx8fHx8bGxsbFxcXExMPCwcHAv769vLu6ubi3trSzsrGwr6+urayrqqmop6ampaSjoqGgn56dnJuampiXlpWUkpGOjImFgHt0a19NNBYAx8fHx8fHx8fHx8fHx8bGxsbGxsXFxMTDw8LCwcC/vr28u7q5uLe2tbSzsrGwr66urayrqqmop6alpKOjoqGgn56dnJuamZiXlpWUkpCOjIiFgHpzal5MMxYAx8fHx8fHx8fHxsbGxsbGxsbFxcXExMPDwsHBwL+/vr28u7q5uLe2tbSzsrGwr66trayrqqmop6alpKOioaCfnp2cm5uamZiXlpSTkpCOi4iEgHpzal5MMxYAxsbGxsbGxsbGxsbGxsbFxcXFxMTEw8PCwcHAwL++vby8u7q5uLe2tbSzsrGwr66trKuqqamop6alpKOioaCfnp2cm5qZmJeWlZSTkZCNi4iEf3pyaV1LMhUAxsbGxsbGxsbGxsbFxcXFxcTExMPDwsLBwcDAv76+vby7urq5uLe2tbSzsrGwr66trKuqqainpqWko6KhoJ+enZ2cm5qZmJeWlZSSkY+Ni4eEf3lyaVxLMhUAxsbGxsbGxsXFxcXFxcTExMTDw8PCwsHBwL+/vr69vLy7urm5uLe2tbSzsrGwr66trKuqqainpqWko6KhoJ+enZybmpmYl5aVlJOSkY+NioeDf3lyaVxKMRUAxcXFxcXFxcXFxcTExMTDw8PDwsLBwcDAv7++vr29vLu7urm4uLe2tbSzsrGwr66trKuqqainpqWko6KhoJ+enZybmpmYl5aVlJOSkI6MioeDfnlxaFxKMRQAxcXFxcXExMTExMTDw8PDwsLCwcHBwMC/v76+vb28u7u6urm4t7e2tbSzsrGwr66trKuqqainpaSjoqGgn56dnJuamZiXlpWUk5KRkI6MiYaDfnhxaFtJMBQAxMTExMTEw8PDw8PDwsLCwsHBwcDAv7++vr69vby8u7q6ubm4t7a2tbSzsrGwr66trKupqKempaSjoqGgn56dnJuamZiXlpWUk5KRj42LiYaCfnhxaFtJMBQAxMTDw8PDw8LCwsLCwcHBwcDAwL+/v76+vb28vLy7u7q6ubi4t7a2tbSzsrGwr66tq6qpqKempaSjoqCfnp2cm5qZmJeWlZSTkpGQj42LiYaCfXhwZ1tIMBQAw8PDwsLCwsHBwcHBwcDAwL+/v7++vr29vby8u7u7urq5ubi4t7a1tbSzsrGwr66sq6qpqKempKOioaCfnp2cm5qZmJeWlZSTkpGPjoyKiIWBfXdwZ1pILxMAwsLCwcHBwcDAwMDAwL+/v7++vr69vb28vLy7u7q6urm5uLi3t7a1tbSzsrGwr62sq6qpp6alpKOioaCfnp2bmpmYl5aVlJOSkZCPjYyKh4WBfHdwZ1pILxMAwcHAwMDAwL+/v7+/v76+vr69vb29vLy8u7u7urq5ubm4uLi3t7a1tbSzsrGwrq2sq6mop6alpKKhoJ+enZybmpmYl5aVlJOSkI+OjYuJh4SAfHZwZllHLhMAv7+/v7+/vr6+vr6+vr29vb29vLy8u7u7urq6ubm5ubi4uLe3t7a1tbSzsrGvrq2sqqmop6Wko6KhoJ+enZybmpmXlpWUk5KRkI6NjIqIhoOAfHZvZllHLhMAvr6+vr69vb29vb29vby8vLy8vLu7u7q6urm5ubm4uLi3t7e3tra1tbSzsrCvrqyrqqinpqWko6Kgn56dnJuamZiXlpWUk5GQj46Mi4mHhYJ/e3ZvZllGLhIAvb29vLy8vLy8vLy8vLu7u7u7u7q6urq5ubm4uLi4t7e3t7e2tra1tbSzsbCvrayrqainpaSjoqGgn56dnJuamZiWlZSTkpGPjo2LioiGhIF+enVvZVhGLRIAu7u7u7u7u7u7u7u7u7u6urq6urq5ubm5uLi4t7e3t7a2tra2tra1tbSzsbCurauqqaempaSjoaCfnp2cm5qZmJeWlZOSkZCOjYyKiYeFgoB9eXVuZVhFLRIAurq6urq6urq6urq6urq5ubm5ubm5uLi4t7e3tra2tra1tbW1tbW1tLOysa+urKupqKelpKOioaCfnp2cm5qZmJaVlJORkI+OjIuJh4aDgX57eHNtZFdFLRIAuLi4uLi4uLi4uLi4uLm5ubm4uLi4uLe3t7a2trW1tbW1tLS0tLS0tLOxsK6tq6qpp6alpKKhoJ+enZybmpmYl5aVk5KRj46Ni4qIhoSCgH15dnFsZFdELBEAt7e3t7e3t7e3t7e3t7e4uLi4uLe3t7e2trW1tbS0tLS0s7Ozs7Ozs7Kwr62sqqmopqWko6Khn56dnJuamZiXlpWUkpGQjo2MiomHhYOBfnt4dHBrY1ZELBEAtbW1tbW1tra2tra2tra3t7e3t7e2tra1tbS0tLOzs7OysrKysrKysbCvrqyrqainpaSjoqGgn56dnJuamJeWlZSTkZCPjYyLiYiGhIJ/fXp2c29pYlZELBEAtLS0tLS0tLS0tbW1tbW1tra2tra2tbW0tLOzs7KysrGxsbGxsbCwr66trKuqqKempKOioaCfnp2cm5qZmJaVlJOSkI+OjIuKiIeFg4F+e3h1cW1oYFRCKxAAsrKysrOzs7Ozs7S0tLS0tbW1tbW1tLSzs7KysbGxsLCwsLCvr6+ura2sq6mop6ako6KhoJ+enZybmpmYlpWUk5KQj46Mi4qIh4WEgoB9end0cGtlXFA+KBAAsbGxsbGxsbKysrKzs7Ozs7S0tLS0s7OysrGxsLCwr6+vrq6ura2srKuqqainpqSjoqGgn56dnJuamZiWlZSTkpCPjoyLioiHhoSDgX58eXZybmliWEs6JQ8Ar6+vr7CwsLCxsbGxsbKysrKzs7OysrGxsLCvr6+urq2traysrKuqqqmop6alpKOioaCfnp2cm5qZmJaVlJORkI+OjIuKiIeGhIOBgH17eHVxbGZfVEc2Iw8Arq6urq6ur6+vr7CwsLCxsbGxsbGxsLCwr6+urq2trKysq6uqqqmoqKempaSjoqGgn56dnZybmpmYl5WUk5GQj42Mi4qIh4aEg4KAfnx6d3NvamNbUEIyIA4ArKytra2tra6urq6vr6+vr7CwsK+vr66urq2trKyrq6qqqqmoqKenpqWko6OioaCfnp2cm5qZmZiXlZSSkZCOjYyLiYiHhYSDgYB/fXt5dnJtaGBXTD4vHg0Aq6urq6usrKytra2trq6urq6urq6ura2srKyrq6qqqamoqKenpqWlpKOioqGgn56dnJuampmYl5aVlJKRj46Ni4qJiIaFhIKBgH59e3l3dHBrZV1USTssHAwAqqqqqqqqq6urq6ysrKysrKysrKysrKurqqqpqaioqKenpqWlpKSjoqGhoJ+enZycm5qZmJeWlZSTkpCPjoyLioiHhoWDgoF/fnx7eXd1c25pYlpRRTcpGQoAqampqampqaqqqqqqq6urq6urqqqqqqmpqaiop6empqWlpKSjoqKhoJ+fnp2cm5uamZiXlpWUk5KRkI6NjIqJiIeFhIOCgH9+fHp5d3VzcGxmX1dNQTQmFwkAp6eoqKioqKipqampqampqampqaioqKinp6ampaWkpKOjoqKhoKCfnp2dnJuamZmYl5aVlJOSkZCPjoyLioiHhoWEgoGAf318enh2dHJvbGhjXFRKPjEjFQcApqampqenp6enp6enp6enp6enp6ampqalpaSko6OioqGhoKCfnp6dnJuampmYl5eWlZSTkpGQj46Mi4qJh4aFhIOCgX9+fXt5eHZ0cW9saWVgWVFHOy4hEwYApaWlpaWlpaampqampqalpaWlpaSkpKOjo6KioaGgoJ+fnp2dnJybmpmYmJeWlZWUk5KRkI+OjYuKiYeGhYSDgoGAf318e3l3dXNxbmtoZGBcVk5EOCseEQUApKSkpKSkpKSkpKSkpKSjo6Ojo6KioqGhoKCfn56enZ2cnJubmpmZmJeWlZWUk5OSkZCPjo2MiomIhoWEgoGAf35+fXt6eHd1cnBta2dkYFxXUUpANCgcEAQAoqKioqKioqKioqKioqKhoaGgoKCgn5+fnp6dnJybm5qamZmYl5eWlZWUk5KSkZCQj46NjIqJiIaFg4KBgH9+fXx7enl4dnRycG1qZ2NfW1ZRS0Q7MCUZDgQAoKCgoKCgoKCgoKCgn5+fn56enp2dnZycm5uampmZmJeXlpaVlZSTk5KRkZCPj46NjIuKiYiGhYOCgX9+fXx7enl4eHd2dHFvbGlmY19bVlFLRT01KyEXDQQAnp6enp6enp6enZ2dnZycnJubm5qampmZmZiXl5aVlZSUk5OSkpGQkI+Ojo2MjIuKiYiHhoWDgoB/fXx7enl4d3Z2dXRzcW5saWZiX1pWUUtFPjcvJh0UDAQAnJybm5ubm5ubmpqampmZmZiYl5eXlpaWlZWUk5OSkpGQkI+Pjo6NjIyLioqJiYiHhoWEg4KAf318enl4d3Z1dHNycXBvbWpoZWJeWlZRS0U/ODApIRkSCwQAmJiYmJiYl5eXl5eXlpaVlZWUlJOTk5KSkZGQj4+Ojo2MjIuLioqJiIiHh4aGhYSEg4KBf358e3l4dnV0c3NycXBvbmxqaGVjYF1ZVVFLRT84MSojHBUPCgQAlJSUlJSTk5OTk5OSkpKRkZCQkI+Pjo6NjYyMi4qKiYmIh4eGhoWEhIODgoKBgYB/f358e3l4dnV0c3JxcG9vbmxraWdlYmBdWldUUEtFPzkyKyUeGBIMCAMAj4+Pj4+Ojo6Ojo2NjY2MjIyLi4qKiYmIiIeHhoWFhIODgoKBgIB/f35+fX18e3t6enl3dnRzcXBvbm5tbWxramhmZGJfXFlWU1FOSkU/OTIsJh8ZEw4JBgIAiYmJiYmJiIiIiIiHh4eGhoaFhYWEhIOCgoGBgH9/fn19fHt7enp5eXh3d3Z2dXV0dHNxcG5ta2tqamlpaGhmZWNhXltYVVJPTElGQj04MiwmIBoVEAsHBAIAg4OCgoKCgYGBgYGAgIB/f39/fn59fXx7e3p5eXh3d3Z2dXR0c3JycXFwb29ubm1tbGtqaGdmZWRkZGRjY2JhX11aV1NQTUlGQ0A9OTUwKyYgGxYRDQkGBAIAe3t6enp5eXl5eHh4eHd3d3d2dnZ1dHRzcnJxcHBvbm5tbGxramppaWhnZ2ZmZWVkY2JhYF9eXV1dXV1cW1pZV1VSTkpHQ0A9Ojc0MCwoJB8aFhIOCggFAwIAcXFxcHBwcG9vb25ubm5tbW1sbGxramppaGhnZmZlZGRjY2JhYWBgX19eXl1dXFxbW1pZWFdWVVVUVFNTUVBOTUpHQz88OTYzMC4rJyQgHBgVEQ4MCQcFAwIAZmZlZWVlZGRkY2NjY2JiYmFhYWBgX19eXV1cXFtaWllZWFhXV1ZWVlVVVFRUU1NSUlFQT05OTUxKSUdGREJAPzw6NjMwLSsoJiQhHxsYFRIPDQsKCAYEAwIBWlpZWVlZWFhYV1dXV1ZWVlVVVVVUVFNTUlJRUVBQT09PTk5OTU1NTExMS0tLS0pKSklJSEdGREI/Ozg1MzEwLi0qKCYjIR8eHBoYFhQRDgwKCQgHBgUEAwIBTU1NTU1MTExMS0tLS0pKSkpJSUlISEhHR0dHRkZGRUVFRUVERERERENDQ0NDQ0NDQkJCQUA+OzcyLCYhHx4dHBwaGRcWFRMSEREQDgwKCAYFBQUFBAQEAwICQkJBQUFBQEBAQEA/Pz8/Pj4+Pj49PT09PT08PDw8PDw8PDw8PDs7Ozs7Ozs7Ozs7PDw7Ozk3My0mHRMLCgoKCgoKCQkICAgHBwcHBwUDAgEBAQICAwMDAwMDQkJBQUFBQEBAQEA/Pz8/Pj4+Pj49PT09PT08PDw8PDw8PDw8PDs7Ozs7Ozs7Ozs7PDw7Ozk3My0mHRMLCgoKCgoKCQkICAgHBwcHBwUDAgEBAQICAwMDAwMD"}, "bR": {"x0": 160, "y0": 367, "w": 89, "h": 165, "d": "UVFRUVFRUVFRUVFRUVFRUVFRUVFgbn6NnKu3wsrQ1dnb3d/g4eLi4uLi4eHg397e3dzb2dfTzcW7saqqtMfTzLyroaOqrqaWhXdtZV1SQisTAAAAAAAAAABRUVFRUVFRUVFRUVFRUVFRUVFRUWBufo2cq7fCytDV2dvd3+Dh4uLi4uLh4eDf3t7d3NvZ19PNxbuxqqq0x9PMvKuho6quppaFd21lXVJCKxMAAAAAAAAAAFJSUlJSUlJSUlJSUlJSUlJSUlJSYG59jZ2tusTM0tba3N7f4OHh4eHh4eDg39/e3dzc29rY1NDLw7y1sbTO1cu5p5qira6lloZ5b2deU0MtFQAAAAAAAAAAU1NTU1NTU1NTU1NTU1NTU1NTU1Ngbn6On6+8xs7U2Nvd3t/g4ODg4ODg39/e3t3d3Nvb2tjW08/KxcG/wtPTyLinnaaurKOVh3pxaWBURS8XAgAAAAAAAABWVlZWVlZWVlZWVlZWVlZWVlZWVmFvf5Chsb7I0NbZ3N7f39/f39/f397e3t7d3dzb29va2dfV09DNzM/U1M7Et6yorK6qoJSIfHNqYVVGMBkEAAAAAAAAAFpaWlpaWlpaWlpaWlpaWlpaWlpaZXGClKW0wcvS2Nvd39/f39/e3t3d3d3d3Nzc29va2trZ2NfV1NPU1dbRycC3sK6vrKadk4h9dGxjV0cyGwUAAAAAAAAAX19fX19fX19fX19fX19fX19fX19seYqbq7nFztXa3d7f39/e3t3c3Nvb29vb2tra2dnZ2djY19bV1dXU0cvDu7Wxr62oopqRh352bWRYSTQdBwAAAAAAAABlZWVlZWVlZWVlZWVlZWVlZWVlZXSElKSzwMrS2Nze4ODf397d3Nva2dnZ2dnY2NfX19fX19bV1NPS0c7KxL22sa6sqaSfl5CHf3dvZVpKNh8JAAAAAAAAAGpqampqampqampqampqampqampqe42errzI0djc3+Dg4N/e3dza2dfX19bW1tXV1NTU09PT0tHPzczJxsK8trGtq6iloZuVjoeAeHBnW0w3IQsAAAAAAAAAbW1tbW1tbW1tbW1tbW1tbW1tbW2AlKe4xtHY3eDh4uHg397c2tnX1dTT09LR0dDQz8/Pzs3MysjGw8C9ubWwrKmnpKGdmJONh4B5cWhcTTkiDAAAAAAAAABtbW1tbW1tbW1tbW1tbW1tbW1tbYKYrsHQ2t/i4+Tj4uHf3dvZ19XT0dDOzczLy8rJycjHxsTBv7y5trSxrquopaOgnZqWko2HgXpyaV1OOyQOAAAAAAAAAGxsbGxsbGxsbGxsbGxsbGxsbGxsgJewx9ni5ebm5eTj4d/c2tfV09DNy8nIxsXEw8LBwL+8ure1sq+tq6mnpaOhn52al5SQjIeBe3NqXk88JhAAAAAAAAAAampqampqampqampqampqampqamp8kKrF3Obp6ejn5uTi39zY1dPQzcrHxMG/vry7uri3tLKvrKqnpaSioqGgnp2bmZeVko+Lh4J8dGtfUT4nEQAAAAAAAABnZ2dnZ2dnZ2dnZ2dnZ2dnZ2dnZ3mJlcDd6Orp6ejn5uPf29fT0M3JxsK+u7i2tLKwrquopaKgnp2cm5ubmpqZmZeWlZORjouHgn11bGFSPykTAAAAAAAAAGBgYGBgYGBgYGBgYGBgYGBgYGBgd4+rxt3n6erq6unn49/b1tLNycXBvbm0sK2rqKWhnpqXlZOTk5OTlJSUlZWVlJOSkY+Ni4eDfXZtYlNAKhMAAAAAAAAAWVlZWVlZWVlZWVlZWVlZWVlZWVl1k7LK3OXp6+zs6ujk39vW0MvGwb24s66ppaGdmZSPi4iHh4iJi4yNjo+QkJGRkJCPjoyKh4N+d25jVEIrFAAAAAAAAABSUlJSUlJSUlJSUlJSUlJSUlJSUnGSssvc5ens7u7s6OTg29XPycK9t7OuqKKcl5KNh4J8eXl7foGDhYeJiouMjY6Ojo6NjIqHhH94b2RVQywVAAAAAAAAAE5OTk5OTk5OTk5OTk5OTk5OTk5Oa4uwzNzl6e7w8O3p5ODa1M7Gv7iyraehmpSOiIJ8dW9rbXJ2eXx/gYSGh4mKi4uMjIyLioeEf3lwZVdELRUBAAAAAAAAT09PT09PT09PT09PT09PT09PT09og6/M3eXp7vLy7+rl4NrUzMS8tK2noZqTjIV+eHJrZWFlam5ydnl9gIKEhoeIiYqLi4qJiIWAenFmWEUuFgEAAAAAAABTU1NTU1NTU1NTU1NTU1NTU1NTU26Nsczd5eru8fLv6+bg2tPLw7qyqaKblI2FfXVvaWNdW15jaGxwdXl8f4GDhIaHiImKiomIhYB6cmZYRi8XAQAAAAAAAFtbW1tbW1tbW1tbW1tbW1tbW1tbd5WzzN3l6e3w8e/s5+DZ0srCubGnnpaPiIB3bmZgWlVTVlthZmtxdnp9gIGChIWHiImKiYiFgXpyZ1lGLxcCAAAAAAAAZWVlZWVlZWVlZWVlZWVlZWVlZWV/mbTM3eXp7e/w7+zn4dnRycG4r6Wbk4yEfHRqYFhRS0pMUlphaW91eXx/gIGChIaIiYmJiIWBe3JnWUcwGAIAAAAAAABtbW1tbW1tbW1tbW1tbW1tbW1tbYSctMzd5ert7+/v7Ojh2dHIwLeupJuSi4N7cmhdUkhBPkJKVF5nb3R5fH6AgYKEhoeJiYmIhYF7c2hZRzEYAwAAAAAAAHJycnJycnJycnJycnJycnJycnJyh520zN3l6u3v7+/s6OHZ0ci/tq2km5OLg3pxZlpNQTgzOUJOW2ZudHl8foCBg4SGh4mJiYiFgXtzaFpIMRkDAAAAAAAAcnJycnJycnJycnJycnJycnJycnKHnbTM3eXq7e/w7+zo4drRx760rKOclIyDenBkVkc7Mi8zPEhXZG50eXx/gIKEhYaIiYmJiIWBe3NoWkgyGgQAAAAAAABubm5ubm5ubm5ubm5ubm5ubm5uboWctMzd5ert8PDv7eji2tHHvbOqo5yVjIN6b2JSQzUuKy41Q1NibXR5fX+Bg4SFh4iJiYmIhYF8dGlbSTIaBAAAAAAAAGNjY2NjY2NjY2NjY2NjY2NjY2Njfpq0zN3l6u7x8vDt6OLa0ce8sqqjnJWNg3ltX08/MSknKTE/UF9rc3l9f4KDhYaHiImJiYeFgnx0aVtJMxsFAAAAAAAAUlJSUlJSUlJSUlJSUlJSUlJSUlJ1lrTN3OXq7/Lz8u7o4trRxruxqqOdlo2Dd2tcTDwuJCEkLjxNXWlyeH2AgoSFhoeIiImIh4WCfHRpW0ozGwUAAAAAAAA8PDw8PDw8PDw8PDw8PDw8PDw8PGiRtM3c5erv8/Xy7uji2tHGu7GqpJ6XjYJ2aFlJOSkdGB0pOkpaZ3F3fICChIWGh4eIiIiHhYJ8dGpcSjQcBgAAAAAAAAAhISEhISEhISEhISEhISEhISEhWoy0zdzl6u7y8/Lu6OLb0se7samknpeOgnRlVkc2JBQNFCQ3SFhlb3Z8f4KEhYWGh4eHh4eFgn11alxKNBwGAAAAAAAAAAAAAAAAAAoKCgoKCgoKCgoKCgpOiLTO3OTp7vHy8O3o4tvSx7uxqaOemI+CcmNURTMfDAEMHzNGVmNtdnt/goOEhYWGhoeHhoWCfXVqXEs1HQcAAAAAAAAAAAAAAAAAAAAAAAUFBQUFBQUFBUmGs87c5Ont8PDv7ejj29LHvLGooZyYkINzY1REMyAMAQwfM0ZWY212fH+Cg4SEhISFhoaGhYJ9dWtdSzUeBwAAAAAAAAAAAAAAAAAAAAAAAAAAAAUFBQUFR4Szzdzk6e3v7+/s6OPb0se8saeemJSRhndlVUY2JBQNFCQ3SFhlb3Z8gIKDg4ODg4SFhoaFgn12a11MNh4IAAAAAAAAAAAAAAAAAAAAAAAAAAAAAAAFBQVHg7LN3OTp7O7v7uzo49zSx7ywpp2Ti5GJemlYSDkqHRgdKTpKWmdxeH2AgoODg4KChIWGhoWDfnZrXkw2HwgAAAAAAAAAAAAAAAAAAAAAAAAAAAAAAAAACUeBsc3c5Ons7u/u7Ojj29LHu7CmnpeUkop8bFtLOy4kISQuPE1danN5fYCCg4ODg4OEhoeHhoN+dmxeTDcfCQAAAAAAAAAAAAAAAAAAAAAAAAAAAAAAAAAVSX+wzNzk6e3v8O/s6OLb0sa7sKegm5iSiX1uXk4+MSknKTE/UF9rdHp+gIKDhISEhYaHh4eGg353bF5NNx8JAAAAAAAAAAAAAAAAAAAAAAAAAAAAAAAAACBRg7DM2+Tp7fDw7+3o4tvRxrqwp6GdmJGIfXBiUkI1LisuNUNTYm11en6AgoOEhYaGh4iIiIeEf3dsX004IAkAAAAAAAAAAAAAAAAAAAAAAAAAAAAAAAAAKVmIsMvb5Ont8PHw7eji2tDFuq+oop2YkIh9cWRWRzsyLzM8SVdkbnV6fYCCg4WGh4iJiYmJh4R/d21fTjggCQAAAAAAAAAAAAAAAAAAAAAAAAAAAAAAAAY0YYywytvk6e3x8vHt6OHa0MW5r6iinZeQh31yZ1pNQTk0OUNPW2ZudHl9gIKEhYeIiYqKioqIhX94bV9OOSAJAAAAAAAAAAAAAAAAAAAAAAAAAAAAAAAAFEBqkLDJ2uPo7fDx8Ozn4dnPxLmvp6Kcl4+HfXNoXVJJQ0BES1VeZ250eHx/goSFh4mKi4uLioiFgHhtX045IQkAAAAAAAAAAAAAAAAAAAAAAAAAAAAAAAAkT3WVsMjZ4ujs7/Dv7Ofh2c/DuK6noZyWj4d+dGpgWVJNTE5UW2FobnN4e36Bg4aHiYqMjIyLiYWAeG1fTjkhCQAAAAAAAAAAAAAAAAAAAAAAAAAAAAAABTRegJqwxtfi6Ozu7+7s5+HYzsO3raagm5aPiH92bWZgW1dWWFxhZWpvc3d7foGDhYeJi4yNjYyKhoB4bV9OOCEJAAAAAAAAAAAAAAAAAAAAAAAAAAAAAAAVQ2uInbDF1uHn6+3u7evn4djOwratpZ+alZCJgnpzbGhjX15gY2dpbHBzd3p9gIOFh4mLjI2NjIqGgXltX044IQoAAAAAAAAAAAAAAAAAAAAAAAAAAAAAAilSdY2fsMPV4Ofq7Ozs6+fg2M3Btqyln5qVkIuFf3hybWllY2VoamxvcXR3en2AgoWHiYuMjY2MioaBeW1fTjghCgAAAAAAAAAAAAAAAAAAAAAAAAAAAAAhQ2N9kaCvwtTg5+nq6uvq5+DXzMC1q6SemZWRjYmDfXdybmpoaWttb3FzdXh6fX+ChIaIiouMjIyKhoF5bV9NOCEKAAAAAAAAAAAAAAAAAAAAAAAAAAAAHT9cc4WToK7B09/m6enp6urn4NbLv7Sro52ZlZKPjIeBfHdyb21tbnBxc3V2eHp9f4GDhYeJi4yMi4mGgHhtX004IQoAAAAAAAAAAAAAAAAAAAAAAAAAABk7WXGBjJagrsDS3+bp6erq6ubf1cq+s6qjnZiVko+MiIN/end0cnFxcnN1dnh5e31/gYOEhoiJiouKiYaAeG1fTTghCgAAAAAAAAAAAAAAAAAAAAAAAAIaOFZvgIqRmKGtv9He5enq6+vp5N3TyL2zqqKdmJSSj4yJhYF9enh2dXV1dnd4eXp8fX+AgoOFh4iJiomIhYB4bV9NOCEKAAAAAAAAAAAAAAABAAAAAAATKT5VbH6JkJWaoay+0d7l6Orr6uji29LHvLKpopyYlJGOjImGg4B9e3l4eHh4eHl6e3x9f4CBgoSFhoeIiIeEgHhtXk04IQoAAAAAAAAAAAAAAAEIAAAPJDlNX258h4+Tl5uhrL3P3eTo6erp5uHZ0Ma7saminJeUkY6LiYaEgoB+fHt6enp6e3t8fX5/f4CBgoOEhYaHhoR/d2xeTTghCgAAAAAAAAAAAAAAAQgVJDZKXGx4gYiOkpWYnKKru83a4+fp6ejl39jPxbqxqaKcl5OQjYuJh4WDgYB+fX18fHx8fX1+fn9/gICBgYKDhIWFg393bF5NOCEKAAAAAAAADg4TGSIsNkBMW2p4gomOkZSVl5mcoqu5ytjh5ujp5+Te1s3EurCooZuWk4+Ni4mHhYSDgYB/f35+fn5+fn9/f4CAgICAgIGCg4SCf3dsXkw4IQsAAAAAAAA6Oj5ETFVeZm13gYqQlJeXmJiZmp2iq7jH1d/k5+jm4tzVzMK5sKihm5aSj4yKiYeGhYSDgoGAgH9/f39/gICAgIB/f35+f4CCg4J+d2xeTDghCwAAAAAAAGFhZWludXuBhYqQlpmbnJybmpqbnqOqtsXT3ePm5uTh29PLwbivp6CalZKPjIqJh4aFhISDgoKBgYGBgYGBgYGAgIB/fn19f4KDgn53bF5MNyELAAAAAAAAf3+BgoWJjZGUl5qdn6Cfnp2cm5yeo6q1w9Db4eTk4t/Z0sm/tq2ln5mVkY6MiomIh4aFhISDg4KCgoKCgoKCgYGBgIB/f3+BgoOCfnZrXUw3IQsAAAAAAACSkpKSkpSWmZyeoKGioqGgnp2dnZ+jqrTBztnf4eHf3NfQx72zq6SemJSRjoyKiYiHhoaFhYSEg4ODg4ODg4OCgoKCgYGBgoOEhIJ+dmtcTDchCgAAAAAAAJ6enJqYmJqcn6Gjo6SjoqGgnp6eoKOpsr/M1tzf3tzY08zDurGpop2YlJGOjIqJiIeHhoaFhYWEhISEhISEhISDg4ODg4SEhYWFgn11aVtKNiEKAAAAAAAApKSgnZqYmp2goqOkpKSjoqCfn5+go6iwvMjT2dvb2NTOyMC3r6ihnJeTkI6MiomIh4eGhoaFhYWFhYWFhYWFhYWFhYWGhoeHh4aDfXRoWUg1IAoAAAAAAACmpqKemZaZnJ+ho6SkpKOioaCgoKGkqK64w83T19fU0MrEvLWtpqCblpOQjoyKiYiIh4eGhoaGhoaGhoaGhoaGhoaHh4iIiYmIhoN9cmZXRjUgCgAAAAAAAKamop6amJmbnqCio6Ojo6KhoaGhoqSorbW+xs3S09HMx8C5sqyln5qWk5COjIqJiYiHh4eHhoaGhoaGhoeHh4eIiImJioqKiomGgntwY1VFNCAKAAAAAAAApaWhnpuampyen6GioqOioqKioqKjpaissrrBx8vNzMjDvbexqqSfmpaSkI2MiomJiIiHh4eHh4eHh4eHh4iIiImJiouLjIyLiYaBeW5hUkMzIAkAAAAAAACjo6GenZybnJ2foKGhoqKioqKio6SmqKywtrzBxcfGxMC7ta+po56ZlZKPjYyKiomIiIiHh4eHh4eHiIiIiImJiouLjI2NjIuJhX92a15QQjMgCQAAAAAAAKGhoJ6dnZydnZ6foKGhoqKio6OkpaeprK+0uLy/wcG/vLizrqijnZmVkY+NjIqKiYiIiIiIiIiIiIiIiImJioqLjIyNjY2Ni4iEfXRpXE5BMyAJAAAAAAAAoKCfnp6dnZ2dnp+foKGhoqKjpKWmqKqsr7K1uLu8vLu5trKtp6KcmJSRj42MioqJiYiIiIiIiIiIiImJiYqKi4yNjY6OjYyKh4J7cWZaTUAyIAkAAAAAAACfn56enp6dnZ6enp+goKGio6OkpaeoqqyusbO1t7i4uLa0sKumoJuXk5COjYuLiomJiIiIiIiIiIiJiYmKiouMjI2Ojo6NjIqGgXlvZFhLPzEfCQAAAAAAAJ6enp6enp6enp6en5+goaKjpKWmp6mqrK6wsbO0tbW1s7GuqqSfmpaSkI6Ni4uKiYmJiIiIiIiIiYmJioqKi4yMjY6Ojo2LiYV/d21iVko+MB4IAAAAAAAAnZ2dnZ2dnZ2enp6fn6ChoqOkpaaoqaqsra6vsbKzs7Kxr6unop2YlJKQjo2Li4qJiYmJiIiIiImJiYmKiouLjIyNjY2NjIqHg311a2FVSTwuHAgAAAAAAACdnZ2dnZ2dnZ2enp6foKGio6Slpqipqqytrq6vsLGxsK6sqKSgm5eUkY+OjIyLioqJiYmJiIiJiYmJiYqKi4uLjIyMjIyLiYaCe3NqX1RHOy0bCAAAAAAAAJycnJ2dnZ2dnZ6enp+goKGjpKWmqKmqq6ytrq6vsK+urKmlop6alpORj46MjIuKiomJiYmJiYmJiYmJioqKi4uLi4uLi4qIhYB6cmheUkY6LBoIAAAAAAAAnJycnJycnZ2dnZ6en5+goaKjpaanqaqrrKytrq6vrqyppqOfnJiVkpCPjo2Mi4qKiYmJiYmIiYmJiYmJioqKioqKioqJiIaDf3hwZlxRRTgqGQgAAAAAAACbm5ycnJycnJ2dnZ6en6ChoqOkpqeoqaqrrK2tra2rqaekoZ2al5SSkI+OjYyLioqJiYmJiIiIiImJiYmJiYmKiYmJiIeFg4B8dm5lWlBENykYCAAAAAAAAJubm5ubnJycnJ2dnp6foKCio6SlpqipqqusrKyrqqmnpKGfnJmWlJKQj46NjIuKiomJiYiIiIiIiIiJiYmJiYmIiIeGhIKAfXhya2JZTkM2JxcIAAAAAAAAmpqbm5ubm5ycnJ2dnp6foKGio6Smp6ipqqurqqmopqSin52amJWTkpCPjo2Mi4qKiYmJiIiIiIiIiIiIiIiIh4eGhYOCf3x5dG5nX1dNQTUmFwgAAAAAAACampqam5ubm5ycnJ2dnp+foKGipKWmp6ipqqmop6akoqCdm5mXlZOSkI+OjYyLioqJiYiIiIiIh4eHh4eHh4eGhYSDgX98eHRvamNcVEtAMyUWCAAAAAAAAJmZmpqampubm5ucnJ2dnp+foKKjpKWmp6iop6alo6GfnpyamJaVk5GQj46NjIuKiYmIiIiHh4eHh4eGhoaGhYWEgoB+e3h0cGtmX1hQRz0xJBYIAAAAAAAAmZmZmZqampqbm5ucnJydnp+goaKjpKWlpqalpKOhn52cmpmXlpSTkZCPjYyLi4qJiYiIh4eHhoaGhoWFhYSEg4KAfnt4dHBsZ2FbVE1EOjAjFQgAAAAAAACYmJiZmZmampqam5ubnJydnp+foKGio6SkpKOioJ+dm5qYl5aVlJKRj46NjIuKiYmIiIeHhoaGhYWFhISDg4KBf317eHRxbGhjXVdQSUE4LiIVCAAAAAAAAJiYmJiYmZmZmpqampubm5ydnp6foKGhoqKhoaCenZuZmJeWlpSTkpCPjo2Mi4qJiIiHhoaGhYWEhIODgoKBgH59enh0cW1pZF9ZU01GPzYtIRQIAAAAAAAAl5eXl5iYmJmZmZqampqbm5ydnZ6fn6CgoJ+fnpybmZiWlpaVlJKRkI6NjIuKiYiIh4aGhYWEhIODgoGAf359fHp3dHFtaWVgW1ZQSkQ9NSwgFAgAAAAAAACWlpaXl5eYmJiZmZmZmpqam5ycnZ2enp6enZ2cm5mYl5aVlZSSkZCPjoyLiomIiIeGhYWEhIOCgoGAf359fHp4dnNwbWllYVxYUk1HQjs0Kx8SBgAAAAAAAJWVlpaWl5eXmJiYmZmZmZqam5ucnJycnJycm5qZmJeWlZSUkpGQj46NjIqJiIiHhoWEhIOCgoGAf359fHp5d3Vyb2xpZmJeWVRQSkVAOjMqHhEFAAAAAAAAlZWVlZaWlpeXl5iYmJiZmZmampqbm5ubmpqZmZiXlpWUk5KRkI+OjYyKiYiHhoaFhIOCgoGAf359fHp5d3VzcW5saWViXlpWUk1IRD86MykdDwQAAAAAAACUlJSUlZWVlpaXl5eXmJiYmJmZmZmZmZmZmJiYl5aVlJOSkZCPjo2LiomIh4aFhISDgoGAf359fHp5d3Z0cm9tamhlYl5bV1NPS0dDPjkyKBsNAgAAAAAAAJOTk5OUlJSVlZaWlpaXl5eXmJiYmJiYmJeXl5aWlZSTkpGQj42Mi4qJiIeGhYSDgoGAf359fHp5eHZ0cnBubGlnZGFeW1dUUE1JRUI9ODEnGgwBAAAAAAAAkpKSkpOTk5OUlJWVlZaWlpaXl5eXl5aWlpaVlZSUk5KRkI6NjIuKiYeGhYSDgoGAf359fHp5eHZ0c3FvbWpoZWNgXVpXVFFOS0dEQDw3MCYYCgAAAAAAAACRkZGSkpKSkpOTk5SUlZWVlZWWlpaVlZWUlJSUk5KRkY+OjYyLiYiHhoWEgoGAf359fHp5eHZ0c3FvbWtpZ2RiX1xZV1RRTktIRkI+OjUuJBYIAAAAAAAAAJGRkZGRkZGRkZKSkpOTlJSUlJSUlJSUk5OTk5KSkZCPjo2MiomIhoWEg4KAf359fHp5eHZ0c3FvbWxqZ2VjYV5bWVZTUE5LSEZDQDw3MSogEwcAAAAAAAAAkJCQkJCQkJCQkJGRkpKSk5OTk5OTkpKSkpKRkZCPj46Ni4qJh4aFg4KBf359fHp5d3Z0c3FvbmxqaGZkYl9dWlhVU1BNS0hFQ0A8ODMtJRsQBgAAAAAAAACPj4+Pj4+Pjo+PkJCRkZGRkpKRkZGRkZGRkJCPj46NjIuKiYeGhIOBgH59fHp5d3Z0c3FvbmxqaGZkYmBeXFlXVFJPTUpIRUNAPTk1LyggFw4GAAAAAAAAAI6Ojo6Ojo6Ojo6Pj4+QkJCQkJCQkJCQkI+Pj46NjYyLioiHhoSCgX99fHp5d3Z0c3FvbmxqaGZkYmFfXFpYVlRRT0xKR0VCQD05NjErJB0VDQYAAAAAAAAAjo6NjY2NjY2NjY6Ojo+Pj4+Pj4+Pj4+Ojo6NjYyLiomIh4WEgoB/fXt5d3Z0c3FvbWxqaGZkY2FfXVtZV1VTUE5MSUdFQkA9OjYyLSchGhMMBgEAAAAAAACNjY2NjYyMjI2NjY2Ojo6Ojo6Ojo6OjY2NjYyMi4qJiIeFhIKAfnx6eHZ0c3FvbWxqaGZkY2FfXVtZV1VTUU9NS0lHREJAPTo3My8qJB4YEQsGAQAAAAAAAIyMjIyMjIyMjIyMjY2NjY2NjY2NjY2MjIyLi4qKiYiGhYOCgH58end1c3FvbWxqaGZkYmFfXVtZV1VUUlBOTEpIRkRCQD07ODQwLCchGxUQCwYCAAAAAAAAi4uLi4uLi4uLjIyMjIyMjIyMjIyMjIuLi4qKiYiHhoWDgoB+e3l3dHJwbmxqaGZkYmFfXVtZV1VUUlBOTEtJSEZEQkA+Ozk2Mi4pJB4YEw4KBgIAAAAAAACLi4uLi4uLi4uLi4uLi4uLi4uLi4uLioqKiYiIh4aEg4F/fXt5dnRxb2xqaGZkYmBfXVtZV1VUUlBOTUtJSEZFQ0E/PTs5NjMwKyYhGxUQDAgFAgAAAAAAAIqKioqKioqKioqKi4uLi4uLi4qKioqJiYiIh4aFhIOBf317eHVzcG5raWdkYmBeXVtZV1VUUlBOTUtJSEZEQ0JAPj07OTc0MS0pIx4YEg0KBwQBAAAAAAAAioqKioqKioqKioqKioqKioqKiYmJiYiIh4aGhYSCgX98end1cm9tamdlY2FfXVtZV1VUUlBOTUtJSEZEQ0JAPz08Ojg2NDIvKyYgGhQPCwcFAwEAAAAAAACJiYmJiYmJiYmJiYmJiYmJiYmJiIiHh4aGhYSDgoB+fHl3dHFua2lmZGFfXVtZV1VTUlBOTUtJSEZEQ0JAPz08Ojk3NTMxLywoIx0XEQwIBgQCAAAAAAAAAImJiYmJiYmJiYmJiYiIiIiIiIiHh4aGhYSDgoF/fXt5dnNwbWpnZWJgXVtZV1VTUVBOTEtJSEZEQ0JAPz08Ojk3NjQyMC0rKCUfGRMOCgcEAwEAAAAAAAAAiIiIiIiIiIiIiIiIiIiHh4eHh4aGhYSDgoGAfnx6eHVyb2xpZmNgXltZV1VTUU9NTEpJR0ZEQ0JAPz08Ozk4NjQyMC4sKSckIBsVDwsIBQMCAQAAAAAAAACHh4eHh4eHh4eHh4eHh4eGhoaFhYSDgoGAfn17eXZ0cW5raGViX1xaV1VTUU9NS0pIR0VEQ0FAPz08Ozk4NjUzMS8tKiglIh8bFhEMCQYEAwEAAAAAAAAAAIeHh4eHh4eHhoaGhoaGhYWFhISDg4KAf317eXd1cm9tamdjYF1bWFVTUU9NS0lIRkVEQkFAPj08Ozk4NzUzMjAuKykmIyAdGhYSDgoHBQMCAQAAAAAAAAAAhoaGhoaGhoaGhYWFhYWEhIODgoKBf358enh2c3Fua2hlYl9cWVZTUU5MS0lHRkRDQkA/Pj07Ojk4NzU0MjAuLConJCEeGxgVEg8LCQYEAwIBAAAAAAAAAACFhYWFhYWFhYWEhISEg4OCgoGAf359e3l3dHJvbGlmY2BdWldVUk9MSkhHRURCQUA+PTw7OTg3NjUzMjEvLSsoJSMgHBkWFBEODAoHBQQDAQEAAAAAAAAAAISEhISEhISEhIODg4KCgYCAf359e3p3dXNwbWtoZWJfXFlWU1BNS0hGRENBQD8+PDs6OTc2NTQzMTAvLSspJyQhHhsXFRIPDQsKCAYFAwIBAQAAAAAAAAAAg4ODg4ODg4OCgoKBgYB/fn18e3l4dnRxbmxpZmNgXVpXVFFPTElHREJBPz49Ozo5ODc1NDMyMC8uLCspKCUiHxwZFhMQDgwKCQcGBQQDAgEBAAAAAAAAAACCgoKCgoKBgYGAgH9/fn18enl4dnRyb21qZ2RhXltYVVNQTUpIRUNBPz08Ozk4NzY0MzIxLy4tKyooJyUjIB0aFxQRDgwKCQgHBgUEAwICAQEAAAAAAAAAAIGBgYGAgIB/f39+fXx7enl3dnRycG1raGVjYF1aV1RRTktJRkRBPz08Ojk3NjUzMjEwLi0rKignJSMiIB0bGBUSDw0LCQgHBgUEBAMDAgEBAAAAAAAAAAAAgIB/f39+fn19fHx7eXh3dXRycG5raWZkYV5bWFVST0xJR0RCQD48Ojg3NTQyMTAuLSwqKScmJCIgHhwaGBUTEA0LCggHBgUEBAMDAgICAQEAAAAAAAAAAAB+fn19fXx7e3p6eXh2dXNycG5saWdkYl9cWVZTUE1KSEVDQD48Ojg3NTMyMC8tLCopJyYkIiEfHRsZFxUTEQ4MCggHBgUEBAMDAgICAQEBAQAAAAAAAAAAAHx8e3t6eXl4d3Z1dHNxcG5samdlYmBdWldUUU5LSUZDQT89Ojg3NTMyMC4tKykoJiQjIR8dGxkXFRQSEA4MCgkHBgUEBAMCAgICAQEBAQEAAAAAAAAAAAAAeXl5eHd3dnV0c3Jxb21samhlY2BeW1hVUk9NSkdEQj89Ozk3NTMxMC4sKiknJSMhIB4cGhgWFBIQDw0MCgkIBgUEBAMCAgIBAQEBAQEAAAAAAAAAAAAAAAB2dnZ1dHRzcnFwbm1raWhlY2FeXFlWU1FOS0hFQkA9Ozk3NTMxLy0sKigmJCIgHhwaGRcVExEPDgwLCQgHBgUEBAMCAgEBAQEBAAAAAAAAAAAAAAAAAAAAAHNzc3JxcG9ubWxqaWdlY2FfXFpXVFJPTElGQ0E+PDk3NTMxLy0rKScmJCIgHRsZFxUUEhAODQsKCQgHBgUEAwMCAgEBAQEAAAAAAAAAAAAAAAAAAAAAAAAAcHBvbm5tbGtpaGZlY2FfXFpYVVJQTUpHREE/PDo3NTMxLiwqKSclIyEfHRsYFhQSEQ8NDAsJCAcGBQQEAwMCAgEBAQAAAAAAAAAAAAAAAAAAAAAAAAAAAABsbGxramloZ2VkYmBeXFpYVVNQTktIRUI/PTo4NTMxLiwqKCYkIiAeHBoYFhQSEA4NCwoJCAcGBQQDAwICAQEBAAAAAAAAAAAAAAAAAAAAAAAAAAAAAAAAAGlpaGdmZWRjYWBeXFpXVVNQTktIRkNAPTs4NTMxLiwqJyUjIR8dGxkXFRMRDw0MCgkIBwYFBAQDAgIBAQEAAAAAAAAAAAAAAAAAAAAAAAAAAAAAAAAAAAAAZWVkY2JhYF5dW1lXVVJQTUtIRUNAPjs4NjMxLiwpJyUjIB4cGhgWFBIQDg0LCgkIBwYFBAMDAgIBAQAAAAAAAAAAAAAAAAAAAAAAAAAAAAAAAAAAAAAAAABhYWBfXlxbWlhWVFJQTUpIRUJAPTs4NjMxLiwpJyQiIB0bGRcVExEPDgwLCQgHBgUEBAMCAgEBAQAAAAAAAAAAAAAAAAAAAAAAAAAAAAAAAAAAAAAAAAAAAFxcW1pZV1ZVU1FPTUpHREE/PDo3NTMwLispJiQhHxwaGBYUEhAPDQwKCQgHBgUEAwMCAgEBAAAAAAAAAAAAAAAAAAAAAAAAAAAAAAAAAAAAAAAAAAAAAAAAV1dWVVNSUE9NS0lGQ0A+Ozg2MzEvLSsoJiMhHhwZFxUTEQ8ODAsKCQcGBgUEAwMCAgEBAAAAAAAAAAAAAAAAAAAAAAAAAAAAAAAAAAAAAAAAAAAAAAAAAABSUlFPTUxKSEZEQj88OTc0MS8tKygmJCIgHRsYFhQSEA4NCwoJCAcGBQQEAwICAQEBAAAAAAAAAAAAAAAAAAAAAAAAAAAAAAAAAAAAAAAAAAAAAAAAAAAAAExMSklHRUNBPzw6ODUyLy0rKCYkIiAeHBkXFRMRDw0MCgkIBwYGBQQDAwICAQEAAAAAAAAAAAAAAAAAAAAAAAAAAAAAAAAAAAAAAAAAAAAAAAAAAAAAAAAARkZDQT89Ozk2NDIwLSsoJiQhHx0bGRcVExEPDgwLCQgHBwYFBAQDAwICAQEAAAAAAAAAAAAAAAAAAAAAAAAAAAAAAAAAAAAAAAAAAAAAAAAAAAAAAAAAAAA+Pjs5NzUyMC4sKiglIyEfHRsZFxUTERAODAsKCAcGBgUEBAMDAgIBAQAAAAAAAAAAAAAAAAAAAAAAAAAAAAAAAAAAAAAAAAAAAAAAAAAAAAAAAAAAAAAAADU1MzEuLCooJiQiIB4cGhgWFBIRDw0MCwkIBwYGBQQDAwICAgEBAQAAAAAAAAAAAAAAAAAAAAAAAAAAAAAAAAAAAAAAAAAAAAAAAAAAAAAAAAAAAAAAAAAALS0rKCYkIiAeHRsZFxUUEhAODQwKCQgHBgUEBAMDAgIBAQEAAAAAAAAAAAAAAAAAAAAAAAAAAAAAAAAAAAAAAAAAAAAAAAAAAAAAAAAAAAAAAAAAAAAAAAAlJSMhHx0bGhgWFBMRDw4NCwoJBwYGBQQDAwICAQEBAAAAAAAAAAAAAAAAAAAAAAAAAAAAAAAAAAAAAAAAAAAAAAAAAAAAAAAAAAAAAAAAAAAAAAAAAAAAAB4eHBoYFxUUEhAPDQwLCQgHBgUEBAMCAgEBAAAAAAAAAAAAAAAAAAAAAAAAAAAAAAAAAAAAAAAAAAAAAAAAAAAAAAAAAAAAAAAAAAAAAAAAAAAAAAAAAAAAFxcVFBIREA4NDAoJCAcGBQQDAwIBAQAAAAAAAAAAAAAAAAAAAAAAAAAAAAAAAAAAAAAAAAAAAAAAAAAAAAAAAAAAAAAAAAAAAAAAAAAAAAAAAAAAAAAAAAARERAPDQwLCgkIBwYFBAMCAgEAAAAAAAAAAAAAAAAAAAAAAAAAAAAAAAAAAAAAAAAAAAAAAAAAAAAAAAAAAAAAAAAAAAAAAAAAAAAAAAAAAAAAAAAAAAAAAAwMCwoJCAgHBgUEAwICAQAAAAAAAAAAAAAAAAAAAAAAAAAAAAAAAAAAAAAAAAAAAAAAAAAAAAAAAAAAAAAAAAAAAAAAAAAAAAAAAAAAAAAAAAAAAAAAAAAACAgHBwYFBQQDAgIBAAAAAAAAAAAAAAAAAAAAAAAAAAAAAAAAAAAAAAAAAAAAAAAAAAAAAAAAAAAAAAAAAAAAAAAAAAAAAAAAAAAAAAAAAAAAAAAAAAAAAAAFBQQEAwMCAgEAAAAAAAAAAAAAAAAAAAAAAAAAAAAAAAAAAAAAAAAAAAAAAAAAAAAAAAAAAAAAAAAAAAAAAAAAAAAAAAAAAAAAAAAAAAAAAAAAAAAAAAAAAAICAgIBAQAAAAAAAAAAAAAAAAAAAAAAAAAAAAAAAAAAAAAAAAAAAAAAAAAAAAAAAAAAAAAAAAAAAAAAAAAAAAAAAAAAAAAAAAAAAAAAAAAAAAAAAAAAAAAAAAAAAAAAAAAAAAAAAAAAAAAAAAAAAAAAAAAAAAAAAAAAAAAAAAAAAAAAAAAAAAAAAAAAAAAAAAAAAAAAAAAAAAAAAAAAAAAAAAAAAAAAAAAAAAAAAAAAAAAAAAAAAAAAAAAAAAAAAAAAAAAAAAAAAAAAAAAAAAAAAAAAAAAAAAAAAAAAAAAAAAAAAAAAAAAAAAAAAAAAAAAAAAAAAAAAAAAAAAAAAAAAAAAAAAAAAAAAAAAAAAAAAAAAAAAAAAAAAAAAAAAAAAAAAAAAAAAAAAAAAAAAAAAAAAAAAAAAAAAAAAAAAAAAAAAAAAAAAAAAAAAAAAAAAAAAAAAAAAAAAAAAAAAAAAAAAAAAAAAAAAAAAAAAAAAAAAAAAAAAAAAAAAAAAAAAAAAAAAAAAAAAAAAAAAAAAAAAAAAAAAAAAAAAAAAAAAAAAAAAAAAAAAAAAAAAAAAAAAAAAAAAAAAAAAAAAAAAAAAAAAAAAAAAAAAAAAAAAAAAAAAAAAAAAAAAAAAAAAAAAAAAAAAAAAAAAAAAAAAAAAAAAAAAAAAAAAAAAAAAAAAAAAAAAAAAAAAAAAAAAAAAAAAAAAAAAAAAAAAAAAAAAAAAAAAAAAAAAAAAAAAAAAAAAAAAAAAAAAAAAAAAAAAAAAAAAAAAAAAAAAAAAAAAAAAAAAAAAAAAAAAAAAAAAAAAAAAAAAAAAAAAAAAAAAAAAAAAAAAAAAAAAAAAAAAAAAAAAAAAAAAAAAAAAAAAAAAAAAAAAAAAAAAAAAAAAAAAAAAAAAAAAAAAAAAAAAAAAAAAAAAAAAAAAAAAAAAAAAAAAAAAAAAAAAAAAAAAAAAAAAAAAAAAAAAAAAAAAAAAAAAAAAAAAAAAAAAAAAAAAAAAAAAAAAAAAAAAAAAAAAAAAAAAAAAAAAAAAAAAAAAAAAAAAAAAAAAAAAAAAAAAAAAAAAAAAAAAAAAAAAAAAAAAAAAAAAAAAAAAAAAAAAAAAAAAAAAAAAAAAAAAAAAAAAAAAAAAAAAAAAAAAAAAAAAAAAAAAAAAAAAAAAAAAAAAAAAAAAAAAAAAAAAAAAAAAAAAAAAAAAAAAAAAAAAAAAAAAAAAAAAAAAAAAAAAAAAAAAAAAAAAAAAAAAAAAAAAAAAAAAAAAAAAAAAAAAAAAAAAAAAAAAAAAAAAAAAAAAAAAAAAAAAAAAAAAAAAAAAAAAAAAAAAAAAAAAAAAAAAAAAAAAAAAAAAAAAAAAAAAAAAAAAAAAAAAAAAAAAAAAAAAAAAAAAAAAAAAAAAAAAAAAAAAAAAAAAAAAAAAAAAAAAAAAAAAAAAAAAAAAAAAAAAAAAAAAAAAAAAAAAAAAAAAAAAAAAAAAAAAAAAAAAAAAAAAAAAAAAAAAAAAAAAAAAAAAAAAAAAAAAAAAAAAAAAAAAAAAAAAAAAAAAAAAAAAAAAAAAAAAAAAAAAAAAAAAAAAAAAAAAAAAAAAAAAAAAAAAAAAAAAAAAAAAAAAAAAAAAAAAAAAAAAAAAAAAAAAAAAAAAAAAAAAAAAAAAAAAAAAAAAAAAAAAAAAAAAAAAAAAAAAAAAAAAAAAAAAAAAAAAAAAAAAAAAAAAAAAAAAAAAAAAAAAAAAAAAAAAAAAAAAAAAAAAAAAAAAAAAAAAAAAAAAAAAAAAAAAAAAAAAAAAAAAAAAAAAAAAAAAAAAAAAAAAAAAAAAAAAAAAAAAAAAAAAAAAAAAAAAAAAAAAAAAAAAAAAAAAAAAAAAAAAAAAAAAAAAAAAAAAAAAAAAAAAAAAAAAAAAAAAAAAAAAAAAAAAAAAAAAAAAAAAAAAAAAAAAAAAAAAAAAAAAAAAAAAAAAAAAAAAAAAAAAAAAAAAAAAAAAAAAAAAAAAAAAAAAAAAAAAAAAAAAAAAAAAAAAAAAAAAAAAAAAAAAAAAAAAAAAAAAAAAAAAAAAAAAAAAAAAAAAAAAAAAAAAAAAAAAAAAAAAAAAAAAAAAAAAAAAAAAAAAAAAAAAAAAAAAAAAAAAAAAAAAAAAAAAAAAAAAAAAAAAAAAAAAAAAAAAAAAAAAAAAAAAAAAAAAAAAAAAAAAAAAAAAAAAAAAAAAAAAAAAAAAAAAAAAAAAAAAAAAAAAAAAAAAAAAAAAAAAAAAAAAAAAAAAAAAAAAAAAAAAAAAAAAAAAAAAAAAAAAAAAAAAAAAAAAAAAAAAAAAAAAAAAAAAAAAAAAAAAAAAAAAAAAAAAAAAAAAAAAAAAAAAAAAAAAAAAAAAAAAAAAAAAAAAAAAAAAAAAAAAAAAAAAAAAAAAAAAAAAAAAAAAAAAAAAAAAAAAAAAAAAAAAAAAAAAAAAAAAAAAAAAAAAAAAAAAAAAAAAAAAAAAAAAAAAAAAAAAAAAAAAAAAAAAAAAAAAAAAAAAAAAAAAAAAAAAAAAAAAAAAAAAAAAAAAAAAAAAAAAAAAAAAAAAAAAAAAAAAAAAAAAAAAAAAAAAAAAAAAAAAAAAAAAAAAAAAAAAAAAAAAAAAAAAAAAAAAAAAAAAAAAAAAAAAAAAAAAAAAAAAAAAAAAAAAAAAAAAAAAAAAAAAAAAAAAAAAAAAAAAAAAAAAAAAAAAAAAAAAAAAAAAAAAAAAAAAAAAAAAAAAAAAAAAAAAAAAAAAAAAAAAAAAAAAAAAAAAAAAAAAAAAAAAAAAAAAAAAAAAAAAAAAAAAAAAAAAAAAAAAAAAAAAAAAAAAAAAAAAAAAAAAAAAAAAAAAAAAAAAAAAAAAAAAAAAAAAAAAAAAAAAAAAAAAAAAAAAAAAAAAAAAAAAAAAAAAAAAAAAAAAAAAAAAAAAAAAAAAAAAAAAAAAAAAAAAAAAAAAAAAAAAAAAAAAAAAAAAAAAAAAAAAAAAAAAAAAAAAAAAAAAAAAAAAAAAAAAAAAAAAAAAAAAAAAAAAAAAAAAAAAAAAAAAAAAAAAAAAAAAAAAAAAAAAAAAAAAAAAAAAAAAAAAAAAAAAAAAAAAAAAAAAAAAAAAAAAAAAAAAAAAAAAAAAAAAAAAAAAAAAAAAAAAAAAAAAAAAAAAAAAAAAAAAAAAAAAAAAAAAAAAAAAAAAAAAAAAAAAAAAAAAAAAAAAAAAAAAAAAAAAAAAAAAAAAAAAAAAAAAAAAAAAAAAAAAAAAAAAAAAAAAAAAAAAAAAAAAAAAAAAAAAAAAAAAAAAAAAAAAAAAAAAAAAAAAAAAAAAAAAAAAAAAAAAAAAAAAAAAAAAAAAAAAAAAAAAAAAAAAAAAAAAAAAAAAAAAAAAAAAAAAAAAAAAAAAAAAAAAAAAAAAAAAAAAAAAAAAAAAAAAAAAAAAAAAAAAAAAAAAAAAAAAAAAAAAAAAAAAAAAAAAAAAAAAAAAAAAAAAAAAAAAAAAAAAAAAAAAAAAAAAAAAAAAAAAAAAAAAAAAAAAAAAAAAAAAAAAAAAAAAAAAAAAAAAAAAAAAAAAAAAAAAAAAAAAAAAAAAAAAAAAAAAAAAAAAAAAAAAAAAAAAAAAAAAAAAAAAAAAAAAAAAAAAAAAAAAAAAAAAAAAAAAAAAAAAAAAAAAAAAAAAAAAAAAAAAAAAAAAAAAAAAAAA"}};

var FG={};
for(var k in FD){var o=FD[k],bs=atob(o.d),a=new Float32Array(bs.length);for(var i=0;i<bs.length;i++)a[i]=bs.charCodeAt(i)/250;FG[k]={x0:o.x0,y0:o.y0,w:o.w,h:o.h,a:a};}
function fg(k,X,Y){var o=FG[k],x=X-o.x0,y=Y-o.y0;if(x<0)x=0;if(y<0)y=0;if(x>o.w-1.001)x=o.w-1.001;if(y>o.h-1.001)y=o.h-1.001;
  var i=Math.floor(x),j=Math.floor(y),fx=x-i,fy=y-j,p=j*o.w+i,a=o.a;
  return (a[p]*(1-fx)+a[p+1]*fx)*(1-fy)+(a[p+o.w]*(1-fx)+a[p+o.w+1]*fx)*fy;}
['bR','cL','cR','dL','dR'].forEach(function(k){F[k]=function(r,z,g,X,Y){if(g!='bath')return null;return fg(k,X,Y);};});
window._F=F;window._P=P;window._region=region;window._X=function(){};
var SH=0.78;
var img=ctx.createImageData(W,H),D=img.data;
for(var i=0;i<D.length;i+=4){D[i]=255;D[i+1]=255;D[i+2]=255;D[i+3]=255;}
var SS=3;
function renderHalf(p,side,fn,shade){
  var x0,x1;
  if(side=='L'){x0=Math.floor(p.Lx0);x1=Math.ceil(p.LxA);}else{x0=Math.floor(p.RxA);x1=Math.ceil(p.Rx1);}
  var y0=Math.floor(p.y0),y1=Math.ceil(p.y1);
  for(var py=y0;py<y1;py++){
    for(var px=x0;px<x1;px++){
      var ar=0,ag=0,ab=0,n=0;
      for(var sy=0;sy<SS;sy++)for(var sx=0;sx<SS;sx++){
        var X=px+(sx+0.5)/SS,Y=py+(sy+0.5)/SS;
        var r=side=='L'?(p.LxA-X)/p.sL:(X-p.RxA)/p.sR;
        var z=(Y-p.y0)/p.sy;
        var g=region(r,z),c;
        if(g=='out'){c=null;}else{var t=fn(r,z,g,X,Y);c=(t===null)?null:cmap(t,shade-0.07*Math.max(0,Math.min(1,(0.3-t)/0.3)));}
        if(c===null){ar+=255;ag+=255;ab+=255;}else{ar+=c[0];ag+=c[1];ab+=c[2];}
        n++;
      }
      var o=(py*W+px)*4;D[o]=ar/n;D[o+1]=ag/n;D[o+2]=ab/n;
    }
  }
}
['a','b','c','d'].forEach(function(k){renderHalf(P[k],'L',F[k+'L'],SH);renderHalf(P[k],'R',F[k+'R'],SH);});
ctx.putImageData(img,0,0);
// ---------- outlines ----------
function X(p,side,r){return side=='L'?p.LxA-r*p.sL:p.RxA+r*p.sR;}
function Y(p,z){return p.y0+z*p.sy;}
function outline(p,side,col,lw,ocol){
  ctx.save();ctx.strokeStyle=ocol||col;ctx.lineWidth=lw||1;
  var s=side=='L'?-1:1;
  // outer box
  ctx.beginPath();ctx.rect(Math.min(X(p,side,0),X(p,side,RO)),Y(p,0),Math.abs(X(p,side,RO)-X(p,side,0)),Y(p,ZH)-Y(p,0));ctx.stroke();
  ctx.strokeStyle=col;
  // wall inner line
  ctx.beginPath();ctx.moveTo(X(p,side,RW),Y(p,0));ctx.lineTo(X(p,side,RW),Y(p,ZBB));ctx.lineTo(X(p,side,0),Y(p,ZBB));ctx.stroke();
  // bath top
  ctx.beginPath();ctx.moveTo(X(p,side,RW),Y(p,ZB));ctx.lineTo(X(p,side,RE),Y(p,ZB));ctx.stroke();
  // electrode
  ctx.beginPath();ctx.moveTo(X(p,side,RE),Y(p,0));ctx.lineTo(X(p,side,RE),Y(p,ZTC));
  for(var a=0;a<=90;a+=3){var rr=RE*Math.cos(a*Math.PI/180),zz=ZTC+RE*Math.sin(a*Math.PI/180);ctx.lineTo(X(p,side,rr),Y(p,zz));}
  ctx.stroke();
  ctx.restore();
}
outline(P.a,'L','rgba(0,0,0,0.42)',0.75);
outline(P.a,'R','rgba(0,0,0,0.4)',0.75);
['b','c','d'].forEach(function(k){outline(P[k],'L','rgba(60,60,60,0.78)',0.9,'rgba(80,80,80,0.72)');outline(P[k],'R','rgba(60,60,60,0.78)',0.9,'rgba(80,80,80,0.72)');});

// ---------- contour lines ----------
var CL=[[[469.7, 76.8], [468.4, 84.7], [466.3, 97.4], [464.2, 106], [462.4, 114], [460.7, 123.3], [456.7, 131.3], [451.3, 135.5], [446.4, 136], [442.9, 135.1], [438.9, 133.8], [435.7, 132.9], [428.6, 132.9], [426, 134.2], [423.8, 137.8], [422.4, 142.2], [421.1, 148.4], [420.2, 155.5], [419.8, 161.7], [419.6, 170], [419.3, 173.9], [418, 187.2], [416.2, 200.5], [414.4, 212.1], [412.2, 222.8], [410, 231.6], [408.2, 239.6], [408, 244.5]], [[470.7, 76.8], [470.6, 88.2], [469.1, 102.4], [467.7, 114], [467.3, 123.3], [466.9, 136.6], [465.1, 147.3], [462, 153.5], [457.5, 159.5], [451.3, 166.5], [447.3, 170.3], [445.1, 175.7], [444.6, 182.8], [445.5, 189.9], [447.3, 194.3], [450, 199.6], [454.9, 207.1], [463.8, 215.1], [472.6, 220.4], [481.5, 223.5], [493.4, 224.4]], [[472.3, 76.8], [472.7, 91.8], [473, 106], [473.4, 114], [474.3, 118.5], [477, 127], [479.5, 134], [481, 140], [482.2, 144.2], [484.2, 149.1], [487.2, 155.2], [490.4, 158.1], [493.4, 158.6]], [[476.2, 113.5], [477.6, 119], [480.2, 124], [483.5, 128], [486.8, 131.5], [489.7, 134.5], [493.4, 135.8]], [[518.3, 77.3], [519.9, 91.8], [521.6, 109.5], [522.5, 124], [523.4, 130], [524.3, 139.3], [526.5, 148], [530.5, 157.1], [535, 163.3], [537.2, 169.5], [536.7, 176.6], [535.9, 181.1], [533.2, 187.3], [527.9, 193.5], [519.4, 199.9], [509.6, 203.8], [497.9, 205.3]], [[521.2, 77.3], [523.4, 91.8], [527, 107.7], [527.9, 110], [530.5, 121.5], [534.1, 129.5], [539.4, 134.9], [545, 136.2], [548.9, 136], [554.2, 136], [557.8, 137.8], [560, 142.2], [560.6, 145.8], [560.9, 155.5], [560.4, 164.4], [559.1, 173.9], [556, 182.8], [551.5, 190.8], [546.2, 197.9], [540, 204.1], [534.1, 208.7], [519.4, 216], [504.8, 218.4], [497.9, 218.9]], [[586, 87.3], [581.7, 89.1], [579.1, 94.4], [578.4, 105.1], [578.4, 124], [578.6, 137.8], [578.2, 155.5], [576.9, 166.6], [575.5, 173.9], [572.9, 182.8], [568.4, 194.3], [563.1, 205], [559.5, 210.3], [553.3, 216.5], [546.2, 221.4], [540, 224.5], [534.1, 226.3], [519.4, 229.2], [504.8, 230.6], [497.9, 230.9]], [[474.9, 364], [473.5, 377.8], [471.3, 386.6], [468.6, 397.3], [466.9, 408.9], [462.4, 416.9], [456.2, 421.8], [450.6, 421.8], [445.7, 418.8], [440.9, 414.2], [436.4, 408.9], [432, 407.1], [428.4, 408.4], [424, 415.1], [419.5, 426.6], [415.1, 438.2], [410.7, 448]], [[478.4, 364], [477.5, 377.8], [476.6, 391.1], [476, 402], [476.2, 413.3], [477.5, 426.6], [478.4, 441.7], [478, 450], [476.6, 455], [476.2, 467.2], [478.4, 476.1], [483.7, 482.3], [490.9, 485.9], [498.4, 486.3]], [[479.6, 364], [479.5, 377.8], [479.6, 397.3], [481.2, 404.4], [483, 410], [486.4, 419.5], [490, 427.5], [494.4, 432.9], [498.4, 435.5]], [[520.8, 364.3], [520.9, 380], [521, 395], [520.6, 401], [518.4, 408.9], [515.8, 417.8], [511.3, 426.6], [506.9, 432.9], [501.6, 436]], [[522, 364.3], [522.9, 377.8], [523.8, 391.1], [524.6, 400], [525.1, 410], [524.6, 417.8], [524.6, 426.6], [526.4, 437.3], [528.2, 445], [531.7, 453.9], [533.5, 462.8], [531.7, 471.6], [526.4, 478.7], [517.5, 485], [508.7, 487.6], [501.6, 488.5]], [[529.5, 364.3], [531.7, 376], [535.3, 386.6], [539.7, 393.3], [542.4, 394.2], [546, 392], [551, 386.2], [556.3, 383.5], [562.5, 383.5], [567.9, 385.8], [572.3, 390.2], [575.4, 397.3], [577.2, 406.2], [578.1, 418.3], [578.5, 431.6], [578.1, 445], [577.2, 455], [576.3, 463.3], [574.1, 474.9], [572.8, 480.2], [569.6, 487.3], [563.4, 500.5], [556.3, 508], [548.3, 512.2], [538, 515.8], [524.6, 518.4], [511.3, 519.8], [501.6, 520.2]]];
var LB=[["64000", 418.9, 133.0, 438.9, 133.8], ["69000", 469.5, 133.5, 489.6, 134.9], ["67000", 462.0, 143.4, 482.2, 144.2], ["65000", 426.0, 190.0, 446.0, 191.0], ["31000", 540.0, 144.3, 560.6, 145.8], ["32000", 556.0, 165.2, 576.9, 166.6], ["30000", 515.4, 179.2, 535.9, 181.1], ["900", 433.8, 417.8, 445.7, 418.8], ["1000", 475.3, 426.2, 490.0, 427.5], ["950", 467.3, 441.3, 478.4, 441.7], ["7000", 502.4, 409.0, 518.9, 410.2], ["4000", 508.7, 416.4, 524.6, 417.8], ["1000", 557.2, 478.9, 572.8, 480.2]];

(function(){
  ctx.save();ctx.strokeStyle='rgba(255,255,255,0.92)';ctx.lineWidth=0.9;ctx.lineJoin='round';ctx.lineCap='round';
  CL.forEach(function(pl){ctx.beginPath();ctx.moveTo(pl[0][0],pl[0][1]);
    for(var i=1;i<pl.length-1;i++){var mx=(pl[i][0]+pl[i+1][0])/2,my=(pl[i][1]+pl[i+1][1])/2;ctx.quadraticCurveTo(pl[i][0],pl[i][1],mx,my);}
    var l=pl[pl.length-1];ctx.lineTo(l[0],l[1]);ctx.stroke();});
  ctx.font='7px "Liberation Sans"';ctx.fillStyle='#1a1a1a';ctx.textBaseline='alphabetic';
  LB.forEach(function(b){ctx.fillText(b[0],b[1],b[2]);});
  ctx.fillStyle='#ff00ff';
  LB.forEach(function(b){ctx.fillRect(b[3]-0.8,b[4]-0.8,1.6,1.6);});
  ctx.restore();
})();
// ---------- arrows ----------
function arrow(x,y,dx,dy,L,hl,hw,a1,a2){
  var n=Math.sqrt(dx*dx+dy*dy);if(n<1e-12)return;dx/=n;dy/=n;
  var x2=x+dx*L,y2=y+dy*L;
  ctx.strokeStyle='rgba(255,255,255,'+a1+')';ctx.lineWidth=0.6;
  ctx.beginPath();ctx.moveTo(x,y);ctx.lineTo(x2-dx*hl*0.5,y2-dy*hl*0.5);ctx.stroke();
  ctx.fillStyle='rgba(255,255,255,'+a2+')';
  ctx.beginPath();ctx.moveTo(x2,y2);ctx.lineTo(x2-dx*hl-dy*hw,y2-dy*hl+dx*hw);ctx.lineTo(x2-dx*hl+dy*hw,y2-dy*hl-dx*hw);ctx.closePath();ctx.fill();
}
// pts: list of [r,z]; dirf(r,z,g)->[vr,vz] (z down) or null
function glyphs(p,side,pts,dirf,L){
  var s=side=='L'?-1:1;
  pts.forEach(function(q){var r=q[0],z=q[1],g=region(r,z);if(g=='out')return;var v=dirf(r,z,g);if(!v)return;
    arrow(X(p,side,r),Y(p,z),s*v[0]*(side=='L'?p.sL:p.sR),v[1]*p.sy,L||4.6,2.0,0.9,0.6,0.92);});
}
function grid(r0,r1,dr,z0,z1,dz){var a=[];for(var z=z0;z<=z1+1e-6;z+=dz)for(var r=r0;r<=r1+1e-6;r+=dr)a.push([r,z]);return a;}
// (a) right: current density
(function(){
  var pts=[];
  // bath grid
  grid(1.6,86,5.5,79.4,236,5.63).forEach(function(q){var g=region(q[0],q[1]);if(g=='bath')pts.push(q);});
  // electrode columns
  [3.7,9.6,15].forEach(function(r){for(var z=1;z<ZTC+RE;z+=5.4){if(region(r,z)=='elec')pts.push([r,z]);}});
  // wall columns
  [92.6,97.6].forEach(function(r){for(var z=1;z<ZBB;z+=5.5)pts.push([r,z]);});
  // bottom rows
  [240.8,246.6,251.8].forEach(function(z){for(var r=3.7;r<88;r+=5.6)pts.push([r,z]);});
  glyphs(P.a,'R',pts,function(r,z,g){
    if(g=='elec')return [0,1];
    if(g=='bath'){return [bil(JRn,r,z),bil(JZn,r,z)];}
    if(g=='wall'){if(z<ZBB)return [0,-1];if(r>RW){var u=(r-RW)/(RO-RW),v=(z-ZBB)/(ZH-ZBB);return [1-u,-(1-v)];}var jr=SbotF(r)/(Math.max(r,0.5)*TB),jz=bil(Jn,r,ZBB-1)*Math.max(0,(ZH-z)/TB);return [jr,jz];}
    return null;},4.6);
})();
// (b) right: velocity (single vortex streamfunction)
(function(){
  var pb=Math.log(0.5)/Math.log(30/(ZBB-ZB));
  function psi(r,z){var rc=51.4-7*Math.max(0,Math.min(1,(z-104)/100));var pa=Math.log(0.5)/Math.log(rc/RW);
    var a=Math.pow(Math.max(0,Math.min(1,r/RW)),pa),b=Math.pow(Math.max(0,Math.min(1,(z-ZB)/(ZBB-ZB))),pb);
    var F=Math.max(1e-6,Math.sin(Math.PI*a)),G=Math.max(1e-6,Math.sin(Math.PI*b));var k=3;return Math.pow(Math.pow(F,-k)+Math.pow(G,-k),-1/k);}
  var pts=grid(3.2,86,5.6,79.5,236,5.7).filter(function(q){return region(q[0],q[1])=='bath';});
  glyphs(P.b,'R',pts,function(r,z,g){var h=0.3;var dr=(psi(r+h,z)-psi(r-h,z))/(2*h),dz=(psi(r,z+h)-psi(r,z-h))/(2*h);return [-dz,dr];},4.6);
})();
// (b) left: Lorentz force
(function(){
  var pts=grid(2.6,86,5.62,78.3,236,5.55).filter(function(q){return region(q[0],q[1])=='bath';});
  glyphs(P.b,'L',pts,function(r,z,g){var jr=bil(JRn,r,z),jz=bil(JZn,r,z);return [-jz,jr];},4.6);
})();
// ---------- colorbars ----------
var ov=document.getElementById('ov');
function el(cls,st,html){var d=document.createElement('div');d.className=cls;d.setAttribute('style',st);if(html)d.innerHTML=html;ov.appendChild(d);return d;}
function colorbar(o){
  // o: x0,x1,top,bot, ticks:[[frac,label]], minor:[frac], title, tx,ty
  el('cb','left:'+o.x0+'px;top:'+o.top+'px;width:'+(o.x1-o.x0)+'px;height:'+(o.bot-o.top)+'px');
  var h=o.bot-o.top;
  o.ticks.forEach(function(tk){var y=o.bot-tk[0]*h;
    el('tk','left:'+o.x1+'px;top:'+(y-0.2)+'px;width:3.5px');
    el('t','left:'+(o.x1+6)+'px;top:'+(y-2.8)+'px',tk[1]);
  });
  (o.minor||[]).forEach(function(f){var y=o.bot-f*h;el('tk','left:'+o.x1+'px;top:'+(y-0.2)+'px;width:2.5px');});
  el('ti','left:'+o.tx+'px;top:'+o.ty+'px',o.title);
}
function logTicks(lo,hi,labels){
  var L=Math.log10(hi/lo),t=[],m=[];
  labels.forEach(function(l){t.push([Math.log10(l[0]/lo)/L,l[1]]);});
  var e0=Math.floor(Math.log10(lo)),e1=Math.ceil(Math.log10(hi));
  for(var e=e0;e<=e1;e++)for(var d=1;d<10;d++){var v=d*Math.pow(10,e);if(v>lo*1.0001&&v<hi*0.9999)m.push(Math.log10(v/lo)/L);}
  return {ticks:t,minor:m};
}
function linTicks(lo,hi,labels){var t=[];labels.forEach(function(l){t.push([(l[0]-lo)/(hi-lo),l[1]]);});return {ticks:t,minor:[]};}
var q;
q=logTicks(1e-5,5e-4,[[5e-4,'5.0e-04'],[2e-4,'0.0002'],[1e-4,'0.0001'],[5e-5,'5e-5'],[2e-5,'2e-5'],[1e-5,'1.0e-05']]);
colorbar({x0:0.7,x1:7.2,top:79.1,bot:194.6,ticks:q.ticks,minor:q.minor,title:'B (T)',tx:1.5,ty:59.1});
q=logTicks(10,5e4,[[5e4,'5.0e+04'],[2e4,'20000'],[1e4,'10000'],[5e3,'5000'],[2e3,'2000'],[1e3,'1000'],[500,'500'],[200,'200'],[100,'100'],[50,'50'],[20,'20'],[10,'1.0e+01']]);
colorbar({x0:275.5,x1:281.8,top:79.8,bot:194.5,ticks:q.ticks,minor:q.minor,title:'j (A.m<sup>-2</sup>)',tx:276,ty:58.3});
q=linTicks(62000,72000,[[72000,'7.2e+04'],[70000,'70000'],[68000,'68000'],[66000,'66000'],[64000,'64000'],[62000,'6.2e+04']]);
colorbar({x0:335.5,x1:342,top:74.7,bot:190,ticks:q.ticks,minor:q.minor,title:'c<sub>F</sub><sup>-</sup> (mol.m<sup>-3</sup>)',tx:327,ty:53});
q=linTicks(10000,34000,[[34000,'3.4e+04'],[30000,'30000'],[25000,'25000'],[20000,'20000'],[15000,'15000'],[10000,'1.0e+04']]);
colorbar({x0:612.7,x1:618.6,top:74.6,bot:189.5,ticks:q.ticks,minor:q.minor,title:'c<sub>Ca</sub><sup>2+</sup> (mol.m<sup>-3</sup>)',tx:615,ty:52.4});
q=logTicks(1e-4,1,[[1,'1.0e+00'],[0.5,'0.5'],[0.2,'0.2'],[0.1,'0.1'],[0.05,'0.05'],[0.02,'0.02'],[0.01,'0.01'],[0.005,'0.005'],[0.002,'0.002'],[0.001,'0.001'],[0.0005,'0.0005'],[0.0002,'0.0002'],[0.0001,'1.0e-04']]);
colorbar({x0:1,x1:7.5,top:365.5,bot:480.1,ticks:q.ticks,minor:q.minor,title:'F<sub>L</sub> (N.m<sup>-3</sup>)',tx:2.8,ty:344.8});
q=logTicks(1e-6,2e-5,[[2e-5,'2.0e-05'],[1e-5,'1e-5'],[5e-6,'5e-6'],[2e-6,'2e-6'],[1e-6,'1.0e-06']]);
colorbar({x0:271.3,x1:277.8,top:365,bot:480.3,ticks:q.ticks,minor:q.minor,title:'u (m.s<sup>-1</sup>)',tx:272,ty:344.8});
q=linTicks(800,1141,[[1141,'1.1e+03'],[1100,'1100'],[1050,'1050'],[1000,'1000'],[950,'950'],[900,'900'],[850,'850'],[800,'8.0e+02']]);
colorbar({x0:340,x1:346.7,top:361.3,bot:477.5,ticks:q.ticks,minor:q.minor,title:'c<sub>O</sub><sup>2-</sup> (mol.m<sup>-3</sup>)',tx:327,ty:341.7});
q=logTicks(10,2e4,[[2e4,'2.0e+04'],[1e4,'10000'],[5e3,'5000'],[2e3,'2000'],[1e3,'1000'],[500,'500'],[200,'200'],[100,'100'],[50,'50'],[20,'20'],[10,'1.0e+01']]);
colorbar({x0:619.2,x1:625.5,top:360.2,bot:476.1,ticks:q.ticks,minor:q.minor,title:'c<sub>Fe</sub><sup>2+</sup> (mol.m<sup>-3</sup>)',tx:619,ty:339.2});
})();

</script>
</body></html>
